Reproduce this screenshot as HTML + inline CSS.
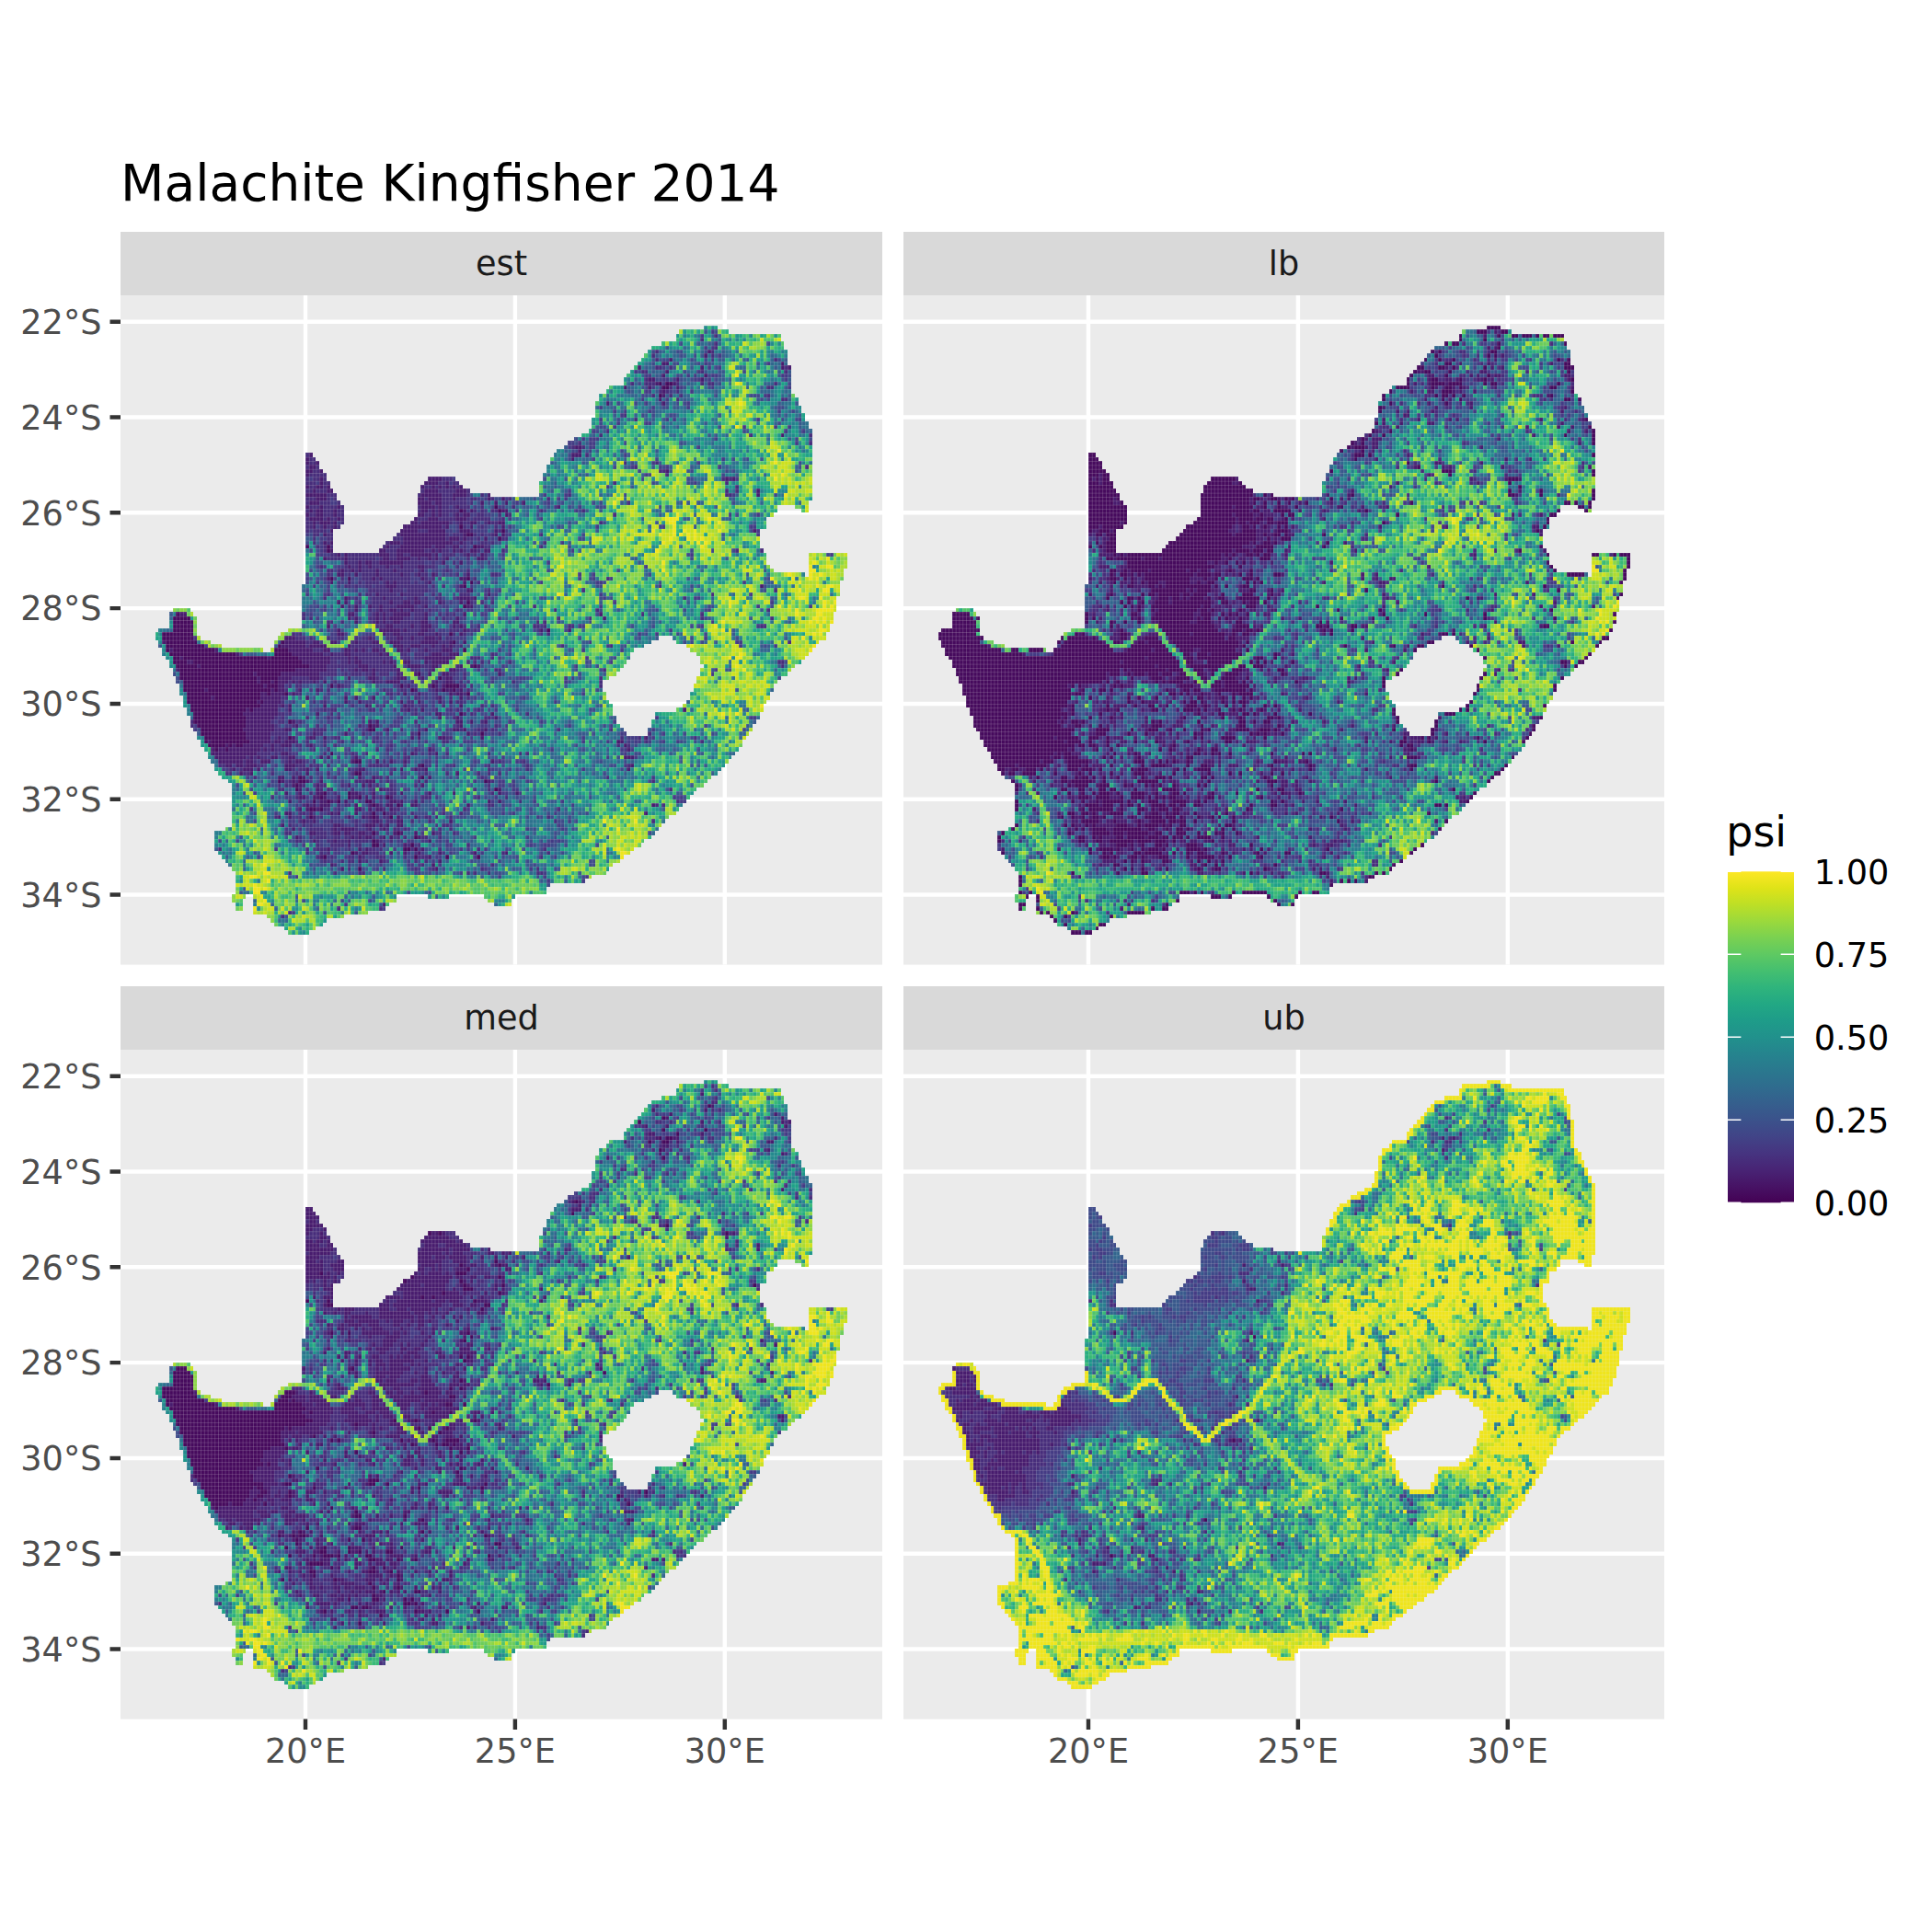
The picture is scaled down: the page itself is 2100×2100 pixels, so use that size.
<!DOCTYPE html><html><head><meta charset="utf-8"><title>Malachite Kingfisher 2014</title><style>html,body{margin:0;padding:0;background:#fff}svg{display:block}</style></head><body><svg width="2100" height="2100" viewBox="0 0 2100 2100" font-family="DejaVu Sans, Liberation Sans, sans-serif"><rect width="2100" height="2100" fill="#fff"/><defs><clipPath id="mk"><path d="M162 7h4v1h-4zM155 8h14v1h-14zM154 9h30v1h-30zM154 10h30v1h-30zM150 11h35v1h-35zM147 12h38v1h-38zM146 13h40v1h-40zM145 14h41v1h-41zM144 15h42v1h-42zM143 16h43v1h-43zM142 17h45v1h-45zM141 18h46v1h-46zM140 19h47v1h-47zM139 20h48v1h-48zM139 21h48v1h-48zM135 22h52v1h-52zM134 23h53v1h-53zM132 24h56v1h-56zM132 25h57v1h-57zM131 26h58v1h-58zM131 27h59v1h-59zM131 28h59v1h-59zM131 29h60v1h-60zM130 30h61v1h-61zM130 31h62v1h-62zM130 32h62v1h-62zM129 33h64v1h-64zM127 34h66v1h-66zM125 35h68v1h-68zM123 36h70v1h-70zM122 37h71v1h-71zM120 38h73v1h-73zM48 39h2v1h-2zM119 39h74v1h-74zM48 40h3v1h-3zM118 40h75v1h-75zM48 41h4v1h-4zM118 41h75v1h-75zM48 42h4v1h-4zM117 42h76v1h-76zM48 43h5v1h-5zM117 43h76v1h-76zM48 44h6v1h-6zM116 44h77v1h-77zM48 45h6v1h-6zM83 45h8v1h-8zM116 45h77v1h-77zM48 46h7v1h-7zM82 46h10v1h-10zM115 46h78v1h-78zM48 47h7v1h-7zM81 47h12v1h-12zM115 47h78v1h-78zM48 48h8v1h-8zM81 48h14v1h-14zM115 48h78v1h-78zM48 49h9v1h-9zM80 49h21v1h-21zM115 49h78v1h-78zM48 50h9v1h-9zM80 50h113v1h-113zM48 51h10v1h-10zM80 51h112v1h-112zM48 52h11v1h-11zM80 52h103v1h-103zM188 52h4v1h-4zM48 53h11v1h-11zM80 53h103v1h-103zM190 53h2v1h-2zM48 54h11v1h-11zM80 54h102v1h-102zM48 55h11v1h-11zM79 55h101v1h-101zM48 56h11v1h-11zM78 56h102v1h-102zM48 57h10v1h-10zM76 57h104v1h-104zM48 58h8v1h-8zM75 58h103v1h-103zM48 59h8v1h-8zM74 59h104v1h-104zM48 60h8v1h-8zM73 60h105v1h-105zM48 61h8v1h-8zM71 61h107v1h-107zM48 62h8v1h-8zM70 62h108v1h-108zM48 63h8v1h-8zM69 63h110v1h-110zM48 64h132v1h-132zM192 64h11v1h-11zM48 65h132v1h-132zM192 65h11v1h-11zM48 66h132v1h-132zM192 66h11v1h-11zM48 67h133v1h-133zM192 67h11v1h-11zM48 68h134v1h-134zM192 68h10v1h-10zM48 69h143v1h-143zM192 69h10v1h-10zM48 70h154v1h-154zM48 71h153v1h-153zM47 72h154v1h-154zM47 73h154v1h-154zM47 74h154v1h-154zM47 75h153v1h-153zM47 76h153v1h-153zM47 77h153v1h-153zM10 78h5v1h-5zM47 78h153v1h-153zM9 79h7v1h-7zM47 79h152v1h-152zM9 80h8v1h-8zM47 80h152v1h-152zM9 81h8v1h-8zM47 81h152v1h-152zM9 82h8v1h-8zM47 82h151v1h-151zM6 83h11v1h-11zM43 83h155v1h-155zM5 84h12v1h-12zM41 84h156v1h-156zM5 85h13v1h-13zM40 85h109v1h-109zM153 85h44v1h-44zM6 86h15v1h-15zM39 86h108v1h-108zM154 86h41v1h-41zM6 87h18v1h-18zM39 87h106v1h-106zM157 87h37v1h-37zM7 88h29v1h-29zM38 88h104v1h-104zM158 88h35v1h-35zM7 89h134v1h-134zM160 89h32v1h-32zM8 90h133v1h-133zM161 90h30v1h-30zM9 91h131v1h-131zM161 91h29v1h-29zM9 92h130v1h-130zM162 92h26v1h-26zM10 93h128v1h-128zM161 93h26v1h-26zM10 94h127v1h-127zM161 94h25v1h-25zM11 95h124v1h-124zM160 95h24v1h-24zM11 96h122v1h-122zM160 96h23v1h-23zM12 97h121v1h-121zM159 97h23v1h-23zM12 98h121v1h-121zM159 98h23v1h-23zM12 99h122v1h-122zM158 99h23v1h-23zM13 100h121v1h-121zM158 100h23v1h-23zM13 101h122v1h-122zM157 101h23v1h-23zM13 102h123v1h-123zM156 102h23v1h-23zM14 103h122v1h-122zM154 103h25v1h-25zM14 104h122v1h-122zM148 104h30v1h-30zM15 105h122v1h-122zM148 105h30v1h-30zM15 106h122v1h-122zM147 106h30v1h-30zM15 107h123v1h-123zM147 107h29v1h-29zM16 108h123v1h-123zM146 108h30v1h-30zM17 109h123v1h-123zM146 109h29v1h-29zM17 110h157v1h-157zM18 111h155v1h-155zM18 112h155v1h-155zM19 113h153v1h-153zM20 114h151v1h-151zM20 115h150v1h-150zM21 116h148v1h-148zM22 117h146v1h-146zM22 118h145v1h-145zM23 119h143v1h-143zM24 120h140v1h-140zM26 121h137v1h-137zM27 122h135v1h-135zM27 123h133v1h-133zM27 124h132v1h-132zM27 125h131v1h-131zM27 126h130v1h-130zM27 127h129v1h-129zM27 128h128v1h-128zM27 129h127v1h-127zM27 130h125v1h-125zM27 131h124v1h-124zM27 132h123v1h-123zM25 133h124v1h-124zM22 134h126v1h-126zM22 135h125v1h-125zM22 136h123v1h-123zM22 137h122v1h-122zM22 138h120v1h-120zM23 139h118v1h-118zM24 140h115v1h-115zM25 141h113v1h-113zM26 142h110v1h-110zM27 143h108v1h-108zM28 144h106v1h-106zM28 145h102v1h-102zM28 146h100v1h-100zM28 147h90v1h-90zM28 148h89v1h-89zM28 149h89v1h-89zM27 150h4v1h-4zM33 150h41v1h-41zM83 150h6v1h-6zM99 150h9v1h-9zM27 151h3v1h-3zM33 151h41v1h-41zM100 151h7v1h-7zM28 152h2v1h-2zM33 152h39v1h-39zM102 152h5v1h-5zM28 153h2v1h-2zM33 153h38v1h-38zM33 154h33v1h-33zM37 155h22v1h-22zM38 156h16v1h-16zM39 157h14v1h-14zM42 158h9v1h-9zM43 159h6v1h-6z"/></clipPath><pattern id="gr" width="1" height="1" patternUnits="userSpaceOnUse"><path d="M0 0H1M0 0V1" stroke="#ebebeb" stroke-width="0.2" stroke-opacity="0.4" fill="none"/></pattern></defs><text x="131" y="218.3" font-size="55" fill="#000">Malachite Kingfisher 2014</text><rect x="131.0" y="252.0" width="828.0" height="69.0" fill="#d9d9d9"/><text x="545.0" y="298.6" font-size="36.67" fill="#1a1a1a" text-anchor="middle">est</text><rect x="131.0" y="321.0" width="828.0" height="727.6" fill="#ebebeb"/><path d="M131.0 349.7h828.0M131.0 453.5h828.0M131.0 557.3h828.0M131.0 661.1h828.0M131.0 764.9h828.0M131.0 868.7h828.0M131.0 972.5h828.0M332.0 321.0v727.6M559.9 321.0v727.6M787.8 321.0v727.6" stroke="#fff" stroke-width="4.45" fill="none"/><g transform="translate(149.68,323.75) scale(3.7983,4.3250)"><g transform="translate(0,0.5)" stroke-width="1" fill="none" shape-rendering="crispEdges"><path stroke="#460a5d" d="M149 21h1m1 0h2m-3 1h2m-3 2h1m-48 28h1m-11 1h1m10 0h1m-12 4h1m11 1h1m-11 1h2m7 1h1m-56 2h1m5 0h1m41 0h1m-43 1h1m0 7h1m4 0h1m33 0h1m0 1h1m-3 1h1m0 4h1m-2 1h1m-83 2h1m-2 1h5m-5 1h6m-6 1h6m-6 1h6m101 0h1m-111 1h9m73 0h1m-83 1h9m-8 1h9m24 0h1m48 0h1m-83 1h11m21 0h1m-33 1h1m1 0h12m17 0h4m50 0h1m-85 1h19m11 0h5m-34 1h2m1 0h24m1 0h8m-36 1h4m2 0h31m-36 1h6m1 0h31m47 0h1m-85 1h33m-33 1h21m1 0h7m39 0h1m-69 1h22m1 0h5m46 0h1m-74 1h21m1 0h3m1 0h1m-27 1h23m1 0h3m15 0h1m19 0h1m8 0h1m3 0h4m-79 1h6m1 0h18m1 0h1m38 0h1m8 0h1m2 0h1m-77 1h21m2 0h1m4 0h1m51 0h1m-81 1h7m1 0h13m-21 1h20m1 0h1m-21 1h20m-20 1h16m1 0h1m-17 1h14m62 0h1m-77 1h15m-15 1h15m12 0h1m-27 1h14m35 0h1m-49 1h12m36 0h2m-50 1h13m49 0h1m17 0h1m-80 1h12m12 0h1m-25 1h1m1 0h11m-12 1h5m1 0h1m1 0h2m-8 1h1m2 0h1m29 1h1m6 2h2m17 1h1m-20 2h2m-18 1h1m34 0h1m-42 1h1m5 0h2m51 0h1m-55 1h1m-1 1h1m56 0h1m-50 1h1m6 0h1m-9 1h1m7 0h1m2 0h1m7 0h1m-22 1h1m3 0h1m2 0h1m7 0h2m0 1h1m6 0h1m-26 1h2m1 0h1m14 1h1m2 0h1m-22 1h1m17 0h1m4 0h1m-6 4h1m6 0h1m4 1h1m-13 1h1m-1 1h2m9 0h1m-3 1h2m1 0h1m-19 1h1m-9 1h1m25 0h1m8 0h1m8 0h1m-35 3h1"/><path stroke="#481c6e" d="M163 13h1m-2 1h1m-11 1h1m-3 1h2m32 0h1m-42 1h1m17 0h1m22 0h1m1 0h1m-36 1h1m-2 1h1m11 0h1m-17 1h2m6 0h1m6 0h1m-14 1h1m4 0h1m-15 1h1m6 0h1m7 0h1m-5 1h1m-1 1h1m-2 1h1m-16 1h1m15 0h1m33 8h1m-60 3h2m-1 1h1m-78 1h1m74 0h3m-79 1h1m75 0h1m-77 1h1m2 0h1m-3 1h2m-3 1h2m2 0h1m98 0h1m-104 1h1m3 1h1m30 0h4m81 0h1m1 0h1m-119 1h1m29 0h4m2 0h1m-41 1h1m2 0h2m1 0h1m26 0h1m2 0h1m1 0h1m1 0h1m1 0h1m1 0h1m-43 1h1m3 0h2m26 0h4m5 0h3m83 0h1m-130 1h6m27 0h6m3 0h4m6 0h1m76 0h1m-127 1h3m26 0h2m1 0h4m3 0h1m9 0h1m3 0h1m-56 1h3m28 0h4m1 0h2m11 0h1m3 0h1m2 0h1m4 0h1m-63 1h1m3 0h1m4 0h1m23 0h4m1 0h1m4 0h1m28 0h1m-72 1h1m1 0h2m3 0h1m24 0h2m1 0h1m1 0h1m6 0h1m1 0h1m8 0h2m-58 1h1m2 0h2m3 0h1m23 0h2m2 0h1m1 0h1m4 0h1m1 0h2m10 0h1m-57 1h4m1 0h1m2 0h1m21 0h1m3 0h3m5 0h3m-44 1h1m1 0h3m1 0h1m21 0h2m1 0h8m3 0h1m2 0h2m3 0h1m2 0h2m-55 1h1m2 0h1m2 0h1m19 0h11m1 0h1m6 0h1m8 0h1m-50 1h1m19 0h5m3 0h5m4 0h3m7 0h1m73 0h1m-124 1h1m21 0h13m5 0h1m8 0h1m1 0h1m-29 1h12m1 0h3m1 0h1m5 0h1m-47 1h1m1 0h1m16 0h3m1 0h14m2 0h1m-22 1h1m3 0h9m1 0h3m2 0h2m5 0h2m-44 1h1m13 0h2m3 0h8m2 0h1m1 0h1m3 0h1m1 0h1m2 0h2m2 0h2m-44 1h1m1 0h1m9 0h3m2 0h2m2 0h6m1 0h1m8 0h1m3 0h1m-46 1h1m5 0h1m10 0h2m2 0h4m2 0h1m2 0h1m1 0h1m2 0h1m8 0h2m-40 1h1m3 0h1m1 0h2m2 0h7m11 0h1m4 0h1m-33 1h1m2 0h1m2 0h1m4 0h1m3 0h1m4 0h2m-24 1h1m2 0h1m1 0h1m4 0h1m4 0h1m7 0h1m-25 1h2m3 0h1m5 0h1m6 0h1m4 0h1m3 0h1m9 0h1m-41 1h1m12 0h1m1 0h1m11 0h1m10 0h2m-39 1h1m4 0h1m10 0h1m1 0h1m9 0h1m9 0h1m-23 1h3m18 0h1m85 0h1m-107 1h1m21 0h2m-28 1h1m6 0h1m24 0h1m-42 1h1m10 0h1m8 0h1m12 0h3m1 0h1m-40 1h1m1 0h1m12 0h1m3 0h2m1 0h2m5 0h1m5 0h1m-35 1h1m3 0h1m3 0h1m2 0h1m4 0h5m3 0h1m11 0h2m-34 1h1m6 0h1m2 0h2m1 0h1m2 0h1m-67 1h2m46 0h2m6 0h1m1 0h1m2 0h5m4 0h1m10 0h1m38 0h1m-73 1h1m1 0h1m5 0h1m1 0h1m1 0h4m6 0h1m8 0h1m41 0h1m-72 1h1m5 0h1m1 0h1m2 0h2m6 0h2m7 0h2m-38 1h1m16 0h2m5 0h1m2 0h3m6 0h1m1 0h1m-36 1h1m11 0h6m1 0h1m4 0h2m10 0h1m21 0h1m7 0h1m-67 1h2m11 0h1m2 0h2m5 0h2m3 0h1m6 0h1m-51 1h3m21 0h1m7 0h2m2 0h1m3 0h3m1 0h1m-80 1h1m34 0h6m2 0h2m3 0h2m5 0h1m4 0h2m3 0h3m6 0h5m3 0h1m3 0h1m-53 1h7m1 0h5m6 0h1m12 0h3m2 0h3m3 0h1m2 0h1m1 0h1m-81 1h1m12 0h1m20 0h7m3 0h2m4 0h2m1 0h1m1 0h1m2 0h2m1 0h1m3 0h2m1 0h1m4 0h1m4 0h3m-62 1h1m15 0h9m2 0h1m3 0h2m8 0h1m1 0h1m12 0h3m2 0h3m-80 1h1m24 0h1m8 0h9m5 0h1m1 0h1m19 0h8m-76 1h2m31 0h8m5 0h1m1 0h2m6 0h1m1 0h1m3 0h2m4 0h1m1 0h5m-72 1h1m31 0h5m9 0h3m7 0h1m3 0h4m3 0h2m6 0h1m2 0h1m1 0h1m-87 1h1m33 0h9m8 0h1m1 0h2m1 0h1m6 0h1m9 0h1m4 0h2m-58 1h1m7 0h11m15 0h1m6 0h1m4 0h1m3 0h1m3 0h2m14 0h1m-70 1h1m5 0h4m5 0h3m8 0h1m5 0h2m6 0h3m4 0h1m6 0h2m-56 1h1m3 0h1m1 0h3m1 0h1m1 0h1m3 0h1m2 0h1m13 0h1m3 0h4m10 0h1m2 0h2m-54 1h1m3 0h2m15 0h1m19 0h1m7 0h1m1 0h1m-69 1h1m18 0h1m1 0h2m4 0h1m4 0h1m27 0h1m5 0h1m2 0h2m2 0h1m-58 1h2m1 0h4m2 0h1m31 0h1m3 0h1m8 0h1m1 0h2m-72 1h1m13 0h6m7 0h1m10 0h1m2 0h1m4 0h1m18 0h1m5 0h1m-59 1h1m1 0h5m18 0h1m3 0h1m11 0h1m4 0h1m5 0h1m2 0h1m-55 1h5m1 0h1m1 0h1m9 0h1m11 0h1m10 0h1m15 0h1m-62 1h1m1 0h7m3 0h1m33 0h1m3 0h1m74 0h1m-127 1h10m11 0h1m33 0h2m14 0h1m-71 1h8m47 0h1m4 0h1m10 0h1m-72 1h7m6 0h1m21 0h1m1 0h1m22 0h2m2 0h1m3 0h1m-69 1h8m6 0h1m21 0h2m23 0h1m-63 1h9m3 0h2m27 0h1m10 0h1m7 0h2m1 0h1m5 0h1m-69 1h7m12 0h1m8 0h1m34 0h1m-64 1h7m2 0h1m3 0h1m4 0h2m2 0h1m24 0h1m1 0h1m5 0h2m10 0h1m46 0h1m-126 1h1m11 0h6m1 0h2m1 0h3m92 0h2m-114 1h1m1 0h1m2 0h6m2 0h1m2 0h3m5 0h1m89 0h1m-119 1h1m1 0h2m1 0h9m1 0h1m1 0h1m44 0h1m56 0h1m-120 1h13m7 0h2m35 0h1m6 0h1m-64 1h9m1 0h1m1 0h1m3 0h2m3 0h2m7 0h1m1 0h1m7 0h1m76 0h3m-119 1h7m1 0h2m2 0h3m5 0h1m1 0h2m14 0h1m6 0h1m3 0h1m3 0h1m24 0h1m-77 1h2m1 0h2m1 0h3m8 0h3m35 0h1m60 0h1m-115 1h1m2 0h3m1 0h1m7 0h2m4 0h1m2 0h1m11 0h2m10 0h1m3 0h1m2 0h1m57 0h1m-112 1h1m2 0h1m15 0h1m42 0h1m-52 1h2m2 0h1m2 0h1m15 0h1m3 0h1m15 0h1m-43 1h1m2 0h1m3 0h1m3 0h1m12 0h3m32 0h1m-57 1h1m1 0h1m4 0h1m8 0h1m3 0h1m1 0h1m14 0h1m-36 1h1m4 0h1m17 0h1m33 0h1m-62 1h1m3 0h1m4 0h2m8 0h2m4 0h1m7 0h1m7 0h1m6 0h1m12 0h1m4 0h1m-63 1h2m2 0h2m1 0h1m3 0h1m3 0h2m2 0h1m1 0h1m4 0h1m-30 1h1m8 0h2m1 0h1m3 0h1m12 0h2m1 0h1m3 0h1m20 0h1m2 0h1m-56 1h1m1 0h1m1 0h3m7 0h1m3 0h1m1 0h1m2 0h2m2 0h1m2 0h2m14 0h1m52 0h1m-102 1h1m1 0h1m2 0h1m10 0h2m2 0h1m1 0h2m2 0h1m-31 1h2m5 0h1m5 0h1m1 0h1m4 0h1m82 0h1m-106 1h1m2 0h1m6 0h1m9 0h1m3 0h1m1 0h1m1 0h1m5 0h1m4 0h1m-33 1h1m2 0h1m16 0h2m5 0h2m13 0h1m-49 1h1m14 0h2m7 0h3m1 0h1m1 0h1m2 0h2m-32 1h1m11 0h1m1 0h4m4 0h1m3 0h1m-22 1h2m5 0h2m1 0h2m2 0h2m8 0h1m1 0h1m3 0h1m4 0h1m-40 1h1m15 0h1m1 0h1m1 0h2m3 0h1m1 0h1m7 0h1m-31 1h1m5 0h1m3 0h1m7 0h1m14 0h1m-24 1h1m9 0h1m5 0h1m-23 1h1m8 0h1m1 0h1m15 0h1m-20 1h1m1 0h2m6 0h1m3 0h1m3 0h1m5 0h1m9 0h1m8 0h1m-54 1h1m10 0h1m19 0h1m-21 1h1m5 0h1m16 0h1m-32 1h1m28 0h1m-27 1h1m26 0h1m-16 9h1"/><path stroke="#472d7b" d="M165 9h1m-5 1h1m3 1h1m-1 1h1m-18 1h1m15 0h1m-18 1h1m16 0h1m-17 1h1m33 0h1m-35 2h2m2 0h1m32 0h1m-42 1h2m15 0h1m23 0h1m-41 2h1m-5 1h1m3 0h3m6 0h1m6 0h1m1 0h2m17 0h1m-31 1h1m27 0h2m-33 1h1m1 0h1m2 0h1m-8 1h1m4 0h1m2 0h1m24 0h1m-27 1h1m29 0h2m-47 4h1m2 1h1m-9 3h1m-3 1h1m42 0h1m16 0h1m-67 2h1m65 0h1m-69 1h1m2 0h1m-80 2h1m79 0h1m-80 1h2m-2 1h2m88 0h1m8 0h1m-101 1h1m2 0h1m90 0h1m48 0h1m-142 1h2m97 0h2m-102 1h5m97 0h1m-104 1h1m1 0h2m1 0h1m33 0h3m77 0h1m1 0h1m-122 1h3m2 0h2m31 0h2m2 0h2m44 0h1m31 0h1m-120 1h2m2 0h1m28 0h2m1 0h1m1 0h1m1 0h1m1 0h1m79 0h1m-124 1h2m1 0h3m27 0h1m4 0h5m3 0h1m73 0h1m2 0h1m-118 1h3m23 0h1m6 0h3m4 0h1m3 0h1m24 0h1m44 0h2m-122 1h3m3 0h1m1 0h1m25 0h1m4 0h3m1 0h3m1 0h2m4 0h1m4 0h1m10 0h1m-70 1h1m3 0h3m2 0h1m26 0h1m2 0h7m1 0h1m44 0h1m-92 1h3m1 0h4m1 0h1m21 0h1m4 0h1m1 0h2m1 0h1m1 0h3m3 0h1m8 0h1m-60 1h1m1 0h1m2 0h3m1 0h2m21 0h1m2 0h1m1 0h1m1 0h5m4 0h1m1 0h1m2 0h2m12 0h1m11 0h1m-79 1h2m2 0h3m1 0h2m23 0h2m1 0h1m1 0h2m1 0h1m1 0h1m4 0h2m4 0h1m2 0h1m29 0h1m-89 1h1m4 0h1m1 0h2m1 0h1m21 0h3m3 0h5m3 0h1m1 0h5m3 0h1m-57 1h2m1 0h1m3 0h1m2 0h1m21 0h1m8 0h1m1 0h1m1 0h2m4 0h1m1 0h2m29 0h1m-85 1h2m2 0h1m1 0h2m1 0h1m29 0h1m5 0h1m4 0h1m3 0h1m-55 1h1m1 0h4m26 0h3m12 0h1m7 0h1m-54 1h2m2 0h2m18 0h1m13 0h1m1 0h3m3 0h1m1 0h1m2 0h1m13 0h1m-66 1h1m3 0h2m17 0h3m12 0h1m3 0h1m1 0h2m1 0h1m6 0h2m-56 1h1m3 0h1m16 0h1m3 0h1m14 0h2m1 0h1m1 0h1m2 0h2m1 0h1m14 0h1m-66 1h1m1 0h1m1 0h1m14 0h1m1 0h3m9 0h1m3 0h2m3 0h1m5 0h2m14 0h1m-63 1h1m17 0h3m8 0h2m1 0h1m1 0h2m2 0h1m1 0h1m3 0h1m6 0h1m66 0h1m6 0h1m-124 1h2m3 0h9m3 0h2m2 0h2m6 0h1m2 0h4m2 0h1m2 0h1m2 0h1m-46 1h5m1 0h8m1 0h1m2 0h2m4 0h2m1 0h2m1 0h1m2 0h1m6 0h1m4 0h1m-40 1h3m1 0h1m2 0h2m7 0h6m2 0h1m5 0h1m-39 1h1m6 0h1m1 0h2m1 0h2m1 0h4m1 0h3m1 0h4m2 0h3m6 0h1m-38 1h2m1 0h1m1 0h2m1 0h1m1 0h4m1 0h4m1 0h5m1 0h1m7 0h1m5 0h1m-41 1h1m5 0h1m3 0h4m1 0h6m1 0h2m1 0h1m1 0h2m2 0h1m5 0h1m9 0h2m-45 1h1m5 0h3m1 0h1m1 0h8m4 0h1m1 0h1m11 0h1m37 0h1m-72 1h1m1 0h4m1 0h1m1 0h1m1 0h4m1 0h1m2 0h1m14 0h1m-39 1h2m1 0h1m2 0h2m1 0h3m3 0h9m1 0h1m2 0h1m61 0h1m-84 1h6m1 0h3m1 0h6m17 0h1m26 0h1m54 0h1m-129 1h1m8 0h1m1 0h2m2 0h5m2 0h6m2 0h1m1 0h1m5 0h3m69 0h1m-112 1h1m6 0h1m1 0h1m4 0h3m1 0h5m1 0h2m1 0h1m1 0h1m2 0h2m4 0h1m3 0h1m3 0h1m56 0h1m-94 1h1m3 0h5m1 0h3m2 0h1m2 0h2m4 0h1m7 0h1m2 0h1m2 0h1m-42 1h1m6 0h2m1 0h4m5 0h1m1 0h1m17 0h1m13 0h1m-48 1h1m1 0h1m1 0h2m2 0h1m1 0h2m1 0h3m1 0h1m7 0h1m27 0h1m11 0h1m48 0h1m-134 1h1m19 0h1m1 0h1m1 0h2m6 0h3m4 0h1m1 0h1m1 0h1m53 0h1m16 0h1m-115 1h1m1 0h1m16 0h2m1 0h1m1 0h1m4 0h2m1 0h3m3 0h1m1 0h1m32 0h1m8 0h1m31 0h1m19 0h1m-128 1h2m2 0h1m8 0h1m1 0h1m1 0h2m2 0h6m33 0h1m1 0h1m-49 1h3m2 0h5m1 0h2m10 0h1m1 0h1m3 0h1m15 0h2m1 0h1m6 0h2m53 0h2m-105 1h1m1 0h4m2 0h2m4 0h3m2 0h1m1 0h1m-53 1h1m1 0h1m24 0h2m2 0h5m2 0h3m1 0h1m3 0h1m2 0h1m23 0h1m-102 1h1m28 0h3m1 0h1m4 0h1m2 0h2m3 0h1m1 0h2m1 0h1m3 0h3m2 0h2m1 0h3m3 0h1m2 0h2m-42 1h2m11 0h1m1 0h4m8 0h6m5 0h3m97 0h1m-139 1h1m12 0h9m6 0h2m3 0h3m1 0h2m1 0h1m1 0h1m1 0h1m28 0h1m13 0h1m-86 1h3m8 0h1m1 0h1m1 0h1m3 0h1m6 0h1m3 0h2m1 0h4m-34 1h2m1 0h3m2 0h8m1 0h1m4 0h2m2 0h3m1 0h1m3 0h2m12 0h1m-47 1h5m1 0h1m1 0h10m3 0h2m1 0h3m8 0h1m4 0h3m3 0h1m-47 1h2m1 0h2m1 0h1m2 0h6m1 0h1m1 0h1m9 0h1m10 0h1m1 0h1m1 0h1m7 0h1m76 0h2m-131 1h9m3 0h7m8 0h3m7 0h1m92 0h1m-131 1h3m1 0h1m1 0h2m1 0h1m2 0h1m1 0h6m4 0h3m2 0h1m7 0h1m10 0h2m29 0h1m-82 1h5m2 0h1m1 0h3m1 0h2m2 0h3m3 0h1m13 0h2m2 0h1m-50 1h5m3 0h1m15 0h1m4 0h1m6 0h1m6 0h1m5 0h1m38 0h1m-90 1h1m1 0h1m1 0h3m1 0h1m4 0h1m11 0h2m8 0h1m5 0h1m2 0h1m2 0h1m1 0h1m14 0h1m24 0h1m-90 1h1m1 0h2m11 0h1m15 0h1m1 0h1m6 0h1m8 0h2m1 0h1m36 0h1m-91 1h1m9 0h1m1 0h1m15 0h1m4 0h2m7 0h1m1 0h1m4 0h1m2 0h1m-50 1h2m24 0h2m1 0h1m10 0h1m4 0h1m2 0h1m-53 1h2m36 0h2m4 0h1m3 0h1m4 0h1m-54 1h1m8 0h1m2 0h1m23 0h2m12 0h2m-53 1h1m20 0h1m4 0h1m3 0h1m6 0h2m2 0h1m5 0h1m10 0h1m2 0h1m-49 1h1m1 0h2m9 0h2m7 0h2m2 0h1m5 0h1m3 0h1m1 0h1m5 0h1m-58 1h2m1 0h1m11 0h1m23 0h1m13 0h1m1 0h1m15 0h1m-73 1h1m1 0h1m6 0h1m5 0h1m2 0h1m17 0h1m14 0h1m8 0h2m-86 1h1m22 0h1m1 0h2m4 0h1m32 0h1m18 0h1m-84 1h1m23 0h1m4 0h1m6 0h1m11 0h1m16 0h1m10 0h1m10 0h1m-64 1h3m8 0h4m6 0h1m4 0h1m9 0h1m4 0h1m11 0h1m4 0h2m2 0h1m18 0h1m14 0h1m-98 1h5m8 0h2m11 0h1m13 0h1m17 0h1m6 0h1m42 0h1m-108 1h1m1 0h2m5 0h1m7 0h2m10 0h1m19 0h2m48 0h1m4 0h1m15 0h1m-122 1h1m2 0h1m3 0h1m2 0h1m4 0h1m4 0h1m2 0h1m5 0h1m8 0h1m10 0h2m56 0h1m15 0h1m-126 1h2m1 0h2m4 0h2m1 0h1m4 0h1m2 0h1m15 0h1m64 0h1m2 0h1m-106 1h1m1 0h1m1 0h3m1 0h1m6 0h1m3 0h1m13 0h1m2 0h1m7 0h1m4 0h1m-51 1h4m1 0h1m3 0h1m9 0h1m7 0h1m3 0h1m10 0h1m2 0h1m3 0h1m4 0h1m11 0h1m8 0h1m1 0h1m-81 1h1m1 0h1m1 0h2m4 0h2m33 0h2m-48 1h1m2 0h1m8 0h1m1 0h1m2 0h1m2 0h1m19 0h1m32 0h1m6 0h1m-88 1h2m5 0h1m3 0h2m9 0h3m1 0h1m1 0h1m2 0h1m8 0h1m2 0h4m1 0h1m4 0h1m13 0h1m9 0h1m10 0h1m28 0h1m-115 1h1m2 0h1m14 0h1m1 0h2m12 0h1m1 0h1m10 0h1m6 0h2m18 0h1m10 0h1m-87 1h2m3 0h2m6 0h1m6 0h1m8 0h1m6 0h1m10 0h1m9 0h1m5 0h1m8 0h1m2 0h1m2 0h1m-71 1h1m15 0h1m2 0h1m3 0h1m11 0h2m1 0h1m8 0h1m17 0h1m35 0h1m-92 1h1m1 0h1m16 0h3m6 0h1m8 0h1m1 0h1m18 0h1m45 0h1m-108 1h1m1 0h1m4 0h1m4 0h2m4 0h1m9 0h1m3 0h1m6 0h1m20 0h1m-61 1h2m6 0h1m3 0h1m1 0h2m5 0h1m5 0h1m2 0h3m23 0h1m3 0h1m51 0h1m-104 1h1m6 0h1m6 0h1m8 0h2m27 0h1m-64 1h1m6 0h1m23 0h1m11 0h3m13 0h1m7 0h1m-60 1h1m9 0h1m10 0h1m6 0h1m6 0h1m27 0h1m44 0h1m-108 1h1m1 0h1m7 0h1m1 0h2m8 0h1m30 0h2m46 0h1m1 0h1m-98 1h2m2 0h1m12 0h1m2 0h2m18 0h1m26 0h1m-75 1h2m6 0h1m1 0h1m9 0h1m4 0h3m4 0h1m8 0h1m4 0h1m-54 1h1m6 0h1m1 0h1m3 0h1m12 0h1m4 0h2m10 0h2m1 0h1m3 0h1m27 0h1m-72 1h1m1 0h2m5 0h1m6 0h1m3 0h1m2 0h1m1 0h2m5 0h1m4 0h1m35 0h1m27 0h1m-105 1h1m3 0h1m1 0h1m8 0h1m3 0h1m1 0h1m22 0h2m-43 1h1m2 0h4m2 0h1m1 0h1m4 0h1m2 0h1m3 0h1m1 0h1m1 0h2m1 0h1m9 0h1m2 0h1m-48 1h2m7 0h3m1 0h1m5 0h2m2 0h2m1 0h1m17 0h1m3 0h1m-45 1h1m2 0h1m1 0h3m2 0h2m1 0h2m1 0h1m1 0h1m2 0h1m1 0h1m4 0h1m1 0h1m4 0h2m3 0h1m-42 1h2m4 0h1m2 0h2m1 0h3m2 0h4m3 0h1m2 0h1m-22 1h1m3 0h4m4 0h1m13 0h1m2 0h1m13 0h1m-72 1h1m24 0h1m2 0h3m2 0h1m3 0h1m5 0h2m1 0h1m8 0h1m7 0h1m10 0h1m18 0h1m-69 1h1m3 0h1m1 0h1m11 0h3m10 0h1m24 0h1m12 0h1m-67 1h1m3 0h1m4 0h2m2 0h1m3 0h3m5 0h1m3 0h3m32 0h1m-63 1h1m4 0h1m1 0h2m3 0h1m4 0h1m8 0h1m2 0h1m-27 1h1m24 0h1m19 0h1m-42 1h1m9 0h1m8 0h1m4 0h1m13 0h1m15 0h1m-72 1h1m12 0h1m6 0h2m29 0h1m1 0h1m3 0h1m13 0h2m-59 9h1m11 0h1m-27 1h1m-3 1h1"/><path stroke="#443b84" d="M164 8h1m-4 1h1m0 3h1m1 0h1m1 2h1m-3 1h1m-3 1h1m17 0h1m-31 1h1m12 0h1m2 0h1m-25 1h1m17 0h1m-16 1h2m10 0h1m1 0h1m4 0h2m18 0h2m-36 1h2m1 0h1m5 0h2m2 0h1m21 0h1m-36 1h1m-4 1h1m7 0h1m8 0h1m21 0h1m-42 1h2m5 0h1m5 0h1m20 1h1m-36 1h1m6 0h1m-7 1h1m11 0h1m-26 1h1m14 0h1m9 0h1m-22 1h1m2 0h1m6 0h1m36 0h1m-46 1h1m-7 1h1m18 0h1m1 0h1m23 0h1m11 0h1m-53 1h1m7 0h2m-11 1h1m36 0h1m8 0h1m3 0h1m-57 1h1m54 0h1m4 0h1m-64 2h1m1 0h3m33 0h1m-43 1h2m4 0h2m57 0h1m-66 1h1m5 0h2m29 0h1m-32 1h1m9 1h1m-10 1h1m36 0h1m-21 1h1m12 0h1m-20 1h1m7 0h1m1 0h1m14 0h1m-22 2h1m-97 1h1m40 0h1m80 0h1m-121 1h1m37 0h1m69 0h1m-26 1h1m-12 1h1m-8 1h1m5 0h1m47 0h1m-116 1h1m38 0h1m2 0h1m1 0h1m5 0h1m14 0h1m1 0h1m-68 1h2m37 0h1m13 0h1m8 0h1m-29 1h1m6 0h1m6 0h2m14 0h1m6 0h1m-33 1h1m4 0h1m8 0h1m16 0h1m-37 1h1m5 0h2m2 0h2m68 0h1m7 0h1m-83 1h1m7 0h1m2 0h1m8 0h1m-59 1h1m32 0h1m6 0h1m-47 1h1m39 0h1m2 0h1m2 0h1m1 0h1m6 0h1m24 0h1m18 0h1m24 0h2m-128 1h1m4 0h1m33 0h2m1 0h1m4 0h4m5 0h1m71 0h1m-130 1h1m40 0h1m7 0h1m1 0h2m4 0h2m70 0h1m-126 1h2m42 0h1m4 0h1m-50 1h1m41 0h1m2 0h1m2 0h1m20 0h1m-70 1h1m39 0h1m1 0h1m10 0h1m-54 1h1m36 0h1m4 0h1m29 0h1m-74 1h4m3 0h1m33 0h1m2 0h1m8 0h1m53 0h1m39 0h1m-131 1h1m17 0h1m4 0h1m-10 1h2m1 0h2m7 0h1m5 0h1m16 0h1m-67 1h1m1 0h1m3 0h2m26 0h1m2 0h1m56 0h1m-67 1h1m2 0h1m1 0h2m1 0h1m1 0h1m-35 1h1m3 0h1m3 0h1m14 0h1m8 0h1m1 0h1m3 0h1m9 0h1m22 0h1m3 0h1m-83 1h1m4 0h1m2 0h1m4 0h1m1 0h1m14 0h3m2 0h1m2 0h1m39 0h1m3 0h1m4 0h1m-85 1h1m2 0h1m2 0h2m2 0h1m2 0h1m4 0h1m8 0h1m1 0h2m33 0h1m15 0h2m40 0h1m-124 1h1m3 0h1m2 0h1m3 0h1m1 0h2m2 0h1m23 0h1m3 0h1m-42 1h1m7 0h1m13 0h1m6 0h2m6 0h3m5 0h1m3 0h1m-56 1h1m4 0h1m13 0h1m6 0h1m24 0h1m2 0h1m29 0h1m42 0h1m-110 1h1m9 0h1m4 0h1m8 0h1m10 0h1m31 0h1m25 0h2m-99 1h1m3 0h1m16 0h1m5 0h1m3 0h1m2 0h1m39 0h1m44 0h1m-131 1h1m1 0h1m9 0h1m16 0h1m3 0h2m1 0h2m43 0h1m44 0h1m14 0h1m-140 1h1m6 0h1m6 0h1m14 0h1m1 0h2m2 0h1m3 0h1m1 0h2m4 0h2m61 0h1m-115 1h1m12 0h1m3 0h1m11 0h1m4 0h1m5 0h1m8 0h2m-49 1h1m9 0h1m16 0h1m9 0h2m2 0h2m9 0h1m4 0h1m-43 1h1m16 0h1m1 0h1m2 0h1m75 0h1m-109 1h1m27 0h2m3 0h1m5 0h1m19 0h1m10 0h2m33 0h1m15 0h1m-124 1h1m1 0h1m29 0h2m4 0h1m2 0h1m1 0h1m16 0h1m37 0h1m-108 1h1m9 0h2m2 0h1m5 0h3m19 0h2m6 0h1m19 0h1m27 0h1m4 0h1m-99 1h1m4 0h2m6 0h1m26 0h4m68 0h1m-111 1h1m4 0h1m33 0h1m37 0h1m41 0h2m-154 1h1m71 0h1m42 0h1m37 0h1m9 0h1m-125 1h1m7 0h1m11 0h2m11 0h1m11 0h1m23 0h1m10 0h1m-110 1h1m47 0h1m4 0h1m19 0h1m3 0h1m-32 1h1m27 0h1m24 0h1m-72 1h1m20 0h3m19 0h1m34 0h1m-60 1h1m9 0h1m17 0h1m20 0h1m-67 1h1m22 0h1m9 0h2m3 0h1m1 0h1m65 0h1m-108 1h1m1 0h1m3 0h1m3 0h1m4 0h1m7 0h1m9 0h1m12 0h1m59 0h1m-112 1h1m1 0h1m9 0h1m3 0h1m1 0h2m17 0h2m9 0h1m7 0h2m11 0h1m1 0h1m-70 1h1m3 0h2m2 0h2m1 0h1m3 0h1m5 0h1m9 0h1m7 0h1m6 0h1m20 0h1m-81 1h1m9 0h1m1 0h1m1 0h1m2 0h2m12 0h1m4 0h2m6 0h1m-42 1h1m3 0h1m21 0h2m1 0h1m8 0h1m-41 1h1m7 0h1m2 0h1m4 0h1m8 0h1m9 0h2m1 0h2m1 0h1m18 0h1m23 0h1m-75 1h1m18 0h1m4 0h1m4 0h1m1 0h1m11 0h1m13 0h1m-67 1h1m7 0h1m7 0h1m3 0h4m3 0h1m9 0h1m2 0h1m2 0h1m5 0h1m25 0h1m-78 1h1m12 0h3m10 0h1m11 0h1m1 0h1m1 0h1m4 0h1m-50 1h1m1 0h1m8 0h2m1 0h1m8 0h1m5 0h1m3 0h1m4 0h1m5 0h1m3 0h1m3 0h1m1 0h1m1 0h1m1 0h1m3 0h1m5 0h1m-67 1h1m14 0h1m20 0h1m4 0h1m4 0h3m5 0h1m-57 1h1m10 0h1m3 0h1m8 0h1m9 0h1m5 0h2m10 0h1m8 0h1m46 0h1m26 0h2m-138 1h1m5 0h1m8 0h2m8 0h1m2 0h1m5 0h2m31 0h1m8 0h1m20 0h1m-121 1h1m23 0h1m1 0h2m9 0h1m1 0h1m8 0h1m7 0h3m8 0h1m6 0h1m7 0h2m3 0h1m1 0h1m17 0h1m11 0h1m-120 1h1m47 0h1m5 0h1m10 0h1m6 0h2m6 0h1m5 0h1m44 0h1m-102 1h1m1 0h2m16 0h1m1 0h2m1 0h1m1 0h1m5 0h1m7 0h2m6 0h1m1 0h1m1 0h1m1 0h1m36 0h2m10 0h1m-113 1h1m16 0h1m5 0h1m5 0h1m5 0h1m21 0h1m31 0h1m12 0h3m4 0h1m-91 1h1m10 0h2m2 0h1m2 0h1m4 0h1m1 0h1m7 0h1m2 0h3m31 0h1m6 0h1m5 0h1m1 0h2m2 0h1m3 0h1m3 0h1m-105 1h1m18 0h1m1 0h1m12 0h1m-43 1h1m3 0h1m2 0h1m10 0h1m11 0h1m3 0h1m3 0h1m13 0h1m23 0h1m19 0h2m1 0h1m-104 1h1m1 0h1m3 0h2m13 0h1m2 0h1m8 0h1m2 0h1m6 0h1m2 0h1m54 0h1m-103 1h1m19 0h1m3 0h1m10 0h1m12 0h1m18 0h1m29 0h1m7 0h1m-109 1h1m6 0h1m6 0h1m6 0h1m10 0h1m6 0h1m3 0h1m4 0h2m1 0h1m10 0h1m5 0h1m1 0h1m3 0h2m-83 1h1m8 0h1m2 0h1m10 0h1m19 0h1m11 0h2m1 0h1m2 0h2m9 0h1m39 0h1m-116 1h2m2 0h1m7 0h1m1 0h1m10 0h1m11 0h1m10 0h1m5 0h1m22 0h1m4 0h1m20 0h1m-84 1h1m1 0h1m4 0h1m5 0h1m7 0h1m9 0h1m4 0h1m-50 1h1m13 0h1m8 0h1m6 0h1m2 0h1m11 0h1m22 0h1m10 0h1m36 0h1m-116 1h1m5 0h1m3 0h1m6 0h1m8 0h1m10 0h1m2 0h1m23 0h1m6 0h2m2 0h1m3 0h1m-75 1h1m5 0h1m6 0h1m8 0h1m7 0h1m5 0h1m29 0h2m2 0h1m-42 1h1m6 0h1m2 0h1m3 0h1m26 0h2m-76 1h1m11 0h1m8 0h1m9 0h1m1 0h1m4 0h1m10 0h1m21 0h2m3 0h1m-68 1h2m4 0h1m5 0h3m11 0h1m4 0h1m2 0h1m2 0h1m5 0h1m10 0h1m5 0h1m50 0h1m1 0h1m-108 1h2m1 0h1m9 0h1m1 0h1m5 0h1m1 0h1m6 0h1m22 0h1m11 0h1m7 0h1m33 0h2m-112 1h1m5 0h1m28 0h1m23 0h1m19 0h1m-93 1h1m12 0h1m10 0h1m7 0h1m2 0h1m19 0h1m6 0h1m5 0h1m-62 1h1m8 0h1m1 0h1m1 0h2m10 0h2m2 0h1m6 0h2m7 0h1m19 0h1m2 0h1m11 0h1m-76 1h2m5 0h1m3 0h3m1 0h1m1 0h1m13 0h1m4 0h1m33 0h1m-72 1h2m6 0h1m1 0h2m1 0h3m2 0h1m1 0h1m1 0h1m7 0h1m49 0h1m-80 1h2m2 0h1m1 0h6m3 0h2m2 0h1m4 0h1m1 0h1m14 0h1m3 0h1m30 0h1m-79 1h1m5 0h1m4 0h2m8 0h2m2 0h1m9 0h1m33 0h1m9 0h1m-68 1h1m3 0h1m12 0h1m9 0h1m3 0h1m5 0h1m-42 1h1m3 0h2m17 0h1m22 0h1m14 0h1m-63 1h1m2 0h1m8 0h1m4 0h1m3 0h1m3 0h2m1 0h2m2 0h2m3 0h1m1 0h1m29 0h1m1 0h1m-74 1h1m4 0h1m6 0h1m2 0h1m6 0h1m9 0h1m8 0h2m22 0h1m3 0h2m-79 1h1m10 0h1m4 0h1m1 0h1m1 0h1m4 0h1m3 0h1m4 0h1m6 0h1m11 0h1m1 0h1m4 0h1m-47 1h1m2 0h2m5 0h1m6 0h1m6 0h1m3 0h1m5 0h1m1 0h1m5 0h1m2 0h1m-45 1h1m1 0h1m2 0h1m6 0h2m17 0h2m9 0h1m22 0h1m-68 1h1m1 0h2m8 0h1m6 0h1m5 0h1m6 0h1m-25 1h1m2 0h1m5 0h1m7 0h2m1 0h1m5 0h1m-19 1h1m9 0h1m1 0h1m2 0h1m15 0h1m12 0h1m-34 1h2m11 0h1m23 0h1m-72 1h1m57 0h1m12 0h1m11 0h1m-12 1h1m9 0h1m-69 6h1m10 1h1m-27 1h1"/><path stroke="#3e4a89" d="M165 8h1m-11 3h1m24 0h1m-34 2h1m6 0h2m6 0h1m-8 1h1m3 0h1m-10 1h2m6 0h1m3 0h1m20 0h1m-37 1h1m5 0h2m5 0h1m2 0h1m-11 1h1m11 0h1m-23 1h1m12 0h1m16 0h1m-20 1h2m7 0h1m2 0h1m19 0h1m-39 1h2m5 0h1m2 0h1m3 0h1m2 0h1m-23 1h1m22 0h1m19 0h1m-42 1h1m3 0h1m6 0h1m6 0h1m-24 1h1m12 0h1m-10 1h2m19 0h1m9 0h3m0 1h1m1 0h1m-44 1h1m4 0h1m8 0h1m2 0h1m1 0h1m-7 1h2m31 0h2m-38 1h1m39 0h1m-44 1h1m2 0h1m4 0h2m-17 1h1m46 0h1m3 0h1m-57 1h1m50 0h1m-52 1h2m16 0h1m15 0h1m-36 1h1m41 0h1m-49 2h1m62 0h1m3 0h1m-68 1h1m13 0h1m15 0h1m-32 2h2m12 0h1m-16 1h1m-1 1h1m24 0h1m21 0h1m3 0h1m-34 1h1m47 0h1m-54 1h1m13 0h1m38 0h1m-47 1h1m14 0h1m9 0h1m1 0h1m-25 1h1m20 0h1m-52 1h1m27 0h1m12 0h2m-12 1h1m9 0h2m-64 3h1m3 0h1m39 0h1m42 0h1m-85 1h1m3 0h2m9 0h1m-17 1h1m2 0h1m3 0h1m2 0h1m8 0h1m4 0h1m8 0h1m1 0h1m37 0h1m-74 1h1m3 0h1m12 0h1m2 0h1m5 0h1m7 0h3m15 0h1m-53 1h1m18 0h1m9 0h1m-26 1h1m12 0h1m56 0h1m-70 1h1m66 0h1m-72 1h1m24 0h1m9 0h1m-45 1h2m9 0h1m2 0h1m16 0h1m28 0h1m-60 1h1m10 0h1m73 0h1m-127 1h1m2 0h1m74 0h1m-30 1h1m1 0h1m1 0h1m23 0h2m-80 1h1m47 0h1m5 0h2m-9 1h1m27 0h1m-75 1h1m1 0h1m46 0h1m6 0h1m52 0h1m5 0h1m5 0h1m-85 1h1m4 0h1m5 0h1m2 0h1m56 0h1m39 0h1m-147 1h1m37 0h1m2 0h2m10 0h1m53 0h1m-108 1h1m6 0h1m32 0h1m3 0h1m1 0h2m-43 1h1m37 0h1m3 0h1m-50 1h1m2 0h1m3 0h1m29 0h1m4 0h3m2 0h2m19 0h1m19 0h1m-90 1h1m3 0h1m8 0h1m21 0h1m4 0h1m1 0h1m55 0h1m-96 1h2m6 0h1m2 0h1m32 0h1m33 0h1m50 0h1m-133 1h1m4 0h1m5 0h1m2 0h1m21 0h1m11 0h1m5 0h1m30 0h1m15 0h1m-67 1h1m47 0h2m25 0h1m20 0h1m-132 1h1m11 0h2m3 0h1m19 0h1m16 0h1m76 0h1m-125 1h1m2 0h1m24 0h1m6 0h1m10 0h1m-41 1h1m1 0h1m19 0h2m2 0h1m27 0h2m15 0h1m2 0h1m-86 1h1m9 0h1m4 0h1m18 0h1m3 0h1m1 0h2m16 0h1m-60 1h2m4 0h1m5 0h1m21 0h1m2 0h1m4 0h1m4 0h1m3 0h1m5 0h1m56 0h2m16 0h1m-133 1h2m1 0h1m4 0h1m3 0h1m1 0h1m22 0h1m3 0h1m8 0h1m32 0h1m15 0h1m7 0h1m5 0h1m-115 1h1m8 0h1m26 0h1m2 0h1m3 0h2m3 0h1m34 0h1m-69 1h1m26 0h1m8 0h1m62 0h1m-113 1h1m12 0h1m20 0h1m2 0h1m4 0h1m2 0h1m3 0h1m6 0h1m13 0h1m8 0h1m-34 1h1m13 0h1m30 0h1m5 0h1m10 0h1m1 0h1m-109 1h1m2 0h1m2 0h1m29 0h1m16 0h1m4 0h1m2 0h1m2 0h1m5 0h1m-59 1h1m29 0h1m12 0h1m37 0h1m8 0h1m7 0h1m-115 1h1m10 0h1m27 0h1m13 0h1m5 0h1m18 0h1m16 0h1m14 0h1m12 0h1m-101 1h1m84 0h1m1 0h1m2 0h1m-58 1h1m1 0h1m32 0h1m39 0h1m-90 1h1m15 0h1m-29 2h1m57 0h1m-9 1h2m55 0h1m-88 1h1m6 0h1m25 0h1m-75 1h1m23 0h1m43 0h1m6 0h1m36 0h1m-160 1h1m46 0h1m14 0h1m9 0h1m3 0h1m5 0h1m6 0h1m26 0h1m-116 1h1m50 0h2m18 0h1m9 0h1m9 0h1m3 0h1m1 0h1m2 0h1m14 0h1m56 0h1m-173 1h1m40 0h1m4 0h1m7 0h1m9 0h1m1 0h1m3 0h1m9 0h1m7 0h1m8 0h2m13 0h1m-77 1h2m2 0h1m16 0h1m39 0h1m-52 1h1m11 0h1m7 0h1m15 0h1m1 0h1m35 0h1m-77 1h1m4 0h1m12 0h1m3 0h1m5 0h1m4 0h1m8 0h1m6 0h1m-55 1h1m3 0h1m11 0h1m3 0h1m4 0h1m5 0h1m1 0h1m3 0h1m5 0h1m1 0h1m2 0h1m10 0h1m-67 1h1m5 0h1m4 0h1m6 0h1m8 0h1m3 0h1m8 0h1m11 0h1m-47 1h1m1 0h1m6 0h1m1 0h1m1 0h1m6 0h1m5 0h1m3 0h1m19 0h1m2 0h1m5 0h1m-68 1h1m7 0h2m13 0h2m16 0h2m6 0h1m9 0h1m28 0h2m-77 1h1m19 0h1m1 0h1m3 0h1m1 0h1m4 0h1m10 0h2m-58 1h1m10 0h1m2 0h1m31 0h1m14 0h1m10 0h1m-73 1h1m4 0h1m4 0h1m17 0h1m4 0h1m18 0h1m7 0h2m3 0h1m-62 1h1m1 0h1m16 0h1m3 0h1m9 0h1m4 0h1m10 0h1m1 0h1m2 0h1m32 0h1m28 0h1m-146 1h1m27 0h1m2 0h2m5 0h1m6 0h1m32 0h1m4 0h1m3 0h2m67 0h1m-131 1h1m1 0h1m12 0h1m1 0h2m3 0h1m23 0h1m10 0h1m1 0h1m27 0h1m25 0h1m7 0h1m-120 1h1m5 0h1m2 0h1m10 0h1m3 0h1m1 0h1m21 0h1m52 0h1m11 0h1m-107 1h1m1 0h1m8 0h2m6 0h1m5 0h1m18 0h1m1 0h1m2 0h1m39 0h1m7 0h1m5 0h1m3 0h1m-116 1h1m7 0h1m4 0h1m7 0h1m7 0h1m3 0h1m2 0h1m11 0h1m5 0h1m26 0h1m16 0h1m-84 1h1m18 0h1m2 0h1m6 0h1m12 0h1m25 0h1m32 0h1m-101 1h1m3 0h1m8 0h1m19 0h1m44 0h1m3 0h2m-104 1h1m4 0h1m17 0h1m7 0h1m2 0h1m8 0h1m3 0h2m11 0h1m36 0h1m-100 1h1m14 0h1m3 0h1m13 0h1m2 0h2m5 0h1m15 0h1m8 0h1m4 0h1m20 0h1m6 0h1m-102 1h1m13 0h1m5 0h2m35 0h2m7 0h1m5 0h1m1 0h1m22 0h2m-104 1h1m11 0h1m11 0h1m7 0h1m21 0h1m5 0h1m1 0h1m6 0h2m4 0h1m3 0h1m25 0h1m-111 1h1m14 0h1m8 0h1m7 0h1m3 0h1m1 0h1m1 0h1m7 0h1m4 0h1m23 0h1m27 0h1m-97 1h1m13 0h1m3 0h1m4 0h1m14 0h1m13 0h1m1 0h1m5 0h1m4 0h2m5 0h1m-71 1h1m11 0h1m4 0h1m16 0h1m5 0h1m32 0h1m33 0h1m-119 1h1m9 0h2m22 0h1m2 0h1m9 0h1m23 0h1m6 0h1m-75 1h1m26 0h1m4 0h1m12 0h1m6 0h1m-55 1h1m8 0h1m15 0h1m1 0h1m21 0h1m14 0h1m5 0h1m6 0h1m-68 1h1m3 0h1m19 0h1m5 0h1m3 0h1m24 0h1m8 0h1m4 0h1m15 0h1m24 0h1m1 0h1m-97 1h1m3 0h1m11 0h1m6 0h1m9 0h1m10 0h1m-59 1h1m11 0h1m6 0h1m7 0h1m10 0h1m1 0h2m18 0h1m7 0h1m-72 1h1m14 0h1m17 0h1m3 0h1m3 0h2m18 0h1m3 0h2m2 0h1m-80 1h1m10 0h1m24 0h1m4 0h1m4 0h4m3 0h1m2 0h1m3 0h2m6 0h1m4 0h1m5 0h1m4 0h1m6 0h1m3 0h1m-60 1h1m7 0h1m3 0h1m6 0h1m2 0h3m1 0h1m15 0h1m3 0h1m2 0h1m4 0h1m-91 1h1m7 0h1m18 0h1m3 0h1m15 0h1m3 0h1m35 0h2m3 0h1m-80 1h1m14 0h1m29 0h1m29 0h1m-79 1h1m31 0h1m6 0h1m1 0h1m28 0h1m8 0h1m1 0h1m-79 1h1m1 0h1m70 0h1m26 0h1m-103 1h1m2 0h1m10 0h1m9 0h1m50 0h1m-97 1h1m4 0h1m14 0h2m2 0h1m5 0h1m17 0h1m13 0h1m4 0h1m21 0h1m2 0h1m1 0h1m1 0h1m1 0h1m-77 1h1m7 0h2m6 0h1m10 0h1m1 0h2m8 0h1m1 0h1m24 0h1m1 0h1m1 0h1m2 0h2m2 0h1m8 0h1m-74 1h1m2 0h1m20 0h1m5 0h3m14 0h1m4 0h1m4 0h1m-66 1h1m7 0h1m10 0h1m4 0h1m9 0h1m5 0h1m24 0h1m5 0h1m-88 1h1m27 0h1m2 0h1m6 0h1m4 0h2m23 0h1m1 0h1m3 0h1m-52 1h1m22 0h1m14 0h1m7 0h1m4 0h1m2 0h1m17 0h2m-82 1h1m1 0h3m12 0h1m1 0h1m29 0h1m14 0h1m15 0h2m-81 1h1m4 0h1m1 0h1m6 0h1m2 0h1m9 0h1m9 0h1m12 0h1m18 0h1m-60 1h1m22 0h1m1 0h1m16 0h2m10 1h1m12 0h1m-11 2h1m-41 2h1m5 0h1m-37 2h1m10 0h1m7 0h1"/><path stroke="#38598c" d="M162 8h1m3 2h1m-7 1h1m2 0h2m-14 1h1m-3 1h1m17 0h1m-20 1h1m7 0h1m4 0h1m3 0h1m1 0h1m-21 1h1m1 0h1m9 0h1m6 0h2m6 0h1m10 0h1m-27 1h1m4 0h1m12 0h1m-33 1h1m1 0h1m3 0h1m6 0h1m23 0h1m-36 1h1m2 0h1m11 0h1m3 0h2m15 0h1m2 0h1m-39 1h2m33 0h1m-42 1h1m9 0h1m3 0h1m9 0h2m1 0h1m14 0h1m1 0h1m-32 1h1m1 0h1m7 0h1m-26 1h1m3 0h1m8 0h1m24 0h1m6 0h1m-45 1h1m6 0h1m6 0h1m9 0h1m-20 1h1m4 0h1m34 0h1m-31 1h1m20 0h1m8 0h1m-52 1h1m13 0h1m33 0h1m4 0h1m-53 1h1m16 0h2m27 0h1m-25 1h1m-23 1h1m8 0h1m20 0h1m16 0h1m1 0h1m3 0h1m-45 1h1m1 0h1m2 0h1m5 0h1m5 1h1m26 0h1m-59 1h1m22 0h1m34 0h1m-57 1h1m40 0h1m-45 1h1m32 0h1m1 0h1m20 1h1m-59 1h1m27 0h1m-35 1h1m-1 1h1m5 0h1m2 0h1m16 0h1m-20 1h1m10 0h1m-2 1h1m33 0h1m4 0h1m-61 1h1m8 0h1m21 0h1m-11 1h2m6 0h1m4 0h1m5 0h1m9 0h1m-17 1h1m4 0h1m30 0h1m-61 1h1m42 0h1m-50 1h1m-4 1h1m28 0h1m11 0h1m-45 1h1m2 0h1m21 0h1m-24 1h1m3 0h1m48 1h1m-65 1h1m7 0h1m54 0h1m-62 1h1m10 0h1m3 0h1m13 0h1m16 0h1m1 0h1m2 0h1m-56 1h1m4 0h2m12 0h1m40 0h1m-52 1h1m13 0h1m3 0h1m19 0h1m-51 1h1m8 0h1m37 0h1m26 0h1m-76 1h1m12 0h1m29 0h1m11 0h2m-33 1h1m22 0h1m27 0h1m-81 1h1m4 0h1m5 0h1m13 0h1m1 0h1m35 0h1m-54 1h1m1 0h1m22 0h1m35 1h1m-120 1h2m1 0h1m-1 1h1m61 0h1m9 0h1m-1 2h1m-23 1h1m1 0h1m-14 1h1m5 0h1m4 0h1m10 0h1m29 0h1m25 0h1m-117 1h1m35 0h1m4 0h1m49 0h1m-58 1h2m4 0h2m6 0h2m1 0h1m-53 1h1m31 0h1m6 0h1m13 0h1m74 0h1m-127 1h1m32 0h1m9 0h1m77 0h1m-126 1h1m52 0h1m54 0h1m1 0h1m19 0h1m-89 1h1m9 0h1m28 0h1m49 0h2m-130 1h1m5 0h1m26 0h1m4 0h1m5 0h1m51 0h1m11 0h1m-108 1h1m3 0h2m5 0h1m93 0h1m19 0h1m-97 1h1m2 0h1m9 0h1m1 0h1m2 1h1m63 0h1m16 0h1m-83 1h1m10 0h1m21 0h1m24 0h1m-69 1h2m6 0h1m49 0h1m-100 1h1m6 0h1m37 0h1m2 0h2m39 0h1m8 0h2m30 0h1m-170 1h1m40 0h2m94 0h1m-99 1h1m34 0h1m2 0h1m18 0h1m7 0h2m13 0h1m18 0h1m15 0h1m11 0h1m-125 1h1m8 0h1m32 0h1m4 0h1m48 0h1m1 0h1m36 0h1m-140 1h1m11 0h2m48 0h1m12 0h1m-38 1h1m59 0h1m24 0h1m-124 1h1m15 0h1m27 0h1m14 0h1m7 0h1m29 0h1m25 0h1m-69 1h2m38 0h1m5 0h1m36 0h1m-146 1h1m51 0h1m16 0h1m17 0h2m36 0h1m-160 1h1m32 0h1m54 0h1m25 0h1m17 0h1m39 0h1m1 0h1m-125 1h2m55 0h1m9 0h2m-94 1h3m44 0h1m26 0h1m-8 1h1m5 0h1m14 0h1m15 0h1m-33 1h1m1 0h1m1 0h1m-7 1h1m5 0h1m20 0h2m53 0h1m-80 1h1m59 0h1m3 0h1m-75 1h1m3 0h1m1 0h1m32 0h1m-80 1h1m1 0h1m2 0h1m1 0h1m2 0h1m5 0h1m32 0h1m3 0h1m4 0h1m-101 1h1m45 0h1m2 0h1m31 0h1m-45 1h1m19 0h3m28 0h1m6 0h1m14 0h1m-15 1h1m18 0h1m43 0h1m-119 1h1m2 0h1m18 0h1m10 0h2m-42 1h1m14 0h1m1 0h1m9 0h1m2 0h1m30 0h1m3 0h1m7 0h1m-78 1h1m8 0h1m3 0h1m6 0h1m5 0h1m7 0h1m8 0h1m13 0h1m5 0h1m2 0h2m10 0h1m-71 1h1m12 0h2m7 0h1m10 0h1m6 0h1m16 0h1m23 0h2m-74 1h2m1 0h1m17 0h1m93 0h1m-131 1h1m2 0h1m1 0h1m2 0h1m9 0h2m5 0h1m11 0h1m27 0h1m19 0h1m-78 1h1m20 0h1m10 0h2m3 0h1m5 0h2m15 0h1m22 0h2m-86 1h1m1 0h1m3 0h1m23 0h1m14 0h1m3 0h1m15 0h1m6 0h1m52 0h1m-136 1h1m10 0h1m3 0h2m13 0h1m16 0h1m7 0h1m18 0h1m6 0h1m51 0h1m-112 1h1m8 0h1m5 0h1m7 0h1m7 0h1m14 0h1m19 0h1m8 0h1m7 0h1m-130 1h1m35 0h1m3 0h1m9 0h1m6 0h3m4 0h2m2 0h1m18 0h1m14 0h1m6 0h2m6 0h1m2 0h1m11 0h1m15 0h1m-114 1h1m17 0h1m1 0h1m6 0h1m21 0h1m37 0h1m20 0h1m1 0h1m-116 1h1m3 0h1m3 0h1m22 0h1m2 0h1m7 0h1m17 0h1m21 0h1m5 0h1m3 0h1m16 0h1m-106 1h1m16 0h1m1 0h1m10 0h1m5 0h1m6 0h2m3 0h1m4 0h1m11 0h1m24 0h1m-98 1h2m6 0h2m19 0h1m1 0h1m1 0h1m7 0h1m9 0h1m30 0h1m3 0h1m3 0h1m14 0h2m2 0h1m-102 1h1m4 0h1m12 0h1m9 0h1m1 0h1m30 0h1m17 0h1m8 0h1m8 0h1m2 0h1m8 0h1m-116 1h2m3 0h1m1 0h1m5 0h1m4 0h1m2 0h1m2 0h1m25 0h1m4 0h2m41 0h1m10 0h1m-107 1h1m15 0h1m3 0h1m9 0h1m10 0h1m4 0h1m9 0h1m8 0h1m16 0h1m9 0h1m13 0h1m-115 1h1m6 0h1m13 0h1m2 0h1m36 0h1m16 0h1m5 0h1m4 0h1m27 0h1m1 0h1m1 0h1m-126 1h1m12 0h1m4 0h1m2 0h1m7 0h1m18 0h1m2 0h2m15 0h1m3 0h1m8 0h1m-82 1h1m1 0h1m1 0h1m13 0h1m11 0h1m9 0h1m5 0h1m12 0h1m1 0h2m17 0h1m12 0h1m8 0h1m24 0h1m-133 1h1m1 0h1m3 0h2m2 0h2m4 0h1m9 0h1m7 0h1m3 0h1m7 0h1m9 0h1m11 0h1m17 0h1m14 0h1m3 0h1m-103 1h1m21 0h1m1 0h2m9 0h1m16 0h1m10 0h1m3 0h1m23 0h1m-94 1h1m23 0h1m3 0h1m7 0h1m4 0h1m1 0h1m3 0h1m10 0h1m3 0h1m12 0h1m49 0h1m-116 1h1m13 0h2m15 0h1m13 0h1m1 0h1m8 0h1m1 0h1m2 0h2m5 0h1m1 0h1m25 0h1m11 0h1m-109 1h1m6 0h1m14 0h1m2 0h1m11 0h1m3 0h1m2 0h1m18 0h1m8 0h1m8 0h1m29 0h2m-107 1h1m16 0h1m8 0h1m4 0h1m5 0h1m13 0h2m7 0h2m26 0h1m-99 1h1m4 0h2m1 0h1m10 0h1m18 0h1m4 0h1m3 0h1m2 0h1m12 0h1m15 0h2m-90 1h1m12 0h2m10 0h1m8 0h1m5 0h1m10 0h3m11 0h1m3 0h1m2 0h1m2 0h1m7 0h1m-43 1h1m3 0h1m5 0h1m1 0h1m17 0h3m12 0h1m2 0h1m2 0h1m1 0h1m25 0h1m-111 1h1m19 0h1m27 0h1m13 0h2m9 0h1m6 0h1m1 0h1m3 0h1m-85 1h1m20 0h1m12 0h1m13 0h1m5 0h2m4 0h1m17 0h1m-76 1h1m6 0h1m17 0h1m16 0h1m2 0h1m6 0h1m2 0h1m-61 1h1m31 0h2m4 0h1m2 0h1m20 0h3m-60 1h1m22 0h1m11 0h2m14 0h1m15 0h1m4 0h1m2 0h1m4 0h1m-38 1h1m24 0h1m6 0h1m1 0h1m-94 1h1m12 0h1m35 0h1m4 0h2m2 0h2m1 0h1m1 0h1m2 0h1m11 0h1m26 0h1m-87 1h1m24 0h1m5 0h1m7 0h1m7 0h1m5 0h1m20 0h1m-59 1h1m1 0h1m-45 1h1m47 0h2m11 0h1m7 0h1m14 0h1m12 0h1m-87 1h1m15 0h1m9 0h1m18 0h1m3 0h1m2 0h1m5 0h1m-67 1h1m48 0h1m9 0h1m21 0h2m10 0h1m-63 1h1m9 0h2m8 0h1m6 0h1m4 0h1m7 0h2m-48 1h1m6 0h1m3 0h2m4 0h1m2 0h1m26 0h1m1 0h1m2 0h1m1 0h1m6 0h2m-51 1h1m2 0h1m16 0h1m13 0h1m4 0h1m5 0h1m1 0h1m6 0h1m3 0h1m-71 1h1m10 0h1m19 0h2m7 0h2m12 0h1m21 0h1m-84 1h1m54 0h1m2 0h1m13 1h1m-86 2h1m-2 1h1m30 0h1m-16 1h1m21 0h1m17 0h1m-26 1h1m8 1h1m-17 2h1m8 0h1m-21 1h1"/><path stroke="#31668e" d="M164 9h1m1 0h1m-6 2h1m4 0h1m-11 1h1m-7 1h1m2 0h1m7 0h1m-13 1h1m3 0h2m8 0h1m4 0h1m12 0h1m-29 1h1m1 0h1m14 0h1m2 0h1m7 0h1m-36 1h1m11 0h1m20 0h1m1 0h1m1 0h1m1 0h1m-40 1h1m25 0h2m-26 1h2m7 0h1m6 0h1m-21 1h1m15 0h1m6 0h1m-11 1h1m-18 1h1m1 0h1m15 0h1m3 0h1m16 0h3m1 0h1m-43 1h1m6 0h1m9 0h1m15 0h1m-36 1h1m3 0h1m34 0h3m4 0h1m-52 1h1m6 0h2m13 0h2m23 0h1m2 0h1m-51 1h1m8 0h1m4 0h1m1 0h1m4 0h1m1 0h2m4 0h1m-18 1h1m1 0h1m4 0h1m23 0h1m6 0h1m-54 1h1m3 0h1m3 0h1m6 0h1m2 0h1m6 0h1m28 0h1m-48 1h1m6 0h1m2 0h2m36 0h1m1 0h1m-47 1h1m8 0h1m2 0h1m-15 1h1m11 1h1m3 0h1m8 0h1m16 0h1m7 0h1m-2 2h1m1 0h2m-40 1h1m14 0h1m-5 1h1m15 0h1m-47 1h1m29 0h1m-37 1h1m5 0h1m8 0h1m25 0h1m-47 1h1m15 0h1m-4 1h1m1 0h1m-17 1h1m2 0h1m1 0h3m7 0h1m-19 1h1m8 0h1m7 0h1m5 0h1m11 0h1m4 1h1m7 0h1m20 0h1m-20 1h1m-53 1h1m8 0h1m17 0h1m34 0h1m-21 1h1m1 0h2m-28 2h1m-21 2h1m16 0h1m1 0h1m-25 1h3m26 0h1m29 0h1m-74 1h1m2 0h1m15 0h1m2 0h1m7 0h1m27 0h1m6 0h1m16 0h1m10 0h1m-95 1h1m4 0h1m5 0h1m1 0h1m3 0h1m3 0h1m34 0h1m-41 1h1m7 0h1m1 0h1m26 0h2m1 0h1m-26 1h2m31 0h1m-52 1h1m58 0h2m-64 2h1m12 0h1m27 0h1m-47 1h1m6 0h1m7 0h1m6 0h2m-21 1h1m7 1h1m5 0h1m49 0h1m-53 1h1m13 0h1m-29 1h1m14 0h1m38 0h1m-30 1h1m-4 1h1m-24 1h1m2 0h1m11 0h1m25 0h1m-92 1h1m4 0h2m32 0h1m9 0h1m2 0h1m-53 1h1m38 0h2m6 0h1m4 0h1m57 0h1m1 0h1m-68 1h1m5 0h1m43 0h1m15 0h1m-112 1h1m44 0h1m1 0h1m31 0h1m15 0h1m34 0h1m-82 1h1m1 0h1m11 0h1m46 0h1m-76 1h1m2 0h1m39 0h2m-77 1h1m69 0h1m56 0h1m1 0h1m-136 1h1m11 0h1m3 0h1m32 0h1m1 0h1m2 0h1m-38 1h1m42 0h1m14 0h1m10 0h1m36 0h1m14 0h1m-137 1h1m2 0h1m3 0h1m1 0h1m29 0h1m13 0h1m2 0h1m12 0h1m15 0h1m47 0h1m-132 1h1m107 0h1m-112 1h1m3 0h1m6 0h1m4 0h1m36 0h1m25 0h1m27 0h1m-105 1h1m2 0h1m4 0h1m27 0h1m20 0h1m-57 1h1m6 0h1m45 0h1m3 0h1m1 0h1m68 0h1m-172 1h1m94 0h1m2 0h1m4 0h1m3 0h1m-65 1h1m33 0h1m2 0h1m7 0h1m23 0h1m24 0h1m-96 1h1m5 0h1m4 0h1m25 0h1m57 0h1m-139 1h2m97 0h1m19 0h1m-74 1h1m100 0h1m-88 1h1m1 0h1m23 0h2m15 0h1m34 0h1m9 0h1m-53 1h1m1 0h1m33 0h1m21 0h1m18 0h1m-75 1h1m14 0h1m4 0h1m-73 1h1m48 0h1m73 0h3m-145 1h1m76 0h1m8 0h1m-10 1h1m-33 1h1m17 0h1m69 0h1m-71 1h2m68 0h1m15 0h1m-90 1h1m3 0h1m9 0h1m2 0h2m9 0h1m57 0h1m-82 1h2m4 0h1m-8 1h1m3 0h2m-52 1h1m45 0h1m1 0h1m2 0h1m4 0h1m13 0h1m-81 1h1m27 0h1m24 0h1m5 0h1m2 0h1m4 0h1m-59 1h1m1 0h1m2 0h1m1 0h1m2 0h1m16 0h1m15 0h1m7 0h1m2 0h1m24 0h1m48 0h1m-134 1h2m15 0h1m32 0h1m12 0h1m12 0h1m-81 1h1m4 0h1m7 0h2m12 0h1m19 0h1m5 0h1m7 0h2m1 0h1m-52 1h2m23 0h1m5 0h1m1 0h1m66 0h1m-113 1h1m6 0h1m56 0h2m3 0h1m11 0h1m-69 1h1m13 0h1m28 0h1m7 0h1m1 0h2m45 0h1m14 0h1m-129 1h1m2 0h1m1 0h1m8 0h2m3 0h5m1 0h1m2 0h1m3 0h1m6 0h1m9 0h1m7 0h1m2 0h1m8 0h1m-100 1h1m28 0h2m16 0h2m2 0h1m3 0h1m1 0h1m3 0h2m16 0h1m10 0h2m8 0h1m61 0h1m-122 1h1m2 0h1m1 0h1m1 0h1m5 0h1m2 0h1m3 0h1m5 0h1m6 0h1m28 0h1m-72 1h1m10 0h1m3 0h1m14 0h2m40 0h1m4 0h1m-68 1h1m18 0h1m2 0h1m23 0h1m3 0h2m1 0h1m8 0h1m12 0h1m15 0h2m9 0h1m14 0h1m-128 1h1m7 0h1m7 0h1m26 0h1m1 0h2m34 0h1m18 0h1m5 0h1m7 0h1m10 0h2m-100 1h1m2 0h1m3 0h2m2 0h1m29 0h1m10 0h1m9 0h1m12 0h1m4 0h1m1 0h1m15 0h1m-124 1h1m9 0h1m2 0h1m7 0h1m8 0h1m5 0h1m11 0h1m4 0h1m2 0h2m5 0h1m6 0h1m12 0h1m11 0h1m3 0h1m14 0h1m-117 1h1m10 0h1m2 0h1m2 0h1m10 0h1m7 0h1m1 0h1m29 0h1m22 0h1m7 0h1m2 0h1m-103 1h2m21 0h1m11 0h1m30 0h1m3 0h1m30 0h1m5 0h1m10 0h1m-112 1h1m1 0h1m12 0h1m7 0h1m9 0h1m4 0h1m1 0h1m6 0h1m1 0h1m14 0h1m3 0h1m11 0h1m25 0h1m8 0h2m-122 1h1m5 0h1m13 0h1m3 0h1m5 0h4m3 0h1m2 0h1m16 0h1m2 0h1m8 0h3m8 0h1m1 0h1m11 0h1m20 0h1m-143 1h1m16 0h1m16 0h1m1 0h1m1 0h1m6 0h1m12 0h1m3 0h1m6 0h1m21 0h1m5 0h1m10 0h1m2 0h1m3 0h1m22 0h1m-106 1h2m15 0h1m6 0h1m11 0h1m6 0h1m23 0h1m10 0h1m-95 1h1m14 0h1m12 0h5m32 0h1m5 0h1m8 0h1m10 0h1m3 0h1m9 0h1m-118 1h1m6 0h1m5 0h1m1 0h1m4 0h1m2 0h1m5 0h1m1 0h1m11 0h1m8 0h1m5 0h1m3 0h1m4 0h1m6 0h1m6 0h1m3 0h1m5 0h1m7 0h1m-91 1h1m13 0h1m6 0h1m7 0h1m7 0h2m7 0h1m1 0h1m20 0h1m2 0h1m14 0h1m2 0h1m11 0h2m1 0h1m18 0h1m-130 1h1m2 0h1m20 0h1m28 0h2m4 0h1m1 0h1m1 0h1m2 0h1m10 0h2m3 0h1m21 0h1m2 0h1m-98 1h1m28 0h1m11 0h1m1 0h1m17 0h1m10 0h1m6 0h1m-93 1h1m7 0h1m2 0h1m2 0h1m4 0h1m1 0h1m10 0h1m1 0h2m1 0h1m13 0h1m18 0h1m-25 1h1m1 0h2m7 0h1m13 0h1m13 0h1m15 0h1m5 0h1m-95 1h1m35 0h2m14 0h1m9 0h2m2 0h1m3 0h1m8 0h1m1 0h2m-84 1h1m27 0h1m1 0h1m9 0h1m6 0h1m17 0h2m5 0h1m4 0h1m17 0h1m6 0h2m-83 1h1m49 0h1m9 0h1m7 0h1m24 0h1m-117 1h1m43 0h1m3 0h1m4 0h1m14 0h1m4 0h1m5 0h1m-86 1h1m5 0h1m6 0h1m13 0h1m3 0h1m57 0h1m5 0h1m-97 1h1m5 0h2m8 0h1m10 0h1m35 0h1m14 0h1m14 0h1m-94 1h1m27 0h1m21 0h2m15 0h1m10 0h1m1 0h1m-36 1h1m13 0h1m1 0h1m18 0h1m5 0h1m-83 1h1m3 0h1m7 0h1m39 0h1m2 0h1m15 0h1m11 0h1m-80 1h1m4 0h1m27 0h1m4 0h1m16 0h1m10 0h2m11 0h1m28 0h1m-100 1h1m36 0h1m5 0h1m14 0h1m5 0h1m3 0h1m1 0h1m-94 1h1m54 0h1m12 0h1m17 0h1m-68 1h1m4 0h1m15 0h1m5 0h1m1 0h1m11 0h1m9 0h2m17 0h1m5 0h1m-59 1h1m32 0h1m4 0h1m13 0h1m3 0h1m-59 1h1m36 0h1m4 0h1m4 0h1m8 0h1m2 0h1m14 0h1m-104 1h1m25 0h1m13 0h1m15 0h1m17 0h1m8 0h1m-85 1h1m19 0h2m7 0h1m2 0h1m5 0h1m16 0h1m18 0h1m1 0h1m5 0h1m-42 1h2m9 0h1m31 0h1m1 0h1m1 0h1m-89 1h1m55 0h1m2 0h1m4 0h1m7 0h1m5 0h1m-61 1h1m6 0h1m1 0h1m1 0h1m2 0h1m3 0h1m19 0h1m8 0h1m1 0h3m1 0h1m7 0h1m2 0h1m-69 1h1m77 1h1m-92 3h1m33 0h1m5 0h1m10 0h1m-24 1h1m-27 1h1m11 0h1m10 0h1m10 0h1m-30 1h1m63 0h1m-64 1h1m11 0h1m-12 3h1m1 0h1"/><path stroke="#2c728e" d="M160 9h1m1 2h1m0 1h1m3 0h1m-16 1h1m6 0h1m5 0h1m2 0h2m1 0h1m-21 1h1m17 0h1m2 0h1m9 0h1m-26 1h1m26 0h1m-40 1h1m15 0h1m4 0h1m15 0h1m-6 1h1m5 0h1m-38 1h1m11 0h1m4 0h1m12 0h1m3 0h1m-34 1h1m3 0h1m9 0h1m-22 1h1m2 0h1m20 0h1m16 0h1m-26 1h1m2 0h1m9 0h1m-28 1h1m17 0h1m1 0h1m2 0h3m-33 1h1m20 0h1m3 0h1m3 0h1m1 0h1m14 0h1m4 0h1m-50 1h2m1 0h1m7 0h1m4 0h2m-13 1h1m36 0h1m-42 1h1m4 0h1m14 0h1m5 0h1m20 0h2m-54 1h2m3 0h1m3 0h1m1 0h1m3 0h1m6 0h1m25 0h1m-38 1h1m5 0h1m5 0h1m12 0h1m12 0h1m-35 1h2m32 0h1m5 0h1m-53 1h1m1 0h1m2 0h1m4 0h1m8 0h1m8 0h2m10 0h1m5 0h1m2 0h1m-51 1h1m3 0h1m7 0h1m2 0h1m26 0h1m13 0h1m-41 1h1m1 0h1m36 0h2m-60 1h1m18 0h1m10 0h1m-34 1h1m4 0h1m17 0h1m2 0h1m33 0h2m-63 1h1m3 0h2m25 0h2m-34 1h1m3 0h1m1 1h1m21 0h1m9 0h3m21 0h1m-63 1h1m6 0h1m8 0h1m22 0h1m7 0h1m15 0h1m-72 1h1m1 0h1m26 0h1m-29 1h1m5 0h1m32 0h1m3 0h1m3 1h1m2 0h2m1 0h2m17 0h1m-74 1h2m4 0h1m34 0h1m8 0h2m3 0h1m-50 1h1m41 0h1m3 0h1m17 0h1m-70 1h1m6 0h1m-10 1h2m5 0h1m34 0h1m16 0h1m-60 1h1m22 0h1m-25 1h2m1 0h2m-5 1h1m3 0h1m48 0h1m5 0h1m-57 1h1m3 0h1m10 0h1m48 0h1m-76 1h1m4 0h1m8 0h1m1 0h1m-25 1h1m1 0h1m2 0h1m16 0h1m15 0h1m31 0h1m-73 1h1m18 0h1m33 0h1m6 0h1m-54 1h1m3 0h1m6 0h2m4 0h1m-14 1h1m4 0h1m48 0h1m10 0h1m2 0h1m-72 1h1m16 0h1m35 0h1m-37 1h1m35 0h1m14 0h1m-30 2h1m23 1h1m-55 1h1m12 0h1m-25 1h1m-56 1h1m76 0h1m-80 1h1m128 0h1m-54 1h1m46 0h1m5 0h1m-83 1h1m17 0h2m-14 1h1m42 0h1m-96 1h1m45 0h1m83 0h1m-78 1h1m15 0h1m-63 1h1m35 0h1m-36 1h1m32 0h2m5 0h1m9 0h2m22 0h1m13 0h1m18 0h1m9 0h1m13 0h1m-137 1h1m34 0h1m2 0h1m1 0h1m6 0h1m14 0h1m7 0h1m56 0h1m-133 1h1m8 0h1m32 0h1m7 0h2m23 0h1m58 0h1m1 0h1m3 0h1m-137 1h2m36 0h1m42 0h1m24 0h1m3 0h1m1 0h1m-104 1h1m1 0h1m25 0h1m14 0h1m31 0h1m24 0h1m37 0h1m-152 1h1m7 0h1m101 0h1m3 0h1m12 0h2m17 0h1m-49 1h2m17 0h1m28 0h1m-147 1h1m98 0h1m15 0h1m-59 1h2m20 0h1m18 0h1m12 0h1m2 0h1m-108 1h2m29 0h1m24 0h1m45 0h1m-105 1h1m3 0h1m27 0h1m13 0h1m10 0h2m46 0h1m6 0h1m21 0h1m-130 1h1m1 0h1m5 0h1m30 0h1m30 0h2m4 0h1m20 0h1m26 0h1m3 0h1m-138 1h1m37 0h1m14 0h1m30 0h1m7 0h1m-134 1h1m58 0h1m79 0h1m14 0h1m-102 1h1m35 0h1m5 0h1m1 0h1m4 0h1m31 0h1m10 0h1m32 0h1m-88 1h2m6 0h1m3 0h1m23 0h1m18 0h1m16 0h1m-154 1h1m125 0h1m2 0h1m31 0h1m-86 1h1m3 0h1m44 0h1m-51 1h1m4 0h1m-64 1h2m61 0h1m1 0h2m2 0h1m72 0h1m-71 1h1m3 0h1m21 0h1m7 0h1m-46 1h1m1 0h1m16 0h1m2 0h1m16 0h1m47 0h1m-80 1h1m2 0h1m17 0h1m-115 1h1m87 0h1m7 0h2m3 0h1m-101 1h1m93 0h2m2 0h1m22 0h1m-56 1h1m47 0h1m1 0h1m38 0h1m3 0h1m-68 1h1m21 0h1m-114 1h1m37 0h1m2 0h1m7 0h1m3 0h2m38 0h1m9 0h1m-72 1h1m11 0h1m11 0h1m4 0h1m8 0h1m20 0h1m5 0h2m1 0h1m-100 1h1m43 0h1m9 0h1m38 0h2m17 0h2m-58 1h1m18 0h1m43 0h1m-88 1h1m1 0h1m46 0h1m1 0h1m4 0h1m8 0h1m19 0h1m-85 1h1m27 0h1m10 0h1m5 0h1m1 0h1m9 0h1m7 0h1m13 0h1m46 0h2m-127 1h1m20 0h1m24 0h1m16 0h1m-65 1h1m6 0h1m2 0h1m15 0h1m18 0h1m8 0h1m11 0h1m49 0h1m-120 1h1m5 0h1m8 0h1m12 0h1m10 0h1m14 0h2m11 0h2m56 0h1m-121 1h1m1 0h1m11 0h1m8 0h1m11 0h1m6 0h1m6 0h1m3 0h1m20 0h1m1 0h1m26 0h1m23 0h1m-126 1h1m3 0h1m6 0h1m8 0h1m4 0h1m25 0h1m2 0h1m27 0h1m16 0h1m2 0h1m10 0h1m11 0h1m-132 1h1m9 0h1m1 0h1m1 0h1m10 0h1m54 0h1m29 0h1m6 0h1m-108 1h1m17 0h1m32 0h1m19 0h1m9 0h2m17 0h1m-93 1h1m1 0h1m1 0h1m23 0h1m3 0h1m2 0h1m4 0h4m1 0h2m7 0h2m2 0h1m2 0h2m5 0h1m4 0h1m1 0h1m6 0h1m10 0h1m-82 1h1m8 0h1m2 0h1m4 0h1m68 0h1m-107 1h1m4 0h2m15 0h1m1 0h1m18 0h1m7 0h1m12 0h1m5 0h1m6 0h1m1 0h1m2 0h1m6 0h1m6 0h1m1 0h2m11 0h1m-92 1h1m11 0h1m27 0h1m1 0h1m3 0h1m7 0h1m22 0h1m-80 1h1m2 0h1m15 0h1m3 0h1m9 0h1m8 0h1m4 0h1m6 0h1m5 0h1m3 0h1m16 0h1m-94 1h1m14 0h1m2 0h1m5 0h1m6 0h1m2 0h1m15 0h2m9 0h1m4 0h1m5 0h1m-112 1h1m18 0h1m13 0h1m37 0h1m27 0h1m5 0h2m6 0h2m4 0h1m-119 1h1m17 0h1m20 0h1m13 0h1m1 0h1m9 0h1m9 0h1m3 0h1m4 0h1m1 0h1m4 0h1m2 0h2m16 0h1m-94 1h1m54 0h1m1 0h1m21 0h1m5 0h1m1 0h2m7 0h1m1 0h1m19 0h1m-125 1h1m13 0h1m3 0h1m30 0h1m25 0h1m17 0h1m2 0h1m2 0h1m2 0h1m3 0h1m9 0h1m2 0h1m-120 1h1m17 0h1m5 0h1m12 0h1m12 0h1m1 0h1m2 0h1m13 0h1m6 0h1m19 0h2m9 0h1m1 0h1m-95 1h1m30 0h1m1 0h1m4 0h1m28 0h1m1 0h1m16 0h2m-82 1h1m31 0h1m5 0h1m10 0h1m3 0h1m19 0h1m5 0h1m2 0h1m-95 1h1m8 0h1m27 0h2m23 0h1m2 0h1m38 0h1m6 0h1m-109 1h2m20 0h1m23 0h1m29 0h1m10 0h1m1 0h1m-98 1h1m18 0h1m31 0h1m7 0h1m7 0h1m5 0h1m13 0h1m-86 1h1m43 0h1m9 0h1m12 0h1m14 0h1m-68 1h1m35 0h1m4 0h2m4 0h1m5 0h1m2 0h1m5 0h1m-92 1h1m8 0h2m4 0h1m12 0h1m3 0h1m5 0h1m11 0h1m1 0h1m33 0h1m4 0h1m6 0h3m1 0h1m6 0h1m-86 1h1m44 0h1m3 0h1m4 0h1m2 0h1m2 0h1m4 0h1m1 0h1m4 0h1m-92 1h1m20 0h2m18 0h1m4 0h1m5 0h1m27 0h1m9 0h1m-91 1h1m9 0h1m33 0h2m1 0h1m6 0h1m1 0h1m23 0h2m1 0h1m1 0h1m6 0h1m25 0h1m-72 1h1m20 0h1m7 0h1m3 0h1m5 0h1m3 0h1m1 0h1m-47 1h1m24 0h1m12 0h1m31 0h1m-108 1h1m3 0h1m23 0h1m6 0h1m1 0h1m13 0h1m17 0h1m1 0h1m-42 1h1m5 0h1m11 0h1m4 0h1m18 0h3m5 0h1m2 0h1m-49 1h1m17 0h1m1 0h1m-67 1h1m8 0h2m5 0h1m36 0h1m3 0h1m9 0h1m2 0h1m3 0h1m2 0h1m-82 1h1m19 0h1m28 0h1m17 0h1m26 0h1m13 0h1m-111 1h1m1 0h1m7 0h1m6 0h1m46 0h1m5 0h1m6 0h1m9 0h2m7 0h1m1 0h1m12 0h1m-87 1h1m41 0h3m4 0h2m23 0h1m-76 1h1m38 0h1m6 0h1m3 0h1m1 0h1m33 0h1m-109 1h1m3 0h1m28 0h1m16 0h1m2 0h1m3 0h1m31 0h1m-67 1h1m2 0h1m1 0h1m1 0h1m4 0h1m9 0h1m25 0h1m13 0h1m1 0h1m-62 1h2m4 0h1m18 0h1m6 0h1m2 0h1m17 0h1m7 0h1m-19 1h1m6 0h1m23 0h1m-11 1h1m1 0h1m-89 3h1m41 0h1m-12 1h1m-12 2h1m4 0h1m-15 4h1"/><path stroke="#277e8e" d="M156 9h1m2 0h1m4 1h2m3 0h1m-13 2h1m3 0h1m-6 1h1m9 0h1m14 0h1m2 0h1m-15 1h1m14 0h1m-32 1h1m8 0h1m3 1h1m-24 1h1m10 0h1m6 0h1m8 0h1m9 0h1m-30 1h1m6 0h1m5 0h1m15 0h1m-29 1h1m2 0h1m1 0h1m9 1h1m3 0h1m9 0h1m-39 1h1m29 0h1m4 1h1m2 0h1m-41 1h1m4 0h1m11 0h1m1 0h3m20 0h1m-46 1h1m3 0h1m26 0h1m3 0h1m7 0h1m2 0h1m-51 1h2m8 0h1m6 0h1m11 0h3m-34 1h1m10 0h1m7 0h1m6 0h1m16 0h1m-32 1h1m22 0h1m-36 1h3m1 0h1m5 0h1m9 0h3m29 0h1m-54 1h1m48 0h1m4 0h1m-53 1h1m3 1h1m12 0h1m2 0h2m5 0h1m22 0h1m2 0h1m-54 1h1m2 1h1m1 0h1m6 0h1m3 0h1m10 0h1m7 0h1m16 0h1m-39 1h1m18 0h1m12 0h1m4 0h1m-60 1h1m7 0h2m2 0h1m3 0h1m12 0h1m1 1h2m1 0h1m1 0h2m5 0h1m-23 1h1m1 0h1m14 0h1m9 0h1m-55 1h1m40 0h1m5 0h1m4 0h1m-51 1h1m8 0h1m33 0h2m-2 1h1m2 0h1m15 0h1m-45 1h1m18 0h1m3 0h1m11 0h1m14 0h1m-74 1h1m6 0h1m7 0h1m40 0h1m-54 1h2m5 0h1m-12 1h1m45 0h1m5 0h1m1 0h1m-30 1h1m23 0h2m-43 1h1m36 0h1m8 0h1m-45 1h1m33 0h1m-27 1h1m24 0h1m18 0h1m-83 1h2m23 0h1m3 0h1m57 0h1m-66 1h1m12 1h1m40 0h1m-64 1h1m3 0h1m11 0h1m1 0h1m26 0h1m-55 1h1m6 0h1m39 0h1m31 0h1m-76 1h1m45 0h1m14 0h1m-57 1h1m12 0h2m52 0h1m2 0h1m-64 1h1m2 0h1m2 0h1m49 0h1m-65 1h2m19 0h1m-3 1h1m41 1h1m-64 1h1m-4 2h1m21 0h1m3 0h2m42 0h1m-43 1h2m14 0h1m-9 1h2m3 0h1m31 1h1m-124 1h2m2 0h1m38 0h1m56 0h1m-58 1h1m2 0h1m13 0h1m3 0h1m43 0h1m3 0h1m27 0h1m-144 1h1m2 0h1m44 0h1m1 0h1m2 0h1m42 0h1m-47 1h1m3 0h1m7 0h1m77 0h1m-103 1h1m14 0h2m42 0h1m15 0h1m-115 1h1m6 0h1m37 0h1m69 0h1m10 0h1m20 0h1m-149 1h1m50 0h2m1 0h1m27 0h1m25 0h1m-102 1h1m32 0h1m8 0h1m8 0h1m15 0h1m33 0h1m-108 1h1m2 0h1m3 0h2m3 0h1m34 0h1m72 0h1m-122 1h1m2 0h1m68 0h1m64 0h1m-139 1h3m3 0h3m2 0h1m95 0h1m27 0h1m-129 1h1m10 0h1m36 0h1m6 0h1m5 0h1m41 0h1m1 0h1m-113 1h1m17 0h1m23 0h1m19 0h1m1 0h2m2 0h1m20 0h1m1 0h1m-129 1h1m45 0h1m6 0h1m1 0h1m34 0h1m13 0h1m32 0h1m10 0h1m-101 1h1m37 0h1m3 0h1m10 0h1m31 0h1m4 0h1m10 0h1m18 0h1m-131 1h1m12 0h1m32 0h1m10 0h1m1 0h1m2 0h1m1 0h2m4 0h1m29 0h1m27 0h1m-127 1h1m4 0h1m2 0h1m2 0h1m49 0h1m13 0h1m5 0h1m10 0h1m-137 1h1m44 0h1m1 0h1m5 0h1m5 0h1m38 0h1m37 0h1m8 0h1m19 0h1m-71 1h1m6 0h1m7 0h1m25 0h1m3 0h1m-47 1h1m44 0h1m1 0h1m7 0h1m16 0h1m-79 1h1m6 0h1m3 0h1m38 0h1m12 0h1m-30 1h1m15 0h1m28 0h1m-151 1h1m49 0h1m26 0h1m4 0h1m16 0h1m16 0h1m-133 1h1m22 0h1m61 0h1m3 0h1m26 0h1m13 0h1m39 0h1m4 0h1m-83 1h1m19 0h1m60 1h1m-80 1h1m5 0h1m9 1h1m63 1h1m-98 1h1m8 0h1m4 0h1m4 1h1m6 0h1m17 0h1m35 0h1m-70 1h1m17 0h1m-68 1h1m2 0h1m30 0h1m23 0h1m-56 1h1m1 0h1m13 0h1m2 0h1m26 0h1m12 0h2m-55 1h1m3 0h1m3 0h1m13 0h1m11 0h1m21 0h1m5 0h1m8 0h1m-82 1h1m9 0h1m16 0h1m5 0h1m38 0h1m12 0h1m32 0h1m7 0h2m-160 1h1m29 0h1m9 0h1m4 0h1m26 0h1m19 0h1m5 0h1m10 0h1m-110 1h1m29 0h3m10 0h1m3 0h1m8 0h2m2 0h1m11 0h1m20 0h1m5 0h1m5 0h2m4 0h1m5 0h1m-118 1h2m45 0h1m9 0h1m3 0h1m21 0h1m5 0h1m6 0h1m2 0h1m59 0h1m-128 1h1m12 0h2m6 0h1m15 0h1m9 0h1m10 0h1m8 0h1m5 0h1m3 0h1m2 0h1m47 0h1m-115 1h1m19 0h1m5 0h1m1 0h1m4 0h1m10 0h2m15 0h1m8 0h1m4 0h1m12 0h1m19 0h1m-83 1h1m6 0h1m13 0h1m12 0h1m13 0h1m20 0h1m-73 1h3m26 0h1m8 0h1m4 0h1m3 0h1m6 0h1m28 0h1m-105 1h1m7 0h1m12 0h1m24 0h2m13 0h1m9 0h1m-116 1h1m56 0h2m19 0h1m16 0h1m5 0h1m8 0h1m2 0h1m1 0h1m16 0h1m2 0h1m3 0h1m6 0h1m-109 1h1m3 0h1m23 0h1m14 0h2m7 0h1m7 0h1m1 0h1m7 0h1m20 0h1m5 0h1m15 0h1m-108 1h1m11 0h1m14 0h2m2 0h1m8 0h1m4 0h1m4 0h1m9 0h1m4 0h1m1 0h1m15 0h1m5 0h1m11 0h1m-109 1h2m12 0h1m23 0h1m6 0h1m1 0h1m16 0h1m3 0h2m7 0h1m4 0h1m14 0h1m2 0h1m7 0h1m-118 1h1m11 0h1m27 0h1m12 0h1m7 0h1m8 0h1m10 0h1m1 0h1m11 0h1m26 0h1m-148 1h1m73 0h1m9 0h1m1 0h1m8 0h1m13 0h1m4 0h1m22 0h1m4 0h1m-105 1h1m18 0h1m7 0h2m12 0h1m11 0h1m4 0h1m20 0h1m3 0h1m15 0h1m-122 1h1m26 0h1m8 0h2m34 0h1m-75 1h1m16 0h1m21 0h1m1 0h1m13 0h2m15 0h1m5 0h1m27 0h1m24 0h1m-108 1h1m13 0h2m27 0h1m3 0h1m4 0h1m24 0h1m3 0h1m16 0h1m3 0h1m-100 1h1m23 0h1m6 0h1m12 0h1m10 0h1m4 0h1m1 0h2m1 0h1m12 0h1m-104 1h1m15 0h1m60 0h1m7 0h1m18 0h1m6 0h1m-114 1h2m11 0h1m14 0h1m13 0h2m10 0h1m7 0h2m2 0h1m15 0h1m8 0h1m23 0h1m-124 1h1m22 0h1m46 0h1m17 0h1m2 0h1m4 0h1m5 0h1m2 0h1m1 0h3m-110 1h1m12 0h1m3 0h1m14 0h1m18 0h1m18 0h1m4 0h1m9 0h1m1 0h1m6 0h1m11 0h1m14 0h1m3 0h1m-123 1h1m4 0h1m23 0h1m64 0h2m1 0h1m2 0h1m-96 1h1m1 0h2m3 0h1m54 0h1m12 0h2m21 0h1m4 0h1m-111 1h1m47 0h1m16 0h1m13 0h1m2 0h1m6 0h1m1 0h1m3 0h1m1 0h1m2 0h1m12 0h1m13 0h1m-123 1h1m5 0h1m7 0h1m48 0h1m2 0h1m7 0h1m7 0h1m5 0h1m23 0h1m3 0h1m-113 1h1m20 0h1m18 0h1m19 0h1m16 0h2m-54 1h1m38 0h1m1 0h3m10 0h1m4 0h1m3 0h1m-98 1h1m9 0h1m53 0h1m1 0h3m7 0h1m9 0h1m7 0h1m-81 1h1m41 0h1m10 0h1m1 0h1m1 0h1m9 0h1m3 0h2m1 0h1m2 0h1m3 0h1m23 0h1m-122 1h1m11 0h1m33 0h1m15 0h1m4 0h1m5 0h2m13 0h1m4 0h1m-98 1h2m11 0h1m11 0h1m32 0h1m6 0h1m1 0h1m3 0h1m5 0h1m4 0h1m3 0h1m-87 1h1m15 0h1m36 0h1m17 0h1m23 0h1m-88 1h1m53 0h1m7 0h1m21 0h1m1 0h1m9 0h1m5 0h1m-111 1h1m1 0h1m65 0h2m9 0h1m3 0h1m-75 1h1m15 0h1m26 0h1m12 0h1m25 0h1m3 0h1m-67 1h1m3 0h1m43 0h1m-68 1h1m15 0h1m1 0h1m7 0h1m14 0h1m1 0h1m13 0h1m10 0h1m19 0h1m13 0h1m1 0h1m-112 1h1m23 0h1m24 0h1m3 0h1m20 0h1m5 0h1m12 0h1m-65 1h1m3 0h1m33 0h1m7 0h1m5 0h1m-48 1h1m9 0h1m25 0h1m8 0h1m1 0h1m8 0h1m-51 1h1m12 0h1m38 0h1m-67 1h1m44 0h1m25 0h1m-89 1h1m1 3h1m25 0h1m5 0h1m43 0h1m-61 1h1m10 0h1m-14 1h2m51 0h2m-72 1h1m28 1h1m-5 1h1m-18 3h1"/><path stroke="#238a8d" d="M162 7h1m1 0h1m-2 1h1m11 1h1m-16 1h1m10 0h1m1 0h1m7 1h1m1 0h1m-32 1h1m15 0h1m11 1h1m4 0h1m-34 1h1m4 0h2m21 0h1m2 0h1m-19 1h1m-18 1h1m3 0h1m4 0h1m7 0h1m-9 1h1m6 0h1m-12 1h1m25 0h1m-38 1h1m38 0h1m-3 1h1m-42 2h1m4 0h1m13 0h1m13 1h1m10 0h1m-19 1h1m1 0h1m4 0h1m-39 1h1m5 0h1m20 0h1m20 0h2m-36 1h1m33 0h2m3 1h1m1 0h2m-58 1h1m18 0h2m4 0h1m7 0h1m15 0h1m2 0h1m4 0h1m-56 1h1m21 0h1m8 0h1m18 0h1m-33 1h1m1 0h1m6 0h1m25 0h1m-58 1h1m5 0h1m16 0h1m10 0h1m1 0h1m18 0h2m1 0h1m-52 1h2m2 0h1m3 0h2m5 0h1m7 0h1m1 0h1m1 0h1m5 0h1m16 0h2m-37 1h1m3 0h1m-26 1h1m11 0h1m20 0h1m21 0h2m-42 1h1m4 0h1m1 0h1m7 0h3m2 0h1m5 0h1m14 0h1m-45 1h1m15 0h1m6 0h2m12 0h1m8 0h1m1 0h1m-61 1h1m27 0h1m2 0h1m23 0h1m3 0h1m-70 1h1m8 0h1m39 0h1m6 0h1m10 0h1m2 0h1m-72 1h1m6 0h1m36 0h1m2 0h2m1 0h1m-52 1h1m12 0h1m5 0h1m-19 1h1m2 0h1m1 0h1m27 0h1m4 0h1m6 0h1m10 0h1m-54 1h1m4 0h1m5 0h1m36 0h1m-55 1h1m12 0h1m41 0h1m3 0h1m-56 1h2m35 0h1m1 0h1m8 0h1m-23 1h1m-32 1h2m3 0h1m3 0h1m9 0h1m-13 1h1m18 0h1m25 0h1m20 0h1m-66 1h1m7 0h1m36 0h1m13 0h3m-68 1h1m14 0h1m-13 1h1m2 0h1m53 0h1m-68 1h2m6 0h1m2 0h1m2 0h1m2 0h1m4 0h1m39 0h1m8 0h1m-68 1h1m39 0h1m-32 1h1m46 0h1m-63 1h1m3 0h1m16 0h1m17 0h1m-44 1h1m5 0h1m5 0h1m2 0h1m5 0h2m-23 1h1m3 0h1m1 0h1m8 0h2m6 0h1m5 0h1m20 0h1m-40 1h1m2 0h1m8 0h1m-18 1h1m59 0h1m-62 1h1m11 0h1m-16 1h1m7 0h1m27 0h1m12 0h1m-35 1h1m26 0h1m23 0h1m-72 1h1m8 0h1m35 0h1m26 0h1m-74 1h1m41 1h1m34 0h1m-129 1h1m1 0h1m49 0h1m5 0h1m58 0h1m6 0h1m-72 1h2m1 0h1m28 0h1m6 0h1m-2 1h1m15 0h1m36 0h1m-65 1h1m1 0h1m32 0h1m-115 1h1m47 0h1m-50 1h1m38 0h1m32 0h1m43 0h1m1 0h1m-119 1h1m35 0h1m2 0h1m13 0h1m3 0h1m4 0h1m35 0h1m9 0h1m4 0h1m-115 1h1m1 0h1m42 0h1m8 0h2m37 0h1m14 0h1m1 0h1m-104 1h1m29 0h2m55 0h1m8 0h1m-102 1h1m35 0h1m3 0h1m13 0h2m52 0h1m26 0h1m-133 1h1m34 0h1m7 0h2m14 0h1m26 0h1m53 0h1m-143 1h1m3 0h1m28 0h1m16 0h1m11 0h1m40 0h1m-99 1h1m40 0h1m66 0h1m-110 1h1m41 0h1m7 0h1m3 0h1m-7 1h1m43 0h1m8 0h1m-108 1h1m3 0h2m8 0h1m29 0h1m11 0h1m39 0h1m5 0h2m6 0h1m26 0h1m2 0h1m-182 1h1m46 0h1m7 0h1m44 0h1m15 0h2m7 0h1m7 0h1m1 0h1m7 0h2m-105 1h1m2 0h1m52 0h1m11 0h1m12 0h1m20 0h1m-92 1h1m51 0h1m30 0h1m24 0h1m-163 1h1m46 0h1m46 0h1m4 0h1m17 0h1m26 0h1m35 0h1m-70 1h1m68 0h1m5 0h1m-187 1h1m95 0h1m8 0h1m30 0h1m2 0h1m9 0h1m24 0h1m3 0h1m-113 1h1m26 0h1m1 0h1m1 0h1m1 0h1m7 0h1m27 0h1m39 0h1m-175 1h1m88 0h1m4 0h1m33 0h1m46 0h2m-147 1h1m66 0h1m2 0h1m4 0h1m-105 1h1m64 0h1m31 0h1m6 0h1m57 0h1m-67 1h1m-96 1h1m99 0h1m-1 1h1m74 0h1m-75 1h1m1 0h2m3 0h1m9 0h1m55 0h1m-127 1h1m65 0h1m-28 1h1m9 0h1m7 0h1m-21 1h1m7 0h1m6 0h1m2 0h1m7 0h1m-109 1h1m46 0h1m6 0h1m30 0h1m8 0h1m9 0h1m8 0h2m2 0h1m-118 1h1m34 0h1m10 0h1m60 0h1m-107 1h1m38 0h1m21 0h1m25 0h1m19 0h1m-52 1h1m36 0h1m58 0h1m-78 1h1m7 0h2m15 0h1m3 0h1m6 0h1m40 0h1m1 0h2m-74 1h1m3 0h1m3 0h1m11 0h1m16 0h1m-18 1h1m9 0h1m2 0h1m-8 1h1m5 0h1m-79 1h1m27 0h1m35 0h1m14 0h1m-70 1h1m21 0h2m4 0h1m1 0h1m18 0h1m12 0h1m3 0h1m10 0h1m10 0h1m2 0h1m3 0h1m-94 1h1m6 0h1m5 0h1m2 0h1m45 0h1m4 0h1m21 0h1m9 0h1m-105 1h1m29 0h1m4 0h1m19 0h1m3 0h2m3 0h2m2 0h1m7 0h1m15 0h1m19 0h1m-152 1h1m40 0h1m33 0h1m6 0h1m25 0h1m8 0h1m16 0h2m-107 1h1m3 0h1m22 0h1m29 0h1m27 0h1m1 0h1m17 0h1m5 0h1m4 0h1m1 0h1m-110 1h1m23 0h1m8 0h1m12 0h1m11 0h1m5 0h1m6 0h1m5 0h1m2 0h1m8 0h1m3 0h1m5 0h1m2 0h1m3 0h1m6 0h1m-108 1h1m3 0h1m1 0h1m35 0h1m2 0h1m15 0h1m8 0h1m4 0h1m10 0h1m16 0h1m-115 1h2m37 0h1m6 0h1m9 0h1m1 0h1m1 0h1m9 0h1m12 0h1m11 0h1m18 0h2m-146 1h1m44 0h1m24 0h1m74 0h1m3 0h1m-119 1h1m12 0h1m50 0h1m5 0h1m3 0h1m10 0h1m6 0h2m-67 1h1m7 0h1m5 0h1m1 0h1m12 0h1m20 0h2m1 0h2m5 0h1m4 0h1m-104 1h1m12 0h1m45 0h1m16 0h2m14 0h1m3 0h1m-66 1h1m15 0h1m7 0h1m8 0h1m4 0h1m9 0h1m9 0h1m8 0h1m6 0h1m1 0h1m17 0h1m-71 1h1m11 0h1m5 0h1m6 0h1m8 0h2m-98 1h1m34 0h1m6 0h1m10 0h1m18 0h1m4 0h1m7 0h1m1 0h1m8 0h1m4 0h1m16 0h1m8 0h1m-134 1h1m21 0h1m37 0h1m2 0h1m1 0h1m17 0h2m18 0h1m-44 1h1m1 0h1m20 0h1m10 0h1m2 0h1m22 0h1m-90 1h1m11 0h1m10 0h1m29 0h1m8 0h1m5 0h1m22 0h1m-122 1h2m54 0h1m2 0h1m7 0h1m19 0h1m15 0h1m4 0h1m-39 1h1m17 0h1m11 0h1m8 0h1m-100 1h1m1 0h1m47 0h1m7 0h1m25 0h1m4 0h1m-84 1h1m33 0h1m11 0h1m44 0h1m-45 1h1m7 0h1m9 0h1m15 0h1m3 0h1m17 0h1m-115 1h1m7 0h1m58 0h1m5 0h1m3 0h1m2 0h1m5 0h1m10 0h1m19 0h1m-114 1h1m61 0h1m3 0h1m1 0h1m12 0h1m-81 1h2m40 0h1m2 0h1m10 0h1m20 0h1m17 0h1m-93 1h1m43 0h1m5 0h1m3 0h1m27 0h1m-54 1h1m12 0h1m13 0h2m10 0h1m1 0h1m5 0h1m3 0h1m1 0h1m-96 1h1m70 0h1m1 0h1m18 0h1m-92 1h1m59 0h1m14 0h1m8 0h1m9 0h1m1 0h1m-94 1h1m8 0h1m56 0h1m10 0h1m11 0h1m2 0h1m-100 1h1m17 0h1m40 0h1m13 0h1m5 0h1m7 0h1m-88 1h1m5 0h1m41 0h1m9 0h1m9 0h1m6 0h1m13 0h1m3 0h1m-93 1h1m8 0h1m58 0h1m6 0h1m11 0h1m2 0h1m13 0h1m6 0h1m-91 1h1m27 0h1m38 0h1m-50 1h1m21 0h1m2 0h2m1 0h1m1 0h1m7 0h1m3 0h1m9 0h1m-67 1h1m14 0h1m5 0h1m3 0h1m15 0h1m-51 1h1m4 0h1m1 0h1m1 0h1m17 0h1m-22 1h1m1 0h1m41 0h1m1 0h1m9 0h1m10 0h1m1 0h1m-89 1h1m5 3h1m25 0h1m4 0h1m-12 1h1m12 0h1m4 0h1m13 0h1m-50 1h1m9 0h1m53 0h1m-69 2h1m10 0h1m4 0h1m-5 5h1m0 1h1"/><path stroke="#1f968b" d="M156 8h1m-3 1h1m2 0h1m5 0h1m7 0h1m10 0h1m-28 1h1m12 0h1m-12 1h1m1 0h1m-10 1h1m2 0h2m-9 1h1m10 0h1m2 0h1m-15 1h1m3 0h1m25 0h1m-32 1h2m9 0h1m12 0h1m8 0h1m-35 1h1m4 0h1m5 0h2m2 1h2m6 0h1m11 0h1m-39 1h1m12 0h1m-14 1h1m27 0h1m3 0h1m-35 1h1m4 0h1m28 0h1m6 0h1m2 0h1m-24 1h1m6 0h1m17 0h1m-50 1h2m31 0h1m7 0h1m5 0h1m-46 1h1m38 0h1m5 0h1m-52 1h1m45 0h1m-42 1h1m2 0h1m6 0h1m35 0h1m4 0h1m-57 1h1m27 0h1m4 0h1m13 0h2m-38 1h1m8 0h1m5 0h1m6 0h1m12 0h1m-19 1h1m-28 1h1m3 0h1m8 0h1m8 0h1m31 0h1m-58 1h1m17 0h1m41 0h1m-58 1h1m29 0h1m16 0h1m-26 1h2m-22 1h1m17 0h2m9 0h1m1 0h1m21 0h1m-56 1h1m2 0h1m9 0h1m19 0h1m9 0h1m1 0h1m4 0h1m7 0h1m-24 1h1m22 0h1m-59 1h1m31 0h1m21 0h1m-56 1h1m17 0h1m6 0h1m3 0h1m6 0h1m3 0h1m-36 1h1m9 0h1m1 0h1m15 0h1m3 0h1m1 0h1m-38 1h1m14 0h1m11 0h1m9 0h1m1 0h1m4 0h1m4 0h2m-64 1h1m44 0h1m5 0h1m-49 1h1m6 0h1m2 0h1m11 0h1m14 0h1m-44 3h1m10 0h1m31 0h1m-42 1h1m6 0h1m10 0h1m36 0h1m-56 1h1m50 0h1m-50 1h1m27 0h1m18 0h2m1 0h1m4 0h1m-62 1h1m18 0h2m35 0h1m6 0h1m-63 1h1m-2 1h1m16 0h1m37 0h1m12 0h1m7 0h1m-80 1h1m27 0h1m46 0h1m-68 1h2m7 0h1m59 0h1m-78 1h1m15 0h1m5 0h1m23 0h1m3 0h1m-47 1h1m11 0h1m50 0h1m-71 1h1m2 0h1m15 0h1m2 0h2m2 0h1m40 0h2m-66 1h1m30 0h1m5 0h1m10 0h1m8 0h1m6 0h2m-62 1h1m12 0h1m1 0h1m4 0h1m33 0h1m6 0h1m-63 1h1m26 0h1m25 0h1m2 0h1m-64 1h1m3 0h1m4 0h1m7 0h1m44 0h1m-123 2h1m54 0h1m3 0h1m1 0h1m31 0h1m31 0h1m-126 1h1m74 0h1m3 0h1m6 0h1m12 0h1m-46 1h1m-56 1h1m58 0h1m62 0h1m-122 1h1m57 0h1m64 0h1m-124 1h1m58 0h1m7 0h1m14 0h1m22 0h1m3 0h1m13 0h1m5 0h1m-125 1h1m59 0h1m16 0h1m23 0h1m-44 1h1m28 0h1m17 0h1m20 0h1m-83 1h1m8 0h1m52 0h1m-76 1h1m12 0h1m1 0h1m10 0h1m27 0h1m35 0h1m-72 1h1m49 0h2m1 0h1m1 0h1m6 0h2m-113 1h1m32 0h1m72 0h1m-113 1h1m40 0h1m16 0h1m1 0h1m21 0h1m-43 1h1m53 0h1m40 0h1m-135 1h1m60 0h1m5 0h1m36 0h2m-56 1h1m14 0h1m26 0h1m49 0h1m-137 1h1m35 0h1m15 0h1m27 0h1m4 0h1m3 0h1m15 0h1m32 0h1m-77 1h1m30 0h1m7 0h1m-61 1h1m5 0h1m4 0h1m7 0h1m3 0h1m1 0h1m19 0h1m7 0h1m28 0h1m-165 1h1m37 0h1m11 0h1m60 0h1m17 0h1m9 0h1m-106 1h1m53 0h1m20 0h1m15 0h1m4 0h1m4 0h1m27 0h1m8 0h1m-179 1h1m77 0h1m18 0h1m37 0h2m2 0h1m4 0h1m-93 1h1m44 0h1m1 0h1m9 0h1m5 0h1m19 0h1m2 0h1m6 0h1m-107 1h1m50 0h1m10 0h2m6 0h1m52 0h1m10 0h1m-132 1h1m57 0h1m8 0h1m1 0h1m1 0h1m16 0h2m3 0h1m18 0h1m-69 1h1m11 0h1m9 0h1m6 0h1m8 0h2m6 0h1m-135 1h1m100 0h1m28 0h1m-36 1h1m33 0h2m2 0h1m-103 1h1m85 0h1m14 0h1m38 0h1m2 0h1m-173 1h1m121 0h1m52 0h1m-176 1h1m82 0h1m17 0h1m4 0h1m56 0h1m2 0h1m4 0h1m-171 1h1m103 0h1m1 0h1m1 0h1m8 0h1m2 0h1m5 0h2m30 0h1m-92 1h1m23 0h1m9 1h1m12 0h1m-9 1h1m-55 1h1m63 0h1m-14 1h1m9 0h1m5 0h1m-82 1h1m62 0h1m1 0h1m5 0h1m-56 1h1m34 0h1m2 0h1m17 0h2m36 0h1m21 0h1m-126 1h1m12 0h1m30 0h1m2 0h1m-90 1h1m93 0h1m3 0h2m4 0h1m9 0h1m5 0h1m-121 1h1m57 0h1m22 0h1m5 0h1m17 0h1m15 0h1m-87 1h1m55 0h1m13 0h1m9 0h1m-71 1h1m45 0h1m3 0h1m7 0h1m31 0h1m-99 1h1m10 0h1m7 0h1m8 0h1m37 0h1m1 0h1m3 0h1m26 0h2m-93 1h1m25 0h2m25 0h1m2 0h1m5 0h1m4 0h1m3 0h1m19 0h1m-56 1h1m21 0h1m12 0h1m21 0h1m-93 1h1m57 0h2m6 0h1m7 0h2m20 0h1m8 0h1m-55 1h1m11 0h1m28 0h1m15 0h1m-122 1h2m35 0h2m44 0h1m18 0h1m12 0h1m3 0h1m-148 1h1m46 0h1m26 0h1m11 0h1m65 0h1m-153 1h1m72 0h1m4 0h1m3 0h1m2 0h1m7 0h1m8 0h2m12 0h1m12 0h1m8 0h1m-94 1h1m2 0h1m22 0h1m14 0h1m6 0h2m2 0h1m9 0h1m3 0h1m3 0h1m8 0h2m13 0h1m4 0h1m-100 1h1m4 0h1m29 0h1m18 0h1m-68 1h1m7 0h1m34 0h1m4 0h1m4 0h1m42 0h2m-60 1h2m3 0h2m4 0h1m29 0h1m16 0h1m20 0h1m-84 1h1m20 0h1m8 0h2m2 0h1m7 0h2m9 0h1m4 0h1m8 0h1m15 0h1m-146 1h1m60 0h2m1 0h1m37 0h1m40 0h1m-130 1h1m41 0h1m13 0h2m13 0h1m5 0h2m6 0h1m5 0h1m4 0h1m-103 1h1m46 0h1m1 0h1m32 0h1m2 0h1m19 0h1m10 0h1m1 0h1m-123 1h1m27 0h1m19 0h1m2 0h1m11 0h1m1 0h1m1 0h1m27 0h1m3 0h1m4 0h1m9 0h1m3 0h2m7 0h1m-120 1h1m50 0h1m10 0h1m18 0h1m8 0h2m1 0h2m4 0h1m2 0h1m3 0h2m7 0h1m1 0h2m2 0h1m-127 1h1m4 0h2m1 0h2m17 0h1m21 0h1m6 0h1m28 0h1m1 0h1m3 0h1m16 0h1m-104 1h1m1 0h1m49 0h1m8 0h1m22 0h1m13 0h1m4 0h1m13 0h1m6 0h1m-132 1h1m3 0h1m84 0h1m16 0h2m-108 1h1m8 0h1m25 0h1m21 0h1m3 0h1m5 0h1m4 0h1m7 0h1m12 0h1m1 0h1m1 0h1m2 0h1m21 0h1m-119 1h1m5 0h1m88 0h1m-86 1h1m50 0h1m5 0h1m6 0h1m35 0h1m1 0h1m4 0h1m4 0h1m-126 1h1m54 0h1m14 0h1m31 0h1m-33 1h1m29 0h2m5 0h1m13 0h1m-110 1h1m75 0h1m10 0h1m-51 1h1m8 0h1m9 0h1m1 0h1m11 0h1m35 0h1m-68 1h1m21 1h1m13 0h1m-76 1h1m69 0h1m11 0h1m2 0h1m-84 1h1m48 0h1m7 0h1m5 0h1m1 0h1m23 0h1m-109 1h1m1 0h1m16 0h2m6 0h1m30 0h1m24 0h1m18 0h1m-77 1h1m52 0h1m-80 1h1m3 0h1m15 0h1m2 0h1m76 0h1m12 0h1m-107 1h1m12 0h1m59 0h1m13 0h1m3 0h1m-79 1h1m28 0h1m8 0h1m10 0h2m7 0h1m5 0h1m2 0h1m6 0h1m-74 1h1m19 0h1m8 0h1m1 0h1m12 0h2m15 0h1m3 0h1m9 0h2m-90 1h1m5 0h1m10 0h1m4 0h1m20 0h1m6 0h1m6 0h1m2 0h1m1 0h1m40 0h1m-88 2h1m1 0h1m6 0h2m42 0h1m5 0h1m6 0h1m11 1h1m-11 1h1m0 1h1m-41 1h1m2 0h1m1 0h1m-32 1h2m2 0h1m7 0h1m3 0h1m2 0h1m13 0h1m23 0h1m-49 1h1m-32 1h1m16 0h1m57 0h1m-60 1h1m18 0h1m-17 1h1m-8 1h1m12 1h1m-10 3h1m1 0h1"/><path stroke="#1fa287" d="M165 7h1m-6 1h1m1 1h1m9 0h1m5 0h1m-27 2h1m1 0h1m1 0h1m10 0h1m-19 1h1m9 0h1m9 0h1m1 0h1m8 0h1m-30 1h1m18 0h1m7 0h1m4 0h1m-9 1h1m2 0h1m-19 1h2m9 0h1m5 0h1m-35 1h1m29 0h1m4 0h1m-4 2h1m8 0h1m-42 1h1m8 0h1m19 0h1m2 0h1m4 0h1m-10 1h1m4 1h1m7 0h1m-26 1h1m24 0h1m-48 1h1m19 0h1m12 0h1m-36 1h1m24 0h1m1 0h1m5 0h1m14 0h1m-25 1h1m-21 1h1m38 0h1m8 0h1m-48 2h1m23 0h1m15 0h1m-23 1h1m3 0h1m6 0h1m9 0h1m10 0h1m-60 1h1m7 0h1m9 0h1m7 0h2m3 0h1m23 0h1m-39 1h1m32 0h1m-35 1h1m17 0h1m10 0h1m6 0h1m-46 1h1m6 0h1m17 0h1m23 0h1m-41 1h1m6 0h1m2 0h1m4 0h1m8 0h2m15 0h1m-52 1h1m18 0h2m25 0h1m1 0h1m-54 1h1m2 0h1m2 0h1m6 0h1m1 0h1m13 0h1m6 0h1m2 0h3m-39 1h1m35 0h1m1 0h1m18 0h1m-42 1h1m5 0h1m2 0h1m2 0h1m4 0h1m7 0h1m2 0h1m9 0h1m-53 1h1m8 0h1m3 0h1m26 0h1m2 0h1m10 0h2m-43 1h1m4 0h1m31 0h2m-68 1h2m3 0h1m5 0h1m31 0h1m-47 1h1m14 0h1m-11 1h1m35 0h1m6 0h1m6 0h2m-56 1h1m10 0h1m43 0h1m5 0h1m9 0h1m-70 1h1m17 0h1m36 0h1m2 0h1m-58 1h1m3 0h1m10 0h1m-14 1h1m6 0h1m44 0h1m1 0h1m5 0h2m-6 1h2m-9 1h1m4 0h1m-53 1h2m26 0h1m19 0h1m2 0h1m5 0h1m-35 1h1m-22 1h2m7 0h1m24 0h3m5 0h1m5 0h1m4 0h1m-70 1h1m7 0h1m1 0h1m7 0h1m-15 1h1m3 0h3m15 0h1m-20 1h1m1 0h1m9 0h1m40 0h1m-67 1h1m1 0h1m27 0h1m34 0h1m1 0h2m-65 1h1m15 0h1m47 0h1m2 0h1m-59 1h1m6 0h1m10 0h1m17 0h1m18 0h1m-68 1h2m5 0h1m1 0h1m45 0h1m-55 1h1m1 0h1m1 0h1m42 0h1m14 0h1m-57 2h1m61 0h1m-127 1h1m51 0h1m10 0h1m31 0h2m-45 1h1m57 0h1m-51 1h1m6 0h1m25 0h1m-96 1h1m61 0h1m41 0h1m7 0h1m10 0h1m-68 1h1m47 0h1m18 0h1m6 0h1m-80 1h1m11 0h1m2 0h1m13 0h1m9 0h1m25 0h1m5 0h1m23 0h1m-48 1h1m11 0h1m12 0h1m-64 1h1m34 0h1m13 0h1m27 0h1m10 0h1m-93 1h1m3 0h3m48 0h1m1 0h1m11 0h1m-89 1h1m20 0h1m77 0h1m-78 1h1m14 0h1m27 0h1m22 0h1m19 0h1m3 0h1m-149 1h1m8 0h1m56 0h1m14 0h1m12 0h1m9 0h1m6 0h2m17 0h1m1 0h1m-126 1h1m7 0h1m44 0h1m15 0h1m18 0h1m16 0h1m7 0h1m13 0h1m7 0h1m-129 1h1m44 0h1m1 0h1m46 0h1m14 0h1m11 0h1m-60 1h1m3 0h2m11 0h1m4 0h2m6 0h1m1 0h1m21 0h1m-117 1h1m55 0h1m1 0h1m2 0h1m17 0h1m10 0h1m4 0h1m4 0h1m7 0h1m-79 1h1m17 0h1m8 0h1m2 0h1m9 0h1m24 0h1m11 0h1m-115 1h1m1 0h1m35 0h1m1 0h1m17 0h1m2 0h1m15 0h1m2 0h1m17 1h1m4 0h2m15 0h1m-80 1h1m35 0h1m8 0h1m8 0h1m30 0h1m-84 1h3m8 0h1m7 0h1m29 0h1m26 0h2m5 0h1m-65 1h2m19 0h1m6 0h1m39 0h1m2 0h1m-186 1h2m122 0h1m2 0h1m41 0h1m1 0h1m-64 1h1m8 0h1m15 0h1m21 0h1m18 0h1m13 0h1m-96 1h1m10 0h1m4 0h1m1 0h1m19 0h1m6 0h1m21 0h2m8 0h1m-68 1h1m25 0h1m42 0h1m-170 1h1m170 0h1m-86 1h1m4 0h1m7 0h1m6 0h1m1 0h1m61 0h1m2 0h2m-75 1h1m14 0h1m55 0h1m9 0h1m-77 1h1m5 0h1m13 0h1m48 0h1m-89 1h1m21 0h1m2 0h1m59 0h1m1 0h1m1 0h1m1 0h1m-90 1h2m10 0h1m5 0h2m12 0h1m48 0h1m-83 1h2m1 0h1m14 0h1m3 0h1m9 1h1m2 0h2m49 0h1m-84 1h1m25 0h1m1 0h1m1 0h1m-86 1h1m17 0h1m5 0h1m33 0h2m12 0h1m2 0h1m2 0h1m-61 1h1m8 0h1m30 0h1m3 0h1m6 0h2m15 0h1m29 0h1m-115 1h1m5 0h1m73 0h1m2 0h1m1 0h2m28 0h1m-48 1h1m11 0h1m45 0h1m-124 1h1m24 0h1m21 0h1m23 0h1m2 0h1m5 0h1m1 0h1m-44 1h1m26 0h1m2 1h1m6 0h1m1 0h2m2 0h1m3 0h1m14 0h1m7 0h1m-111 1h1m20 0h1m10 0h1m48 0h1m3 0h1m1 0h1m16 0h1m-87 1h1m12 0h1m47 0h1m5 0h1m19 0h1m-104 1h1m26 0h1m37 0h1m3 0h1m12 0h1m16 0h1m-76 1h1m13 0h1m34 0h1m4 0h1m23 0h2m-109 1h1m32 0h1m53 0h1m23 0h1m3 0h1m-101 1h1m46 0h1m5 0h1m53 0h2m-54 1h1m2 0h1m2 0h2m3 0h1m4 0h1m5 0h1m15 0h1m-134 1h1m43 0h1m2 0h2m18 0h1m27 0h1m2 0h1m-99 1h1m31 0h1m10 0h1m45 0h1m1 0h1m10 0h1m13 0h1m23 0h1m1 0h1m7 0h1m1 0h1m-152 1h1m27 0h2m40 0h1m11 0h1m32 0h1m1 0h1m8 0h1m4 0h1m15 0h1m-71 1h1m17 0h1m8 0h1m3 0h1m16 0h1m5 0h1m7 0h1m-44 1h1m35 0h1m8 0h2m1 0h1m1 0h1m-114 1h1m49 0h1m16 0h1m-98 1h1m73 0h1m17 0h1m5 0h1m1 0h1m9 0h1m1 0h1m10 0h2m3 0h1m3 0h1m4 0h1m2 0h1m-131 1h1m35 0h1m16 0h1m3 0h1m25 0h1m7 0h1m10 0h1m7 0h1m14 0h2m-136 1h3m92 0h1m8 0h1m14 0h1m1 0h1m3 0h2m1 0h1m-126 1h1m48 0h1m1 0h1m73 0h1m-124 1h1m2 0h1m22 0h1m30 0h1m66 0h1m3 0h1m-125 1h1m49 0h1m2 0h1m5 0h2m18 0h1m9 0h1m3 0h1m1 0h1m9 0h1m11 0h1m-123 1h2m5 0h1m1 0h1m50 0h1m27 0h2m4 0h1m4 0h1m2 0h1m26 0h1m-122 1h2m50 0h1m25 0h1m31 0h1m-18 1h1m4 0h1m-108 1h1m5 0h1m2 0h1m2 0h1m2 0h1m42 0h1m22 0h1m11 0h1m13 0h1m1 0h1m3 0h1m-112 1h1m30 0h2m33 0h1m14 0h1m36 0h1m-87 1h1m48 0h1m29 0h1m5 0h1m2 0h1m-63 1h1m20 0h1m17 0h1m5 0h1m-94 1h1m51 0h1m1 0h1m32 0h1m1 0h1m-101 1h1m100 0h2m-34 1h1m6 0h1m2 0h2m-69 1h1m54 0h1m4 0h1m6 0h1m8 0h1m7 0h2m4 0h1m-107 1h1m16 0h1m60 0h2m4 0h2m16 0h1m-105 1h1m18 0h1m60 0h1m21 0h1m8 0h1m-52 1h1m9 0h1m9 0h1m20 0h1m-100 1h1m2 0h1m13 0h1m2 0h2m39 0h1m15 0h1m1 0h1m3 0h1m3 0h1m9 0h1m1 0h3m2 0h1m6 0h1m-104 1h1m11 0h1m30 0h1m16 0h1m10 0h1m2 0h1m1 0h1m4 0h1m-90 1h1m85 0h3m14 0h1m-39 1h1m29 0h1m-73 1h1m37 0h1m22 0h1m13 0h1m-50 1h1m29 0h1m14 0h1m-48 1h1m1 0h1m2 0h1m11 0h1m21 0h1m7 0h1m-90 1h1m24 0h1m36 0h1m13 0h1m12 0h1m1 0h1m-5 2h1m-88 1h1m41 0h1m43 0h1m-53 1h2m4 0h1m8 0h1m1 0h1m11 0h1m-57 1h2m15 0h1m2 0h1m15 0h1m31 0h1m-68 1h1m16 0h1m50 0h1m-40 1h1m-12 1h1m5 0h1m-17 1h1m5 0h1m4 1h1m-14 2h1m4 0h1m3 0h1m-11 1h1"/><path stroke="#28ae80" d="M158 8h1m9 0h1m-11 1h1m20 0h1m-24 1h1m2 0h1m2 0h1m4 0h1m4 0h1m3 0h1m-8 1h2m1 0h1m-26 1h2m6 0h1m27 0h1m-2 1h1m-23 1h1m23 0h1m-41 1h1m23 0h1m6 0h1m4 0h1m-3 2h1m-24 1h1m12 0h1m9 0h1m-38 2h1m34 0h1m1 0h1m-4 1h1m-42 2h1m1 0h1m31 0h1m-33 1h1m22 0h1m3 0h1m-32 1h1m5 0h1m2 0h1m4 0h1m20 0h1m-32 1h1m24 0h1m1 0h1m-5 1h1m15 0h1m1 0h1m9 0h1m-26 1h1m14 0h2m-44 1h1m4 0h1m2 0h1m13 0h1m1 0h1m1 0h1m1 0h1m-1 1h1m17 0h1m1 0h1m-53 1h1m25 0h1m1 0h2m10 0h1m-9 1h1m-35 1h1m11 0h2m4 0h2m23 0h1m2 0h1m-49 1h2m8 0h1m1 0h1m1 0h1m8 0h1m7 0h1m1 0h1m9 0h1m-23 1h1m1 0h1m1 0h1m1 0h1m3 0h1m12 0h1m18 0h1m-49 1h1m-2 1h1m2 0h1m11 0h1m6 0h1m11 0h1m12 0h1m-54 1h1m14 0h1m24 0h1m-46 1h1m2 0h1m1 0h1m6 0h1m4 0h1m15 0h1m8 0h1m2 0h1m14 0h1m-56 1h1m20 0h1m7 0h1m4 0h1m5 0h1m14 0h1m-41 1h1m18 0h1m2 0h1m-52 1h1m5 0h1m7 0h1m36 0h1m2 0h1m-50 1h1m7 0h1m40 0h1m2 0h1m-56 1h1m11 0h1m23 0h1m16 0h1m-53 1h1m26 0h1m-37 1h1m16 0h2m15 0h1m2 0h1m24 0h4m-56 1h1m2 0h1m9 0h1m19 0h1m20 0h2m-52 1h1m-11 1h1m59 0h1m-39 1h1m14 0h1m25 0h1m5 0h1m-62 1h1m20 0h1m28 0h1m2 0h1m-46 1h1m22 0h1m19 0h2m-47 1h1m2 0h1m6 0h2m22 0h1m5 0h1m7 0h2m-76 1h1m4 0h1m10 0h2m3 0h1m18 0h1m4 0h1m17 0h1m-55 1h1m8 0h1m29 0h1m14 0h1m2 0h1m1 0h1m-64 1h1m4 0h2m35 0h1m9 0h1m-54 1h1m12 0h1m2 0h1m5 0h1m45 0h1m-63 1h1m2 0h1m49 0h1m-60 1h2m20 0h2m19 0h1m-27 1h1m-22 1h1m1 0h1m1 0h1m35 0h2m-45 1h1m3 0h2m16 0h1m6 0h1m41 0h1m-65 1h2m1 0h1m-10 1h1m2 0h1m4 0h1m38 0h1m19 0h1m3 0h1m-129 1h1m78 0h1m7 0h1m24 0h1m16 0h1m-67 1h2m20 0h1m25 0h1m7 0h2m6 0h1m-121 1h1m55 0h1m17 0h1m24 0h1m13 0h1m5 0h1m-69 1h2m28 0h1m19 0h1m3 0h1m2 0h1m-115 1h1m59 0h1m1 0h1m10 0h1m41 0h1m14 0h1m-75 1h1m48 0h1m10 0h1m1 0h1m10 0h1m-79 1h1m44 0h2m9 0h1m15 0h1m10 0h1m-83 1h1m9 0h1m31 0h1m2 0h1m6 0h1m-104 1h1m60 0h1m14 0h1m17 0h1m3 0h1m6 0h1m29 0h1m-139 1h1m65 0h1m22 0h1m3 0h1m16 0h2m14 0h1m20 0h1m4 0h1m-97 1h1m35 0h1m3 0h1m14 0h1m-98 1h1m45 0h1m8 0h1m8 0h1m15 0h1m1 0h1m4 0h1m11 0h1m-56 1h1m5 0h1m8 0h1m12 0h1m5 0h1m-82 1h1m54 0h1m16 0h1m8 0h1m1 0h1m11 0h1m6 0h1m-55 1h1m6 0h1m1 0h1m21 0h1m2 0h1m2 0h1m1 0h1m3 0h1m4 0h1m5 0h1m1 0h1m4 0h1m-51 1h1m4 0h1m8 0h2m2 0h1m4 0h3m8 0h1m6 0h1m20 0h2m-134 1h1m74 0h1m9 0h1m2 0h1m29 0h1m18 0h1m-132 1h1m40 0h1m17 0h1m22 0h1m13 0h1m-82 1h1m51 0h1m14 0h1m3 0h1m8 0h1m4 0h1m1 0h1m6 0h1m15 0h1m1 0h1m-176 1h1m106 0h1m8 0h1m5 0h1m4 0h1m4 0h1m1 0h1m11 0h1m26 0h1m9 0h1m-93 1h1m7 0h2m2 0h1m3 0h1m1 0h3m10 0h1m-70 1h1m39 0h2m15 0h1m7 0h1m2 0h1m5 0h1m6 0h1m28 0h1m6 0h2m15 0h1m-134 1h1m40 0h1m1 0h1m14 0h1m5 0h2m4 0h2m2 0h1m-40 1h1m12 0h1m4 0h1m2 0h1m12 0h1m47 0h1m7 0h1m-87 1h1m10 0h1m1 0h1m2 0h1m2 0h1m18 0h1m46 0h1m-82 1h1m6 0h1m1 0h1m3 0h1m1 0h1m61 0h1m3 0h1m-110 1h1m26 0h2m13 0h1m7 0h1m7 0h1m-10 1h1m38 0h1m18 0h1m-94 1h1m19 0h1m69 1h1m-121 1h1m38 0h1m16 0h1m4 0h1m9 0h1m1 0h1m1 0h1m48 0h1m-88 1h1m1 0h1m15 0h1m5 0h1m-10 1h1m5 0h1m8 0h1m5 0h1m-67 1h1m32 0h1m-4 1h1m12 0h1m9 0h1m12 0h1m-89 1h1m3 0h1m53 0h1m2 0h1m9 0h1m2 0h1m3 0h1m4 0h1m-55 1h1m24 0h2m3 0h1m23 0h1m-60 1h1m53 0h1m13 0h1m24 0h1m9 0h1m-55 1h2m6 0h1m30 0h1m10 0h1m4 0h1m-66 1h1m12 0h1m1 0h1m28 0h3m-88 1h1m43 0h1m7 0h1m11 0h1m32 0h1m2 0h1m5 0h1m-63 1h1m7 0h1m15 0h2m12 0h1m6 0h1m1 0h1m15 0h1m-113 1h1m51 0h2m12 0h1m10 0h1m15 0h1m-108 1h2m63 0h1m1 0h1m2 0h1m39 0h1m-73 1h1m21 0h1m10 0h2m33 0h1m5 0h1m1 0h1m1 0h1m3 0h1m-107 1h1m48 0h1m8 0h1m-53 1h1m15 1h1m26 0h1m18 0h1m26 0h1m3 0h2m3 0h1m-75 1h1m14 0h1m3 0h1m34 0h2m-99 1h1m19 0h1m44 0h1m12 0h1m18 0h1m3 0h1m1 0h1m7 0h1m-111 1h1m7 0h1m9 0h1m45 0h1m12 0h1m7 0h1m14 0h1m3 0h1m14 0h1m-116 1h1m45 0h1m8 0h1m16 0h1m20 0h1m5 0h1m1 0h2m-98 1h1m2 0h1m32 0h1m29 0h1m39 0h1m1 0h1m-89 1h1m14 0h1m32 0h1m31 0h2m3 0h1m1 0h1m-142 1h2m97 0h1m23 0h1m2 0h1m2 0h1m-61 1h1m3 0h1m19 0h1m4 0h1m14 0h1m25 0h1m-127 1h1m24 0h1m54 0h1m15 0h1m17 0h1m6 0h1m-75 1h1m9 0h1m28 0h1m8 0h1m5 0h1m9 0h1m6 0h1m-64 1h1m25 0h1m7 0h1m7 0h1m6 0h1m8 0h1m4 0h1m-114 1h1m47 0h1m1 0h1m46 0h1m7 0h1m-113 1h1m54 0h1m2 0h1m28 0h1m6 0h1m3 0h1m5 0h1m2 0h1m1 0h1m1 0h1m4 0h1m-119 1h1m59 0h1m21 0h1m10 0h1m4 0h1m10 0h1m2 0h1m-68 1h1m12 0h1m24 0h1m14 0h1m4 0h1m6 0h2m5 0h1m-53 1h1m16 0h1m8 0h1m10 0h1m2 0h1m-109 1h1m11 0h1m89 0h1m1 0h1m1 0h1m2 0h1m9 0h1m1 0h1m-65 1h1m20 0h1m19 0h1m-43 1h1m15 0h1m8 0h1m37 0h1m-56 1h1m12 0h1m32 0h1m-48 1h1m8 0h1m7 0h1m18 0h1m2 0h1m3 0h1m-98 1h1m57 0h1m5 0h1m11 0h1m12 0h1m-97 1h1m66 0h1m1 0h1m22 0h1m22 0h1m-123 1h1m2 0h1m72 0h1m2 0h1m6 0h1m-18 1h1m9 0h1m6 0h1m16 0h1m-100 1h1m67 0h1m25 0h1m-78 1h1m81 0h1m4 0h1m-100 1h1m7 0h1m5 0h1m80 0h1m2 0h1m3 0h1m-109 1h1m62 0h1m34 0h1m-78 1h1m25 0h1m19 0h1m15 0h1m21 0h1m-23 1h1m6 0h1m10 0h1m-75 1h1m17 0h1m35 0h1m15 0h1m-55 1h1m14 0h1m4 0h1m8 0h1m7 0h2m14 0h1m-96 1h1m4 0h1m4 0h1m72 0h1m11 0h1m2 0h1m-49 1h1m-34 1h1m23 0h1m4 0h1m8 0h1m2 0h1m-49 1h1m45 0h1m4 0h1m3 0h1m-34 1h1m4 0h1m4 0h1m15 0h1m1 0h1m14 0h1m-34 1h1m-18 1h1m4 0h1m8 0h2m35 0h1m-46 1h1m-21 1h1m21 0h1m-9 1h1m-14 2h1m4 1h1m2 0h1m-1 1h1"/><path stroke="#38b977" d="M163 7h1m-7 1h1m9 0h1m1 1h1m3 0h1m-20 1h1m3 0h1m11 0h1m4 0h1m-26 1h1m2 0h1m17 0h1m10 0h1m-25 1h1m7 0h1m7 0h1m7 0h1m1 0h1m-14 2h1m1 0h1m-6 2h1m3 0h1m2 0h1m-34 1h1m32 0h1m-36 2h1m27 0h1m13 0h1m-9 1h2m-37 1h1m33 0h1m4 0h1m-11 1h1m-11 2h1m15 1h1m12 0h1m-48 1h1m14 0h1m-19 1h1m31 0h1m6 0h1m2 0h2m-50 1h1m9 0h1m-1 1h1m8 0h1m13 0h1m2 0h1m-33 1h1m7 0h1m23 0h1m7 0h1m2 0h1m-45 1h1m5 0h1m1 0h1m24 0h1m-38 1h1m9 0h1m2 0h2m33 0h1m6 0h1m-50 1h1m18 0h1m1 0h1m2 0h1m7 0h1m2 0h1m5 0h1m6 0h1m-50 1h1m6 0h1m2 0h1m13 0h1m13 0h1m5 0h1m2 0h1m-16 1h1m1 0h1m12 0h1m1 0h1m-49 1h1m4 0h1m7 0h1m4 0h1m31 0h1m3 0h1m-54 1h1m13 0h1m32 0h1m-53 1h1m29 0h1m10 0h1m13 0h1m4 0h1m-31 1h1m6 0h1m4 0h1m14 0h1m-59 1h1m17 0h1m26 0h1m2 0h1m9 0h1m-60 1h1m2 0h1m28 0h1m5 0h1m10 0h1m11 0h1m-63 1h1m8 0h1m7 0h1m1 0h1m15 0h2m-48 1h2m15 0h1m55 0h1m-67 1h1m16 0h1m9 0h1m3 0h1m9 0h1m10 0h1m-43 1h1m7 0h1m9 0h1m20 0h1m3 0h1m9 0h1m-62 1h2m2 0h1m32 0h1m4 0h1m3 0h2m-39 1h1m3 0h1m10 0h1m9 0h1m-43 1h2m4 0h1m4 0h1m42 0h2m-49 1h1m1 0h1m1 0h1m11 0h1m1 0h1m3 0h1m1 0h1m25 0h1m-58 1h1m14 0h1m12 0h1m14 0h1m9 0h1m18 0h1m-78 1h1m14 0h1m21 0h1m17 0h1m5 0h1m3 0h1m3 0h1m-41 1h1m24 0h1m8 0h1m-69 1h1m54 0h2m3 0h1m2 0h1m5 0h1m-60 1h1m5 0h1m46 0h1m-61 1h1m30 0h1m-37 1h1m2 0h1m16 0h1m1 0h1m5 0h1m1 0h1m1 0h1m16 0h1m12 0h1m-48 1h1m2 0h1m8 0h1m19 0h1m18 0h1m-62 1h1m15 0h1m1 0h1m1 0h1m21 0h1m18 0h1m-49 1h1m42 0h1m-55 1h1m8 0h1m1 0h1m16 0h1m5 0h1m22 0h1m-66 1h1m5 0h1m4 0h1m2 0h1m16 0h1m3 0h1m22 0h1m3 0h1m1 0h1m4 0h1m1 0h1m-68 1h1m6 0h1m1 0h1m12 0h1m4 0h1m21 0h1m11 0h1m5 0h1m-53 1h1m-10 1h1m19 0h1m36 0h1m5 0h1m-46 1h1m22 0h1m5 0h1m9 0h1m24 0h1m-30 1h1m7 0h1m-130 1h1m57 0h1m5 0h1m3 0h1m13 0h1m8 0h1m18 0h1m5 0h1m2 0h1m1 0h1m-122 1h1m56 0h1m4 0h1m18 0h1m1 0h1m1 0h1m15 0h1m16 0h1m-61 1h1m8 0h1m16 0h1m1 0h1m17 0h1m2 0h1m2 0h1m6 0h2m4 0h1m-85 1h1m37 0h1m20 0h1m8 0h2m15 0h1m-26 1h1m22 0h1m14 0h1m-81 1h2m1 0h1m8 0h1m20 0h1m6 0h1m4 0h1m12 0h2m-55 1h1m27 0h1m6 0h2m13 0h1m5 0h1m-69 1h1m5 0h1m5 0h3m1 0h1m3 0h1m4 0h1m3 0h1m11 0h1m5 0h1m35 0h1m10 0h2m-130 1h1m39 0h1m1 0h1m7 0h1m21 0h1m4 0h1m2 0h1m5 0h1m1 0h1m10 0h1m1 0h1m-62 1h1m8 0h1m12 0h1m3 0h1m16 0h1m5 0h1m2 0h1m4 0h1m-52 1h1m3 0h1m1 0h1m1 0h1m3 0h4m28 0h1m21 0h1m8 0h1m5 0h1m-90 1h1m41 0h1m34 0h1m-122 1h1m5 0h1m42 0h1m20 0h3m2 0h1m2 0h1m1 0h1m36 0h2m-76 1h1m25 0h1m10 0h1m10 0h2m4 0h1m9 0h1m16 0h1m-79 1h1m3 0h1m6 0h1m21 0h1m3 0h1m9 0h1m5 0h1m30 0h1m-86 1h2m2 0h2m24 0h1m3 0h1m1 0h1m16 0h1m9 0h1m1 0h1m7 0h1m-74 1h1m5 0h1m20 0h1m10 0h1m8 0h1m-101 1h1m1 0h1m50 0h1m9 0h1m10 0h1m1 0h1m1 0h2m4 0h1m14 0h1m11 0h1m17 0h1m1 0h1m7 0h1m-71 1h1m17 0h1m3 0h1m12 0h1m4 0h1m15 0h1m2 0h1m1 0h2m1 0h2m-88 1h1m2 0h1m7 0h1m9 0h1m35 0h1m22 0h1m-66 1h1m2 0h1m9 0h1m51 0h1m-64 1h1m2 0h1m23 0h1m39 0h1m-110 1h1m22 0h1m20 0h1m12 0h1m2 0h1m7 0h1m-2 1h1m36 0h1m-88 1h1m19 0h1m1 0h3m8 0h1m2 0h1m5 0h1m5 0h2m38 0h1m-63 1h1m1 0h1m8 0h1m50 0h1m1 0h1m-85 1h1m19 0h1m1 0h1m3 0h1m4 0h1m50 0h1m-62 1h1m1 0h1m42 0h1m22 0h2m-71 1h1m2 0h1m9 0h1m1 0h1m50 0h1m-84 1h1m17 0h2m2 0h1m42 0h1m16 0h1m-118 1h2m2 0h1m31 0h1m17 0h3m7 0h1m-66 1h1m36 0h2m23 0h1m34 0h2m19 0h1m-81 1h1m16 0h1m5 0h1m8 0h1m-68 1h1m37 0h1m9 0h1m1 0h1m-68 1h1m54 0h1m10 0h2m5 0h2m5 0h1m5 0h1m27 0h1m3 0h1m-52 1h1m11 0h1m1 0h1m27 0h3m9 0h1m-64 1h1m19 0h2m31 0h1m10 0h1m-64 1h1m10 0h1m1 0h1m1 0h1m9 0h1m20 0h1m4 0h1m-72 1h1m32 0h1m32 0h2m1 0h1m2 0h1m-73 1h1m20 0h1m1 0h1m1 0h1m6 0h1m11 0h1m18 0h1m2 0h1m1 0h1m4 0h2m4 0h1m-58 1h3m5 0h1m10 0h1m1 0h1m29 0h1m3 0h1m4 0h1m1 0h1m-57 1h1m15 0h1m25 0h1m7 0h1m1 0h1m-61 1h1m49 0h1m-95 1h1m36 0h1m9 0h1m10 0h1m10 0h1m-24 1h1m5 0h1m6 0h1m1 0h1m3 0h1m29 0h1m6 0h2m-57 1h1m12 0h1m6 0h1m31 0h1m-143 1h1m36 0h1m6 0h1m22 0h1m3 0h2m3 0h1m1 0h1m-33 1h1m56 0h1m4 0h1m1 0h1m24 0h1m7 0h1m-96 1h1m48 0h1m9 0h1m21 0h1m3 0h1m6 0h1m7 0h1m-51 1h1m9 0h1m19 0h2m9 0h1m-39 1h1m2 0h1m23 0h1m4 0h1m1 0h1m5 0h1m4 0h1m-111 1h1m2 0h1m54 0h1m7 0h1m8 0h1m11 0h1m1 0h1m2 0h1m-34 1h1m4 0h1m2 0h1m1 0h1m16 0h1m5 0h1m4 0h1m-125 1h1m84 0h1m39 0h1m-60 1h1m27 0h1m3 0h1m3 0h1m1 0h1m5 0h1m2 0h2m17 0h1m-91 1h1m42 0h1m1 0h1m6 0h1m10 0h1m4 0h1m-65 1h1m19 0h1m23 0h1m10 0h2m24 0h1m1 0h2m-68 1h1m5 0h1m11 0h1m8 0h1m5 0h1m2 0h1m11 0h1m9 0h1m2 0h1m-60 1h1m22 0h2m16 0h1m6 0h1m1 0h1m4 0h1m2 0h1m4 0h1m-130 1h2m85 0h1m15 0h2m3 0h1m9 0h1m6 0h1m-125 1h1m33 0h1m74 0h1m-109 1h1m58 0h1m54 0h1m1 0h1m7 0h1m-128 1h1m3 0h1m102 0h1m-105 1h1m113 0h1m-118 1h1m74 0h1m3 0h1m22 0h1m1 0h1m6 0h1m-102 1h1m87 0h1m5 0h1m-104 1h1m11 0h1m53 0h1m3 0h1m6 0h1m4 0h1m18 0h1m11 0h1m5 0h1m-123 1h1m1 0h1m98 0h1m1 0h1m-86 1h1m53 0h1m30 0h1m-97 1h1m64 0h1m8 0h1m1 0h1m-83 1h1m4 0h1m67 0h1m29 0h2m-101 1h1m41 0h1m35 0h1m18 0h1m1 0h1m-94 1h1m3 0h1m30 0h1m52 0h1m3 0h1m1 0h1m-104 1h1m14 0h1m2 0h1m49 0h1m26 0h1m9 0h1m-107 1h1m2 0h1m14 0h2m27 0h1m17 0h1m17 0h1m3 0h1m6 0h1m12 0h1m-11 1h1m4 0h1m4 0h1m-102 1h1m57 0h1m-17 1h2m13 0h1m17 0h1m3 0h1m-84 1h1m23 0h2m1 0h1m3 0h1m12 0h2m5 0h1m2 0h1m26 0h1m2 0h1m8 0h1m-78 1h1m1 0h1m14 0h1m1 0h1m2 0h1m2 0h1m1 0h1m15 0h1m7 0h2m3 0h1m2 0h1m4 0h1m-71 1h1m12 0h1m2 0h1m18 0h1m6 0h2m19 0h1m2 0h2m-34 1h2m5 0h1m24 0h1m3 0h1m-77 1h1m10 0h1m9 0h1m1 0h1m1 0h2m15 0h2m14 0h1m25 0h1m-79 1h1m2 0h2m21 0h1m35 0h1m-48 1h1m1 0h1m-27 1h1m21 0h1m19 0h1m-26 1h1m9 0h1m10 0h2m-13 1h2m-14 1h1m7 0h1m-14 1h1m3 0h1m7 0h2m-11 1h1m1 0h1m2 0h1"/><path stroke="#50c46a" d="M161 8h1m-7 1h1m18 0h1m8 0h1m-27 1h1m16 0h1m2 0h1m1 0h3m-7 1h1m8 0h1m-25 1h1m12 0h1m-16 1h1m15 0h2m1 0h1m-33 1h1m28 0h1m4 1h1m-12 2h1m7 0h1m3 0h1m-12 1h2m6 1h2m-2 1h1m-10 1h1m8 0h1m-43 1h1m40 0h1m-33 1h1m27 0h1m3 0h1m-16 1h1m5 0h1m-15 1h1m7 0h2m13 0h1m-46 1h1m30 0h1m3 0h2m6 0h2m-35 1h1m18 0h1m1 0h2m-1 1h1m9 0h1m1 0h1m-45 1h1m28 0h1m15 0h1m-44 1h1m10 0h1m-4 1h1m2 0h1m23 0h1m4 0h2m-36 1h1m8 0h2m9 0h1m1 0h1m12 0h1m2 0h1m2 0h1m-38 1h1m32 0h1m1 0h1m3 0h2m-44 1h1m3 0h1m11 0h1m-16 1h1m2 0h2m1 0h1m22 0h1m2 0h1m-24 1h1m2 0h1m16 0h1m3 0h1m3 0h1m-43 1h1m2 0h1m30 0h1m14 0h1m-53 1h1m2 0h1m5 0h1m15 0h1m26 0h1m-54 1h1m18 0h1m3 0h1m20 0h1m2 0h1m-62 1h1m14 0h1m6 0h1m2 0h1m18 0h1m8 0h1m-20 1h1m13 0h1m10 0h2m9 0h1m-67 1h1m54 0h1m-54 1h1m4 0h1m2 0h2m6 0h2m3 0h1m18 0h2m-1 1h1m6 0h1m-56 1h1m32 0h1m38 0h1m-67 1h1m5 0h1m20 0h1m5 0h1m-18 1h1m7 0h1m16 0h1m8 0h1m-32 1h1m17 0h1m5 0h2m-31 1h1m23 0h1m10 0h1m16 0h1m-62 1h1m1 0h1m11 0h2m17 0h1m3 0h1m7 0h1m-27 1h1m19 0h2m-25 1h1m2 0h1m19 0h1m-34 1h1m25 0h1m9 0h1m5 0h1m3 0h1m9 0h1m-58 1h1m3 0h1m18 0h1m22 0h1m-62 1h1m9 0h1m8 0h2m32 0h1m2 0h1m-60 1h1m22 0h1m40 0h1m-68 1h1m22 0h2m27 0h1m7 0h1m-64 1h1m4 0h1m14 0h1m3 0h2m14 0h1m-26 1h1m4 0h1m1 0h1m8 0h1m32 0h1m1 0h2m-59 1h1m1 0h2m11 0h1m3 0h1m6 0h1m27 0h1m-55 1h1m6 0h1m8 0h1m22 0h1m1 0h1m9 0h1m1 0h2m-67 1h2m4 0h1m18 0h1m20 0h1m11 0h1m4 0h1m-64 1h2m9 0h1m23 0h1m10 0h1m4 0h1m17 0h2m-128 1h2m60 0h1m2 0h1m2 0h1m12 0h1m4 0h1m23 0h1m-51 1h1m1 0h1m4 0h1m1 0h1m13 0h1m21 0h1m15 0h1m23 0h1m5 0h1m-87 1h1m14 0h1m4 0h1m-30 1h1m1 0h1m2 0h1m8 0h1m14 0h1m1 0h2m18 0h1m6 0h1m2 0h1m32 0h1m-87 1h1m1 0h1m26 0h1m9 0h1m9 0h1m6 0h1m1 0h2m3 0h2m-70 1h1m1 0h1m5 0h2m10 0h1m2 0h1m6 0h2m14 0h1m6 0h1m1 0h1m4 0h1m12 0h1m1 0h1m-70 1h1m4 0h1m8 0h1m3 0h1m20 0h1m15 0h1m1 0h1m12 0h2m-88 1h1m14 0h1m2 0h2m9 0h1m7 0h2m3 0h1m2 0h1m6 0h1m1 0h1m15 0h1m28 0h1m-85 1h1m10 0h1m4 0h1m4 0h1m5 0h2m9 0h1m2 0h2m9 0h1m7 0h1m3 0h1m6 0h1m-81 1h2m10 0h1m11 0h1m5 0h1m5 0h1m1 0h1m11 0h1m7 0h1m14 0h1m2 0h2m-67 1h1m3 0h1m9 0h1m7 0h1m3 0h1m4 0h1m1 0h1m2 0h1m1 0h1m2 0h1m6 0h1m-52 1h1m12 0h1m1 0h1m2 0h1m-28 1h1m2 0h1m11 0h1m1 0h2m1 0h2m3 0h2m19 0h1m2 0h1m13 0h1m5 0h1m2 0h1m2 0h1m9 0h1m-86 1h1m3 0h1m11 0h1m8 0h1m11 0h1m1 0h1m8 0h3m18 0h1m15 0h1m-175 1h1m88 0h1m10 0h1m12 0h1m5 0h1m6 0h1m11 0h1m2 0h1m11 0h1m8 0h2m-83 1h1m5 0h1m24 0h1m24 0h1m26 0h1m-77 1h1m20 0h2m5 0h1m14 0h1m-93 1h1m48 0h1m14 0h1m1 0h1m11 0h1m4 0h1m6 0h1m14 0h1m3 0h1m-63 1h1m1 0h1m47 0h1m3 0h2m3 0h1m12 0h1m2 0h1m4 0h1m1 0h1m1 0h1m-138 1h1m51 0h1m21 0h1m7 0h1m1 0h1m4 0h1m1 0h1m18 0h2m15 0h2m3 0h1m1 0h2m-86 1h1m32 0h1m2 0h1m1 0h1m17 0h1m4 0h1m4 0h1m11 0h1m1 0h1m-55 1h3m53 0h1m-84 1h1m19 0h1m2 0h2m4 0h1m4 0h1m35 0h1m6 0h2m-104 1h1m24 0h1m13 0h1m29 0h1m35 0h1m-78 1h1m9 0h3m14 0h1m34 0h1m12 0h1m-101 1h1m35 0h1m7 0h1m7 0h1m1 0h1m36 0h1m14 0h1m3 0h1m1 0h1m-79 1h1m24 0h2m2 0h1m42 0h1m5 0h1m-94 1h1m45 0h1m34 0h1m1 0h1m1 0h1m8 0h2m-115 1h1m36 0h1m23 0h1m2 0h1m41 0h1m5 0h1m-102 1h1m26 0h1m7 0h1m1 0h2m3 0h5m3 0h1m1 0h1m38 0h1m1 0h1m1 0h1m-97 1h1m10 0h1m33 0h2m31 0h1m9 0h1m-53 1h1m55 0h1m-65 1h1m15 0h1m-28 1h1m19 0h1m8 0h1m-16 2h1m12 0h1m29 1h1m3 0h1m13 0h1m1 0h1m-79 1h1m3 0h1m11 0h1m7 0h1m34 0h1m9 0h1m-66 1h2m15 1h2m11 0h2m32 0h1m-46 1h1m11 0h1m18 0h1m1 0h1m2 0h2m14 0h1m1 0h1m-71 1h2m22 0h1m1 0h1m21 0h1m3 1h1m4 0h1m2 0h1m-62 1h1m49 0h1m-51 1h1m29 0h1m16 0h1m9 0h1m7 0h1m-58 1h1m14 0h1m41 0h1m-81 1h1m22 0h1m48 0h1m6 0h1m-61 1h1m2 0h1m9 0h1m43 1h1m-110 1h1m87 0h1m9 0h1m1 0h1m7 0h1m3 0h1m-50 1h1m2 0h1m22 0h1m8 0h1m5 0h1m-71 1h1m6 0h1m14 0h1m7 0h2m12 0h1m17 0h1m2 0h1m3 0h2m-13 1h1m6 0h1m7 0h1m-17 1h1m6 0h1m7 0h1m-13 1h2m7 0h1m-18 1h1m5 0h1m11 0h1m-69 1h1m63 0h2m-54 1h1m8 0h1m43 0h1m2 0h1m-109 1h1m57 0h1m6 0h1m1 0h1m10 0h1m27 0h1m-93 1h1m58 0h1m18 0h1m6 0h1m-116 1h1m92 0h1m12 0h1m2 0h1m3 1h1m-56 1h1m42 0h2m6 0h2m2 0h1m-120 1h1m2 0h1m53 0h1m26 0h1m14 0h1m13 0h2m4 0h1m-112 1h1m87 0h1m1 0h3m6 0h1m-55 1h1m4 0h1m4 0h1m40 0h2m-111 1h2m70 0h1m45 0h1m2 0h1m-115 1h1m73 0h1m31 0h1m3 0h1m1 0h1m-113 1h1m47 0h1m-50 1h1m3 0h1m89 0h1m-104 1h1m1 0h1m1 0h1m74 0h1m28 0h1m-110 1h1m1 0h1m4 0h1m4 0h1m68 0h2m21 0h1m3 0h1m-106 1h1m13 0h1m57 0h1m10 0h1m34 0h1m-117 1h1m9 0h1m9 0h1m59 0h1m19 0h1m-89 1h1m1 0h1m83 0h1m-85 1h1m4 0h1m61 0h1m16 0h1m2 0h1m-40 1h1m18 0h1m19 0h1m-102 1h1m13 0h1m59 0h1m12 0h2m6 0h1m8 0h1m-105 1h1m2 0h1m11 0h1m1 0h2m49 0h1m37 0h1m-107 1h1m46 0h1m-9 1h2m24 0h1m25 0h1m5 0h1m3 0h2m-73 1h1m1 0h1m4 0h1m11 0h1m8 0h1m6 0h1m16 0h1m8 0h1m5 0h1m-85 1h1m8 0h1m3 0h1m5 0h1m1 0h1m1 0h1m5 0h1m8 0h1m2 0h1m5 0h1m5 0h1m4 0h1m1 0h2m1 0h1m2 0h1m6 0h1m4 0h2m-81 1h1m12 0h1m7 0h2m3 0h5m6 0h1m7 0h1m1 0h1m1 0h1m5 0h1m1 0h1m2 0h1m1 0h2m2 0h1m6 0h1m-75 1h1m6 0h1m3 0h2m4 0h3m1 0h1m3 0h2m2 0h1m8 0h1m7 0h1m3 0h1m6 0h2m1 0h1m-63 1h1m7 0h1m6 0h1m14 0h1m23 0h1m2 0h1m1 0h2m1 0h2m2 0h2m1 0h1m2 0h1m1 0h1m1 0h3m-73 1h1m55 0h1m2 0h1m-74 1h1m11 0h1m10 0h1m8 0h1m1 0h1m1 0h1m2 0h1m37 0h1m-66 1h1m6 0h1m11 0h1m4 0h1m-24 1h1m6 0h1m3 0h1m11 0h2m-15 1h1m1 0h2m-17 1h1m11 0h1m5 0h1m-10 1h1m-3 1h1m2 0h1m1 0h1m-5 1h1m1 0h1m-7 1h1"/><path stroke="#6ccd5a" d="M159 8h1m7 1h1m2 0h1m5 0h1m4 0h1m-19 1h1m4 1h1m10 1h1m1 0h1m-9 1h1m2 0h1m2 0h1m-1 1h1m-8 1h1m-4 1h1m4 0h1m1 0h1m-23 1h1m19 0h1m7 1h1m-7 1h1m-7 1h1m-10 2h1m8 0h3m-4 1h1m5 0h1m-43 1h1m53 0h1m-18 1h1m2 0h1m-34 2h1m23 0h1m9 0h1m-33 1h1m16 0h1m6 0h1m7 0h1m4 0h1m-7 1h1m-15 1h1m6 0h1m1 0h1m5 0h1m1 1h1m2 0h1m-23 1h1m10 0h2m14 0h1m-36 1h1m8 0h1m6 0h1m1 0h1m2 0h1m10 0h1m-44 1h1m10 0h1m1 0h1m9 0h1m15 0h1m3 0h1m-46 1h1m2 0h2m2 0h1m5 0h1m25 0h5m9 0h1m-53 1h1m2 0h1m5 0h1m1 0h1m2 0h2m22 0h1m1 0h1m1 0h1m3 0h1m1 0h1m-48 1h1m7 0h1m1 0h1m5 0h1m3 0h1m17 0h3m8 0h1m3 0h1m-52 1h1m3 0h1m1 0h1m9 0h1m2 0h1m4 0h1m19 0h1m-31 1h1m1 0h1m1 0h2m26 0h2m-52 1h1m8 0h1m1 0h1m3 0h1m8 0h2m15 0h1m3 0h1m1 0h1m7 0h2m-64 1h1m15 0h1m9 0h1m1 0h1m-27 1h1m11 0h1m9 0h1m2 0h2m18 0h1m5 0h1m4 0h1m2 0h1m-69 1h1m5 0h1m8 0h1m1 0h1m2 0h1m1 0h1m15 0h1m18 0h1m10 0h1m1 0h1m-69 1h1m8 0h1m9 0h1m6 0h1m3 0h1m9 0h1m10 0h1m11 0h1m-58 1h1m9 0h1m4 0h1m3 0h1m2 0h1m19 0h1m-35 1h1m5 0h1m22 0h1m4 0h1m3 0h1m-62 1h1m11 0h1m1 0h1m15 0h1m8 0h1m1 0h1m-42 1h1m11 0h2m4 0h1m4 0h1m2 0h1m2 0h1m9 0h1m1 0h1m1 0h1m-19 1h2m1 0h1m2 0h1m7 0h1m1 0h1m7 0h1m1 0h1m13 0h2m10 0h1m-62 1h1m12 0h3m1 0h2m5 0h1m20 0h1m-34 1h1m6 0h1m23 0h1m1 0h1m-43 1h1m10 0h2m3 0h1m18 0h1m10 0h1m7 0h2m-59 1h1m18 0h1m15 0h1m-59 1h1m9 0h1m20 0h1m4 0h1m1 0h1m6 0h1m13 0h1m6 0h1m-45 1h1m8 0h1m1 0h1m16 0h1m-45 1h1m11 0h1m4 0h1m10 0h2m14 0h1m3 0h1m-49 1h2m22 0h1m5 0h2m9 0h1m4 0h1m8 0h2m-58 1h1m10 0h1m11 0h1m7 0h1m-26 1h1m1 0h1m10 0h1m2 0h2m35 0h1m1 0h1m-66 1h1m3 0h1m5 0h1m4 0h1m10 0h1m32 0h1m7 0h1m-58 1h1m12 0h2m1 0h1m17 0h1m7 0h1m-44 1h1m17 0h1m21 0h1m4 0h1m3 0h2m-61 1h2m5 0h2m3 0h1m1 0h1m5 0h1m6 0h3m1 0h1m11 0h1m3 0h2m2 0h2m-55 1h1m2 0h2m1 0h1m2 0h1m2 0h1m2 0h1m3 0h1m3 0h1m1 0h1m1 0h2m2 0h1m12 0h1m3 0h1m13 0h1m5 0h1m21 0h1m2 0h1m-78 1h1m1 0h2m4 0h2m1 0h1m2 0h1m7 0h1m11 0h1m12 0h1m5 0h1m3 0h1m-75 1h1m1 0h1m1 0h1m5 0h1m2 0h1m1 0h1m7 0h1m1 0h1m24 0h1m5 0h1m11 0h1m2 0h1m18 0h1m4 0h1m-93 1h2m5 0h1m6 0h1m1 0h2m6 0h1m9 0h1m5 0h1m2 0h1m1 0h1m5 0h1m40 0h1m-93 1h2m6 0h1m4 0h1m2 0h1m1 0h2m6 0h1m9 0h1m9 0h2m1 0h2m-54 1h1m7 0h1m19 0h1m3 0h1m2 0h1m9 0h1m5 0h2m24 0h1m-77 1h1m3 0h1m4 0h1m2 0h1m5 0h1m2 0h1m5 0h1m2 0h3m3 0h1m6 0h1m12 0h1m20 0h1m6 0h1m10 0h1m-94 1h1m9 0h1m34 0h1m22 0h2m-69 1h2m5 0h1m3 0h1m18 0h1m4 0h1m17 0h1m4 0h1m1 0h1m1 0h1m14 0h1m2 0h1m-78 1h2m4 0h1m1 0h1m8 0h1m3 0h1m13 0h1m2 0h1m8 0h1m4 0h2m1 0h2m-60 1h1m7 0h1m10 0h1m5 0h1m7 0h1m6 0h2m4 0h1m9 0h1m8 0h1m4 0h1m7 0h1m-81 1h1m13 0h1m6 0h2m7 0h1m8 0h1m1 0h1m4 0h1m33 0h1m-91 1h1m14 0h1m6 0h1m7 0h1m5 0h1m3 0h1m1 0h1m4 0h1m5 0h2m13 0h1m10 0h2m5 0h1m2 0h1m3 0h1m-87 1h1m7 0h1m4 0h1m16 0h1m9 0h1m5 0h1m9 0h1m6 0h2m2 0h1m6 0h2m10 0h1m-180 1h1m95 0h1m13 0h1m1 0h2m3 0h1m6 0h1m6 0h1m7 0h1m15 0h1m23 0h1m-177 1h1m38 0h1m64 0h2m15 0h1m3 0h1m1 0h1m11 0h1m1 0h1m10 0h1m2 0h1m7 0h1m-162 1h1m102 0h1m5 0h1m10 0h1m19 0h1m9 0h1m6 0h1m9 0h1m7 0h1m-92 1h1m10 0h1m11 0h1m14 0h2m16 0h1m2 0h1m3 0h1m11 0h1m3 0h2m-165 1h1m46 0h1m35 0h1m18 0h2m16 0h1m1 0h1m18 0h1m4 0h1m6 0h1m16 0h1m-139 1h1m76 0h2m1 0h1m3 0h2m3 0h1m21 0h1m13 0h1m10 0h1m-169 1h1m25 0h2m17 0h1m36 0h1m23 0h1m13 0h1m20 0h1m8 0h1m6 0h2m1 0h1m-64 1h1m7 0h1m9 0h1m4 0h1m1 0h1m34 0h1m3 0h1m4 0h1m6 0h1m-172 1h1m34 0h2m4 0h1m43 0h1m6 0h1m3 0h1m6 0h1m9 0h1m27 0h1m-139 1h1m48 0h1m55 0h1m40 0h1m1 0h1m4 0h1m9 0h2m-158 1h1m4 0h2m36 0h1m23 0h1m2 0h1m17 0h1m1 0h1m2 0h1m3 0h1m3 0h1m3 0h1m52 0h1m-114 1h1m20 0h1m13 0h1m10 0h1m10 0h2m1 0h3m24 0h1m1 0h1m4 0h1m6 0h2m9 0h1m-112 1h1m18 0h1m29 0h1m2 0h1m2 0h2m34 0h2m10 0h1m9 0h1m-70 1h3m12 0h1m2 0h1m-62 1h1m13 0h1m3 0h2m15 0h1m1 0h1m7 0h1m11 0h1m1 0h1m-30 1h1m28 0h1m27 0h1m11 0h1m-90 1h1m34 0h1m1 0h1m8 0h1m33 0h2m9 0h1m-98 1h1m3 0h1m37 0h1m12 0h1m30 0h1m2 0h1m3 0h1m5 0h1m-96 1h1m37 0h1m42 0h1m4 0h1m12 0h1m-121 1h1m18 0h1m22 0h1m59 0h2m15 0h1m-62 1h1m1 0h2m4 0h1m1 0h1m30 0h3m2 0h1m-104 1h1m52 0h1m13 0h1m2 0h1m26 0h2m9 0h1m3 0h1m-60 1h1m6 0h1m5 0h1m29 0h1m1 0h1m-39 1h1m8 0h1m27 0h1m2 0h1m14 0h1m-63 1h1m46 0h1m2 0h1m-62 1h1m17 0h1m9 0h1m20 0h1m20 0h1m-21 1h1m20 0h1m-53 1h2m4 0h1m21 0h1m7 0h2m-35 1h1m29 0h1m5 0h1m-79 1h1m41 0h1m29 0h2m2 0h1m-48 1h1m43 0h1m-47 1h1m56 0h2m-3 1h1m-58 1h1m55 0h1m-62 1h1m1 0h1m49 0h1m13 0h1m-74 1h1m7 0h1m59 0h1m-64 1h1m10 0h1m38 0h1m2 0h1m8 0h1m-54 1h1m36 0h1m5 0h1m-10 1h1m15 0h1m-20 1h1m2 0h1m4 0h1m6 0h1m-18 1h1m7 0h1m5 0h1m-2 1h2m3 0h1m2 0h1m-8 1h1m6 0h1m-136 1h1m95 0h1m3 0h1m20 0h1m6 0h1m-9 1h1m7 0h1m2 0h1m1 0h1m-131 1h1m109 0h1m15 0h1m-62 1h1m42 0h1m2 0h1m13 0h1m-66 1h1m27 0h1m19 0h1m-110 1h2m58 0h2m34 0h1m25 0h1m-21 1h1m11 0h1m8 0h1m-126 1h1m2 0h1m101 0h1m6 0h1m-111 1h1m101 0h1m-104 1h1m4 0h1m96 0h1m5 0h1m8 0h1m4 0h1m-22 1h1m1 0h1m3 0h1m6 0h1m5 0h1m-120 1h1m4 0h1m65 0h1m5 0h1m18 0h1m11 0h1m9 0h1m-124 1h1m4 0h1m1 0h1m50 0h1m18 0h1m12 0h1m10 0h1m3 0h1m1 0h1m3 0h1m1 0h1m6 0h1m-112 1h1m-9 1h1m6 0h2m2 0h1m95 0h1m-103 1h1m7 0h1m94 0h1m4 0h1m1 0h1m-113 1h1m3 0h1m1 0h1m90 0h1m5 0h1m1 0h1m8 0h1m-106 1h1m70 0h1m-71 1h1m85 0h1m-98 1h1m10 0h2m3 0h1m79 0h3m-92 1h1m85 0h2m3 0h2m-101 1h1m1 0h1m2 0h1m7 0h1m80 0h1m2 0h3m-100 1h1m16 0h1m1 0h1m85 0h1m-89 1h1m61 0h1m20 0h1m5 0h1m-72 1h2m2 0h3m5 0h3m6 0h2m3 0h2m7 0h1m13 0h1m-80 1h1m6 0h1m3 0h1m1 0h1m2 0h1m4 0h1m1 0h3m7 0h1m1 0h2m4 0h2m2 0h2m1 0h1m2 0h3m3 0h2m1 0h2m11 0h2m2 0h1m3 0h1m7 0h1m2 0h1m-86 1h1m1 0h1m1 0h2m10 0h1m7 0h1m1 0h1m6 0h1m1 0h1m7 0h1m3 0h1m1 0h1m3 0h2m2 0h1m1 0h1m9 0h5m1 0h1m-87 1h1m13 0h1m1 0h1m3 0h2m2 0h3m4 0h1m1 0h2m3 0h1m3 0h1m5 0h1m1 0h1m1 0h2m9 0h1m3 0h1m2 0h1m7 0h2m1 0h1m1 0h1m-72 1h1m5 0h2m2 0h2m2 0h1m1 0h1m2 0h1m26 0h2m10 0h1m2 0h2m4 0h2m-69 1h1m3 0h1m12 0h2m12 0h1m12 0h1m16 0h1m3 0h1m-78 1h1m10 0h1m3 0h2m4 0h1m7 0h1m4 0h1m-24 1h2m5 0h1m9 0h2m3 0h1m-34 1h1m6 0h1m4 0h1m13 0h1m-14 1h1m6 0h1m1 0h1m12 0h1m-25 3h1m5 2h1"/><path stroke="#8bd646" d="M166 8h1m1 1h1m8 0h1m-20 2h1m17 0h2m1 0h1m-10 1h1m6 0h2m-7 1h1m3 2h1m-21 2h1m15 1h1m1 0h1m2 0h1m-4 1h1m4 0h1m-10 2h1m4 1h1m-9 1h1m4 1h1m2 1h1m-35 1h1m24 1h1m-6 1h1m5 0h2m7 0h1m-7 1h1m1 0h1m4 0h2m-19 1h1m8 0h1m1 0h1m7 0h1m-37 1h1m5 0h1m8 0h1m13 0h1m2 0h1m2 0h1m-44 1h1m22 0h1m-19 1h1m18 0h1m20 0h1m-12 1h1m4 1h1m6 0h1m-38 1h1m39 0h1m-45 1h1m1 0h1m2 0h1m6 0h1m26 0h2m-40 1h1m3 0h1m8 0h2m22 0h1m2 0h1m4 0h1m-46 1h1m1 0h2m7 0h1m4 0h1m2 0h1m27 0h1m-55 1h1m17 0h1m1 0h1m3 0h1m26 0h1m-49 1h1m5 0h2m6 0h1m28 0h1m-55 1h1m10 0h1m7 0h1m17 0h1m28 0h1m-62 1h1m4 0h1m9 0h1m14 0h1m15 0h1m2 0h1m3 0h1m-51 1h1m2 0h1m1 0h1m9 0h1m3 0h1m1 0h1m1 0h1m15 0h1m4 0h1m7 0h1m1 0h1m2 0h2m-70 1h1m2 0h1m10 0h1m4 0h1m3 0h1m8 0h2m16 0h1m7 0h1m5 0h1m2 0h1m-61 1h1m8 0h1m3 0h1m2 0h1m4 0h1m-22 1h1m12 0h1m8 0h1m6 0h1m7 0h1m6 0h2m5 0h1m5 0h1m4 0h1m-67 1h1m12 0h1m6 0h1m1 0h1m2 0h2m2 0h1m1 0h1m3 0h1m2 0h1m-38 1h1m24 0h1m2 0h1m2 0h2m30 0h1m-62 1h1m5 0h2m14 0h1m1 0h1m5 0h1m6 0h1m1 0h1m6 0h1m4 0h1m5 0h1m-52 1h1m1 0h1m6 0h2m6 0h1m9 0h1m1 0h1m1 0h1m14 0h1m-44 1h2m21 0h1m9 0h4m7 0h1m-25 1h1m16 0h1m1 0h1m-46 1h1m1 0h2m4 0h1m4 0h1m11 0h1m10 0h1m-27 1h1m3 0h1m1 0h2m11 0h1m-22 1h1m4 0h1m11 0h1m10 0h1m-56 1h1m26 0h2m9 0h1m11 0h1m4 0h1m-59 1h1m7 0h1m2 0h1m3 0h1m22 0h1m11 0h1m-44 1h1m2 0h1m2 0h1m4 0h1m8 0h1m10 0h1m17 0h1m-33 1h1m4 0h1m5 0h1m3 0h1m16 0h1m7 0h2m-62 1h1m9 0h1m1 0h2m8 0h1m2 0h2m14 0h1m-43 1h1m6 0h1m13 0h1m3 0h4m3 0h1m10 0h1m3 0h1m9 0h1m1 0h1m-63 1h1m8 0h1m14 0h1m3 0h1m5 0h1m5 0h1m16 0h1m5 0h1m-52 1h1m4 0h1m4 0h1m5 0h1m2 0h1m7 0h1m1 0h1m4 0h1m4 0h1m2 0h2m28 0h1m-90 1h2m16 0h1m2 0h1m1 0h2m17 0h1m5 0h1m5 0h1m5 0h1m5 0h1m6 0h1m22 0h2m-90 1h1m5 0h1m2 0h1m1 0h1m1 0h2m4 0h1m3 0h1m3 0h1m8 0h1m1 0h1m4 0h2m5 0h1m1 0h2m29 0h1m2 0h1m1 0h1m-79 1h1m2 0h2m5 0h1m1 0h1m8 0h1m25 0h1m1 0h1m3 0h1m3 0h1m-59 1h1m12 0h1m4 0h1m2 0h1m3 0h1m3 0h1m15 0h2m9 0h1m2 0h1m13 0h2m-83 1h1m5 0h1m2 0h1m3 0h1m7 0h2m4 0h4m8 0h1m8 0h1m6 0h2m2 0h1m1 0h2m7 0h1m4 0h1m-78 1h1m3 0h1m6 0h1m16 0h2m1 0h1m4 0h1m2 0h2m8 0h1m11 0h1m8 0h1m12 0h1m-90 1h1m12 0h2m4 0h2m7 0h1m2 0h2m2 0h1m2 0h1m6 0h1m9 0h1m3 0h1m3 0h1m1 0h1m6 0h1m5 0h1m5 0h1m4 0h1m2 0h3m-89 1h1m1 0h2m2 0h2m5 0h1m1 0h2m6 0h2m33 0h1m1 0h1m3 0h1m-63 1h2m3 0h1m1 0h1m2 0h1m10 0h3m3 0h1m48 0h1m-83 1h1m21 0h1m16 0h1m18 0h2m8 0h1m1 0h1m21 0h1m-93 1h2m14 0h1m6 0h1m19 0h1m27 0h2m15 0h2m-93 1h1m16 0h1m12 0h1m4 0h1m21 0h2m4 0h1m25 0h1m-74 1h1m7 0h1m8 0h1m31 0h1m4 0h1m6 0h1m1 0h1m2 0h1m7 0h1m-186 1h1m1 0h2m102 0h1m12 0h1m4 0h1m16 0h1m13 0h1m2 0h1m1 0h1m3 0h2m5 0h2m4 0h1m-65 1h1m1 0h1m1 0h1m24 0h1m10 0h3m8 0h1m6 0h3m1 0h1m-65 1h1m17 0h1m31 0h2m3 0h2m-162 1h1m84 0h1m28 0h1m42 0h2m8 0h1m-120 1h1m1 0h1m53 0h2m7 0h1m41 0h1m1 0h2m6 0h1m6 0h1m1 0h1m3 0h1m1 0h1m-181 1h1m27 0h1m1 0h1m2 0h1m13 0h2m69 0h1m5 0h1m31 0h1m-124 1h1m19 0h1m61 0h1m6 0h1m21 0h1m11 0h1m10 0h2m11 0h1m-157 1h2m11 0h1m7 0h1m7 0h1m27 0h1m30 0h1m1 0h1m2 0h1m1 0h1m24 0h2m2 0h1m3 0h1m22 0h1m-172 1h1m18 0h1m20 0h1m8 0h2m64 0h2m27 0h1m17 0h1m7 0h1m-169 1h1m31 0h4m37 0h1m22 0h2m11 0h1m31 0h1m19 0h1m5 0h1m-166 1h4m1 0h4m87 0h1m9 0h2m26 0h1m1 0h1m5 0h1m1 0h2m3 0h1m1 0h1m-83 1h1m21 0h1m4 0h2m5 0h1m10 0h1m22 0h1m1 0h2m3 0h1m-78 1h2m25 0h1m19 0h1m34 0h1m-47 1h1m2 0h1m30 0h1m2 0h1m1 0h1m-80 1h2m1 0h1m30 0h1m43 0h2m6 0h1m1 0h1m11 0h1m-113 1h2m9 0h1m83 0h1m4 0h1m-100 1h2m43 0h1m3 0h1m8 0h1m1 0h1m31 0h1m4 0h1m7 0h1m-104 1h1m5 0h1m78 0h1m3 0h1m1 0h1m3 0h1m3 0h1m2 0h1m-101 1h1m37 0h1m41 0h1m5 0h1m-87 1h1m1 0h1m79 0h2m7 0h1m1 0h1m-110 1h1m49 0h1m2 0h1m46 0h2m2 0h1m3 0h1m2 0h2m-115 1h1m51 0h1m57 0h2m-52 1h1m40 0h1m4 0h2m2 0h1m-12 1h1m14 0h1m-57 1h1m40 0h1m9 0h1m4 0h1m-20 1h1m4 0h3m2 0h1m-37 1h1m1 0h1m27 0h1m6 0h1m1 0h1m-14 1h1m6 0h1m5 0h1m1 0h2m-12 1h1m2 0h1m4 0h2m1 0h2m-10 1h2m3 0h1m1 0h1m-11 1h1m6 0h1m-57 1h1m49 0h1m-53 1h1m10 0h1m48 0h1m-4 1h1m0 1h2m-74 1h1m70 0h1m-72 1h1m10 1h1m29 0h1m27 0h1m-44 1h1m32 0h1m11 0h1m-24 1h1m4 0h1m3 0h1m2 0h1m-9 1h1m-123 2h1m73 0h1m49 0h1m9 0h1m-132 1h1m124 0h1m-38 1h1m25 0h1m1 0h1m-117 1h1m113 0h1m0 1h1m-6 1h1m6 0h2m-116 1h1m111 0h1m4 0h1m-110 1h1m91 0h1m3 0h1m-104 1h2m-2 1h1m104 0h1m3 0h2m6 0h1m-117 1h1m97 0h1m13 0h1m-118 1h1m103 0h1m4 0h1m-113 1h1m3 0h1m73 0h1m22 0h1m3 0h1m-104 1h1m1 0h1m101 0h1m5 0h2m3 0h1m-113 1h1m4 0h1m44 0h1m48 0h1m2 0h1m1 0h1m1 0h2m2 0h1m1 0h1m-118 1h1m8 0h1m2 0h1m96 0h2m-104 1h2m2 0h1m91 0h1m5 0h1m3 0h1m-114 1h1m107 0h2m1 0h1m-110 1h1m2 0h1m1 0h2m96 0h1m7 0h1m-106 1h1m1 0h2m71 0h1m-82 1h1m16 0h1m-13 1h1m6 0h1m4 0h1m81 0h1m2 0h1m3 0h2m-98 1h1m2 0h1m84 0h1m3 0h1m-103 1h1m9 0h2m2 0h1m3 0h1m57 0h1m17 0h1m2 0h1m2 0h3m-104 1h1m1 0h1m1 0h2m11 0h2m23 0h1m49 0h1m2 0h1m4 0h1m2 0h2m-98 1h1m10 0h1m24 0h1m6 0h1m1 0h1m6 0h1m-41 1h1m1 0h1m1 0h1m6 0h2m12 0h1m2 0h2m9 0h1m4 0h1m5 0h1m12 0h1m1 0h1m-76 1h1m4 0h1m3 0h1m2 0h2m1 0h1m3 0h5m3 0h1m10 0h2m6 0h2m6 0h1m15 0h1m-76 1h1m5 0h1m2 0h1m1 0h1m3 0h1m7 0h1m11 0h1m7 0h1m6 0h1m1 0h1m2 0h2m1 0h1m1 0h1m1 0h1m5 0h2m1 0h1m8 0h3m-87 1h1m12 0h2m1 0h1m3 0h2m20 0h1m2 0h1m11 0h1m2 0h1m6 0h1m9 0h1m4 0h1m-84 1h1m2 0h1m16 0h2m-22 1h1m12 0h1m5 0h1m17 0h1m4 0h1m3 0h1m26 0h1m-58 1h2m2 0h1m1 0h1m2 0h1m1 0h1m8 0h2m-36 1h1m22 0h1m5 0h1m-13 1h1m2 0h1m9 0h1m4 0h2m-29 1h2m4 0h1m2 0h1m3 0h1m7 0h1m-21 1h1m6 1h1"/><path stroke="#addc30" d="M155 8h1m24 1h1m1 1h1m-32 1h1m22 0h1m3 0h1m-7 1h1m2 0h2m0 2h1m-8 2h2m-2 3h1m2 3h1m0 1h1m-6 1h1m3 0h1m-6 1h2m1 0h1m-2 1h1m-10 1h1m5 0h1m3 0h1m1 0h1m-6 2h1m11 0h1m-11 1h1m1 0h1m7 0h1m-12 1h2m-4 1h1m4 0h1m2 0h1m5 0h1m-3 1h1m-6 1h1m1 2h1m5 0h1m-30 1h1m29 0h1m-32 1h1m29 0h1m-30 1h1m27 0h1m-40 1h1m3 0h1m6 0h1m3 0h1m22 0h1m-46 1h1m20 0h1m26 0h1m3 0h1m-58 1h1m13 0h1m10 0h1m5 0h2m15 0h1m1 0h2m4 0h1m-49 1h1m8 0h2m4 0h1m1 0h1m25 0h2m4 0h1m-52 1h1m1 0h1m1 0h1m7 0h1m14 0h1m19 0h1m5 0h1m-62 1h2m3 0h2m1 0h1m11 0h1m14 0h2m15 0h1m2 0h1m1 0h1m5 0h1m-58 1h1m5 0h1m1 0h1m10 0h1m1 0h1m6 0h2m2 0h1m8 0h1m5 0h3m1 0h1m1 0h1m1 0h1m1 0h1m-60 1h2m3 0h1m6 0h1m3 0h1m6 0h1m1 0h1m5 0h1m2 0h1m16 0h1m2 0h1m3 0h2m-61 1h1m5 0h1m2 0h1m2 0h1m1 0h1m1 0h1m1 0h1m3 0h1m9 0h1m11 0h1m12 0h3m-62 1h1m1 0h1m6 0h1m6 0h1m1 0h1m1 0h1m3 0h1m3 0h1m2 0h1m2 0h1m1 0h1m1 0h1m6 0h2m10 0h3m2 0h1m-84 1h1m23 0h1m7 0h1m9 0h1m1 0h1m4 0h1m2 0h1m2 0h2m2 0h1m13 0h1m7 0h2m-57 1h1m7 0h1m10 0h1m4 0h1m6 0h1m18 0h1m1 0h2m2 0h2m-56 1h1m3 0h2m6 0h1m4 0h1m2 0h2m17 0h1m-39 1h4m1 0h1m2 0h1m8 0h2m1 0h1m4 0h1m5 0h1m5 0h1m-44 1h1m10 0h2m11 0h1m5 0h1m11 0h1m7 0h1m-47 1h1m4 0h1m4 0h1m1 0h1m18 0h1m-37 1h1m10 0h1m5 0h1m1 0h1m9 0h1m5 0h1m1 0h1m-26 1h2m8 0h1m13 0h1m-32 1h1m2 0h1m1 0h1m1 0h1m8 0h1m11 0h3m1 0h2m-39 1h1m8 0h1m1 0h1m14 0h1m8 0h1m-44 1h1m23 0h2m6 0h1m9 0h1m4 0h1m3 0h1m-46 1h1m2 0h1m6 0h1m4 0h1m2 0h1m9 0h1m8 0h2m9 0h1m-56 1h2m19 0h3m5 0h1m2 0h1m3 0h1m7 0h2m-49 1h1m8 0h1m1 0h2m2 0h1m6 0h1m1 0h2m9 0h2m10 0h2m1 0h2m2 0h1m1 0h1m-56 1h2m7 0h1m13 0h1m3 0h1m6 0h1m1 0h1m6 0h1m3 0h1m8 0h1m16 0h1m2 0h1m5 0h1m-82 1h1m16 0h4m5 0h1m2 0h4m2 0h1m6 0h1m1 0h1m1 0h1m26 0h1m2 0h1m2 0h1m-75 1h1m11 0h3m1 0h1m3 0h4m13 0h1m7 0h1m3 0h1m4 0h1m18 0h1m3 0h1m-85 1h1m9 0h1m9 0h1m1 0h1m2 0h1m2 0h2m1 0h1m23 0h1m1 0h1m25 0h2m-84 1h2m2 0h1m1 0h1m13 0h1m8 0h1m4 0h1m43 0h1m1 0h1m1 0h1m-81 1h1m2 0h2m22 0h2m17 0h1m10 0h1m9 0h1m8 0h1m2 0h2m-85 1h1m2 0h1m29 0h1m19 0h1m5 0h2m11 0h1m6 0h1m3 0h1m-80 1h1m1 0h1m15 0h1m2 0h1m45 0h1m2 0h3m-73 1h1m11 0h1m13 0h1m4 0h1m13 0h1m1 0h1m21 0h1m2 0h1m2 0h1m-80 1h1m12 0h1m8 0h1m13 0h1m15 0h1m2 0h2m2 0h1m6 0h2m1 0h1m5 0h2m1 0h1m3 0h1m-75 1h2m11 0h1m13 0h1m15 0h1m2 0h2m4 0h1m5 0h1m-65 1h1m18 0h1m8 0h1m1 0h1m17 0h1m4 0h1m3 0h1m6 0h1m-53 1h1m2 0h1m3 0h1m48 0h1m1 0h1m5 0h1m2 0h1m-64 1h1m1 0h1m28 0h1m7 0h1m14 0h1m3 0h1m3 0h1m-81 1h1m51 0h1m1 0h1m1 0h1m9 0h3m3 0h1m1 0h2m-178 1h1m86 0h1m14 0h1m50 0h1m1 0h1m13 0h1m1 0h2m3 0h3m-27 1h1m1 0h2m3 0h1m10 0h1m2 0h1m3 0h1m-27 1h1m1 0h1m2 0h1m10 0h1m14 0h1m-70 1h1m34 0h1m3 0h1m2 0h1m14 0h1m3 0h1m-147 1h1m1 0h1m4 0h1m16 0h1m30 0h1m57 0h1m3 0h1m5 0h1m18 0h1m1 0h1m4 0h2m-153 1h1m9 0h1m10 0h1m5 0h1m56 0h1m41 0h2m11 0h1m-164 1h1m34 0h1m7 0h1m96 0h1m7 0h1m3 0h1m24 0h1m-176 1h1m92 0h1m50 0h1m3 0h1m1 0h2m12 0h1m1 0h1m2 0h2m-170 1h1m2 0h1m34 0h1m73 0h1m26 0h3m2 0h1m21 0h3m1 0h1m1 0h1m-158 1h1m2 0h1m33 0h1m46 0h1m12 0h1m26 0h1m2 0h4m1 0h1m17 0h1m1 0h1m3 0h1m-67 1h1m40 0h1m2 0h1m1 0h1m15 0h2m-68 1h1m2 0h1m2 0h1m33 0h2m1 0h1m9 0h2m9 0h1m2 0h1m-99 1h2m75 0h2m-47 1h1m40 0h2m2 0h1m6 0h1m1 0h1m1 0h1m-92 1h1m48 0h1m24 0h1m1 0h1m2 0h2m4 0h1m13 0h1m-109 1h1m40 0h1m3 0h1m11 0h1m31 0h1m1 0h1m9 0h2m-17 1h1m10 0h1m-97 1h1m2 0h1m32 0h1m45 0h1m6 0h1m1 0h2m2 0h2m1 0h1m-17 1h1m4 0h1m5 0h1m3 0h1m1 0h1m-5 1h1m2 0h1m1 0h1m-58 1h1m39 0h1m1 0h3m7 0h1m1 0h1m2 0h1m-47 1h1m32 0h1m3 0h1m2 0h1m3 0h1m-49 1h1m28 0h1m9 0h1m5 0h1m2 0h1m1 0h1m-133 1h1m85 0h1m22 0h1m5 0h1m1 0h1m9 0h1m2 0h1m-18 1h2m15 0h1m-14 1h2m6 0h1m1 0h1m-12 1h1m2 0h1m-9 1h1m0 1h1m7 0h1m5 0h1m-6 1h1m3 0h1m2 0h1m-2 1h1m-6 1h1m1 1h2m-7 1h1m4 0h1m-13 2h1m-38 2h1m23 1h1m-53 1h1m59 0h1m-127 2h1m124 0h1m1 0h1m1 0h1m-129 1h1m124 0h1m3 0h1m-129 1h1m111 0h1m2 0h1m-52 1h1m47 0h1m2 0h1m-115 1h2m108 0h1m1 0h1m-110 2h1m56 1h1m60 0h1m-65 1h1m62 0h2m-118 1h1m105 0h2m9 0h2m-118 1h1m97 0h1m3 0h2m3 0h1m-115 1h1m6 0h1m70 0h1m27 0h1m1 0h1m3 0h1m3 0h1m-117 1h1m3 0h1m93 0h1m6 0h1m1 0h2m3 0h1m1 0h1m1 0h1m3 0h1m-123 1h1m6 0h1m1 0h1m105 0h2m2 0h1m-118 1h2m2 0h1m2 0h1m92 0h1m3 0h1m1 0h1m4 0h1m4 0h1m-114 1h1m96 0h2m1 0h1m2 0h1m4 0h1m1 0h1m1 0h2m-110 1h2m89 0h3m5 0h1m-102 1h1m1 0h2m102 0h2m-109 1h1m3 0h1m92 0h2m7 0h1m-112 1h1m1 0h1m100 0h1m5 0h1m-101 1h2m94 0h1m-103 1h3m5 0h1m97 0h1m-104 1h1m2 0h2m2 0h1m93 0h1m-103 1h2m3 0h1m2 0h2m2 0h1m75 0h2m4 0h1m5 0h1m-103 1h1m3 0h1m2 0h4m79 0h2m-86 1h1m2 0h1m20 0h1m2 0h1m4 0h1m54 0h1m4 0h1m-100 1h1m4 0h1m4 0h1m1 0h1m9 0h1m28 0h1m16 0h1m-70 1h1m6 0h1m8 0h1m1 0h2m22 0h1m7 0h1m10 0h1m3 0h1m4 0h1m-60 1h1m22 0h1m29 0h1m8 0h1m2 0h1m4 0h1m-72 1h1m-7 1h1m5 0h1m9 0h1m56 0h1m-65 1h1m28 0h2m28 0h1m-60 1h1m19 0h1m42 0h1m-70 1h1m6 0h1m4 0h1m11 0h1m-27 1h2m1 0h2m1 0h1m4 1h1m2 0h2m4 0h2m-11 1h3m1 0h2m-1 1h1m-8 1h2m5 0h1"/><path stroke="#cde11d" d="M178 10h1m4 0h1m-11 1h1m-5 6h2m0 1h1m0 3h1m0 2h1m-2 2h1m-5 1h2m1 0h1m1 0h1m-4 1h1m1 0h1m-3 1h3m-2 1h1m2 0h2m-3 1h1m-32 2h1m36 0h1m-36 1h1m36 3h1m-1 1h2m-30 1h1m26 0h1m-36 1h1m36 0h1m2 0h1m-45 1h1m2 0h1m37 0h1m3 0h1m-49 1h1m42 0h1m2 0h3m-8 1h1m3 0h3m-32 1h1m1 0h1m5 0h2m19 0h1m1 0h2m-56 1h2m8 0h1m5 0h1m33 0h2m2 0h1m-55 1h2m21 0h1m29 0h1m1 0h1m5 0h1m-48 1h1m8 0h1m10 0h1m18 0h1m1 0h1m1 0h1m1 0h1m1 0h1m-47 1h1m2 0h1m3 0h1m11 0h1m16 0h1m5 0h1m-39 1h1m11 0h1m2 0h1m16 0h1m3 0h2m3 0h2m-57 1h1m14 0h1m10 0h1m-26 1h2m19 0h1m20 0h1m5 0h1m1 0h1m-42 1h1m9 0h1m2 0h1m3 0h1m21 0h1m-44 1h1m17 0h1m5 0h1m24 0h1m-51 1h1m4 0h1m6 0h1m2 0h1m4 0h1m29 0h1m-51 1h1m9 0h1m6 0h1m1 0h1m1 0h2m2 0h1m-33 1h1m15 0h1m8 0h1m2 0h1m1 0h2m-20 1h1m4 0h1m11 0h1m-25 1h1m7 0h2m7 0h3m2 0h2m2 0h1m1 0h1m-29 1h1m1 0h1m3 0h1m4 0h1m1 0h1m4 0h2m2 0h2m-25 1h1m3 0h6m2 0h3m5 0h1m1 0h2m1 0h2m-35 1h3m3 0h1m1 0h1m1 0h2m8 0h2m1 0h1m4 0h1m1 0h1m1 0h2m1 0h1m11 0h1m-48 1h1m13 0h2m5 0h2m1 0h1m3 0h1m4 0h1m3 0h1m-22 1h1m2 0h1m1 0h1m2 0h1m7 0h1m-42 1h1m27 0h1m11 0h3m-38 1h1m18 0h1m1 0h2m14 0h1m3 0h1m1 0h1m23 0h1m6 0h1m1 0h1m-84 1h1m1 0h1m23 0h1m2 0h1m12 0h1m30 0h1m2 0h1m-75 1h1m1 0h1m40 0h1m27 0h1m1 0h1m2 0h1m-78 1h1m29 0h1m26 0h1m17 0h2m-24 1h3m22 0h1m1 0h1m-83 1h2m31 0h1m25 0h1m7 0h1m1 0h1m5 0h2m1 0h1m1 0h2m-79 1h1m69 0h1m1 0h1m4 0h2m-76 1h1m57 0h1m3 0h2m6 0h1m-69 1h1m10 0h1m36 0h2m12 0h1m2 0h2m2 0h1m3 0h2m-76 1h1m23 0h1m20 0h2m3 0h1m11 0h2m2 0h1m8 0h1m-80 1h1m2 0h1m63 0h4m3 0h3m-76 1h2m18 0h1m23 0h1m1 0h2m1 0h1m1 0h1m3 0h2m7 0h1m1 0h1m2 0h1m6 0h2m-83 1h1m49 0h1m2 0h2m2 0h1m4 0h2m3 0h1m6 0h1m5 0h1m-25 1h1m12 0h1m12 0h1m-14 1h1m6 0h1m5 0h1m-28 1h2m15 0h2m5 0h3m-31 1h1m15 0h1m4 0h1m5 0h1m1 0h2m-30 1h2m1 0h1m16 0h3m1 0h1m1 0h1m-131 1h1m1 0h1m96 0h1m22 0h1m3 0h3m3 0h1m-136 1h1m100 0h3m3 0h1m16 0h1m1 0h4m2 0h1m2 0h1m-42 1h1m2 0h1m4 0h2m3 0h1m21 0h2m1 0h1m-29 1h2m19 0h2m4 0h1m1 0h2m-60 1h1m49 0h1m3 0h1m2 0h1m-84 1h1m45 0h1m4 0h1m5 0h1m1 0h2m19 0h1m-22 1h3m15 0h3m-21 1h1m2 0h1m15 0h3m-70 1h1m2 0h1m37 0h1m3 0h2m20 0h2m-116 1h1m45 0h1m4 0h1m35 0h2m1 0h1m4 0h2m1 0h1m12 0h1m-17 1h1m1 0h1m-2 1h1m-9 1h1m6 0h2m2 0h2m-16 1h3m8 0h1m2 0h1m4 0h1m-18 1h1m4 0h1m4 0h2m2 0h1m1 0h2m-21 1h2m6 0h4m3 0h2m1 0h1m1 0h2m-14 1h1m1 0h2m2 0h1m4 0h1m-16 1h1m3 0h4m6 0h2m-55 1h1m39 0h2m1 0h1m3 0h1m2 0h2m3 0h2m-14 1h1m2 0h1m4 0h1m-1 1h1m-11 1h1m3 0h1m2 0h1m3 0h1m1 0h1m-16 1h1m2 0h1m2 0h1m-12 1h1m8 0h1m1 0h1m-1 1h1m-2 1h1m1 1h1m2 2h1m-143 12h1m111 0h1m-1 1h1m-112 2h2m0 2h1m104 0h1m-2 1h1m3 0h1m-107 1h1m99 1h1m3 0h3m-108 1h1m-4 1h1m3 0h1m98 0h1m4 0h1m1 0h1m1 0h1m-11 1h1m-104 1h1m105 0h1m3 0h1m1 0h1m-6 1h2m1 0h1m1 0h1m-111 1h1m103 0h2m3 0h2m-11 1h1m3 0h1m1 0h1m2 0h1m-107 1h1m96 0h1m2 0h1m1 0h1m2 0h1m-113 1h1m103 0h1m6 0h1m-105 1h1m-1 1h3m1 0h1m83 0h1m-92 1h1m1 0h1m-1 1h2m87 0h2m-97 1h1m4 0h1m-5 1h2m2 0h1m1 0h1m1 0h2m1 0h2m38 0h1m-51 1h1m4 0h1m-9 1h1m1 0h3m1 0h2m-5 1h1m3 0h1m1 0h1m-10 2h2m4 0h1m11 0h1m-13 1h2m0 1h2m68 0h1m-70 1h2m2 0h1m5 0h1m16 0h1m-32 1h1m2 0h1m5 0h1m17 0h1m-14 1h1m-4 1h1"/><path stroke="#efe51c" d="M171 19h1m-1 2h1m0 5h1m-2 6h1m11 6h1m-2 3h1m-29 1h1m29 2h1m-3 1h1m-21 2h1m22 2h1m-50 2h1m17 3h1m-4 1h4m8 0h1m-12 1h2m12 0h1m-14 1h1m-7 1h1m5 0h1m2 0h1m2 0h1m6 0h1m-18 1h1m3 0h1m1 0h1m1 0h1m1 0h1m-8 1h1m4 0h1m1 0h1m1 0h1m-12 1h1m9 0h1m1 0h1m-2 1h1m-14 1h1m48 2h1m-48 1h1m42 0h1m-73 1h1m70 0h1m4 0h2m-49 1h1m41 0h2m-8 1h1m5 0h1m2 0h1m-15 1h1m5 0h1m4 0h1m1 0h1m-6 1h1m4 1h1m2 0h2m-10 1h1m6 0h2m-78 1h1m68 1h2m4 0h1m-27 1h1m26 0h1m2 0h1m-31 1h1m13 0h1m12 0h1m1 0h1m-11 1h1m5 0h5m-11 1h1m5 0h2m-3 1h2m1 0h1m-30 1h1m24 0h1m1 0h1m1 0h1m1 0h1m-34 1h1m29 0h1m-29 1h1m27 0h2m-4 1h1m1 0h1m-6 1h1m-33 2h1m34 0h1m-2 1h1m-21 1h1m-4 1h1m1 0h2m-2 2h1m1 1h1m4 9h1m-12 2h1m3 0h1m-39 27h1m8 0h1m-6 2h1m-1 5h1m0 1h2m-2 1h1m-103 2h1m-1 2h2m-6 1h2m3 1h1m-5 1h1m-1 1h2m1 0h1m-4 1h2m0 1h1m0 1h1m-3 1h2m-3 1h1"/></g><rect x="0" y="0" width="206" height="162" fill="url(#gr)" clip-path="url(#mk)"/></g><text x="110.5" y="363.0" font-size="36.67" fill="#4d4d4d" text-anchor="end">22°S</text><text x="110.5" y="466.8" font-size="36.67" fill="#4d4d4d" text-anchor="end">24°S</text><text x="110.5" y="570.6" font-size="36.67" fill="#4d4d4d" text-anchor="end">26°S</text><text x="110.5" y="674.4" font-size="36.67" fill="#4d4d4d" text-anchor="end">28°S</text><text x="110.5" y="778.2" font-size="36.67" fill="#4d4d4d" text-anchor="end">30°S</text><text x="110.5" y="882.0" font-size="36.67" fill="#4d4d4d" text-anchor="end">32°S</text><text x="110.5" y="985.8" font-size="36.67" fill="#4d4d4d" text-anchor="end">34°S</text><path d="M131.0 349.7h-11.5M131.0 453.5h-11.5M131.0 557.3h-11.5M131.0 661.1h-11.5M131.0 764.9h-11.5M131.0 868.7h-11.5M131.0 972.5h-11.5" stroke="#333" stroke-width="4.45" fill="none"/><rect x="982.0" y="252.0" width="827.0" height="69.0" fill="#d9d9d9"/><text x="1395.5" y="298.6" font-size="36.67" fill="#1a1a1a" text-anchor="middle">lb</text><rect x="982.0" y="321.0" width="827.0" height="727.6" fill="#ebebeb"/><path d="M982.0 349.7h827.0M982.0 453.5h827.0M982.0 557.3h827.0M982.0 661.1h827.0M982.0 764.9h827.0M982.0 868.7h827.0M982.0 972.5h827.0M1183.0 321.0v727.6M1410.9 321.0v727.6M1638.8 321.0v727.6" stroke="#fff" stroke-width="4.45" fill="none"/><g transform="translate(1000.68,323.75) scale(3.7983,4.3250)"><g transform="translate(0,0.5)" stroke-width="1" fill="none" shape-rendering="crispEdges"><path stroke="#460a5d" d="M162 7h4m-7 1h3m4 0h2m-14 1h1m10 0h1m3 0h2m1 0h3m1 0h1m1 0h2m1 0h3m-30 1h1m6 0h1m-12 1h1m1 0h2m11 0h1m18 0h1m-20 1h1m-20 1h1m1 0h1m14 0h2m-18 1h1m14 0h1m1 0h1m-21 1h1m3 0h1m3 0h1m29 0h1m2 0h1m-36 1h2m32 0h2m-44 1h2m4 0h2m2 0h1m8 0h1m22 0h3m-46 1h1m2 0h2m5 0h1m33 0h1m-46 1h1m9 0h1m11 0h1m-24 1h1m6 0h2m6 0h1m6 0h1m24 0h1m-48 1h1m6 0h4m1 0h4m6 0h1m1 0h2m17 0h1m-47 1h4m6 0h1m3 0h2m2 0h1m25 0h2m-48 1h1m14 0h3m34 0h1m-55 1h1m14 0h1m1 0h2m1 0h1m2 0h1m24 0h1m-49 1h1m16 0h1m4 0h1m29 0h2m2 0h1m-55 1h1m15 0h1m-20 1h1m-1 1h1m58 2h1m-61 1h1m60 1h1m-63 1h1m4 0h1m57 0h1m-65 1h1m3 0h1m51 0h1m7 0h1m-67 1h1m65 0h1m-70 1h1m2 0h1m65 0h1m-71 1h1m1 0h3m-7 1h1m5 0h1m-79 1h2m74 0h3m1 0h1m63 0h1m-145 1h3m73 0h1m-77 1h4m87 0h1m-92 1h4m90 0h1m-95 1h5m64 0h1m31 0h3m40 0h1m-145 1h3m1 0h2m97 0h1m40 0h1m-145 1h1m1 0h1m1 0h2m29 0h7m78 0h3m-123 1h3m1 0h3m27 0h7m2 0h1m76 0h1m-121 1h7m26 0h12m78 0h1m-124 1h8m25 0h14m73 0h1m8 0h1m14 0h1m-145 1h9m23 0h15m3 0h1m1 0h1m22 0h1m44 0h2m7 0h1m14 0h1m-145 1h7m1 0h1m23 0h14m1 0h2m3 0h2m2 0h1m1 0h1m10 0h1m74 0h1m-145 1h7m2 0h1m22 0h14m1 0h1m2 0h1m3 0h1m2 0h1m4 0h1m29 0h1m43 0h2m1 0h1m3 0h1m-144 1h11m21 0h9m1 0h5m3 0h1m3 0h1m4 0h1m12 0h1m67 0h2m1 0h1m-144 1h11m21 0h14m1 0h2m4 0h5m21 0h1m54 0h1m7 0h1m-143 1h11m21 0h9m1 0h5m2 0h1m5 0h1m1 0h2m29 0h1m43 0h2m-134 1h11m20 0h11m1 0h4m1 0h2m1 0h2m3 0h1m74 0h1m-132 1h9m1 0h1m19 0h12m1 0h2m1 0h3m2 0h2m1 0h3m27 0h1m46 0h1m-132 1h3m1 0h6m18 0h13m3 0h2m1 0h1m2 0h1m3 0h1m1 0h1m73 0h1m-131 1h1m2 0h3m1 0h1m19 0h13m4 0h4m6 0h3m71 0h1m-127 1h2m1 0h3m18 0h15m1 0h6m2 0h1m2 0h2m1 0h1m10 0h1m-62 1h2m17 0h23m3 0h1m3 0h3m-56 1h1m2 0h3m15 0h23m1 0h1m2 0h2m1 0h1m14 0h1m-69 1h1m2 0h1m1 0h3m14 0h22m4 0h5m14 0h1m61 0h1m-125 1h3m13 0h20m1 0h4m1 0h3m1 0h2m70 0h1m-117 1h1m1 0h1m1 0h27m1 0h1m1 0h1m3 0h2m1 0h1m1 0h2m79 0h1m12 0h2m4 0h1m1 0h3m-150 1h2m1 0h7m1 0h4m1 0h17m2 0h1m8 0h3m102 0h1m-144 1h23m2 0h1m2 0h1m2 0h1m1 0h1m86 0h1m22 0h1m-144 1h25m7 0h1m88 0h1m21 0h1m-149 1h2m2 0h1m1 0h5m1 0h10m1 0h2m1 0h2m6 0h1m5 0h1m86 0h1m19 0h1m-148 1h1m2 0h2m1 0h1m1 0h1m1 0h14m1 0h4m1 0h2m5 0h1m2 0h1m6 0h2m82 0h5m11 0h1m-148 1h2m2 0h1m1 0h1m3 0h13m4 0h1m2 0h1m7 0h3m1 0h1m104 0h1m-147 1h1m4 0h1m2 0h1m1 0h3m2 0h7m2 0h1m2 0h2m9 0h1m1 0h1m1 0h1m102 0h1m-142 1h2m4 0h2m1 0h1m1 0h13m1 0h1m2 0h1m4 0h2m55 0h1m28 0h1m-113 1h10m1 0h1m1 0h4m11 0h2m4 0h1m26 0h1m54 0h1m-129 1h1m8 0h1m1 0h2m1 0h6m1 0h2m1 0h4m4 0h1m5 0h3m5 0h1m99 0h1m-148 1h1m5 0h2m1 0h1m5 0h3m1 0h2m1 0h1m1 0h4m1 0h1m2 0h2m4 0h6m2 0h1m56 0h1m42 0h1m-143 1h1m1 0h1m3 0h1m3 0h4m1 0h11m3 0h2m4 0h1m1 0h2m2 0h1m-41 1h1m1 0h1m1 0h1m3 0h14m1 0h2m10 0h3m17 0h1m-52 1h1m3 0h1m1 0h11m1 0h2m1 0h1m7 0h1m27 0h1m11 0h1m48 0h1m-172 1h5m33 0h1m12 0h2m5 0h11m2 0h3m3 0h1m1 0h1m1 0h1m2 0h1m38 0h1m11 0h1m16 0h1m36 0h1m-190 1h6m1 0h1m30 0h1m1 0h1m10 0h1m1 0h1m3 0h12m1 0h1m1 0h2m2 0h1m1 0h1m3 0h1m28 0h1m8 0h1m3 0h1m27 0h1m19 0h1m-173 1h7m31 0h1m6 0h1m3 0h1m3 0h1m5 0h9m2 0h4m7 0h2m22 0h1m83 0h1m-190 1h7m38 0h1m13 0h16m6 0h4m19 0h2m1 0h1m6 0h2m53 0h2m-174 1h11m40 0h1m11 0h16m4 0h3m1 0h2m1 0h1m18 0h1m1 0h1m5 0h1m73 0h1m-193 1h11m28 0h1m1 0h1m10 0h2m11 0h7m1 0h9m2 0h1m2 0h2m23 0h1m31 0h2m1 0h1m-148 1h13m22 0h1m1 0h6m1 0h1m7 0h2m5 0h4m3 0h16m1 0h2m105 0h2m-191 1h11m22 0h1m1 0h11m3 0h2m5 0h2m1 0h4m3 0h19m2 0h1m51 0h2m39 0h1m7 0h1m-189 1h13m21 0h14m6 0h10m3 0h18m1 0h1m28 0h1m13 0h1m6 0h2m13 0h1m35 0h1m-187 1h16m3 0h2m3 0h4m3 0h17m4 0h7m1 0h4m3 0h4m2 0h10m3 0h1m47 0h1m17 0h1m-153 1h22m9 0h34m3 0h2m2 0h3m1 0h9m9 0h1m89 0h1m-184 1h56m1 0h8m3 0h2m1 0h12m5 0h2m3 0h1m59 0h1m28 0h1m-182 1h48m1 0h16m2 0h2m4 0h7m5 0h1m1 0h1m1 0h1m7 0h1m76 0h2m3 0h2m-181 1h58m1 0h6m3 0h9m5 0h2m2 0h3m86 0h1m2 0h1m-178 1h47m1 0h1m1 0h10m1 0h4m3 0h3m2 0h2m4 0h3m10 0h2m33 0h1m-128 1h43m1 0h3m2 0h1m1 0h3m1 0h3m1 0h3m2 0h2m3 0h2m2 0h1m3 0h4m12 0h1m32 0h1m24 0h1m-151 1h42m7 0h1m5 0h3m4 0h4m3 0h2m4 0h4m3 0h1m38 0h1m27 0h1m22 0h1m-173 1h41m1 0h1m2 0h1m10 0h1m1 0h1m1 0h4m3 0h1m5 0h2m1 0h4m1 0h1m14 0h1m24 0h1m-121 1h30m1 0h1m1 0h1m9 0h1m1 0h1m16 0h4m5 0h3m1 0h7m38 0h1m26 0h1m21 0h1m-170 1h31m3 0h1m4 0h2m1 0h1m15 0h1m4 0h2m1 0h2m4 0h9m1 0h1m64 0h1m21 0h1m-170 1h31m1 0h2m25 0h2m1 0h1m1 0h1m3 0h1m4 0h1m3 0h1m1 0h4m63 0h1m-146 1h30m5 0h1m10 0h1m2 0h1m4 0h1m11 0h2m5 0h1m2 0h1m2 0h1m1 0h1m-82 1h29m17 0h1m3 0h1m11 0h1m1 0h2m1 0h1m5 0h1m2 0h1m1 0h2m64 0h1m-145 1h29m1 0h1m9 0h1m7 0h1m3 0h2m3 0h1m5 0h3m2 0h1m5 0h1m4 0h1m5 0h1m2 0h1m54 0h1m21 0h1m-165 1h26m3 0h1m9 0h1m2 0h1m9 0h2m7 0h3m1 0h1m1 0h1m3 0h1m3 0h1m1 0h1m5 0h1m37 0h1m18 0h1m1 0h1m-143 1h28m1 0h1m7 0h1m27 0h1m5 0h2m5 0h2m1 0h1m5 0h1m9 0h1m23 0h1m14 0h3m-138 1h25m1 0h1m6 0h1m5 0h1m20 0h1m10 0h1m4 0h1m7 0h2m1 0h1m33 0h1m40 0h1m-163 1h24m1 0h1m2 0h2m1 0h1m19 0h1m1 0h1m10 0h1m11 0h2m2 0h1m2 0h2m36 0h1m10 0h1m-133 1h25m4 0h2m5 0h1m14 0h3m11 0h1m10 0h2m9 0h1m44 0h1m27 0h1m-160 1h28m6 0h4m6 0h1m4 0h3m3 0h1m3 0h1m4 0h1m1 0h1m7 0h4m3 0h3m1 0h1m33 0h1m10 0h1m28 0h1m-159 1h26m7 0h3m6 0h1m4 0h1m13 0h1m1 0h1m13 0h1m1 0h1m1 0h1m4 0h1m42 0h1m27 0h1m-158 1h21m1 0h6m3 0h3m2 0h1m24 0h1m1 0h1m5 0h4m8 0h1m39 0h1m4 0h1m1 0h1m13 0h1m13 0h1m-156 1h23m1 0h4m2 0h1m4 0h1m7 0h1m5 0h1m8 0h1m10 0h2m48 0h2m6 0h1m15 0h1m10 0h1m-155 1h26m1 0h2m1 0h2m3 0h1m2 0h1m15 0h1m64 0h1m1 0h2m-122 1h23m1 0h1m6 0h1m3 0h1m13 0h1m2 0h1m7 0h1m3 0h2m55 0h1m-121 1h18m1 0h1m1 0h2m12 0h1m5 0h1m16 0h2m3 0h1m1 0h1m2 0h1m11 0h1m8 0h1m1 0h1m-92 1h17m1 0h2m1 0h4m7 0h1m1 0h1m7 0h1m13 0h2m61 0h3m27 0h1m-149 1h13m1 0h3m4 0h6m13 0h3m4 0h1m1 0h1m1 0h1m3 0h1m24 0h1m8 0h1m-89 1h5m1 0h8m6 0h4m1 0h1m6 0h1m8 0h1m2 0h4m6 0h1m3 0h2m18 0h1m10 0h1m28 0h2m25 0h1m-146 1h2m2 0h2m2 0h3m1 0h1m7 0h3m1 0h3m2 0h1m8 0h1m1 0h3m8 0h1m1 0h1m3 0h4m28 0h1m28 0h1m25 0h1m-144 1h1m1 0h2m2 0h4m5 0h1m6 0h1m2 0h1m5 0h1m6 0h3m8 0h1m9 0h1m5 0h1m2 0h1m8 0h1m2 0h1m60 0h2m-133 1h1m6 0h2m2 0h1m1 0h2m1 0h1m2 0h1m3 0h1m6 0h1m3 0h3m1 0h1m8 0h2m1 0h1m14 0h1m64 0h1m-138 1h1m13 0h2m1 0h6m3 0h1m9 0h6m14 0h1m16 0h3m45 0h1m14 0h1m-136 1h1m14 0h1m1 0h4m3 0h3m4 0h1m1 0h1m3 0h1m1 0h1m1 0h1m3 0h1m6 0h1m1 0h1m18 0h1m-74 1h1m12 0h2m3 0h2m4 0h2m1 0h2m5 0h1m7 0h4m23 0h1m5 0h2m48 0h1m-111 1h1m3 0h1m2 0h1m1 0h3m2 0h1m3 0h4m3 0h1m4 0h2m1 0h1m7 0h1m6 0h1m12 0h1m4 0h1m49 0h1m-121 1h1m6 0h3m2 0h4m3 0h1m2 0h4m1 0h1m1 0h1m1 0h1m1 0h2m9 0h2m13 0h1m59 0h1m-131 1h1m15 0h1m2 0h1m3 0h1m1 0h6m1 0h1m5 0h3m4 0h4m3 0h1m1 0h1m18 0h1m2 0h1m52 0h1m-130 1h1m19 0h4m1 0h3m2 0h1m1 0h2m1 0h1m3 0h4m1 0h2m1 0h2m2 0h2m14 0h1m5 0h2m45 0h2m1 0h1m-124 1h1m18 0h1m1 0h7m2 0h1m4 0h2m2 0h1m1 0h3m1 0h2m19 0h1m26 0h1m-79 1h2m2 0h2m1 0h1m4 0h4m4 0h1m3 0h2m2 0h1m1 0h2m4 0h1m8 0h1m57 0h1m-106 1h1m2 0h1m2 0h1m2 0h2m1 0h1m7 0h1m3 0h5m1 0h3m1 0h1m4 0h1m3 0h1m1 0h1m3 0h1m27 0h1m-72 1h5m4 0h1m6 0h1m3 0h4m1 0h2m1 0h2m2 0h1m10 0h1m29 0h1m30 0h1m-124 1h1m13 0h1m1 0h1m3 0h1m1 0h1m6 0h3m3 0h1m1 0h4m1 0h1m1 0h1m2 0h2m11 0h2m-63 1h1m17 0h1m1 0h1m2 0h4m2 0h8m2 0h2m3 0h1m2 0h2m1 0h1m9 0h1m2 0h1m58 0h1m-126 1h1m18 0h1m6 0h5m1 0h3m1 0h6m2 0h2m4 0h3m3 0h1m4 0h1m1 0h1m3 0h1m-69 1h1m22 0h2m2 0h1m1 0h1m4 0h2m1 0h5m1 0h3m1 0h2m1 0h1m1 0h1m1 0h1m2 0h4m3 0h1m-65 1h1m22 0h2m3 0h2m2 0h7m1 0h4m1 0h3m2 0h1m10 0h1m-28 1h3m1 0h1m2 0h1m3 0h2m1 0h1m5 0h3m15 0h1m48 0h1m-96 1h1m2 0h4m1 0h1m3 0h1m2 0h1m1 0h3m1 0h1m6 0h4m1 0h1m15 0h1m18 0h1m24 0h1m-119 1h1m24 0h1m3 0h1m1 0h1m6 0h2m1 0h5m3 0h1m3 0h1m2 0h2m5 0h1m9 0h1m7 0h2m34 0h1m-89 1h2m1 0h1m4 0h2m1 0h1m4 0h3m5 0h1m2 0h5m4 0h1m8 0h1m-40 1h1m1 0h1m2 0h1m5 0h2m8 0h1m2 0h1m3 0h1m50 0h1m-83 1h2m24 0h1m2 0h1m16 0h1m33 0h1m-78 1h1m1 0h1m2 0h1m6 0h1m8 0h1m4 0h2m12 0h1m35 0h1m-92 1h1m12 0h1m6 0h2m29 0h1m19 0h2m14 0h1m1 0h1m-105 1h1m99 0h2m-102 1h1m91 0h1m1 0h1m1 0h1m-97 1h1m88 0h1m-90 2h1m2 0h1m42 0h3m1 0h1m1 0h1m8 0h1m2 0h7m9 0h1m3 0h2m-84 1h1m2 0h1m49 0h3m2 0h1m10 0h1m7 0h1m-75 1h1m39 0h1m27 0h1m-74 1h2m40 0h1m31 0h1m3 0h1m-79 1h1m4 0h1m32 0h1m2 0h2m-37 1h1m1 0h1m6 0h1m15 0h5m-27 1h1m3 0h1m12 0h1m-17 1h1m2 1h1m9 0h2m-3 1h1m-8 1h3m1 0h2"/><path stroke="#481c6e" d="M164 8h1m-4 1h1m0 3h1m1 0h1m1 2h1m-3 1h1m-11 1h1m7 0h1m17 0h1m-31 1h1m12 0h1m2 0h1m-25 1h2m16 0h2m-17 1h2m10 0h1m1 0h1m4 0h2m18 0h2m-41 1h1m4 0h2m1 0h1m5 0h2m2 0h1m21 0h1m-45 1h1m3 0h1m4 0h1m-4 1h1m4 0h1m2 0h1m8 0h1m21 0h1m-47 1h1m4 0h2m5 0h1m1 0h1m3 0h1m20 1h1m-36 1h1m6 0h1m-7 1h1m11 0h1m-26 1h1m14 0h1m9 0h1m26 0h1m-49 1h1m2 0h1m6 0h1m36 0h1m-46 1h2m-8 1h1m9 0h1m8 0h1m1 0h1m23 0h1m11 0h1m-58 1h1m4 0h1m7 0h2m36 0h1m-48 1h1m36 0h1m8 0h1m3 0h1m-57 1h1m54 0h1m4 0h1m-16 1h1m-49 1h1m1 0h3m33 0h1m-42 1h1m4 0h2m57 0h1m-66 1h1m3 0h1m1 0h2m29 0h1m-32 1h1m9 1h1m-10 1h1m36 0h1m6 0h1m-28 1h2m11 0h1m-20 1h1m7 0h1m1 0h1m14 0h1m24 0h1m-141 2h1m93 0h1m-97 1h1m1 0h1m38 0h1m66 0h1m9 0h1m3 0h1m-121 1h1m37 0h2m45 0h1m22 0h1m-26 1h1m-12 1h1m47 0h1m-56 1h1m5 0h1m47 0h1m-116 1h1m38 0h1m2 0h1m1 0h1m2 0h1m2 0h1m14 0h1m1 0h1m-68 1h2m37 0h1m13 0h1m8 0h1m-29 1h1m6 0h2m5 0h2m14 0h1m6 0h1m6 0h1m-40 1h1m3 0h2m8 0h1m6 0h1m9 0h1m-37 1h1m5 0h2m1 0h3m68 0h1m7 0h1m-88 1h1m4 0h1m2 0h1m4 0h1m2 0h1m8 0h1m-59 1h1m32 0h1m2 0h1m3 0h1m3 0h1m-51 1h1m37 0h1m1 0h1m2 0h1m2 0h1m1 0h1m6 0h1m24 0h1m18 0h1m24 0h2m-128 1h2m3 0h1m33 0h2m1 0h1m4 0h4m1 0h1m3 0h1m71 0h1m-130 1h1m40 0h1m6 0h2m1 0h2m4 0h2m70 0h1m-128 1h1m1 0h2m42 0h2m3 0h1m-50 1h1m41 0h1m2 0h1m2 0h1m20 0h1m-70 1h1m39 0h3m10 0h1m-54 1h1m36 0h1m4 0h1m9 0h1m19 0h1m53 0h1m-128 1h4m1 0h1m1 0h1m27 0h1m1 0h1m1 0h1m1 0h1m2 0h1m8 0h1m53 0h1m-104 1h1m7 0h1m4 0h1m17 0h2m3 0h2m1 0h1m-13 1h2m1 0h2m7 0h1m5 0h1m16 0h1m-67 1h3m3 0h2m25 0h2m2 0h1m56 0h1m-89 1h1m1 0h1m5 0h1m10 0h1m2 0h1m2 0h1m1 0h2m1 0h1m1 0h1m-35 1h1m3 0h1m3 0h1m14 0h1m4 0h1m3 0h1m1 0h1m3 0h1m9 0h1m22 0h1m3 0h1m-83 1h1m4 0h1m2 0h1m4 0h1m1 0h1m13 0h4m1 0h2m2 0h1m39 0h1m3 0h1m3 0h2m-85 1h1m2 0h1m2 0h2m2 0h1m2 0h1m3 0h2m7 0h2m1 0h2m33 0h1m15 0h2m40 0h1m-124 1h1m3 0h1m2 0h1m3 0h4m2 0h1m1 0h1m21 0h1m3 0h1m-42 1h1m7 0h1m13 0h1m1 0h1m4 0h2m6 0h3m5 0h1m3 0h1m-56 1h1m4 0h1m13 0h1m6 0h1m2 0h1m6 0h1m14 0h1m2 0h1m29 0h1m31 0h1m10 0h1m-110 1h2m3 0h1m2 0h1m1 0h1m4 0h1m2 0h1m5 0h1m10 0h1m31 0h1m25 0h2m-99 1h1m3 0h1m4 0h1m11 0h1m5 0h1m3 0h1m2 0h1m4 0h1m34 0h1m44 0h1m-131 1h1m1 0h1m9 0h1m16 0h1m3 0h2m1 0h2m10 0h1m32 0h1m44 0h1m14 0h1m-140 1h1m6 0h1m6 0h1m11 0h1m2 0h1m1 0h2m2 0h1m3 0h1m1 0h2m4 0h2m61 0h1m-115 1h1m12 0h1m3 0h1m11 0h2m3 0h1m5 0h1m8 0h2m-49 1h1m9 0h1m16 0h1m1 0h1m7 0h2m2 0h2m9 0h1m4 0h1m-59 1h1m4 0h1m10 0h2m9 0h2m4 0h1m1 0h1m2 0h1m27 0h1m47 0h1m-109 1h1m27 0h2m3 0h1m5 0h1m1 0h1m17 0h1m10 0h2m33 0h1m15 0h1m-124 1h1m1 0h1m29 0h2m4 0h1m2 0h1m1 0h1m16 0h1m37 0h1m-108 1h1m9 0h2m2 0h1m5 0h3m9 0h1m9 0h2m1 0h1m4 0h1m19 0h1m27 0h1m4 0h1m-101 1h1m1 0h1m3 0h3m5 0h2m26 0h4m32 0h1m35 0h1m-111 1h1m4 0h1m3 0h1m2 0h1m6 0h1m19 0h1m37 0h1m26 0h1m14 0h2m-154 1h1m71 0h1m42 0h1m4 0h1m32 0h1m9 0h1m-125 1h1m7 0h1m11 0h2m11 0h1m11 0h1m23 0h1m10 0h1m-110 1h1m47 0h1m4 0h1m19 0h1m3 0h1m-43 1h1m10 0h1m19 0h1m7 0h1m24 0h1m-72 1h1m20 0h3m19 0h1m34 0h1m-69 1h1m8 0h1m9 0h1m17 0h1m20 0h1m-67 1h1m10 0h1m11 0h1m9 0h2m3 0h1m1 0h1m33 0h1m31 0h1m-113 1h1m4 0h1m1 0h1m3 0h1m3 0h1m4 0h1m7 0h1m9 0h1m1 0h1m10 0h1m59 0h1m-112 1h1m1 0h1m9 0h1m3 0h1m1 0h2m17 0h2m9 0h1m7 0h2m11 0h1m1 0h1m-70 1h1m3 0h2m2 0h2m1 0h1m1 0h1m1 0h1m5 0h1m4 0h1m4 0h1m7 0h1m6 0h1m20 0h1m-81 1h1m3 0h2m4 0h1m1 0h1m1 0h1m1 0h3m12 0h1m4 0h2m6 0h1m8 0h1m-51 1h1m3 0h1m21 0h2m1 0h1m8 0h1m-41 1h1m2 0h1m4 0h1m2 0h1m4 0h2m7 0h1m9 0h2m1 0h2m1 0h1m5 0h1m12 0h1m23 0h1m-75 1h1m18 0h1m4 0h1m4 0h1m1 0h2m1 0h1m8 0h1m13 0h1m-67 1h1m5 0h1m1 0h2m6 0h1m3 0h4m3 0h1m9 0h1m2 0h1m2 0h1m5 0h1m25 0h1m-78 1h1m12 0h4m9 0h1m11 0h1m1 0h1m1 0h1m4 0h1m-50 1h1m1 0h1m8 0h2m1 0h2m7 0h1m5 0h1m3 0h1m4 0h1m5 0h1m3 0h1m3 0h1m1 0h1m1 0h1m1 0h1m3 0h1m5 0h1m-67 1h1m12 0h1m1 0h1m20 0h1m4 0h1m4 0h3m5 0h1m-57 1h1m10 0h1m3 0h1m1 0h1m6 0h1m9 0h1m5 0h2m8 0h1m1 0h1m8 0h1m46 0h1m26 0h2m-138 1h1m1 0h1m3 0h1m8 0h2m8 0h1m2 0h1m5 0h2m31 0h1m8 0h1m-76 1h1m1 0h2m4 0h1m4 0h1m1 0h1m7 0h2m7 0h3m8 0h1m6 0h1m7 0h2m3 0h1m1 0h1m17 0h1m11 0h1m-72 1h1m5 0h1m10 0h1m6 0h2m6 0h1m5 0h1m1 0h1m15 0h1m26 0h1m-102 1h1m1 0h2m16 0h1m1 0h2m1 0h1m1 0h1m5 0h1m7 0h2m6 0h1m1 0h1m1 0h1m1 0h1m36 0h2m10 0h1m-113 1h1m16 0h3m3 0h1m5 0h2m4 0h1m21 0h1m31 0h1m12 0h3m4 0h1m-107 1h1m15 0h2m9 0h2m2 0h1m2 0h1m4 0h1m1 0h1m7 0h1m2 0h3m31 0h1m6 0h1m5 0h1m1 0h2m2 0h1m3 0h1m3 0h1m-105 1h1m18 0h1m1 0h1m12 0h1m7 0h1m-51 1h1m3 0h1m2 0h1m10 0h1m11 0h1m3 0h1m3 0h1m13 0h1m23 0h1m19 0h2m1 0h1m-104 1h1m1 0h1m2 0h3m7 0h1m5 0h1m2 0h1m2 0h1m5 0h1m2 0h1m1 0h1m4 0h1m2 0h1m54 0h1m-103 1h1m19 0h1m3 0h1m10 0h1m12 0h1m2 0h1m15 0h1m29 0h1m7 0h1m-109 1h1m6 0h1m6 0h1m1 0h1m4 0h1m10 0h1m6 0h1m3 0h1m3 0h3m1 0h1m10 0h1m5 0h3m3 0h2m-83 1h1m8 0h1m2 0h1m6 0h1m2 0h3m18 0h2m10 0h2m1 0h1m2 0h3m8 0h1m12 0h1m26 0h1m-116 1h2m2 0h2m6 0h1m1 0h1m10 0h1m11 0h1m10 0h1m5 0h1m21 0h2m4 0h1m20 0h1m-84 1h1m1 0h1m4 0h1m5 0h1m7 0h1m2 0h1m6 0h1m4 0h1m16 0h1m-67 1h1m13 0h1m8 0h1m6 0h1m2 0h1m11 0h1m22 0h1m10 0h1m23 0h1m12 0h1m-116 1h1m5 0h1m3 0h1m6 0h1m8 0h1m10 0h1m1 0h2m7 0h1m15 0h1m6 0h2m2 0h1m3 0h1m-75 1h1m2 0h1m2 0h1m6 0h1m8 0h1m7 0h1m5 0h1m29 0h2m2 0h1m-60 1h1m17 0h2m5 0h1m2 0h1m3 0h1m19 0h1m6 0h2m-76 1h1m11 0h1m8 0h1m9 0h1m1 0h1m4 0h1m10 0h1m18 0h1m2 0h2m3 0h1m-68 1h2m4 0h1m5 0h3m11 0h1m4 0h2m1 0h1m2 0h1m1 0h1m3 0h1m10 0h1m5 0h1m2 0h1m47 0h1m1 0h1m-108 1h2m1 0h1m9 0h1m1 0h1m5 0h1m1 0h1m4 0h1m1 0h1m22 0h1m7 0h1m3 0h1m7 0h1m32 0h2m-111 1h1m5 0h1m28 0h1m23 0h1m1 0h1m17 0h1m-93 1h1m12 0h1m10 0h1m7 0h1m2 0h1m6 0h1m9 0h1m2 0h1m6 0h1m5 0h1m-62 1h1m8 0h1m1 0h1m1 0h2m10 0h2m2 0h1m2 0h1m3 0h2m7 0h1m7 0h1m11 0h1m2 0h1m11 0h1m-81 1h1m4 0h2m2 0h1m2 0h1m3 0h3m1 0h1m1 0h1m13 0h1m4 0h1m1 0h1m31 0h1m-72 1h2m6 0h1m1 0h2m1 0h3m2 0h1m1 0h1m1 0h1m7 0h1m9 0h1m39 0h1m23 0h1m-104 1h2m2 0h1m1 0h6m3 0h2m2 0h1m4 0h1m1 0h1m14 0h1m3 0h1m30 0h1m-79 1h1m5 0h1m4 0h2m8 0h2m2 0h1m1 0h1m1 0h1m5 0h1m33 0h1m9 0h1m-79 1h1m10 0h1m3 0h1m6 0h2m4 0h1m9 0h1m3 0h1m5 0h1m-42 1h1m1 0h4m8 0h1m3 0h1m4 0h1m22 0h1m14 0h1m-63 1h1m2 0h2m7 0h1m4 0h1m3 0h1m3 0h2m1 0h2m2 0h2m3 0h1m1 0h1m29 0h1m1 0h1m-74 1h1m3 0h2m1 0h2m3 0h1m2 0h1m6 0h1m9 0h2m7 0h2m22 0h1m3 0h2m-95 1h1m15 0h1m10 0h1m4 0h1m1 0h1m1 0h1m4 0h1m3 0h1m4 0h1m6 0h1m5 0h1m5 0h1m1 0h1m4 0h1m-47 1h1m2 0h2m5 0h1m6 0h1m6 0h1m3 0h1m5 0h1m1 0h1m5 0h1m2 0h1m18 0h1m-67 1h1m2 0h1m1 0h1m2 0h1m4 0h1m1 0h2m17 0h2m9 0h1m18 0h1m3 0h1m-68 1h4m5 0h1m2 0h2m5 0h1m5 0h1m6 0h1m-34 1h1m8 0h1m2 0h1m5 0h1m7 0h2m1 0h1m5 0h1m-32 1h1m12 0h1m9 0h1m1 0h1m2 0h1m15 0h1m12 0h1m1 0h1m-36 1h2m11 0h1m3 0h1m3 0h1m15 0h1m-72 1h1m57 0h1m12 0h1m0 1h1m9 0h1m-69 6h1m-3 1h1m-14 1h1"/><path stroke="#472d7b" d="M165 8h1m-11 3h1m24 0h1m-34 2h1m6 0h2m6 0h1m-8 1h1m3 0h1m-10 1h2m6 0h1m3 0h1m20 0h1m-37 1h1m12 0h1m2 0h1m-11 1h1m11 0h1m-10 1h1m16 0h1m-20 1h2m7 0h1m2 0h1m19 0h1m-39 1h2m5 0h1m2 0h1m3 0h1m2 0h1m-23 1h1m22 0h1m19 0h1m-42 1h1m3 0h1m6 0h1m6 0h1m-11 1h1m-10 1h2m19 0h1m9 0h3m0 1h1m1 0h1m-44 1h1m4 0h1m8 0h1m2 0h1m1 0h1m-7 1h2m31 0h1m-37 1h1m39 0h1m-44 1h1m2 0h1m4 0h1m-16 1h1m46 0h1m3 0h1m-57 2h2m16 0h1m15 0h1m-36 1h1m41 0h1m-47 1h1m-3 1h1m62 0h1m-64 1h1m29 0h1m-32 2h2m12 0h1m-16 1h1m-1 1h1m24 0h1m21 0h1m-30 1h1m47 0h1m-54 1h1m13 0h1m38 0h1m-47 1h1m14 0h1m9 0h1m1 0h1m-25 1h1m20 0h1m-24 1h1m13 0h1m-12 1h1m9 0h1m-63 3h1m3 0h1m39 0h1m42 0h1m-85 1h1m4 0h1m9 0h1m-17 1h1m2 0h1m3 0h1m11 0h1m4 0h1m8 0h1m1 0h1m37 0h1m-70 1h1m12 0h1m2 0h1m5 0h1m7 0h2m16 0h1m-53 1h1m18 0h1m9 0h1m-26 1h1m12 0h1m56 0h1m-70 1h1m66 0h1m-72 1h1m24 0h1m9 0h1m-44 1h1m9 0h1m2 0h1m16 0h1m28 0h1m-60 1h1m84 0h1m-127 1h1m2 0h1m74 0h1m-30 1h1m1 0h1m1 0h1m23 0h2m-80 1h1m47 0h1m5 0h2m-9 1h1m27 0h1m-75 1h1m1 0h1m46 0h1m6 0h1m52 0h1m5 0h1m5 0h1m-80 1h1m5 0h1m2 0h1m56 0h1m39 0h1m-147 1h1m37 0h1m3 0h1m10 0h1m53 0h1m-108 1h1m6 0h1m32 0h1m3 0h1m1 0h2m-43 1h1m37 0h1m3 0h1m-50 1h1m2 0h1m3 0h1m29 0h1m4 0h3m2 0h2m19 0h1m19 0h1m-90 1h1m3 0h1m8 0h1m26 0h1m1 0h1m55 0h1m-96 1h2m6 0h1m2 0h1m32 0h1m33 0h1m50 0h1m-133 1h1m4 0h1m5 0h1m2 0h1m21 0h1m11 0h1m5 0h1m30 0h1m15 0h1m-67 1h1m47 0h2m25 0h1m-99 1h2m3 0h1m19 0h1m16 0h1m76 0h1m-125 1h1m2 0h1m24 0h1m17 0h1m-41 1h1m1 0h1m19 0h1m3 0h1m27 0h2m15 0h1m2 0h1m-86 1h1m9 0h1m4 0h1m18 0h1m3 0h1m1 0h2m16 0h1m-60 1h2m4 0h1m5 0h1m21 0h1m2 0h1m4 0h1m4 0h1m3 0h1m5 0h1m56 0h2m16 0h1m-133 1h2m1 0h1m4 0h1m3 0h1m1 0h1m22 0h1m3 0h1m8 0h1m32 0h1m15 0h1m7 0h1m5 0h1m-115 1h1m8 0h1m26 0h1m2 0h1m3 0h2m3 0h1m34 0h1m-69 1h1m26 0h1m8 0h1m62 0h1m-100 1h1m20 0h1m2 0h1m4 0h1m2 0h1m3 0h1m6 0h1m13 0h1m8 0h1m-34 1h1m13 0h1m30 0h1m5 0h1m10 0h1m1 0h1m-109 1h1m2 0h1m2 0h1m29 0h1m16 0h1m4 0h1m5 0h1m-53 1h1m29 0h1m12 0h1m37 0h1m8 0h1m7 0h1m-104 1h1m27 0h1m13 0h1m5 0h1m35 0h1m14 0h1m-1 1h1m2 0h1m-58 1h1m1 0h1m72 0h1m-90 1h1m15 0h1m-70 1h1m40 1h1m57 0h1m-8 1h1m55 0h1m-88 1h1m6 0h1m25 0h1m-75 1h1m23 0h1m43 0h1m6 0h1m36 0h1m-113 1h1m14 0h1m9 0h1m3 0h1m5 0h1m6 0h1m26 0h1m-65 1h1m19 0h1m9 0h1m9 0h1m3 0h1m1 0h1m17 0h1m-75 1h1m4 0h1m7 0h1m9 0h1m1 0h1m13 0h1m7 0h1m8 0h2m13 0h1m-76 1h1m2 0h1m16 0h1m39 0h1m-52 1h1m11 0h1m7 0h1m15 0h1m1 0h1m35 0h1m-77 1h1m17 0h1m3 0h1m5 0h1m4 0h1m8 0h1m6 0h1m-55 1h1m3 0h1m11 0h1m3 0h1m4 0h1m5 0h1m1 0h1m9 0h1m1 0h1m2 0h1m10 0h1m-67 1h1m5 0h1m4 0h1m6 0h1m8 0h1m3 0h1m8 0h1m11 0h1m-47 1h1m1 0h1m8 0h1m1 0h1m6 0h1m5 0h1m3 0h1m19 0h1m2 0h1m5 0h1m-68 1h1m7 0h2m13 0h2m16 0h2m6 0h1m9 0h1m28 0h2m-77 1h1m19 0h1m1 0h1m3 0h1m1 0h1m4 0h1m10 0h2m-58 1h1m10 0h1m2 0h1m31 0h1m14 0h1m10 0h1m-73 1h1m4 0h1m4 0h1m17 0h1m23 0h1m7 0h2m3 0h1m-62 1h1m18 0h1m3 0h1m9 0h1m4 0h1m10 0h1m1 0h1m2 0h1m32 0h1m28 0h1m-118 1h1m2 0h2m5 0h1m6 0h1m32 0h1m4 0h1m4 0h1m67 0h1m-131 1h1m1 0h1m12 0h1m1 0h2m3 0h1m23 0h1m10 0h1m1 0h1m27 0h1m25 0h1m7 0h1m-120 1h1m5 0h1m2 0h1m10 0h1m3 0h1m1 0h1m21 0h1m52 0h1m11 0h1m-107 1h1m1 0h1m8 0h2m12 0h1m18 0h1m1 0h1m2 0h1m39 0h1m7 0h1m5 0h1m3 0h1m-116 1h1m7 0h1m4 0h1m7 0h1m7 0h1m3 0h1m2 0h1m17 0h1m26 0h1m16 0h1m-84 1h1m18 0h1m2 0h1m6 0h1m12 0h1m58 0h1m-101 1h1m3 0h1m8 0h1m19 0h1m44 0h1m3 0h2m-104 1h1m4 0h1m17 0h1m7 0h1m2 0h1m8 0h1m3 0h1m12 0h1m36 0h1m-100 1h1m14 0h1m3 0h1m13 0h1m2 0h2m21 0h1m8 0h1m4 0h1m20 0h1m6 0h1m-102 1h1m13 0h1m5 0h2m35 0h2m7 0h1m5 0h1m24 0h2m-104 1h1m11 0h1m11 0h1m7 0h1m27 0h1m1 0h1m6 0h2m4 0h1m3 0h1m25 0h1m-115 1h1m3 0h1m14 0h1m8 0h1m7 0h1m3 0h1m1 0h1m9 0h1m4 0h1m23 0h1m27 0h1m-97 1h1m13 0h1m3 0h1m4 0h1m14 0h1m13 0h1m1 0h1m5 0h1m4 0h2m5 0h1m-71 1h1m11 0h1m4 0h1m16 0h1m5 0h1m32 0h1m33 0h1m-119 1h1m9 0h2m22 0h1m2 0h1m9 0h1m23 0h1m6 0h1m-75 1h1m26 0h1m4 0h1m12 0h1m6 0h1m-58 1h1m2 0h1m8 0h1m15 0h1m1 0h1m21 0h1m14 0h1m5 0h1m6 0h1m-68 1h1m3 0h1m19 0h1m5 0h1m28 0h1m8 0h1m4 0h1m15 0h1m24 0h1m-95 1h1m3 0h1m18 0h1m9 0h1m10 0h1m-59 1h1m11 0h1m6 0h1m7 0h1m10 0h1m1 0h1m27 0h1m-72 1h1m14 0h1m17 0h1m3 0h1m4 0h1m18 0h1m3 0h2m2 0h1m-80 1h1m10 0h1m24 0h1m4 0h1m4 0h4m3 0h1m2 0h1m3 0h2m6 0h1m4 0h1m5 0h1m4 0h1m6 0h1m3 0h1m-60 1h1m7 0h1m3 0h1m6 0h1m2 0h3m1 0h1m15 0h1m3 0h1m2 0h1m4 0h1m-91 1h1m7 0h1m18 0h1m3 0h1m15 0h1m3 0h1m35 0h1m4 0h1m-80 1h1m14 0h1m29 0h1m29 0h1m-79 1h1m31 0h1m6 0h1m1 0h1m28 0h1m8 0h1m1 0h1m-79 1h1m1 0h1m70 0h1m26 0h1m-103 1h1m2 0h1m10 0h1m60 0h1m-97 1h1m4 0h1m14 0h2m2 0h1m23 0h1m13 0h1m4 0h1m21 0h1m2 0h1m1 0h1m1 0h1m1 0h1m-77 1h1m7 0h1m7 0h1m10 0h1m1 0h2m8 0h1m1 0h1m24 0h1m1 0h1m1 0h1m2 0h2m2 0h1m8 0h1m-74 1h1m2 0h1m20 0h1m5 0h3m14 0h1m9 0h1m-66 1h1m7 0h1m10 0h1m4 0h1m9 0h1m5 0h1m24 0h1m5 0h1m-88 1h1m27 0h1m2 0h1m6 0h1m4 0h2m23 0h1m1 0h1m3 0h1m-52 1h1m37 0h1m7 0h1m4 0h1m2 0h1m17 0h2m-82 1h1m2 0h2m12 0h1m1 0h1m29 0h1m14 0h1m15 0h2m-81 1h1m6 0h1m6 0h1m2 0h1m9 0h1m9 0h1m12 0h1m18 0h1m-60 1h1m22 0h1m1 0h1m16 0h2m10 1h1m12 0h1m-51 4h1m5 0h1m-37 2h1m10 0h1m7 0h1"/><path stroke="#443b84" d="M162 8h1m3 2h1m-7 1h2m1 0h2m-14 1h1m-3 1h1m17 0h1m-20 1h1m7 0h1m4 0h1m3 0h1m1 0h1m-21 1h1m1 0h1m9 0h1m6 0h2m6 0h1m-32 1h1m9 0h1m5 0h1m4 0h1m12 0h1m-33 1h1m1 0h1m3 0h1m6 0h1m23 0h1m-36 1h1m2 0h1m11 0h1m3 0h2m15 0h1m2 0h1m-39 1h2m33 0h1m-42 1h1m9 0h1m3 0h1m9 0h2m1 0h1m14 0h1m-30 1h1m1 0h1m7 0h1m-26 1h1m3 0h1m8 0h1m24 0h1m6 0h1m-45 1h1m1 0h1m4 0h1m6 0h1m9 0h1m-20 1h1m4 0h1m34 0h1m-31 1h1m20 0h1m8 0h1m-52 1h1m13 0h1m33 0h1m4 0h1m-53 1h1m16 0h2m27 0h1m-25 1h1m-23 1h1m5 0h1m2 0h1m7 0h1m12 0h1m16 0h1m1 0h1m3 0h1m-60 1h1m14 0h1m1 0h1m2 0h1m5 0h1m5 1h1m26 0h1m-59 1h1m22 0h1m34 0h1m-57 1h1m40 0h1m-45 1h1m32 0h1m1 0h1m20 1h1m-59 1h1m10 0h1m16 0h1m-35 2h1m5 0h1m2 0h1m16 0h1m-20 1h1m10 0h1m-2 1h1m33 0h1m4 0h1m-61 1h1m8 0h1m21 0h1m-11 1h2m6 0h1m4 0h1m5 0h1m9 0h1m-17 1h1m4 0h1m30 0h1m-61 1h1m42 0h1m-56 1h1m5 0h1m-4 1h1m28 0h1m9 0h1m1 0h1m-45 1h1m2 0h1m21 0h1m-24 1h1m3 0h1m48 1h1m-65 1h1m7 0h1m54 0h1m-64 1h1m1 0h1m10 0h1m3 0h1m13 0h1m16 0h1m1 0h1m2 0h1m-56 1h1m4 0h2m12 0h1m40 0h1m-52 1h1m13 0h1m3 0h1m16 0h1m2 0h1m-51 1h1m8 0h1m37 0h1m26 0h1m-76 1h1m12 0h1m29 0h1m11 0h2m-33 1h1m22 0h1m27 0h1m-81 1h1m4 0h1m5 0h1m13 0h1m1 0h1m35 0h1m-54 1h1m1 0h1m22 0h1m35 1h1m-120 1h2m1 0h1m-1 1h1m61 0h1m9 0h1m-1 2h1m-23 1h1m1 0h1m-14 1h1m5 0h1m4 0h1m10 0h1m2 0h1m26 0h1m25 0h1m-117 1h1m35 0h1m4 0h1m49 0h1m-58 1h2m4 0h2m6 0h2m1 0h1m-53 1h1m31 0h1m6 0h1m13 0h1m74 0h1m-127 1h1m32 0h1m9 0h1m77 0h1m-126 1h1m52 0h1m54 0h1m1 0h1m19 0h1m-89 1h1m9 0h1m28 0h1m49 0h2m-130 1h1m5 0h1m26 0h1m4 0h1m5 0h1m51 0h1m11 0h1m18 0h1m-133 1h2m4 0h1m3 0h2m5 0h1m93 0h1m19 0h1m-97 1h1m2 0h1m4 0h1m4 0h1m1 0h1m-49 1h1m50 0h1m63 0h1m16 0h1m-83 1h1m10 0h1m21 0h1m24 0h1m-69 1h2m6 0h1m49 0h1m-100 1h1m6 0h1m37 0h1m2 0h2m39 0h1m8 0h2m30 0h1m-129 1h2m94 0h1m-99 1h1m34 0h1m2 0h1m18 0h1m7 0h2m13 0h1m18 0h1m15 0h1m11 0h1m-125 1h1m8 0h1m32 0h1m4 0h1m48 0h1m1 0h1m36 0h1m-140 1h1m11 0h2m48 0h1m12 0h1m-38 1h1m27 0h1m8 0h1m22 0h1m24 0h1m-124 1h1m15 0h1m27 0h1m14 0h1m7 0h1m29 0h1m25 0h1m-69 1h2m38 0h1m5 0h1m22 0h1m13 0h1m-146 1h1m51 0h1m16 0h1m17 0h2m36 0h1m-127 1h1m54 0h1m25 0h1m17 0h1m39 0h1m1 0h1m-125 1h2m55 0h1m9 0h2m-94 1h3m2 0h1m41 0h1m26 0h1m-8 1h1m5 0h1m14 0h1m15 0h1m-33 1h1m1 0h1m1 0h1m20 0h1m-28 1h1m5 0h1m20 0h2m53 0h1m-80 1h1m59 0h1m3 0h1m-75 1h1m3 0h1m1 0h1m32 0h1m-80 1h1m1 0h1m2 0h1m1 0h1m1 0h2m5 0h1m32 0h1m3 0h1m3 0h2m-55 1h1m2 0h1m31 0h1m-45 1h1m19 0h3m28 0h1m6 0h1m14 0h1m-15 1h1m18 0h1m43 0h1m-119 1h1m2 0h1m18 0h1m10 0h2m23 0h1m-66 1h1m14 0h1m1 0h1m9 0h1m2 0h1m30 0h1m3 0h1m7 0h1m-78 1h1m8 0h1m3 0h1m6 0h1m5 0h1m7 0h1m8 0h1m13 0h1m5 0h1m2 0h2m10 0h1m-71 1h1m12 0h2m7 0h1m10 0h1m6 0h1m16 0h1m23 0h2m-74 1h2m1 0h1m17 0h1m93 0h1m-131 1h1m2 0h1m1 0h1m2 0h1m9 0h2m5 0h1m11 0h1m27 0h1m19 0h1m-86 1h1m7 0h1m20 0h1m10 0h2m3 0h1m5 0h2m15 0h1m22 0h1m-85 1h1m1 0h1m3 0h1m17 0h1m5 0h1m14 0h1m3 0h1m15 0h1m6 0h1m52 0h1m-136 1h1m10 0h1m3 0h2m13 0h1m16 0h1m7 0h1m18 0h1m6 0h1m51 0h1m-112 1h1m8 0h1m5 0h1m7 0h1m7 0h1m14 0h1m19 0h1m8 0h1m-86 1h1m3 0h1m9 0h1m6 0h3m4 0h2m2 0h1m18 0h1m14 0h1m6 0h2m6 0h1m2 0h1m11 0h1m15 0h1m-114 1h1m17 0h1m1 0h1m6 0h1m21 0h1m37 0h1m20 0h1m1 0h1m9 0h1m-126 1h1m1 0h1m1 0h1m3 0h1m15 0h1m6 0h1m2 0h1m7 0h1m17 0h1m21 0h1m2 0h1m2 0h1m3 0h1m16 0h1m-106 1h1m16 0h1m1 0h1m10 0h1m5 0h1m6 0h2m3 0h1m4 0h1m11 0h1m21 0h1m2 0h1m-98 1h2m6 0h2m19 0h1m1 0h1m1 0h1m7 0h1m9 0h1m30 0h2m2 0h1m3 0h1m14 0h2m2 0h1m-102 1h1m4 0h1m12 0h1m6 0h1m2 0h1m1 0h1m30 0h1m17 0h1m8 0h1m8 0h1m2 0h1m8 0h1m-116 1h2m3 0h1m1 0h1m5 0h1m4 0h1m2 0h1m2 0h1m25 0h1m4 0h2m6 0h1m34 0h1m10 0h1m-107 1h1m15 0h1m3 0h1m9 0h1m10 0h1m4 0h1m9 0h1m8 0h1m16 0h1m9 0h1m13 0h1m-115 1h1m6 0h1m13 0h1m2 0h1m36 0h1m16 0h1m5 0h1m4 0h1m27 0h1m1 0h1m1 0h1m-126 1h1m12 0h1m4 0h1m2 0h1m7 0h1m18 0h1m1 0h3m15 0h1m3 0h2m7 0h1m-92 1h1m9 0h1m1 0h1m1 0h1m13 0h1m11 0h1m9 0h1m5 0h1m5 0h1m6 0h1m1 0h2m17 0h1m12 0h1m8 0h1m-115 1h1m6 0h1m1 0h1m3 0h2m2 0h2m4 0h1m9 0h1m7 0h1m3 0h1m7 0h1m9 0h1m11 0h1m17 0h1m14 0h1m3 0h1m-103 1h1m21 0h1m1 0h2m9 0h1m16 0h1m10 0h1m3 0h1m23 0h1m-94 1h1m23 0h1m3 0h1m7 0h1m4 0h1m1 0h1m3 0h1m10 0h1m3 0h1m12 0h1m49 0h1m-116 1h1m13 0h2m6 0h1m8 0h1m13 0h1m1 0h1m8 0h1m1 0h1m2 0h2m5 0h1m1 0h1m25 0h1m11 0h1m-109 1h1m6 0h1m14 0h1m2 0h1m11 0h1m3 0h1m2 0h1m18 0h1m8 0h1m8 0h1m29 0h2m-107 1h1m16 0h1m8 0h1m4 0h1m5 0h1m13 0h2m7 0h2m26 0h1m18 0h1m-118 1h1m4 0h2m1 0h1m10 0h1m18 0h1m4 0h1m3 0h1m2 0h1m12 0h1m15 0h2m-90 1h1m12 0h2m10 0h1m8 0h1m5 0h1m10 0h3m3 0h1m7 0h1m3 0h1m2 0h1m2 0h1m7 0h1m-43 1h1m3 0h1m5 0h1m1 0h1m17 0h3m12 0h1m2 0h1m2 0h1m1 0h1m25 0h1m-111 1h1m19 0h1m27 0h1m13 0h2m9 0h1m6 0h1m1 0h1m3 0h1m-85 1h1m20 0h1m12 0h1m13 0h1m5 0h2m4 0h1m6 0h1m10 0h1m-76 1h1m6 0h1m17 0h1m16 0h1m2 0h1m6 0h1m2 0h1m20 0h1m-82 1h1m31 0h2m4 0h1m2 0h1m20 0h3m-60 1h1m22 0h1m11 0h2m14 0h1m15 0h1m4 0h1m2 0h1m4 0h1m-38 1h1m24 0h1m6 0h1m1 0h1m-94 1h1m12 0h1m35 0h1m4 0h2m2 0h2m1 0h3m2 0h1m11 0h1m26 0h1m-87 1h1m24 0h1m5 0h1m7 0h1m7 0h1m5 0h1m20 0h1m-101 1h1m41 0h1m1 0h1m-45 1h1m47 0h2m11 0h1m7 0h1m14 0h1m3 0h1m8 0h1m-87 1h1m15 0h1m9 0h1m18 0h1m3 0h1m2 0h1m5 0h1m-67 1h1m48 0h1m9 0h1m21 0h2m10 0h1m-63 1h1m9 0h2m8 0h1m3 0h1m2 0h1m4 0h1m7 0h2m-48 1h1m6 0h1m3 0h2m4 0h1m2 0h1m26 0h1m1 0h1m2 0h1m1 0h1m6 0h2m-51 1h1m2 0h1m16 0h1m13 0h1m4 0h1m5 0h1m1 0h1m6 0h1m3 0h1m-71 1h1m10 0h1m19 0h2m7 0h2m12 0h1m21 0h1m-84 1h1m54 0h1m2 0h1m13 1h1m-86 2h1m-2 1h1m30 0h1m-16 1h1m21 0h1m-8 1h1m8 1h1m-17 2h1m-12 1h1"/><path stroke="#3e4a89" d="M164 9h1m1 0h1m-1 2h1m-11 1h1m-7 1h1m2 0h1m5 0h1m1 0h1m3 0h1m-17 1h1m3 0h2m8 0h1m4 0h1m3 0h1m8 0h1m-29 1h1m1 0h1m14 0h1m2 0h1m7 0h1m-36 1h1m11 0h1m7 0h1m12 0h1m1 0h3m-38 1h1m25 0h2m3 0h1m-30 1h2m7 0h1m6 0h1m15 0h1m-37 1h1m6 0h1m8 0h2m5 0h1m-28 1h1m16 0h1m23 0h1m-42 1h1m1 0h1m13 0h1m1 0h1m3 0h1m6 0h1m9 0h3m1 0h1m-43 1h1m6 0h1m9 0h1m15 0h1m-40 1h1m3 0h1m20 0h1m3 0h1m1 0h1m11 0h3m4 0h1m-52 1h1m2 0h1m3 0h2m5 0h1m7 0h2m23 0h1m2 0h1m-51 1h1m8 0h1m4 0h1m1 0h1m4 0h1m1 0h2m4 0h1m-18 1h1m1 0h1m4 0h1m23 0h1m6 0h1m1 0h1m-53 1h2m3 0h1m2 0h1m3 0h1m2 0h1m6 0h1m24 0h1m3 0h1m-48 1h1m6 0h1m2 0h2m36 0h1m1 0h1m-40 1h1m1 0h1m2 0h1m-15 1h2m13 0h1m9 0h1m10 0h1m5 0h1m2 0h1m-47 1h1m10 0h1m1 0h1m3 0h1m8 0h1m16 0h1m7 0h2m-39 1h1m36 0h1m-59 1h1m18 0h1m37 0h1m1 0h1m-63 1h1m23 0h1m14 0h1m21 0h1m-58 1h1m30 0h1m15 0h1m-54 1h1m6 0h1m29 0h1m-37 1h1m4 0h2m8 0h1m22 0h1m2 0h1m19 0h1m-67 1h1m15 0h1m50 0h1m-70 1h1m14 0h1m1 0h1m-17 1h1m2 0h1m1 0h3m7 0h1m25 0h1m-45 1h1m8 0h1m7 0h1m5 0h1m11 0h1m12 0h1m2 0h2m20 0h1m-74 1h2m4 0h1m33 0h1m7 0h1m1 0h1m4 0h1m13 0h1m-20 1h1m-53 1h1m8 0h1m17 0h1m34 0h1m-61 1h1m39 0h1m1 0h2m-46 2h1m3 0h1m13 0h1m40 1h1m-62 1h1m16 0h1m1 0h1m-25 1h3m12 0h1m13 0h1m29 0h1m-74 1h1m2 0h1m15 0h1m2 0h1m4 0h1m2 0h1m12 0h1m14 0h1m6 0h1m9 0h1m6 0h1m10 0h1m-95 1h1m4 0h1m5 0h1m1 0h1m3 0h1m3 0h1m34 0h1m7 0h1m-49 1h1m7 0h1m1 0h1m1 0h1m24 0h1m2 0h1m-42 1h1m15 0h2m31 0h1m4 0h1m-57 1h1m15 0h1m35 0h1m6 0h2m-64 2h1m12 0h1m27 0h1m-47 1h1m6 0h1m7 0h1m6 0h2m22 0h1m-44 1h1m66 0h1m-60 1h1m5 0h1m49 0h1m-63 1h1m9 0h1m13 0h1m-80 1h1m50 0h1m14 0h1m38 0h1m-30 1h1m-4 1h1m47 0h1m5 0h1m-83 1h1m4 0h1m2 0h1m10 0h1m26 0h1m-92 1h1m4 0h2m32 0h1m9 0h1m2 0h1m-53 1h1m38 0h2m6 0h1m4 0h1m57 0h1m1 0h1m-68 1h1m5 0h1m43 0h1m15 0h1m-112 1h1m5 0h1m38 0h1m1 0h1m31 0h1m15 0h1m34 0h1m-124 1h1m32 0h1m8 0h1m1 0h1m5 0h1m5 0h1m46 0h1m13 0h1m-90 1h1m1 0h2m10 0h1m28 0h2m49 0h1m-127 1h1m69 0h1m56 0h1m1 0h1m-132 1h1m7 0h1m3 0h1m32 0h1m1 0h1m2 0h1m30 0h1m24 0h1m5 0h1m-104 1h1m3 0h1m38 0h1m3 0h1m14 0h1m10 0h1m36 0h1m14 0h1m12 0h1m-147 1h1m2 0h2m1 0h1m29 0h1m13 0h1m2 0h1m12 0h1m15 0h1m40 0h1m6 0h1m-132 1h1m93 0h1m13 0h1m-112 1h1m3 0h1m6 0h1m4 0h1m36 0h1m25 0h1m18 0h1m8 0h1m-105 1h1m2 0h1m4 0h1m27 0h1m17 0h1m2 0h1m36 0h1m12 0h1m2 0h1m-110 1h1m2 0h1m3 0h1m45 0h1m3 0h1m1 0h1m44 0h1m23 0h1m-129 1h1m3 0h1m47 0h1m2 0h1m4 0h1m3 0h1m40 0h1m-106 1h1m33 0h1m2 0h1m6 0h2m23 0h1m24 0h1m7 0h1m26 0h1m-131 1h1m5 0h1m4 0h1m25 0h1m43 0h1m7 0h1m5 0h1m-40 1h1m19 0h1m18 0h1m14 0h1m-108 1h1m5 0h1m94 0h1m29 0h1m-118 1h1m1 0h1m23 0h2m10 0h1m4 0h1m34 0h1m9 0h1m-53 1h1m1 0h1m33 0h1m21 0h1m18 0h1m-75 1h1m14 0h1m4 0h1m-73 1h1m48 0h1m73 0h3m-146 1h1m67 0h1m9 0h1m8 0h1m-10 1h1m-33 1h1m13 0h1m3 0h1m69 0h1m-71 1h2m2 0h1m20 0h1m44 0h1m15 0h1m-90 1h1m3 0h1m6 0h1m2 0h1m2 0h2m9 0h1m57 0h1m-82 1h2m4 0h1m1 0h1m-33 1h1m22 0h1m3 0h2m21 0h1m-74 1h1m45 0h1m1 0h1m2 0h1m4 0h1m13 0h1m-81 1h1m5 0h1m2 0h1m7 0h1m10 0h1m24 0h1m5 0h1m2 0h1m4 0h1m3 0h1m-72 1h1m8 0h1m1 0h1m2 0h1m1 0h1m2 0h1m4 0h1m4 0h1m6 0h1m15 0h1m6 0h2m2 0h1m2 0h1m21 0h1m-85 1h2m15 0h1m1 0h1m30 0h1m7 0h2m16 0h1m-81 1h1m4 0h1m7 0h2m10 0h1m1 0h1m19 0h1m5 0h1m7 0h2m1 0h1m-62 1h1m9 0h2m23 0h1m5 0h1m1 0h1m10 0h1m-57 1h1m6 0h1m21 0h1m18 0h1m15 0h3m2 0h1m11 0h1m-69 1h1m13 0h1m20 0h1m7 0h1m7 0h1m1 0h2m45 0h1m14 0h1m-129 1h1m2 0h1m1 0h1m2 0h1m2 0h1m2 0h2m3 0h5m1 0h1m2 0h1m3 0h1m6 0h1m9 0h1m7 0h1m2 0h1m6 0h1m1 0h1m-70 1h1m16 0h2m2 0h1m3 0h1m1 0h1m3 0h2m4 0h1m11 0h1m3 0h1m6 0h2m4 0h1m3 0h1m52 0h1m-121 1h1m7 0h1m2 0h1m1 0h3m5 0h1m1 0h2m3 0h1m5 0h1m6 0h2m6 0h1m3 0h1m16 0h1m32 0h1m-105 1h1m6 0h1m3 0h1m2 0h2m7 0h1m6 0h2m40 0h1m4 0h1m38 0h1m-120 1h1m12 0h2m10 0h1m6 0h1m2 0h1m23 0h1m3 0h2m1 0h1m8 0h1m12 0h1m15 0h2m9 0h1m1 0h1m12 0h1m-128 1h1m7 0h1m7 0h1m26 0h1m1 0h2m31 0h1m2 0h1m18 0h1m5 0h1m7 0h1m10 0h2m-110 1h1m9 0h1m2 0h1m3 0h2m2 0h1m8 0h1m9 0h2m1 0h1m7 0h3m6 0h1m1 0h1m9 0h1m12 0h1m4 0h1m1 0h1m-98 1h1m2 0h1m7 0h1m8 0h1m3 0h1m1 0h2m4 0h1m5 0h1m4 0h1m2 0h2m5 0h1m6 0h1m24 0h1m3 0h1m14 0h1m-117 1h1m10 0h1m2 0h1m2 0h1m10 0h1m2 0h1m4 0h1m1 0h1m29 0h1m8 0h1m11 0h1m9 0h1m2 0h1m3 0h1m-107 1h2m21 0h1m11 0h1m30 0h1m3 0h1m30 0h1m5 0h1m10 0h1m-112 1h1m1 0h1m12 0h1m5 0h1m11 0h1m4 0h1m1 0h1m6 0h1m1 0h1m1 0h1m8 0h1m3 0h1m3 0h1m3 0h1m5 0h1m1 0h1m1 0h1m23 0h1m8 0h2m-122 1h1m5 0h1m13 0h1m3 0h1m1 0h1m3 0h4m1 0h1m1 0h1m2 0h1m16 0h1m11 0h3m8 0h1m1 0h1m11 0h1m20 0h1m-126 1h1m16 0h1m1 0h1m1 0h1m6 0h1m12 0h1m3 0h1m6 0h1m21 0h1m5 0h1m6 0h2m2 0h1m2 0h2m2 0h1m22 0h1m-121 1h1m14 0h2m15 0h1m6 0h1m11 0h1m5 0h2m2 0h1m4 0h1m15 0h1m10 0h1m-95 1h1m1 0h1m12 0h1m12 0h5m32 0h1m14 0h1m6 0h1m3 0h1m3 0h1m2 0h1m1 0h1m4 0h1m14 0h1m-126 1h2m4 0h1m1 0h1m4 0h1m2 0h1m5 0h1m1 0h1m11 0h1m8 0h1m5 0h1m8 0h1m6 0h1m6 0h1m1 0h1m1 0h1m5 0h1m7 0h1m4 0h1m19 0h1m-126 1h1m9 0h1m13 0h1m6 0h1m7 0h1m6 0h3m7 0h1m1 0h2m19 0h1m2 0h1m2 0h1m11 0h1m2 0h1m11 0h2m1 0h1m2 0h1m15 0h1m-130 1h1m2 0h1m20 0h1m25 0h1m1 0h3m2 0h1m1 0h1m1 0h1m1 0h1m2 0h1m10 0h2m3 0h1m3 0h1m1 0h1m15 0h4m-98 1h1m28 0h1m11 0h1m1 0h1m17 0h1m2 0h1m3 0h1m3 0h1m6 0h1m8 0h1m8 0h1m-111 1h1m7 0h1m2 0h1m2 0h1m1 0h1m2 0h1m1 0h1m10 0h1m1 0h2m15 0h1m18 0h1m7 0h1m-60 1h1m26 0h1m1 0h2m7 0h1m7 0h1m5 0h1m13 0h1m15 0h1m5 0h1m-95 1h1m16 0h1m18 0h2m14 0h1m9 0h2m2 0h1m3 0h2m7 0h1m1 0h2m-84 1h2m26 0h1m1 0h1m9 0h1m6 0h1m17 0h2m5 0h1m4 0h1m17 0h1m6 0h2m-88 1h1m4 0h1m41 0h1m7 0h1m6 0h1m2 0h1m7 0h1m24 0h1m-117 1h1m3 0h1m22 0h1m11 0h1m1 0h1m2 0h1m3 0h1m4 0h1m14 0h1m4 0h1m5 0h2m7 0h1m-95 1h1m5 0h1m6 0h1m13 0h1m3 0h1m44 0h1m9 0h1m2 0h1m1 0h1m3 0h1m-97 1h1m5 0h2m8 0h1m10 0h1m35 0h1m29 0h1m-94 1h1m10 0h1m16 0h1m17 0h1m1 0h1m1 0h2m5 0h1m9 0h1m10 0h1m1 0h3m1 0h1m8 0h1m-49 1h1m2 0h1m10 0h1m1 0h1m18 0h1m5 0h1m-83 1h1m3 0h1m7 0h1m30 0h1m8 0h1m2 0h1m12 0h1m2 0h1m9 0h1m1 0h1m-80 1h1m4 0h2m23 0h1m2 0h1m4 0h1m16 0h1m10 0h2m11 0h1m28 0h1m-100 1h1m36 0h1m20 0h1m5 0h1m1 0h1m1 0h1m1 0h1m2 0h1m-97 1h1m54 0h1m12 0h2m16 0h1m-68 1h1m1 0h1m2 0h1m15 0h1m5 0h1m1 0h1m11 0h1m1 0h1m7 0h2m17 0h1m5 0h1m-95 1h1m35 0h1m30 0h1m1 0h1m4 0h1m13 0h1m3 0h1m-85 1h1m6 0h1m18 0h1m33 0h1m2 0h1m4 0h1m4 0h1m8 0h1m2 0h2m1 0h1m11 0h2m-105 1h1m25 0h1m13 0h1m15 0h1m4 0h1m6 0h1m5 0h1m8 0h1m8 0h1m-94 1h1m19 0h2m7 0h1m2 0h1m5 0h1m16 0h1m18 0h1m1 0h1m5 0h1m-87 1h1m44 0h2m9 0h1m31 0h1m1 0h1m1 0h1m-89 1h1m23 0h1m6 0h1m9 0h1m14 0h1m2 0h1m4 0h1m7 0h1m5 0h1m2 0h1m-64 1h1m3 0h1m2 0h1m1 0h1m1 0h1m2 0h1m3 0h1m17 0h1m1 0h2m7 0h1m1 0h3m1 0h1m3 0h1m3 0h1m2 0h2m-70 1h1m73 1h1m-54 3h1m5 0h2m9 0h1m-24 1h1m-15 1h1m10 0h1m10 0h1m-30 1h1m0 1h1m11 0h1m-12 3h1m1 0h1"/><path stroke="#38598c" d="M156 9h1m2 0h2m8 1h1m-8 1h1m-14 1h1m7 0h1m3 0h1m1 0h1m3 0h1m-16 1h1m3 0h1m9 0h1m1 0h2m1 0h1m9 0h1m2 0h1m-40 1h1m5 0h1m17 0h1m12 0h1m-26 1h1m5 0h1m20 0h1m-40 1h1m15 0h1m-18 1h1m26 0h1m11 0h1m-38 1h1m5 0h1m5 0h1m4 0h1m12 0h1m4 0h1m-35 1h1m8 0h1m1 0h1m-16 1h1m20 0h1m3 0h1m-10 1h1m14 0h1m-33 1h1m17 0h1m1 0h1m2 0h3m11 0h1m2 0h1m-36 1h1m8 0h1m4 0h2m18 0h1m2 0h1m-47 1h1m1 0h1m12 0h2m15 0h1m3 0h1m-39 1h1m5 0h1m9 0h1m13 0h1m12 0h1m-42 1h1m4 0h1m14 0h2m4 0h1m20 0h1m-53 1h1m4 0h1m5 0h2m2 0h1m6 0h1m-23 1h2m9 0h1m5 0h1m4 0h2m12 0h1m12 0h1m2 0h1m-54 1h1m15 0h1m32 0h2m3 0h1m1 0h1m-55 1h1m1 0h1m1 0h1m7 0h1m17 0h1m-30 1h1m11 0h1m6 0h2m5 0h1m15 0h1m9 0h1m-37 1h1m-15 1h1m8 0h1m15 0h1m6 0h1m16 0h1m-53 1h1m13 0h1m3 0h1m2 0h1m24 0h1m8 0h1m-62 1h1m3 0h1m5 0h1m3 0h1m16 0h2m-30 1h1m26 0h1m4 0h1m5 0h1m-23 1h1m7 0h1m9 0h1m1 0h1m-41 1h1m6 0h1m8 0h1m17 0h1m4 0h2m4 0h1m1 0h1m-56 1h1m2 0h1m25 0h1m-29 1h1m5 0h1m32 0h1m-20 1h1m18 0h1m13 0h3m14 0h1m-67 1h1m35 0h1m9 0h1m2 0h1m-54 1h2m3 0h1m41 0h1m3 0h1m17 0h1m-74 1h1m3 0h1m6 0h1m34 0h1m5 0h1m1 0h1m-53 1h1m6 0h1m15 0h1m18 0h1m5 0h1m10 0h1m-60 1h1m22 0h1m19 0h1m-44 1h1m1 0h1m-4 1h1m3 0h1m12 0h1m35 0h1m-75 1h1m23 0h1m3 0h2m9 0h1m47 0h2m-76 1h1m4 0h1m8 0h1m-23 1h1m1 0h1m2 0h1m24 0h1m-33 1h1m9 0h1m3 0h1m4 0h1m6 0h1m26 0h1m1 0h1m-55 1h1m5 0h2m2 0h1m6 0h2m28 0h1m-33 1h1m34 0h1m24 0h1m2 0h1m-72 1h1m14 0h1m-4 1h1m4 0h1m35 0h1m11 0h1m2 0h1m-47 1h1m39 2h1m-54 1h1m12 0h1m-27 2h1m21 0h1m1 0h1m1 0h2m-83 1h1m82 0h2m44 0h1m-54 1h1m15 0h1m3 0h1m-32 1h1m-60 1h1m2 0h1m38 0h1m4 0h1m42 0h1m-96 1h1m45 0h2m20 0h1m61 0h1m13 0h1m-144 1h1m2 0h1m46 0h1m1 0h1m15 0h1m-27 1h1m7 0h1m3 0h1m-17 1h1m2 0h1m5 0h1m5 0h1m4 0h1m22 0h1m13 0h1m17 0h2m23 0h1m-137 1h1m37 0h1m1 0h1m1 0h1m19 0h1m7 0h1m52 0h1m20 0h1m-150 1h2m7 0h1m32 0h1m7 0h3m22 0h1m7 0h1m25 0h1m24 0h1m1 0h1m3 0h1m-136 1h1m2 0h1m32 0h2m7 0h1m63 0h1m-106 1h1m4 0h2m25 0h1m46 0h1m24 0h1m-114 1h2m108 0h1m3 0h1m12 0h1m10 0h1m7 0h1m-147 1h2m4 0h1m1 0h1m90 0h1m7 0h1m9 0h1m28 0h1m-147 1h1m54 0h1m6 0h1m52 0h1m-116 1h1m17 0h1m38 0h1m10 0h1m10 0h1m11 0h1m-85 1h1m8 0h1m21 0h1m24 0h1m36 0h1m-64 1h1m13 0h1m10 0h2m48 0h1m4 0h1m21 0h1m-130 1h1m1 0h1m5 0h1m44 0h1m1 0h1m5 0h1m8 0h2m4 0h1m14 0h1m36 0h1m-138 1h1m6 0h1m2 0h1m27 0h1m14 0h1m-51 1h1m1 0h1m12 0h1m37 0h1m46 0h1m-56 1h1m5 0h1m1 0h1m3 0h2m31 0h1m-44 1h3m9 0h1m23 0h1m12 0h1m5 0h1m1 0h1m14 0h1m-154 1h1m76 0h1m10 0h1m37 0h2m12 0h1m20 0h1m-86 1h1m3 0h1m75 0h1m-101 1h1m18 0h1m4 0h1m7 0h1m16 0h1m16 0h1m-110 1h1m3 0h1m62 0h1m1 0h2m22 0h1m13 0h1m38 0h1m5 0h1m-77 1h1m3 0h1m21 0h1m7 0h1m-44 1h1m16 0h1m2 0h1m16 0h1m47 0h1m-81 1h1m3 0h1m1 0h1m-11 1h1m7 0h1m4 0h1m6 0h1m-14 1h2m25 0h1m-39 1h1m4 0h1m25 0h1m40 0h1m3 0h1m-68 1h1m7 0h1m13 0h1m39 0h1m-101 1h2m29 0h1m8 0h1m-56 1h1m5 0h1m24 0h2m22 0h1m3 0h1m2 0h1m-61 1h1m4 0h1m11 0h1m39 0h1m15 0h2m-67 1h1m17 0h1m9 0h1m29 0h1m13 0h1m-88 1h1m10 0h1m16 0h1m5 0h1m14 0h1m1 0h1m13 0h1m7 0h1m11 0h1m33 0h1m-119 1h1m7 0h1m4 0h1m25 0h2m4 0h1m11 0h1m2 0h1m5 0h1m10 0h1m1 0h1m46 0h2m-130 1h4m9 0h1m10 0h1m2 0h1m38 0h1m-65 1h1m24 0h2m2 0h1m15 0h1m5 0h1m2 0h1m9 0h1m51 0h1m-120 1h1m5 0h1m8 0h1m1 0h1m10 0h1m11 0h1m13 0h1m6 0h1m5 0h1m2 0h1m5 0h1m6 0h1m-77 1h1m9 0h1m19 0h1m2 0h1m9 0h1m28 0h1m1 0h1m10 0h1m12 0h1m26 0h1m-126 1h1m24 0h1m17 0h1m7 0h1m2 0h1m15 0h1m11 0h1m16 0h1m2 0h1m-99 1h1m1 0h1m27 0h2m26 0h1m8 0h1m2 0h1m29 0h1m11 0h1m-113 1h1m15 0h1m1 0h1m32 0h1m3 0h1m25 0h2m17 0h1m-93 1h1m3 0h1m8 0h2m13 0h1m5 0h2m4 0h2m4 0h1m11 0h1m2 0h1m4 0h1m1 0h2m3 0h1m1 0h1m6 0h1m5 0h1m2 0h1m1 0h1m1 0h1m6 0h1m-109 1h1m17 0h1m9 0h1m14 0h2m15 0h1m1 0h1m34 0h1m6 0h1m8 0h1m-116 1h1m4 0h2m13 0h1m1 0h1m12 0h2m2 0h1m3 0h1m7 0h1m1 0h1m4 0h1m5 0h1m3 0h1m4 0h1m1 0h1m1 0h1m1 0h1m9 0h1m1 0h1m4 0h1m1 0h1m10 0h1m1 0h1m-111 1h2m12 0h1m4 0h1m11 0h1m6 0h1m20 0h1m1 0h1m3 0h1m2 0h2m3 0h1m3 0h1m4 0h1m13 0h1m3 0h1m-98 1h1m13 0h1m13 0h1m4 0h1m3 0h1m20 0h1m2 0h1m7 0h1m13 0h1m11 0h1m-94 1h1m17 0h1m12 0h1m2 0h2m9 0h1m1 0h1m2 0h2m9 0h1m4 0h1m5 0h1m2 0h1m22 0h1m-119 1h1m13 0h1m31 0h2m4 0h1m24 0h1m2 0h1m14 0h1m4 0h1m17 0h1m-98 1h1m2 0h1m8 0h3m1 0h1m9 0h1m20 0h1m4 0h1m2 0h2m16 0h1m-100 1h1m38 0h1m1 0h1m14 0h1m4 0h1m1 0h1m8 0h1m12 0h1m7 0h2m11 0h1m-93 1h1m3 0h1m19 0h2m9 0h1m17 0h1m8 0h1m16 0h1m5 0h1m2 0h1m2 0h2m12 0h1m2 0h1m3 0h1m-138 1h1m10 0h1m17 0h1m5 0h1m2 0h1m23 0h2m2 0h1m13 0h1m1 0h1m17 0h1m2 0h1m3 0h2m7 0h1m1 0h1m-116 1h1m9 0h1m12 0h1m2 0h1m60 0h1m26 0h1m-107 1h2m19 0h1m6 0h1m13 0h2m9 0h2m4 0h1m31 0h1m8 0h1m-86 1h1m2 0h1m27 0h2m14 0h1m11 0h1m13 0h1m8 0h1m1 0h1m1 0h1m11 0h1m6 0h1m-108 1h1m10 0h1m9 0h1m27 0h1m4 0h1m9 0h1m1 0h1m6 0h1m1 0h1m9 0h2m1 0h1m11 0h1m-114 1h1m3 0h1m19 0h1m30 0h1m7 0h1m7 0h1m17 0h1m1 0h1m3 0h1m-96 1h1m49 0h1m9 0h1m1 0h1m10 0h1m1 0h2m11 0h1m14 0h1m-111 1h1m47 0h1m15 0h1m4 0h2m10 0h1m2 0h1m6 0h1m3 0h1m1 0h1m2 0h1m-96 1h1m2 0h2m1 0h1m7 0h1m7 0h1m3 0h1m39 0h1m7 0h1m5 0h1m1 0h1m9 0h1m1 0h1m1 0h1m6 0h1m8 0h1m-109 1h1m13 0h1m25 0h1m18 0h2m2 0h1m4 0h1m5 0h1m2 0h3m-85 1h1m20 0h2m7 0h1m10 0h1m4 0h1m5 0h1m16 0h1m1 0h1m8 0h1m8 0h2m-91 1h1m43 0h1m9 0h1m5 0h1m2 0h2m17 0h1m2 0h1m4 0h1m-81 1h1m41 0h1m10 0h1m1 0h1m2 0h1m7 0h2m2 0h1m1 0h1m3 0h1m3 0h3m-53 1h1m20 0h1m20 0h1m4 0h1m-98 1h1m18 0h1m5 0h1m28 0h1m1 0h1m8 0h1m1 0h1m2 0h1m6 0h1m10 0h1m1 0h1m-42 1h1m3 0h1m1 0h1m11 0h1m3 0h2m18 0h1m1 0h1m8 0h1m-95 1h1m45 0h1m7 0h1m11 0h1m29 0h1m5 0h1m-103 1h1m8 0h2m42 0h1m7 0h1m5 0h1m2 0h2m2 0h1m2 0h1m-62 1h1m28 0h1m11 0h1m25 0h1m3 0h1m2 0h1m13 0h1m-111 1h1m1 0h1m24 0h1m36 0h1m10 0h1m1 0h1m9 0h2m-81 1h1m16 0h2m7 0h1m16 0h1m15 0h1m1 0h1m4 0h1m1 0h1m19 0h1m13 0h1m1 0h1m-112 1h1m22 0h2m24 0h1m12 0h1m6 0h1m3 0h1m1 0h1m4 0h1m12 0h1m15 0h1m-105 1h1m23 0h1m3 0h2m16 0h1m2 0h1m3 0h1m16 0h1m5 0h1m8 0h1m-67 1h1m2 0h1m3 0h1m12 0h1m27 0h1m15 0h1m-61 1h1m4 0h1m18 0h2m38 0h1m-23 1h1m6 0h1m23 0h1m-11 1h1m-87 3h1m21 1h1m8 0h1m41 1h1m-71 1h1m16 0h1m4 0h1m2 2h1m-18 2h1"/><path stroke="#31668e" d="M158 8h1m4 0h1m7 1h1m3 0h1m-16 1h1m3 0h2m5 0h1m9 1h1m1 0h1m-37 1h2m3 0h1m-1 2h1m17 0h1m9 0h1m2 0h1m1 0h1m-32 1h1m10 0h1m-9 1h1m7 0h1m1 0h1m-13 1h1m1 0h1m4 0h1m18 0h1m-29 1h1m5 0h1m5 0h1m-24 1h1m10 0h1m18 1h1m6 0h1m2 0h1m-39 1h1m-2 1h1m-2 1h1m16 0h1m3 0h1m18 0h1m-44 1h1m3 0h1m38 0h1m2 0h1m-53 1h1m1 0h1m9 0h1m14 0h1m3 0h2m15 0h2m-50 1h1m10 0h1m7 0h1m23 0h1m4 0h2m-15 1h1m17 0h1m2 0h1m-58 1h1m2 0h1m1 0h1m5 0h1m9 0h2m10 0h1m18 0h1m4 0h1m-59 1h1m2 0h1m21 0h1m8 0h1m18 0h1m-33 1h1m1 0h1m6 0h1m25 0h1m-50 1h1m12 0h1m1 0h1m10 0h1m1 0h1m17 0h1m3 0h1m-59 1h1m3 0h1m2 0h1m22 0h1m1 0h1m1 0h1m5 0h1m16 0h2m-50 1h1m10 0h1m1 0h1m8 0h1m-19 1h1m23 0h1m17 0h1m1 0h1m-54 1h2m15 0h1m1 0h1m1 0h1m5 0h3m8 0h1m-30 1h1m13 0h1m1 0h2m1 0h1m3 0h2m21 0h1m-59 1h1m17 0h1m9 0h1m2 0h1m1 0h1m9 0h1m15 0h1m-21 1h1m6 0h1m-58 1h1m6 0h1m3 0h1m32 0h5m-37 1h1m32 0h1m2 0h1m15 0h1m-65 1h1m4 0h1m37 0h1m-47 1h1m14 0h1m-6 1h1m44 0h1m-51 1h1m35 0h1m1 0h1m8 0h1m-23 1h1m17 0h1m-49 1h1m3 0h1m2 0h1m10 0h1m34 0h1m-48 1h1m2 0h1m15 0h1m17 0h1m7 0h1m20 0h1m-66 1h1m34 0h1m18 0h1m-82 1h1m23 0h1m11 0h1m-16 1h1m2 0h1m56 0h1m-68 1h1m13 0h1m2 0h1m4 0h1m38 0h1m-46 1h1m27 0h1m-32 1h1m46 0h1m7 0h1m-76 1h1m4 0h1m3 0h1m34 0h1m16 0h1m-61 1h1m3 0h1m1 0h1m5 0h1m2 0h1m2 0h1m3 0h1m48 0h1m-68 1h1m6 0h1m3 0h3m11 0h1m20 0h1m-48 1h2m6 0h1m11 0h1m-18 1h1m15 0h1m43 0h1m-50 1h1m-17 1h1m8 0h1m27 0h1m12 0h1m-35 1h1m26 0h1m-39 1h1m61 0h1m-27 1h1m-9 1h1m3 0h1m-94 1h1m1 0h1m49 0h1m64 0h1m6 0h1m1 0h1m-124 1h1m50 0h1m1 0h1m28 0h1m17 0h1m-55 1h1m13 0h1m27 0h1m19 0h1m3 0h1m-68 1h1m4 0h1m28 0h1m13 0h1m18 0h1m-67 1h1m12 0h1m77 0h1m-141 1h1m53 0h1m17 0h1m24 0h1m18 0h1m1 0h1m-120 1h2m5 0h1m29 0h1m2 0h1m13 0h1m3 0h1m4 0h1m35 0h1m14 0h2m-116 1h1m50 0h1m1 0h1m1 0h1m37 0h1m-87 1h1m29 0h2m18 0h1m15 0h1m20 0h1m8 0h1m3 0h1m-108 1h1m2 0h1m4 0h1m29 0h1m3 0h1m4 0h1m8 0h1m63 0h1m16 0h1m-136 1h1m2 0h1m34 0h1m8 0h1m21 0h1m19 0h1m-92 1h1m2 0h1m1 0h1m1 0h1m1 0h1m43 0h1m52 0h1m26 0h1m-129 1h1m10 0h1m32 0h1m16 0h1m41 0h1m1 0h1m5 0h1m-77 1h1m8 0h1m10 0h4m23 0h1m-81 1h1m8 0h1m34 0h1m13 0h1m33 0h1m8 0h2m-104 1h1m2 0h1m37 0h1m3 0h1m5 0h1m4 0h1m31 0h1m2 0h1m1 0h1m3 0h2m24 0h1m8 0h1m2 0h1m-143 1h1m7 0h1m4 0h1m2 0h1m29 0h1m10 0h1m1 0h1m1 0h1m3 0h1m11 0h2m7 0h1m7 0h1m1 0h1m8 0h1m22 0h1m-128 1h2m10 0h1m43 0h1m5 0h1m5 0h1m7 0h1m4 0h2m10 0h1m-84 1h2m4 0h1m46 0h1m29 0h2m24 0h1m2 0h1m-119 1h1m46 0h2m14 0h1m6 0h1m18 0h1m3 0h1m39 0h1m-42 1h1m26 0h1m13 0h1m5 0h1m-92 1h2m8 0h1m43 0h1m24 0h1m3 0h1m-86 1h1m3 0h1m1 0h1m7 0h1m14 0h1m12 0h1m2 0h1m36 0h1m-159 1h1m72 0h1m3 0h2m33 0h1m47 0h1m-92 1h1m3 0h1m7 0h1m2 0h1m4 0h1m64 0h1m-105 1h1m26 0h1m4 0h1m14 0h1m-17 1h1m76 0h1m-73 1h1m74 1h1m-75 1h1m2 0h1m68 0h2m-127 1h1m27 0h1m10 1h1m7 0h1m1 0h1m22 0h1m-36 1h1m7 0h1m6 0h1m4 0h1m-68 1h1m18 0h1m30 0h1m8 0h1m18 0h2m-77 1h1m7 0h1m7 0h1m29 0h1m13 0h1m-55 1h1m7 0h1m9 0h1m15 0h1m9 0h1m11 0h1m7 0h1m6 0h1m-82 1h1m59 0h1m24 0h1m40 0h2m-130 1h1m51 0h2m15 0h1m3 0h1m47 0h1m-105 1h1m8 0h1m3 0h1m11 0h1m8 0h1m11 0h1m5 0h1m1 0h1m3 0h2m4 0h1m5 0h1m-71 1h1m41 0h1m9 0h1m11 0h1m47 0h1m-128 1h1m12 0h1m7 0h1m25 0h1m29 0h1m3 0h1m46 0h1m-126 1h1m27 0h1m8 0h1m1 0h1m15 0h2m15 0h1m6 0h1m1 0h1m37 0h1m-88 1h2m3 0h2m1 0h1m17 0h2m12 0h1m3 0h1m8 0h1m15 0h1m3 0h2m-88 1h1m5 0h1m2 0h1m5 0h1m39 0h1m2 0h1m3 0h1m6 0h1m12 0h1m9 0h1m-105 1h1m5 0h1m20 0h1m2 0h1m4 0h1m16 0h1m6 0h1m5 0h1m1 0h2m8 0h1m-42 1h1m20 0h1m5 0h1m5 0h1m7 0h1m17 0h2m-107 1h1m3 0h1m9 0h1m12 0h1m34 0h1m17 0h1m4 0h1m1 0h1m13 0h1m-86 1h1m39 0h1m10 0h1m5 0h1m6 0h1m5 0h1m2 0h1m8 0h1m3 0h1m2 0h1m2 0h1m2 0h1m3 0h1m6 0h1m-108 1h1m3 0h1m34 0h1m1 0h2m2 0h1m12 0h1m11 0h1m4 0h1m10 0h1m4 0h1m10 0h2m-119 1h1m3 0h2m37 0h1m6 0h1m2 0h1m6 0h3m20 0h1m15 0h1m22 0h1m-79 1h1m25 0h1m13 0h1m32 0h1m1 0h1m-115 1h1m7 0h1m4 0h1m13 0h1m21 0h1m11 0h1m2 0h1m9 0h1m10 0h1m1 0h1m3 0h3m-108 1h1m40 0h1m13 0h1m14 0h1m1 0h1m18 0h1m2 0h2m5 0h1m-87 1h2m36 0h1m8 0h1m13 0h1m3 0h1m18 0h1m-78 1h1m11 0h1m15 0h1m16 0h1m1 0h1m2 0h1m26 0h1m1 0h1m8 0h1m-55 1h1m1 0h1m17 0h1m3 0h1m2 0h1m1 0h1m2 0h1m3 0h2m-98 1h1m41 0h1m10 0h1m18 0h1m4 0h1m9 0h1m1 0h1m25 0h1m2 0h1m-104 1h2m37 0h1m2 0h1m1 0h1m4 0h2m2 0h1m8 0h2m5 0h1m12 0h1m19 0h1m-64 1h1m1 0h1m20 0h1m4 0h1m2 0h1m5 0h1m4 0h1m5 0h1m11 0h1m-108 1h1m3 0h1m25 0h1m7 0h1m73 0h1m-125 1h3m84 0h1m9 0h1m1 0h1m3 0h1m4 0h1m-100 1h2m3 0h1m55 0h1m17 0h1m11 0h1m4 0h1m3 0h1m-50 1h1m4 0h1m2 0h1m10 0h1m2 0h1m6 0h1m23 0h1m13 0h1m-66 1h1m5 0h1m24 0h1m13 0h1m13 0h1m-92 1h1m40 0h1m25 0h1m3 0h1m17 0h1m-115 1h1m7 0h1m62 0h2m4 0h1m5 0h1m8 0h1m4 0h1m19 0h1m-123 1h1m8 0h2m55 0h1m8 0h3m12 0h1m-81 1h1m41 0h1m2 0h1m15 0h1m13 0h1m1 0h2m2 0h1m13 0h1m13 0h1m-110 1h1m2 0h1m46 0h1m2 0h1m3 0h1m3 0h2m22 0h1m-89 1h1m34 0h1m9 0h1m2 0h1m9 0h1m3 0h1m6 0h1m3 0h1m2 0h1m5 0h1m5 0h1m-96 1h1m9 0h1m60 0h1m17 0h1m2 0h1m-32 1h1m2 0h1m20 0h2m1 0h1m6 0h1m1 0h1m-102 1h1m65 0h1m14 0h1m3 0h1m11 0h1m-91 1h1m11 0h1m3 0h1m26 0h1m9 0h1m13 0h1m5 0h1m7 0h1m-88 1h1m29 0h1m17 0h1m9 0h1m9 0h1m6 0h1m13 0h1m3 0h1m-93 1h1m21 0h1m24 0h1m15 0h1m23 0h1m2 0h1m-70 1h1m30 0h1m20 0h1m14 0h1m-50 1h1m24 0h1m1 0h2m1 0h1m7 0h1m13 0h1m-67 1h1m7 0h1m6 0h1m5 0h1m19 0h1m2 0h1m8 0h1m1 0h1m8 0h1m-65 1h1m13 0h1m3 0h1m-22 1h1m2 0h1m40 0h1m3 0h1m7 0h1m12 0h1m4 0h1m-94 1h1m4 0h1m0 3h2m25 0h1m5 0h1m-14 1h1m7 0h1m4 0h1m4 0h1m13 0h1m-50 1h1m11 0h2m50 0h1m1 0h1m-71 2h1m10 0h1m16 0h1m-17 5h1"/><path stroke="#2c728e" d="M156 8h2m5 1h1m-9 1h1m17 0h1m-15 1h1m-10 1h1m2 0h2m13 0h1m-12 1h1m22 0h1m4 0h1m-36 1h1m6 0h2m17 0h1m-31 1h1m22 0h1m8 0h1m-35 1h1m3 0h2m2 0h1m2 0h2m2 1h2m3 0h1m2 0h1m11 0h1m-26 1h1m24 0h1m-39 1h1m27 0h1m3 0h1m7 0h1m-9 1h1m6 0h1m2 0h1m-24 1h1m6 0h1m17 0h1m-29 1h1m11 0h1m7 0h1m5 0h1m-46 1h1m32 0h1m11 0h1m-20 1h1m1 0h1m4 0h1m6 0h1m-42 1h1m1 0h1m7 0h1m35 0h1m-52 1h1m14 0h1m12 0h1m18 0h1m-37 1h1m8 0h1m5 0h1m6 0h1m12 0h1m9 0h1m-38 1h2m4 0h1m2 0h1m20 0h1m-49 1h1m3 0h1m17 0h1m-8 1h1m-13 1h1m43 0h1m4 0h2m-49 1h1m2 0h1m3 0h2m5 0h1m2 0h1m-21 1h1m17 0h2m1 0h1m-26 1h1m1 0h1m2 0h1m9 0h1m17 0h1m1 0h1m11 0h1m7 0h1m4 0h1m-46 1h1m19 0h1m1 0h1m18 0h1m-55 1h1m31 0h1m14 0h1m6 0h1m3 0h1m-42 1h1m6 0h1m3 0h1m24 0h1m-66 1h1m8 0h1m6 0h1m9 0h1m17 0h1m3 0h1m1 0h1m16 0h1m2 0h1m-58 1h1m14 0h1m20 0h2m1 0h1m9 0h2m-66 1h1m1 0h1m16 0h1m27 0h1m-44 1h2m6 0h1m2 0h1m18 0h1m4 0h1m6 0h1m10 0h1m-54 1h1m4 0h1m5 0h1m36 0h1m-42 1h1m45 0h1m-56 1h1m53 1h1m-60 1h1m8 0h1m-4 1h1m27 0h1m18 0h2m1 0h1m4 0h1m-62 1h1m15 0h1m2 0h2m32 0h1m9 0h1m3 0h3m-68 1h1m5 1h1m8 0h1m37 0h1m-60 1h2m5 0h1m2 0h1m18 0h1m31 0h1m8 0h1m5 0h1m-74 1h1m5 0h2m7 0h1m-18 1h1m15 0h1m5 0h1m27 0h1m-34 1h1m-21 1h1m15 0h1m2 0h1m2 0h2m43 0h2m-74 1h1m5 0h1m1 0h1m14 0h1m15 0h1m5 0h1m10 0h1m8 0h1m6 0h2m-60 1h1m10 0h1m6 0h1m33 0h1m-56 1h1m26 0h1m28 0h1m-64 1h2m60 0h1m-65 1h1m-59 1h1m54 0h1m3 0h1m1 0h1m31 0h1m30 0h2m-73 1h1m21 0h1m3 0h1m6 0h1m11 0h2m25 0h1m-74 1h1m-54 1h1m121 0h1m7 0h1m-130 1h1m57 0h2m63 0h1m-124 1h1m53 0h1m27 0h1m10 0h1m11 0h1m23 0h1m-125 1h1m59 0h1m40 0h1m1 0h1m36 0h1m-83 1h1m17 0h1m10 0h1m17 0h1m-109 1h1m46 0h1m8 0h1m52 0h1m-76 1h1m3 0h1m21 0h1m-8 1h1m50 0h1m1 0h3m6 0h2m-117 1h1m36 0h1m5 0h1m8 0h1m53 0h1m1 0h1m-70 1h1m16 0h1m1 0h1m21 0h1m-81 1h1m37 0h1m16 0h1m52 0h1m24 0h1m-135 1h1m46 0h1m15 0h1m3 0h1m36 0h1m39 0h1m-110 1h1m28 0h1m77 0h1m-137 1h2m34 0h1m15 0h1m27 0h1m8 0h1m48 0h1m-139 1h1m49 0h1m11 0h1m38 0h1m-61 1h1m5 0h2m3 0h1m7 0h1m3 0h1m1 0h1m19 0h1m36 0h1m-130 1h1m3 0h1m9 0h2m28 0h1m31 0h1m17 0h1m9 0h1m5 0h1m-58 1h1m20 0h1m15 0h1m4 0h1m4 0h1m1 0h1m25 0h1m-127 1h1m92 0h1m2 0h1m2 0h1m1 0h1m-93 1h1m44 0h1m1 0h1m35 0h1m2 0h1m-100 1h1m50 0h1m5 0h1m4 0h2m59 0h1m10 0h1m-74 1h1m7 0h1m4 0h1m21 0h1m18 0h1m-69 1h1m11 0h1m9 0h1m6 0h1m8 0h2m7 0h1m-71 1h1m28 0h1m6 0h1m-7 1h1m33 0h2m2 0h1m41 0h1m-59 1h1m14 0h1m38 0h1m2 0h1m-70 1h1m57 0h1m-61 1h1m4 0h1m56 0h1m2 0h1m4 0h1m-65 1h1m1 0h1m8 0h1m2 0h1m5 0h2m30 0h1m-92 1h1m23 0h1m7 0h1m1 1h2m4 0h1m6 0h1m2 0h1m-12 1h1m6 0h1m-62 1h1m51 0h1m11 0h1m-15 1h2m6 0h1m2 0h1m5 0h1m-82 1h1m10 0h1m51 0h1m1 0h1m2 0h1m2 0h1m9 0h1m-83 1h1m16 0h1m34 0h1m19 0h2m59 0h1m-129 1h1m2 0h1m12 0h1m33 0h1m-34 1h1m41 0h2m4 0h1m9 0h1m37 0h1m-95 1h1m16 0h1m5 0h1m5 0h1m17 0h1m5 0h1m42 0h2m-70 1h1m3 0h2m23 0h1m3 0h1m-75 1h1m49 0h1m6 0h1m12 0h1m19 0h1m-88 1h1m16 0h1m37 0h1m1 0h1m2 0h1m27 0h2m-93 1h1m54 0h1m6 0h1m4 0h1m3 0h1m19 0h1m-91 1h1m56 0h1m12 0h1m6 0h1m14 0h1m-93 1h1m1 0h1m63 0h1m2 0h1m4 0h1m21 0h1m8 0h1m-55 1h2m4 0h1m3 0h1m11 0h1m15 0h1m2 0h1m15 0h2m-123 1h2m10 0h1m24 0h2m14 0h1m29 0h1m4 0h1m13 0h1m12 0h1m3 0h1m-74 1h1m10 0h2m46 0h1m5 0h1m4 0h1m1 0h1m5 0h1m-116 1h1m23 0h1m8 0h1m2 0h1m4 0h1m3 0h2m1 0h1m16 0h1m13 0h1m21 0h1m-91 1h2m44 0h1m2 0h1m6 0h1m2 0h1m3 0h1m3 0h1m8 0h2m18 0h1m-95 1h1m29 0h1m11 0h1m6 0h1m2 0h1m12 0h1m30 0h2m-116 1h1m7 0h1m6 0h1m27 0h1m4 0h1m4 0h1m42 0h2m-60 1h1m4 0h1m27 0h1m7 0h1m16 0h1m-63 1h1m1 0h1m7 0h1m10 0h1m9 0h1m2 0h1m7 0h1m2 0h1m7 0h1m4 0h2m-104 1h1m42 0h2m31 0h1m15 0h1m32 0h1m-130 1h1m41 0h1m13 0h2m1 0h1m17 0h2m4 0h1m1 0h1m5 0h1m1 0h1m2 0h1m12 0h1m-69 1h1m1 0h1m27 0h1m4 0h1m22 0h1m12 0h1m-95 1h1m13 0h1m20 0h1m1 0h1m1 0h1m24 0h1m2 0h1m3 0h1m3 0h1m4 0h1m5 0h1m3 0h2m7 0h1m6 0h1m-76 1h1m10 0h1m18 0h1m8 0h1m2 0h1m12 0h2m7 0h1m1 0h2m2 0h1m-127 1h1m4 0h2m20 0h1m21 0h1m35 0h1m1 0h1m3 0h2m-88 1h1m23 0h1m22 0h1m4 0h1m24 0h1m8 0h1m5 0h1m5 0h1m16 0h1m-123 1h1m3 0h1m52 0h1m2 0h1m7 0h1m20 0h1m16 0h2m-99 1h1m47 0h1m3 0h1m5 0h1m4 0h1m7 0h1m12 0h1m1 0h1m1 0h1m24 0h1m-119 1h1m5 0h2m1 0h1m81 0h1m3 0h2m-87 1h1m2 0h1m33 0h1m13 0h1m12 0h1m37 0h1m4 0h1m4 0h1m-126 1h1m54 0h1m7 0h1m6 0h1m10 0h1m20 0h1m-33 1h1m1 0h1m5 0h1m6 0h1m5 0h1m8 0h2m5 0h1m-96 1h1m58 0h1m27 0h1m-89 1h1m37 0h1m8 0h1m7 0h1m1 0h1m13 0h1m-32 1h1m5 0h1m12 1h1m2 0h1m7 0h1m5 0h1m5 0h1m-82 1h1m60 0h1m8 0h1m11 0h1m2 0h1m-97 1h1m12 0h1m56 0h1m4 0h2m1 0h1m-85 1h1m8 0h1m8 0h1m1 0h1m37 0h1m16 0h1m25 0h2m-101 1h1m23 0h1m-19 1h1m11 0h1m92 0h1m-107 1h1m4 0h1m58 0h1m6 0h1m1 0h1m13 0h1m3 0h1m8 0h1m6 0h1m-95 1h1m31 0h1m5 0h1m19 0h1m5 0h1m2 0h1m6 0h1m-54 1h1m8 0h1m1 0h1m11 0h3m1 0h1m13 0h1m1 0h1m11 0h1m-72 1h1m25 0h1m1 0h1m4 0h1m6 0h1m2 0h1m1 0h1m-52 1h1m4 0h1m1 0h1m-3 1h1m2 0h1m5 0h2m36 0h1m5 0h1m5 0h1m6 0h1m1 0h1m9 1h1m-10 2h1m-56 1h1m4 0h1m12 0h1m-29 1h1m2 0h1m7 0h1m3 0h1m2 0h1m-22 1h1m10 0h1m-15 1h1m-2 1h1m5 0h1m12 0h1m-17 1h1m-2 5h1"/><path stroke="#277e8e" d="M157 9h1m4 0h1m5 1h1m-15 1h1m1 0h2m9 0h1m1 1h1m10 0h1m3 0h1m-34 1h1m8 0h1m9 0h1m7 0h1m4 0h1m-38 1h1m28 0h1m2 0h1m-34 1h1m10 0h1m4 0h1m9 0h1m5 0h1m-5 1h1m4 0h1m-4 2h1m8 0h1m-42 1h1m8 0h1m19 0h1m7 0h1m-37 1h1m26 0h1m4 1h1m7 0h1m-26 1h1m24 0h1m-48 1h1m19 0h1m12 0h1m6 0h1m-43 1h1m24 0h1m1 0h1m5 0h1m-29 1h1m18 0h1m-21 1h1m25 0h1m14 0h1m-41 2h1m23 0h1m-19 1h1m11 0h1m3 0h1m6 0h1m9 0h1m7 0h1m2 0h1m-52 1h1m9 0h1m7 0h1m28 0h1m-54 1h1m14 0h1m14 0h1m17 0h1m-35 1h1m8 0h1m-19 1h1m6 0h1m18 0h1m1 0h1m20 0h2m-42 1h1m6 0h1m16 0h2m3 0h1m6 0h1m4 0h1m-52 1h1m18 0h2m27 0h1m5 0h1m-60 1h1m2 0h1m2 0h1m6 0h1m15 0h1m6 0h1m2 0h1m-40 1h1m2 0h1m32 0h1m3 0h2m18 0h1m-44 1h1m10 0h1m2 0h1m4 0h1m7 0h1m2 0h1m9 0h1m-53 1h1m8 0h1m14 0h1m15 0h2m1 0h1m-26 1h1m16 0h1m15 0h1m-68 1h2m9 0h1m13 0h1m14 0h1m2 0h1m-47 1h1m14 0h1m-11 1h1m35 0h1m6 0h1m6 0h2m-57 1h1m10 0h1m31 0h1m12 0h1m15 0h1m-71 1h2m5 0h1m10 0h2m36 0h1m2 0h1m-60 1h1m1 0h1m3 0h1m10 0h1m33 0h1m-41 1h1m44 0h1m1 0h1m6 0h1m-14 1h1m7 0h2m-65 1h1m55 0h1m-58 1h1m9 0h2m46 0h1m2 0h1m6 0h1m-36 1h1m-22 1h2m7 0h1m24 0h3m11 0h1m4 0h1m8 0h1m-79 1h1m7 0h1m1 0h1m7 0h1m28 0h1m-44 1h2m3 0h2m6 0h1m8 0h1m-26 1h1m17 0h1m4 0h1m-29 1h1m27 0h1m-27 1h1m6 0h1m8 0h1m5 0h1m44 0h1m-59 1h1m6 0h1m10 0h1m17 0h1m13 0h1m-63 1h2m4 0h1m2 0h1m1 0h1m7 0h1m-19 1h1m1 0h1m1 0h1m42 0h1m14 0h1m-122 2h1m64 0h1m61 0h1m-127 1h1m51 0h2m41 0h2m-45 1h1m4 0h1m52 0h1m-51 1h1m6 0h1m25 0h1m-36 1h1m1 0h1m5 0h1m35 0h1m5 0h1m12 0h2m-42 1h1m39 0h1m-73 1h1m11 0h1m2 0h1m13 0h1m35 0h1m5 0h1m9 0h1m13 0h1m-48 1h1m11 0h1m12 0h1m-75 1h1m1 0h1m8 0h1m29 0h1m4 0h1m30 0h1m10 0h1m10 0h1m-93 1h1m3 0h2m43 0h1m5 0h1m13 0h1m-120 1h1m30 0h1m20 0h1m53 0h1m-113 1h1m58 0h1m14 0h1m27 0h1m42 0h1m3 0h1m-149 1h1m8 0h1m83 0h2m16 0h1m18 0h1m1 0h1m-118 1h1m45 0h1m14 0h1m28 0h1m6 0h1m21 0h1m7 0h1m-93 1h1m8 0h1m1 0h1m3 0h1m26 0h1m30 0h1m11 0h1m-60 1h1m3 0h2m9 0h1m1 0h1m4 0h1m7 0h1m1 0h1m2 0h1m18 0h1m-117 1h1m55 0h1m1 0h1m2 0h1m17 0h1m5 0h1m4 0h1m4 0h1m4 0h1m7 0h1m-79 1h1m26 0h1m2 0h1m9 0h1m15 0h1m8 0h1m11 0h1m-157 1h1m37 0h1m5 0h1m37 0h1m17 0h1m2 0h1m-70 1h1m105 0h1m4 0h2m15 0h1m9 0h1m-101 1h1m10 0h1m7 0h1m36 0h2m-45 1h2m9 0h1m6 0h2m4 0h1m29 0h1m21 0h2m-60 1h3m19 0h1m6 0h1m39 0h1m-137 1h1m66 0h1m1 0h1m11 0h1m6 0h2m-28 1h1m8 0h1m15 0h1m2 0h1m18 0h1m18 0h1m13 0h1m-85 1h1m6 0h1m19 0h2m27 0h1m9 0h1m-68 1h1m-15 2h1m12 0h1m6 0h1m1 0h1m14 0h1m49 0h2m1 0h1m-93 1h1m30 0h1m55 0h1m-67 1h2m-21 1h1m21 0h1m2 0h1m59 0h1m1 0h1m1 0h1m1 0h1m-90 1h2m10 0h1m5 0h1m13 0h1m48 0h1m-83 1h2m1 0h1m14 0h1m3 0h1m9 1h1m2 0h1m-7 1h1m1 0h1m-66 1h1m39 0h2m12 0h1m5 0h1m-61 1h1m39 0h2m2 0h1m7 0h1m7 0h1m37 0h1m-109 1h1m47 0h1m25 0h1m2 0h1m2 0h1m28 0h1m-54 1h1m5 0h1m19 0h1m37 0h1m-99 1h1m21 0h1m23 0h1m2 0h1m7 0h1m3 0h1m-87 1h1m38 0h1m26 0h1m3 0h1m-15 1h1m11 0h2m8 0h2m2 0h1m3 0h1m14 0h1m7 0h1m-111 1h1m2 0h1m17 0h2m9 0h1m42 0h1m5 0h1m-64 1h1m12 0h1m5 0h2m25 0h1m2 0h1m11 0h1m25 0h1m-104 1h1m44 0h1m19 0h1m33 0h1m-76 1h1m13 0h1m29 0h2m3 0h1m4 0h1m6 0h1m16 0h2m-109 1h1m32 0h1m44 0h1m8 0h1m23 0h1m3 0h1m-101 1h1m52 0h1m53 0h1m-102 1h1m54 0h2m8 0h1m5 0h1m-74 1h1m2 0h2m43 0h1m2 0h1m2 0h1m3 0h1m25 0h1m-97 1h1m10 0h2m25 0h1m14 0h1m3 0h1m1 0h2m9 0h1m13 0h1m21 0h1m1 0h1m1 0h1m-114 1h2m13 0h1m26 0h1m11 0h1m32 0h1m15 0h1m-55 1h1m17 0h1m12 0h1m16 0h1m5 0h1m7 0h1m-71 1h1m4 0h1m4 0h1m52 0h1m8 0h2m3 0h2m-115 1h1m60 0h1m5 0h1m6 0h1m23 0h1m-66 1h1m28 0h1m5 0h1m1 0h2m10 0h1m10 0h2m3 0h1m11 0h1m-131 1h1m35 0h1m20 0h1m16 0h1m27 0h1m7 0h1m-114 1h1m84 0h1m3 0h1m23 0h1m1 0h2m2 0h2m1 0h1m-79 1h1m1 0h3m51 0h1m21 0h1m-124 1h1m2 0h1m1 0h1m20 0h1m30 0h1m38 0h1m2 0h1m4 0h1m2 0h1m16 0h1m3 0h1m-121 1h2m46 0h2m5 0h2m18 0h1m9 0h1m3 0h1m1 0h1m8 0h2m-111 1h2m5 0h2m51 0h1m6 0h1m20 0h3m8 0h1m2 0h1m6 0h1m13 0h1m-116 1h1m25 1h1m64 0h1m1 0h1m4 0h1m-99 1h1m5 0h1m42 0h1m34 0h1m13 0h1m1 0h1m3 0h1m-112 1h1m30 0h2m33 0h1m2 0h1m11 0h1m30 0h1m5 0h1m-38 1h1m29 0h1m5 0h1m2 0h1m-42 1h1m17 0h1m22 0h1m-111 1h1m51 0h1m1 0h1m22 0h1m-89 1h1m69 0h1m30 0h1m16 0h1m-43 1h1m3 0h1m-69 1h1m54 0h1m4 0h1m23 0h2m4 0h1m-107 1h1m16 0h1m60 0h2m4 0h2m16 0h1m-86 1h1m49 0h1m10 0h1m28 0h1m1 0h1m-109 1h1m16 0h1m7 0h1m41 0h1m13 0h1m-83 1h1m2 0h1m16 0h2m56 0h1m4 0h1m3 0h1m9 0h1m1 0h3m2 0h1m6 0h1m-109 1h1m4 0h1m13 0h1m28 0h1m16 0h1m10 0h1m2 0h1m1 0h1m4 0h1m9 0h1m-81 1h1m67 0h2m-41 1h1m16 0h1m2 0h2m25 0h1m-76 1h1m2 0h1m37 0h1m22 0h2m10 0h1m1 0h1m-92 1h1m5 0h1m15 0h1m19 0h1m29 0h1m14 0h1m-48 1h1m38 0h1m-82 1h1m19 0h1m68 0h1m-4 2h2m-53 2h1m16 0h1m-46 1h2m12 0h1m2 0h1m18 0h1m31 0h1m-51 1h1m50 0h1m-3 1h1m-49 1h1m5 0h1m-17 1h1m-6 1h1m15 0h1m-4 1h1m-11 1h1m4 0h1m-7 1h1"/><path stroke="#238a8d" d="M168 8h1m-11 1h1m-3 1h1m2 0h1m2 0h1m4 0h1m-9 2h1m11 0h1m11 0h1m-2 1h1m1 1h1m-25 1h1m7 0h1m6 0h1m4 0h1m-26 3h1m12 0h1m9 0h1m-4 1h1m-35 1h1m34 0h1m-2 1h1m-41 1h1m0 1h1m31 0h1m-33 1h1m22 0h1m23 0h1m-46 1h1m2 0h1m4 0h1m20 0h1m-32 1h1m24 0h1m1 0h1m14 0h1m8 0h1m-29 1h1m15 0h1m1 0h1m9 0h1m-26 1h1m17 0h1m-38 1h1m13 0h1m3 0h1m1 0h1m-33 1h1m26 0h1m3 0h2m19 0h1m-53 1h1m25 0h1m2 0h1m2 1h1m1 0h1m10 0h1m6 0h1m-43 1h2m4 0h1m15 0h1m8 0h1m-34 1h1m17 0h2m1 0h1m1 0h1m-15 1h1m1 0h1m1 0h1m5 0h1m12 0h1m11 0h1m6 0h1m-49 1h1m4 0h1m24 0h2m-30 1h1m11 0h1m6 0h1m7 0h1m3 0h1m12 0h1m-54 1h1m14 0h2m5 0h1m-25 1h1m1 0h1m6 0h1m7 0h1m12 0h1m8 0h1m17 0h2m-57 1h1m14 0h1m5 0h1m7 0h1m4 0h1m17 0h1m-62 1h1m23 0h1m18 0h1m2 0h1m-52 1h1m5 0h1m44 0h1m2 0h1m-50 1h1m48 0h1m2 0h1m-60 1h1m10 0h1m4 0h1m23 0h1m16 0h1m3 0h1m-30 1h1m-37 1h1m17 0h1m15 0h1m2 0h1m25 0h3m-57 1h1m54 0h2m3 0h1m-56 1h1m-11 1h1m58 0h2m-26 1h1m1 0h1m26 0h1m-7 1h1m2 0h1m-46 1h1m22 0h1m11 0h1m8 0h1m-44 1h1m6 0h1m23 0h1m-61 1h1m12 0h1m3 0h1m27 0h1m17 0h1m-55 1h1m2 0h1m1 0h1m3 0h1m44 0h1m1 0h2m1 0h1m-70 1h1m5 0h1m4 0h2m45 0h1m6 0h1m1 0h2m-64 1h1m12 0h1m2 0h1m5 0h1m40 0h1m4 0h1m-63 1h1m2 0h1m49 0h1m3 0h1m-64 1h2m1 0h1m18 0h2m19 0h1m7 0h1m-35 1h1m-20 1h1m37 0h2m-41 1h1m17 0h1m48 0h1m-65 1h4m-10 1h1m2 0h1m67 0h1m-129 1h1m86 0h1m24 0h1m16 0h1m-130 1h1m62 0h2m20 0h1m26 0h1m7 0h1m6 0h1m-121 1h1m48 0h1m6 0h1m17 0h1m22 0h1m1 0h1m13 0h1m5 0h1m3 0h1m-73 1h2m28 0h1m1 0h1m17 0h1m6 0h1m-115 1h1m59 0h1m1 0h1m10 0h1m41 0h1m14 0h1m-75 1h1m48 0h1m3 0h1m6 0h1m1 0h1m-68 1h1m10 0h1m33 0h1m10 0h1m5 0h1m9 0h1m-72 1h1m9 0h1m31 0h1m9 0h1m31 0h1m-136 1h1m60 0h1m14 0h1m17 0h1m3 0h1m6 0h1m18 0h1m10 0h1m-73 1h1m2 0h1m14 0h1m4 0h1m17 0h1m2 0h1m4 0h1m10 0h1m25 0h1m-143 1h1m45 0h1m6 0h1m28 0h1m5 0h1m12 0h1m11 0h1m-110 1h1m2 0h1m76 0h1m16 0h1m1 0h1m-50 1h1m8 0h1m12 0h1m5 0h1m9 0h1m-92 1h1m54 0h1m27 0h1m11 0h1m6 0h1m-55 1h1m5 0h2m1 0h1m21 0h1m2 0h1m4 0h1m3 0h1m4 0h1m12 0h1m-111 1h1m37 0h1m21 0h1m14 0h1m1 0h1m2 0h1m2 0h2m9 0h1m6 0h1m20 0h2m-59 1h1m12 0h1m29 0h1m18 0h1m-132 1h1m80 0h1m14 0h1m2 0h1m30 0h1m-82 1h1m32 0h1m3 0h1m8 0h2m12 0h1m15 0h1m1 0h1m2 0h1m-72 1h1m8 0h1m5 0h1m9 0h1m13 0h1m26 0h1m9 0h1m1 0h1m-95 1h1m7 0h2m6 0h1m1 0h3m12 0h1m44 0h1m1 0h1m-79 1h1m16 0h1m7 0h1m8 0h1m35 0h1m6 0h1m-78 1h1m1 0h1m1 0h1m11 0h1m2 0h1m6 0h1m4 0h1m36 0h1m-73 1h1m12 0h1m4 0h1m2 0h1m12 0h1m5 0h1m42 0h1m6 0h1m-87 1h1m10 0h1m1 0h1m2 0h1m2 0h1m18 0h1m42 0h1m-81 1h1m2 0h1m6 0h1m1 0h1m3 0h1m1 0h1m60 0h1m4 0h1m-83 1h1m6 0h1m7 0h1m7 0h1m-6 1h1m13 0h1m28 0h1m19 0h1m-68 2h1m-58 1h1m38 0h1m33 0h1m1 0h1m48 0h1m-88 1h1m1 0h1m15 0h1m17 0h1m49 0h1m-84 1h1m11 0h1m5 0h1m8 0h1m2 0h1m2 0h1m-89 1h1m23 0h1m30 0h1m19 0h1m-49 1h1m24 0h1m16 0h1m16 0h1m1 0h1m-89 1h1m1 0h1m1 0h1m53 0h1m2 0h1m16 0h1m4 0h1m3 0h1m-59 1h1m24 0h1m4 0h1m22 0h2m-79 1h1m18 0h1m60 0h1m6 0h1m24 0h1m-45 1h1m7 0h1m41 0h1m-48 1h1m4 0h1m-60 1h1m43 0h1m7 0h1m14 0h1m1 0h1m16 0h1m10 0h1m8 0h1m-63 1h1m22 0h3m19 0h1m1 0h1m15 0h1m-113 1h1m15 0h1m35 0h2m4 0h1m7 0h1m4 0h1m21 0h1m-108 1h2m36 1h1m21 0h1m10 0h2m33 0h1m5 0h1m-99 1h1m45 0h1m2 0h1m57 0h1m-102 1h1m47 0h1m2 0h1m7 0h1m26 0h1m-71 1h1m3 0h1m22 0h1m18 0h1m26 0h1m3 0h1m4 0h1m-75 1h1m53 0h2m23 0h1m1 0h1m-105 1h1m69 0h1m8 0h1m1 0h1m1 0h1m16 0h1m-120 1h1m7 0h1m9 0h1m45 0h1m11 0h2m7 0h1m33 0h1m-116 1h1m45 0h1m17 0h1m36 0h2m9 0h1m-105 1h1m42 0h1m19 0h1m39 0h1m1 0h1m-89 1h1m14 0h1m4 0h1m35 0h1m21 0h1m1 0h1m2 0h1m1 0h1m-77 1h1m29 0h1m5 0h1m1 0h1m24 0h1m8 0h2m-68 1h1m3 0h1m24 0h1m6 0h1m7 0h1m25 0h1m-127 1h1m24 0h1m54 0h1m15 0h1m17 0h1m-68 1h1m9 0h1m28 0h1m8 0h1m5 0h1m9 0h1m6 0h1m-122 1h1m49 0h1m7 0h1m25 0h1m7 0h1m7 0h1m6 0h1m9 0h1m-114 1h1m3 0h1m80 0h1m15 0h1m7 0h1m10 0h1m-124 1h1m2 0h1m50 0h2m2 0h1m21 0h1m6 0h1m10 0h1m5 0h1m6 0h2m-115 1h1m59 0h1m21 0h1m10 0h1m4 0h1m10 0h1m2 0h1m-112 1h1m5 0h1m37 0h1m12 0h1m17 0h1m6 0h1m14 0h1m11 0h2m5 0h1m-53 1h1m16 0h1m-86 1h1m31 0h1m69 0h1m1 0h1m1 0h1m-50 1h2m19 0h1m19 0h1m4 0h1m-23 1h1m15 0h1m1 0h1m19 0h1m-56 1h1m12 0h1m23 0h1m-34 1h1m3 0h1m5 0h1m1 0h1m18 0h1m2 0h1m-94 1h1m63 0h1m4 0h1m6 0h1m1 0h1m-86 1h1m68 0h1m22 0h1m22 0h1m-123 1h1m2 0h1m72 0h1m2 0h1m20 0h1m-43 1h1m10 0h1m8 0h2m19 0h1m-96 1h1m12 0h1m43 0h1m10 0h1m4 0h1m1 0h1m18 0h1m-79 1h1m82 0h1m4 0h1m-109 1h1m8 0h1m7 0h1m5 0h1m62 0h1m16 0h2m2 0h1m3 0h1m-109 1h1m62 0h1m-43 1h1m45 0h1m37 0h1m-23 1h1m6 0h1m-46 1h2m2 0h1m11 0h1m19 0h1m9 0h1m5 0h1m-71 1h1m30 0h1m4 0h2m7 0h1m5 0h1m1 0h2m11 0h1m2 0h1m-91 1h1m4 0h1m84 0h1m2 0h1m-98 2h1m39 0h1m1 0h1m14 0h1m28 0h1m-78 1h1m24 0h1m5 0h1m14 0h1m-29 1h1m3 0h1m9 0h1m15 0h1m16 0h1m-67 1h1m15 1h1m4 0h1m7 0h1m1 0h1m35 0h1m-46 1h1m-9 1h1m1 1h1m-14 2h1m7 1h1"/><path stroke="#1f968b" d="M158 10h1m11 0h1m1 0h1m3 0h1m-8 1h4m9 0h1m-28 1h1m2 0h1m23 0h1m-23 2h1m10 0h1m1 0h1m-2 2h1m2 0h1m2 1h1m-11 2h1m5 1h2m2 0h1m-1 1h1m-11 1h1m-36 2h1m29 0h1m23 1h1m-57 1h1m8 0h1m28 1h1m9 0h2m-40 1h1m35 0h2m-44 1h1m4 0h2m8 0h1m8 0h1m4 0h1m2 1h1m10 0h1m2 0h1m-40 1h1m16 0h1m11 0h1m-32 1h1m2 0h1m41 0h1m-50 1h1m11 0h1m6 0h1m4 0h1m7 0h1m6 0h1m-41 1h1m1 0h1m3 0h2m2 0h1m4 0h1m8 0h1m10 0h1m2 0h1m-20 1h1m12 0h1m1 0h1m12 0h1m-47 1h1m17 0h1m-14 1h1m9 0h1m-20 1h1m40 0h1m1 0h1m11 0h1m4 0h1m-63 1h1m16 0h1m14 0h1m6 0h1m4 0h2m13 0h1m-59 1h1m43 0h1m14 0h1m-61 1h1m2 0h1m34 0h1m10 0h1m-45 1h1m28 0h1m-47 1h1m15 0h1m56 0h1m-69 1h1m1 0h1m26 0h1m24 0h1m-54 1h1m49 0h1m3 0h1m9 0h1m-62 1h1m3 0h2m31 0h1m8 0h1m3 0h1m-53 1h1m2 0h1m9 0h1m1 0h1m17 0h1m2 0h1m-32 1h1m43 0h1m-49 1h1m1 0h1m19 0h1m1 0h1m-32 1h1m14 0h1m6 0h1m30 0h1m9 0h1m5 0h1m-62 1h1m1 0h1m18 0h1m20 0h1m5 0h1m7 0h1m-41 1h1m24 0h1m8 0h2m-70 1h1m23 0h1m10 0h1m24 0h1m2 0h2m7 0h1m-70 1h1m10 0h1m4 0h1m18 0h1m24 0h1m-61 1h1m42 0h1m-49 1h1m19 0h1m1 0h1m5 0h1m1 0h1m1 0h1m14 0h1m1 0h1m12 0h1m-45 1h1m8 0h1m38 0h1m-62 1h1m15 0h1m1 0h1m1 0h1m-10 2h1m1 0h1m-20 1h2m3 0h2m4 0h1m46 0h1m3 0h1m6 0h1m-72 1h1m4 0h2m6 0h1m14 0h2m3 0h1m21 0h1m11 0h1m-47 1h1m-13 1h1m38 0h1m19 0h2m-47 1h1m29 0h1m5 0h1m34 0h1m-40 1h1m7 0h1m1 0h1m7 0h1m-72 1h1m5 0h1m3 0h1m13 0h1m8 0h1m18 0h1m5 0h1m2 0h1m1 0h1m-122 1h1m61 0h1m20 0h1m1 0h1m15 0h1m10 0h1m-9 1h1m2 0h1m9 0h2m-42 1h1m29 0h1m22 0h1m-33 1h1m23 0h1m12 0h1m-79 1h2m1 0h1m8 0h1m28 0h1m3 0h1m12 0h2m-27 1h1m6 0h2m13 0h1m5 0h1m-120 1h1m66 0h1m3 0h1m4 0h1m15 0h2m4 0h1m12 0h1m33 0h1m1 0h1m-131 1h1m39 0h1m1 0h1m7 0h1m21 0h1m6 0h1m6 0h1m1 0h1m-46 1h1m8 0h1m8 0h2m3 0h1m12 0h1m4 0h1m-44 1h1m4 0h1m12 0h1m1 0h1m50 0h1m14 0h1m-90 1h1m27 0h1m8 0h1m4 0h1m-17 1h1m4 0h1m2 0h1m1 0h1m4 0h1m16 0h1m1 0h1m12 0h2m-55 1h1m4 0h1m3 0h1m3 0h1m6 0h1m6 0h1m5 0h1m26 0h1m-79 1h1m3 0h1m23 0h1m4 0h1m19 0h1m-64 1h1m9 0h1m2 0h1m4 0h1m20 0h1m1 0h1m1 0h1m28 0h1m-99 1h1m40 0h1m10 0h1m20 0h1m11 0h1m1 0h1m-104 1h1m50 0h1m9 0h1m10 0h1m1 0h1m2 0h1m2 0h1m1 0h1m4 0h1m21 0h1m19 0h1m-74 1h1m10 0h1m7 0h1m26 0h1m20 0h1m4 0h1m2 0h1m-126 1h1m38 0h1m1 0h2m7 0h1m17 0h1m12 0h1m14 0h1m21 0h2m14 0h1m-134 1h1m55 0h1m7 0h1m6 0h1m2 0h1m43 0h1m-64 1h1m2 0h1m58 0h1m-105 1h1m22 0h1m87 0h1m-45 1h1m36 0h1m2 0h1m-106 1h1m14 0h1m12 0h1m6 0h1m1 0h1m1 0h1m8 0h1m2 0h1m6 0h1m4 0h2m38 0h1m-61 1h1m5 0h1m2 0h1m50 0h1m1 0h1m1 0h1m-94 1h1m6 0h1m12 0h1m6 0h1m1 0h1m3 0h1m4 0h1m50 0h1m-62 1h1m61 0h1m5 0h2m-72 1h1m4 0h1m8 0h2m-32 1h1m20 0h1m43 0h1m-97 1h1m31 0h1m17 0h2m8 0h1m-63 1h1m33 0h1m60 0h1m-61 1h1m7 0h1m9 0h1m-16 1h1m9 0h2m2 0h1m-70 1h1m49 0h1m16 0h1m5 0h1m6 0h1m33 0h1m3 0h1m-52 1h1m5 0h1m5 0h1m30 0h2m10 0h1m-54 1h1m9 0h1m27 0h1m15 0h1m-66 1h2m10 0h1m1 0h2m10 0h1m-46 1h1m41 0h1m23 0h2m4 0h1m5 0h1m-79 1h1m20 0h1m8 0h1m1 0h1m11 0h1m23 0h1m5 0h1m4 0h1m-57 1h1m6 0h1m19 0h1m22 0h1m3 0h1m4 0h1m-59 1h1m1 0h1m2 0h1m39 0h2m9 0h1m-61 1h1m49 0h1m2 0h1m1 0h1m3 0h1m-104 1h1m36 0h1m17 0h1m2 0h1m10 0h1m-24 1h1m14 0h1m3 0h1m29 0h1m6 0h1m-56 1h1m12 0h1m6 0h1m29 0h1m1 0h1m-106 1h1m6 0h1m22 0h1m4 0h1m5 0h1m6 0h1m3 0h1m-63 1h1m18 0h1m45 0h1m12 0h1m4 0h1m13 0h1m13 0h1m4 0h1m-96 1h1m58 0h1m20 0h2m2 0h1m15 0h1m-62 1h1m16 0h1m3 0h1m16 0h1m2 0h2m1 0h1m7 0h1m-103 1h1m35 0h1m27 0h1m2 0h1m28 0h1m7 0h1m4 0h1m-111 1h1m2 0h1m54 0h1m10 0h1m5 0h1m13 0h1m2 0h1m9 0h1m5 0h1m-50 1h1m4 0h1m2 0h1m1 0h1m16 0h1m3 0h1m1 0h1m3 0h2m-125 1h1m84 0h1m1 0h1m6 1h1m3 0h1m3 0h1m7 0h1m2 0h1m14 0h1m-87 1h1m51 0h1m15 0h1m-65 1h1m43 0h1m29 0h1m4 0h1m4 0h1m-71 1h1m1 0h1m6 0h1m11 0h1m14 0h1m2 0h1m11 0h1m9 0h1m-34 1h2m9 0h1m12 0h3m5 0h2m1 0h1m-124 1h1m85 0h1m16 0h1m3 0h1m-74 1h1m71 0h1m-106 1h1m58 0h1m33 0h1m10 0h1m2 0h1m8 0h1m-120 1h1m3 0h1m9 0h1m96 0h1m9 0h1m1 0h1m-121 1h1m113 0h1m-118 1h1m57 0h1m15 0h2m28 0h1m6 0h1m-14 1h1m5 0h1m7 0h1m-112 1h1m11 0h1m51 0h1m5 0h1m6 0h1m4 0h1m24 0h1m-109 1h1m68 0h1m30 0h2m-86 1h1m53 0h2m-67 1h1m73 0h1m1 0h1m1 0h1m-12 1h1m10 0h1m16 0h1m1 0h2m-101 1h1m77 0h1m18 0h1m1 0h1m-94 1h1m8 0h1m25 0h1m56 0h1m-84 1h1m49 0h1m26 0h1m9 0h1m-107 1h1m2 0h1m43 0h1m35 0h1m3 0h1m11 0h1m-52 1h1m35 0h1m22 0h1m-44 1h1m37 0h1m-75 1h1m19 0h1m14 0h1m17 0h1m3 0h1m-57 1h1m14 0h1m2 0h1m8 0h1m29 0h1m8 0h1m-78 1h1m16 0h1m1 0h1m2 0h1m2 0h1m1 0h1m28 0h1m10 0h1m-61 1h1m21 0h1m4 0h1m-34 1h1m28 0h1m4 0h1m3 0h1m24 0h1m-66 1h1m11 0h1m1 0h2m31 0h1m-53 1h1m2 0h2m22 0h1m-11 1h1m14 0h1m-4 1h1m3 0h1m-5 1h2m-30 1h1m17 0h1m-14 1h1m7 0h1m-11 2h1m2 1h1"/><path stroke="#1fa287" d="M174 10h2m1 0h1m1 0h1m-20 2h1m5 0h1m7 0h1m-7 4h1m6 1h1m-7 1h1m12 1h1m-10 2h1m3 0h1m-6 2h1m3 0h1m-19 1h1m2 0h1m5 0h1m-15 1h1m7 0h1m12 0h1m1 0h1m-22 1h1m6 0h1m3 0h1m8 0h1m-39 1h1m3 0h1m20 0h2m12 0h1m-14 1h1m-4 1h1m6 0h1m8 0h1m-42 1h1m7 0h1m31 0h1m-42 1h1m5 0h2m25 0h2m5 0h1m-36 1h1m4 0h1m4 0h1m11 0h1m15 0h2m-22 1h1m13 0h1m5 0h2m4 0h2m-41 1h1m11 0h1m22 0h1m2 0h1m-42 1h1m2 0h1m2 0h1m36 0h1m-44 1h1m7 0h2m35 0h1m3 0h1m-55 1h2m46 0h1m-49 1h1m5 0h1m15 0h1m3 0h1m22 0h1m-54 1h1m22 0h1m-38 1h1m30 0h1m12 0h1m8 0h1m4 0h1m2 0h1m9 0h1m-38 1h1m9 0h1m14 0h2m9 0h1m2 0h1m-70 1h1m6 0h1m8 0h1m7 0h1m1 0h1m16 0h1m-47 1h1m12 0h2m1 0h1m4 0h1m23 0h2m-24 1h1m13 0h1m9 0h1m5 0h1m-56 1h1m17 0h1m7 0h1m9 0h1m35 0h1m-67 1h1m4 0h1m40 0h1m4 0h1m-39 1h1m2 0h1m11 0h1m21 0h1m-55 1h2m4 0h1m34 0h1m6 0h1m5 0h1m-44 1h1m11 0h1m1 0h1m27 0h1m3 0h1m-47 1h1m12 0h1m3 0h1m13 0h2m28 0h1m-78 1h1m36 0h1m27 0h1m-36 1h1m22 0h1m-34 1h1m29 0h2m10 0h1m1 0h1m-60 1h1m5 0h1m11 0h1m-10 1h1m14 0h1m27 0h1m2 0h1m-65 1h1m4 0h1m-4 1h1m9 0h1m31 0h1m9 0h1m-56 1h1m24 0h1m19 0h1m18 0h1m-49 1h1m14 0h1m27 0h1m7 0h1m-63 1h1m3 0h1m2 0h1m15 0h1m4 0h1m5 0h1m22 0h1m-52 1h1m13 0h1m2 0h1m3 0h1m17 0h1m10 0h1m6 0h1m-72 1h1m5 0h1m6 0h1m32 0h1m11 0h1m-59 1h2m33 0h1m10 0h1m23 0h1m-127 1h1m65 0h1m13 0h1m5 0h1m22 0h1m-44 1h1m1 0h1m15 0h1m38 0h1m20 0h1m-81 1h1m-67 1h1m56 0h1m4 0h1m8 0h1m17 0h1m28 0h1m-62 1h1m9 0h1m13 0h1m32 0h1m3 0h1m2 0h1m7 0h1m-72 1h1m3 0h1m4 0h1m16 0h1m1 0h1m3 0h2m14 0h1m3 0h1m2 0h1m6 0h1m2 0h1m11 0h1m-97 1h1m26 0h1m4 0h1m12 0h1m13 0h1m6 0h1m2 0h1m12 0h1m2 0h1m-75 1h1m18 0h1m9 0h1m7 0h2m3 0h1m6 0h1m4 0h1m32 0h1m-52 1h1m3 0h1m1 0h1m4 0h1m8 0h2m21 0h1m-73 1h1m4 0h1m17 0h1m11 0h1m1 0h1m34 0h1m3 0h1m-84 1h1m5 0h1m5 0h3m14 0h1m1 0h1m16 0h1m6 0h1m27 0h1m11 0h1m-82 1h1m12 0h1m15 0h1m2 0h1m18 0h1m1 0h1m-63 1h2m1 0h1m6 0h1m6 0h1m3 0h1m3 0h2m17 0h1m1 0h1m3 0h1m2 0h1m4 0h1m13 0h1m12 0h1m-82 1h1m6 0h1m1 0h1m1 0h1m3 0h1m1 0h1m15 0h1m1 0h1m11 0h1m30 0h1m2 0h1m-175 1h1m112 0h1m5 0h1m6 0h1m14 0h1m21 0h1m1 0h1m-122 1h1m5 0h1m42 0h1m21 0h2m20 0h1m26 0h1m-78 1h2m35 0h1m11 0h1m14 0h1m-51 1h1m3 0h1m11 0h1m9 0h1m1 0h1m7 0h1m6 0h1m3 0h1m25 0h1m-89 1h1m2 0h1m4 0h1m30 0h1m15 0h2m2 0h1m8 0h1m7 0h1m5 0h1m-80 1h1m17 0h1m7 0h3m18 0h1m6 0h1m17 0h1m-126 1h1m77 0h1m4 0h1m24 0h1m16 0h1m3 0h1m9 0h1m-65 1h1m11 0h1m3 0h1m17 0h1m18 0h1m2 0h1m2 0h1m-69 1h1m1 0h1m6 0h1m48 0h1m-79 1h1m15 0h1m12 0h1m14 0h1m-42 1h1m11 0h1m62 0h1m6 0h1m-108 1h1m35 0h1m5 0h1m1 0h1m10 0h1m2 0h1m7 0h1m39 0h1m3 0h1m-52 1h2m-42 1h1m18 0h1m18 0h1m42 0h1m3 0h1m-105 1h1m40 0h1m19 0h1m-51 1h1m43 0h1m-46 1h1m33 0h1m53 0h1m-58 1h1m2 0h1m11 0h1m45 0h1m4 0h1m-66 1h2m2 0h1m59 0h1m-118 1h2m54 0h1m10 0h1m-69 1h1m37 0h1m23 0h1m55 0h1m-64 1h1m5 0h1m4 0h1m3 0h1m-68 1h1m49 0h1m42 0h1m3 0h1m13 0h1m-74 1h2m9 0h1m7 0h1m11 0h1m34 0h1m-66 1h1m24 0h1m27 0h1m11 0h1m-64 1h1m14 0h2m3 0h1m32 0h1m10 0h1m-49 1h1m30 0h2m3 0h2m15 0h1m-68 1h1m11 0h1m10 0h1m1 0h1m21 0h2m-47 1h1m1 0h1m37 0h1m2 0h1m5 0h2m6 0h1m-62 1h1m2 0h1m1 0h1m16 0h1m1 0h1m25 0h1m14 0h1m-57 1h1m15 0h1m4 0h1m28 0h1m-52 1h1m14 0h1m-20 1h1m52 0h1m6 0h1m-61 1h1m4 0h1m6 0h2m42 0h1m-109 2h1m32 0h1m4 0h1m61 0h1m11 0h1m-50 1h1m1 0h2m3 0h1m26 0h1m6 0h1m-49 1h1m2 0h1m4 0h1m30 0h2m5 0h2m-44 1h1m38 0h1m-10 1h1m6 0h2m-35 1h1m20 0h1m8 0h2m7 0h1m-18 1h1m9 1h1m4 0h1m-65 1h1m19 0h1m17 0h1m9 0h1m17 0h1m-50 1h1m1 0h1m1 0h1m15 0h1m1 0h1m25 0h1m-66 1h1m34 0h2m24 0h1m1 0h1m-121 1h1m53 0h1m26 0h1m24 0h1m8 0h1m-60 1h1m40 0h1m8 0h1m6 0h1m-124 1h1m67 0h1m34 0h1m7 0h1m6 0h2m3 0h1m1 0h1m-125 1h1m86 0h1m21 0h1m6 0h2m-107 1h1m87 0h1m3 0h1m11 0h1m9 0h1m-65 1h1m43 0h1m1 0h2m-110 1h1m116 0h1m-40 1h1m1 0h1m20 0h1m10 0h1m-107 1h1m2 0h1m56 1h1m32 0h1m1 0h1m11 0h1m5 0h1m-123 1h1m77 0h1m22 0h1m-104 1h1m1 0h1m9 0h1m69 0h1m22 0h1m-89 1h1m56 0h2m10 0h1m-84 1h1m1 0h1m2 0h1m6 0h1m9 0h1m23 1h1m53 0h1m-87 1h1m1 0h1m4 0h1m61 0h1m14 0h1m4 0h2m-104 1h1m14 0h1m47 0h1m38 0h1m-102 1h1m15 0h2m45 0h1m10 0h1m12 0h1m4 0h1m12 0h1m-106 1h1m16 0h2m76 0h1m4 0h1m5 0h1m-103 1h1m34 1h2m6 0h1m17 0h1m35 0h1m-78 1h2m4 0h2m12 0h1m4 0h1m1 0h1m29 0h2m-65 1h1m3 0h1m3 0h1m7 0h1m24 0h1m6 0h3m2 0h1m1 0h1m1 0h1m4 0h1m-71 1h1m14 0h2m6 0h2m7 0h1m6 0h1m2 0h2m19 0h2m1 0h2m7 0h1m-75 1h1m11 0h1m13 0h1m2 0h1m3 0h2m11 0h1m3 0h1m6 0h1m7 0h1m-73 1h1m4 0h1m7 0h1m6 0h2m13 0h1m31 0h1m9 0h1m1 0h1m4 0h1m-53 1h1m35 0h1m-48 1h1m7 0h1m1 0h1m4 0h1m-21 1h1m2 0h1m8 0h1m4 0h1m-20 1h1m9 0h1m-5 1h1m1 0h3m-18 1h1m17 0h1m-19 1h1m3 0h1m4 0h1m2 0h2m-9 1h1m1 0h2m1 0h1"/><path stroke="#28ae80" d="M155 9h1m11 0h1m-11 1h1m5 0h1m16 0h2m-7 1h1m-3 1h1m5 0h1m-22 1h1m14 0h3m1 0h1m-4 1h1m-3 1h1m6 0h1m-6 1h1m-7 1h1m7 0h1m3 0h1m-11 1h1m11 0h1m-7 1h3m-2 1h1m-10 1h1m1 1h1m5 0h1m-33 1h1m30 0h1m11 1h1m-26 1h1m4 1h1m6 0h1m-15 1h1m-2 1h1m13 0h1m1 0h1m-43 2h1m10 0h1m21 0h1m-23 1h1m28 0h1m5 0h1m-32 1h1m8 0h1m1 0h1m9 0h1m4 0h1m5 0h1m3 0h1m-42 1h1m23 0h1m2 0h1m5 0h1m5 0h1m-45 1h1m1 0h1m-2 1h2m4 0h1m24 0h1m2 0h1m4 0h1m10 0h1m-50 1h1m7 0h1m2 0h1m1 0h1m16 0h1m3 0h2m1 0h2m4 0h1m-45 1h1m14 0h1m3 0h1m11 0h1m5 0h1m8 0h1m-53 1h1m6 0h1m15 0h1m27 0h1m-34 1h1m6 0h1m17 0h1m2 0h1m6 0h1m-54 1h1m2 0h1m3 0h1m2 0h1m47 0h1m-63 1h1m27 0h1m8 0h1m10 1h1m-56 1h1m1 0h1m3 0h2m9 0h1m1 0h1m2 0h2m19 1h1m9 0h1m-26 1h1m1 0h1m19 0h1m-44 1h1m8 0h1m5 0h1m5 0h1m5 0h1m-30 1h1m19 0h1m16 0h1m-50 1h1m26 0h1m1 0h1m21 0h1m-30 1h1m5 0h1m2 0h1m14 0h1m18 0h2m7 0h1m-62 1h1m13 0h1m6 0h1m15 0h1m7 0h1m2 0h1m-30 1h1m19 0h2m-23 1h2m12 1h1m5 0h1m3 0h1m9 0h1m-48 1h1m22 0h1m22 0h1m-62 1h1m18 0h3m18 0h1m-45 1h1m11 0h1m11 0h1m4 0h1m18 0h1m-28 1h2m32 0h2m1 0h1m-59 1h1m14 0h1m3 0h1m15 0h1m-26 1h1m4 0h1m1 0h1m3 0h2m36 0h3m-67 1h1m3 0h1m6 0h1m12 0h1m10 0h1m27 0h1m3 0h1m-59 1h1m6 0h1m6 0h1m20 0h1m3 0h1m11 0h1m1 0h2m-66 1h1m10 0h1m12 0h1m31 0h1m5 0h1m-62 1h2m5 0h3m21 0h1m17 0h1m17 0h1m-127 1h1m56 0h1m4 0h2m1 0h1m2 0h1m17 0h1m-27 1h1m1 0h1m20 0h2m20 0h1m1 0h1m13 0h1m29 0h1m-96 1h1m1 0h1m10 0h1m9 0h2m4 0h1m20 0h1m17 0h1m-67 1h1m26 0h1m1 0h1m19 0h1m6 0h1m35 0h1m-92 1h1m4 0h1m2 0h1m4 0h1m20 0h1m9 0h1m18 0h2m3 0h1m-69 1h1m7 0h2m10 0h1m2 0h1m18 0h1m12 0h1m17 0h1m-67 1h1m12 0h1m4 0h1m3 0h1m4 0h1m19 0h1m8 0h1m12 0h2m-78 1h1m4 0h1m2 0h1m26 0h1m6 0h1m2 0h1m14 0h1m8 0h1m19 0h1m-85 1h1m2 0h1m7 0h1m4 0h1m11 0h1m9 0h1m13 0h1m7 0h1m10 0h1m-81 1h1m11 0h1m12 0h1m4 0h1m19 0h1m7 0h1m1 0h1m15 0h1m-72 1h1m5 0h1m3 0h1m17 0h1m3 0h2m5 0h1m2 0h1m4 0h1m6 0h1m-37 1h2m1 0h1m22 0h1m-36 1h1m2 0h1m1 0h1m28 0h1m13 0h1m5 0h1m3 0h3m11 0h1m-88 1h1m15 0h1m8 0h1m15 0h1m6 0h3m18 0h1m6 0h1m-169 1h1m91 0h1m3 0h1m6 0h1m6 0h1m2 0h1m27 0h1m13 0h2m8 0h1m-82 1h1m5 0h1m16 0h1m7 0h1m12 0h1m26 0h1m-48 1h1m3 0h3m4 0h1m5 0h1m8 0h1m-93 1h1m48 0h1m14 0h1m18 0h1m19 0h1m2 0h1m-97 1h1m38 0h1m15 0h2m16 0h1m13 0h1m3 0h1m17 0h1m2 0h1m4 0h1m3 0h1m-138 1h2m50 0h1m36 0h3m19 0h2m14 0h1m4 0h1m1 0h2m-140 1h1m53 0h2m31 0h1m4 0h1m17 0h1m3 0h1m5 0h1m9 0h1m3 0h1m-57 1h1m1 0h2m6 0h1m6 0h1m38 0h1m1 0h1m-162 1h1m77 0h1m22 0h3m8 0h1m35 0h1m6 0h1m-103 1h1m38 0h1m63 0h1m1 0h1m7 0h2m-158 1h1m42 0h1m26 0h1m10 0h2m7 0h1m7 0h1m2 0h1m31 0h1m-54 1h1m17 0h1m1 0h1m1 0h1m34 0h1m20 0h1m-79 1h1m14 0h1m13 0h1m39 0h1m2 0h1m5 0h1m-67 1h1m12 0h1m2 0h1m2 0h1m36 0h1m10 0h1m-77 1h1m22 0h1m3 0h1m41 0h1m5 0h1m-82 1h1m6 0h1m7 0h1m1 0h2m3 0h2m1 0h2m2 0h2m40 0h1m1 0h1m1 0h1m-86 1h1m26 0h1m6 0h2m31 0h1m-43 1h2m-39 1h1m28 0h1m15 0h1m40 0h1m-69 1h1m19 0h1m43 0h1m-44 1h1m5 0h1m1 0h1m-68 1h1m51 0h1m14 0h1m2 0h1m37 0h1m-49 1h1m54 0h1m-79 1h1m15 0h1m6 0h2m34 0h1m-55 1h1m60 0h1m-62 1h1m28 0h1m33 0h1m-46 1h1m32 0h1m3 0h1m16 0h1m-71 1h1m17 0h1m34 0h1m-34 1h1m35 0h2m-80 1h1m41 0h1m-22 1h1m7 0h1m38 0h1m9 0h1m7 0h1m-3 1h3m-81 1h1m22 0h1m53 0h1m-58 1h1m1 0h1m53 0h1m-62 1h1m51 0h1m8 0h1m4 0h1m-27 1h1m9 0h1m9 0h1m-20 1h1m6 0h1m1 0h1m9 0h1m-75 1h1m6 0h1m23 0h1m12 0h1m20 0h1m4 0h1m-13 1h1m14 0h1m-17 1h1m2 0h1m11 0h1m-15 2h1m11 0h2m-70 1h1m63 0h1m-131 1h1m77 0h1m17 0h1m34 0h1m-106 1h1m64 0h1m1 0h1m37 0h1m1 0h1m-94 1h1m58 0h1m18 0h1m6 0h1m3 0h1m-27 1h1m15 0h1m8 0h1m-127 2h2m94 0h1m13 0h1m7 0h1m-117 1h1m2 0h1m53 0h1m41 0h2m18 0h1m-124 1h1m2 0h1m98 0h2m7 0h1m-55 1h1m9 0h1m-69 1h1m71 0h1m37 0h1m10 0h1m-115 1h1m95 0h1m1 0h1m3 0h1m7 0h1m1 0h1m-117 1h1m51 0h1m18 0h1m46 0h1m-124 1h1m4 0h1m2 0h1m3 0h1m107 0h1m-122 1h1m1 0h1m1 0h1m103 0h1m-103 1h1m73 0h1m22 0h1m3 0h1m-106 1h1m117 0h1m-116 1h1m5 0h1m72 0h1m19 0h1m-91 1h1m1 0h1m1 0h1m-4 1h1m86 0h1m-83 1h1m64 0h1m14 0h1m-83 1h1m73 0h1m6 0h1m8 0h1m-106 1h1m3 0h1m11 0h1m52 0h1m27 0h1m1 0h1m-100 1h2m46 0h1m43 1h1m5 0h1m-66 1h1m1 0h2m1 0h1m1 0h1m16 0h1m1 0h1m6 0h1m3 0h1m13 0h1m7 0h1m5 0h1m-85 1h1m11 0h1m1 0h1m1 0h1m2 0h1m3 0h2m4 0h1m2 0h1m5 0h1m2 0h1m5 0h1m13 0h1m1 0h1m2 0h1m1 0h1m4 0h1m4 0h1m-80 1h1m2 0h1m22 0h4m15 0h1m1 0h1m1 0h1m5 0h3m2 0h1m2 0h1m2 0h1m2 0h1m-68 1h1m3 0h1m3 0h1m1 0h1m3 0h5m1 0h1m1 0h1m12 0h1m2 0h1m16 0h3m7 0h1m-49 1h1m31 0h1m8 0h1m2 0h2m1 0h1m7 0h2m-73 1h1m58 0h1m-75 1h2m11 0h1m7 0h1m2 0h1m12 0h1m40 0h1m-66 1h1m15 0h1m-18 1h1m1 0h1m6 0h1m3 0h1m11 0h1m-15 2h1m-5 3h1m1 0h1"/><path stroke="#38b977" d="M151 11h1m16 0h1m12 1h1m-6 1h1m2 0h1m-1 1h1m-11 2h1m6 0h1m-23 1h1m19 0h1m-5 3h1m-1 1h1m-10 1h1m9 0h2m-6 1h1m1 0h1m0 2h1m2 0h1m-34 2h1m23 0h1m9 0h1m-33 1h1m18 0h1m4 0h1m7 0h1m4 0h1m-7 1h1m-15 1h1m8 0h1m5 0h1m1 1h1m-9 1h1m-29 1h1m8 0h1m8 0h1m6 0h1m15 0h1m-33 1h1m1 0h1m9 0h1m15 0h1m3 0h1m-46 1h1m6 0h1m5 0h1m25 0h3m1 0h1m-43 1h1m8 0h1m5 0h1m26 0h1m5 0h1m-48 1h1m7 0h1m1 0h1m28 0h2m8 0h1m3 0h1m-48 1h1m1 0h1m12 0h1m4 0h1m-11 1h1m1 0h1m2 0h1m27 0h1m-43 1h1m1 0h1m3 0h1m8 0h2m15 0h1m3 0h1m1 0h1m8 0h1m-48 1h1m9 0h1m-25 1h1m11 0h1m9 0h1m2 0h2m18 0h1m5 0h1m4 0h1m2 0h1m-54 1h1m4 0h1m17 0h1m18 0h1m10 0h1m-67 1h1m8 0h1m9 0h1m6 0h1m3 0h1m9 0h1m8 0h1m13 0h1m-58 1h1m9 0h1m4 0h1m3 0h1m17 1h1m4 0h1m3 0h1m-62 1h1m13 0h1m15 0h1m8 0h1m1 0h1m-30 1h2m4 0h1m4 0h1m2 0h1m12 0h1m1 0h1m1 0h1m-19 1h2m12 0h1m1 0h1m7 0h1m1 0h1m-36 1h1m12 0h3m1 0h1m6 0h1m-13 1h1m6 0h1m11 0h1m11 0h1m1 0h1m-43 1h1m10 0h1m4 0h1m18 0h1m10 0h1m-50 1h1m18 0h1m-43 1h1m9 0h1m16 0h1m3 0h1m4 0h1m1 0h1m6 0h1m3 0h1m9 0h1m6 0h1m-45 1h1m10 0h1m-11 1h1m10 0h1m15 0h1m-45 1h2m22 0h1m5 0h2m9 0h1m4 0h1m-48 1h1m10 0h1m11 0h1m7 0h1m-26 1h1m1 0h1m10 0h1m39 0h1m-54 1h1m4 0h1m10 0h1m32 0h1m-50 1h1m13 0h1m1 0h1m25 0h1m-26 1h1m21 0h1m1 0h1m6 0h2m-49 1h1m1 0h1m5 0h1m6 0h3m6 0h1m6 0h1m3 0h2m2 0h2m-52 1h2m4 0h1m2 0h1m2 0h1m3 0h1m3 0h1m1 0h1m1 0h2m2 0h1m12 0h1m3 0h1m13 0h1m5 0h1m21 0h1m2 0h1m-78 1h1m1 0h2m4 0h2m4 0h1m7 0h1m24 0h1m5 0h1m3 0h1m-71 1h1m5 0h1m4 0h1m9 0h1m30 0h1m14 0h1m18 0h1m4 0h1m-93 1h2m5 0h1m6 0h1m1 0h2m6 0h1m9 0h1m5 0h1m2 0h1m1 0h1m5 0h1m16 0h1m23 0h1m-92 1h1m14 0h1m1 0h2m6 0h1m9 0h1m9 0h2m1 0h2m-54 1h1m7 0h1m19 0h1m3 0h1m2 0h1m15 0h2m17 0h1m6 0h1m-77 1h1m3 0h1m7 0h1m5 0h1m2 0h1m8 0h1m1 0h1m10 0h1m33 0h1m6 0h1m-73 1h1m46 0h1m10 0h1m-68 1h2m3 0h1m5 0h1m18 0h1m4 0h1m17 0h1m4 0h1m1 0h1m1 0h1m14 0h1m2 0h1m-78 1h2m4 0h1m1 0h1m12 0h1m13 0h1m2 0h1m8 0h1m5 0h1m1 0h2m-52 1h1m10 0h1m5 0h1m14 0h2m4 0h1m9 0h1m8 0h1m4 0h1m7 0h1m-81 1h1m1 0h1m11 0h1m7 0h1m1 0h1m5 0h1m8 0h1m1 0h1m38 0h1m-91 1h1m14 0h1m6 0h1m7 0h1m5 0h1m3 0h1m1 0h1m4 0h1m5 0h2m13 0h1m17 0h1m2 0h1m-83 1h1m7 0h1m4 0h1m16 0h1m3 0h1m11 0h1m9 0h1m6 0h2m2 0h1m6 0h1m8 0h1m2 0h1m-68 1h1m4 0h1m6 0h1m6 0h1m7 0h1m39 0h1m-177 1h1m38 0h1m65 0h1m15 0h1m5 0h1m11 0h1m1 0h1m13 0h1m7 0h1m-22 1h1m9 0h1m6 0h1m9 0h1m7 0h1m-92 1h1m10 0h1m11 0h1m14 0h2m23 0h1m11 0h1m3 0h2m-165 1h1m82 0h1m38 0h1m18 0h1m4 0h1m6 0h1m3 0h1m12 0h1m-62 1h2m1 0h1m3 0h2m39 0h1m10 0h1m-169 1h1m25 0h1m18 0h1m60 0h1m13 0h1m29 0h1m7 0h1m1 0h1m-124 1h1m59 0h1m22 0h1m36 0h1m8 0h1m6 0h1m-137 1h2m4 0h1m43 0h1m6 0h1m3 0h1m16 0h1m27 0h1m-139 1h1m48 0h1m48 0h1m6 0h1m40 0h1m1 0h1m-140 1h1m64 0h1m20 0h1m4 0h1m3 0h1m7 0h1m24 0h1m16 0h1m10 0h1m-114 1h1m20 0h1m24 0h1m11 0h1m1 0h3m24 0h1m1 0h1m4 0h1m6 0h2m9 0h1m-112 1h1m18 0h1m32 0h1m2 0h2m34 0h2m20 0h1m-70 1h2m7 0h1m-53 1h1m13 0h1m3 0h2m15 0h1m1 0h1m7 0h1m11 0h1m29 1h1m11 0h1m-90 1h1m34 0h1m10 0h1m33 0h2m9 0h1m-98 1h1m3 0h1m50 0h1m30 0h1m2 0h1m3 0h1m4 0h2m-58 1h1m42 0h1m17 0h1m-121 1h1m18 0h1m22 0h1m59 0h1m-45 1h1m2 0h1m37 0h3m2 0h1m-51 1h1m43 0h2m13 0h1m-60 1h1m5 0h1m6 0h1m29 0h1m1 0h1m-30 1h1m27 0h1m2 0h1m14 0h1m-63 1h1m46 0h1m-41 1h1m9 0h1m41 0h1m-43 1h1m21 0h1m20 0h1m-53 1h1m5 0h1m21 0h1m8 0h1m-5 1h1m4 0h1m-6 1h2m2 0h1m-4 1h1m-47 1h1m-5 3h1m-12 1h1m1 0h1m7 0h1m59 0h2m-65 1h1m10 0h1m41 0h1m-45 1h1m36 0h1m5 0h1m-10 1h1m15 0h1m-20 1h1m2 0h1m11 0h1m-18 1h1m7 0h1m5 0h1m-2 1h2m3 0h1m-60 1h1m54 0h1m-29 1h1m20 0h1m6 0h1m-9 1h1m7 0h1m-126 1h1m109 0h1m-46 1h1m42 0h1m2 0h1m-52 1h1m27 0h1m19 0h1m-50 1h2m60 0h1m-9 1h1m8 0h1m-21 1h1m6 0h1m-111 1h1m101 0h1m18 0h1m-123 1h1m4 0h1m96 0h1m14 0h1m4 0h1m-122 1h1m103 0h1m8 0h1m5 0h1m-115 1h1m71 0h1m18 0h1m11 0h1m-107 1h1m50 0h1m18 0h1m12 0h1m10 0h1m3 0h1m1 0h1m3 0h1m1 0h1m-105 1h1m-9 1h1m6 0h2m2 0h1m95 0h1m-103 1h1m7 0h1m94 0h1m4 0h1m1 0h1m-109 1h1m92 0h1m5 0h1m1 0h1m-26 1h1m15 1h1m-98 1h1m10 0h2m84 0h2m-92 1h1m85 0h2m3 0h2m-99 1h1m2 0h1m7 0h1m80 0h1m3 0h1m-82 1h1m1 0h1m85 0h1m-89 1h1m61 0h1m20 0h1m5 0h1m-68 1h1m1 0h1m5 0h3m6 0h1m4 0h2m-58 1h1m6 0h1m3 0h1m1 0h1m2 0h1m2 0h1m4 0h1m10 0h2m5 0h1m2 0h2m1 0h1m2 0h3m3 0h2m1 0h2m11 0h2m6 0h1m7 0h1m-83 1h1m1 0h1m2 0h1m10 0h1m7 0h1m1 0h1m6 0h1m1 0h1m7 0h1m3 0h1m1 0h1m3 0h2m4 0h1m9 0h1m1 0h3m1 0h1m-87 1h1m15 0h1m2 0h3m3 0h3m5 0h1m4 0h1m3 0h1m5 0h1m1 0h1m2 0h1m9 0h1m3 0h1m4 0h1m5 0h1m2 0h1m1 0h1m-72 1h1m5 0h2m2 0h2m2 0h1m1 0h1m29 0h2m13 0h2m4 0h1m-68 1h1m3 0h1m12 0h2m12 0h1m29 0h1m3 0h1m-67 1h1m3 0h2m12 0h1m4 0h1m-24 1h2m5 0h1m9 0h1m4 0h1m-27 1h1m18 0h1m-14 1h1m6 0h1m1 0h1m-12 3h1m5 0h1"/><path stroke="#50c46a" d="M168 9h1m8 0h1m-20 2h1m17 0h1m-7 1h1m6 0h2m-7 1h1m3 2h1m-5 3h1m1 1h1m4 0h1m-8 5h1m2 1h1m-35 1h1m24 1h1m0 1h1m8 0h1m0 1h2m-19 1h1m8 0h1m1 0h1m7 0h1m-37 1h1m5 0h1m22 0h1m-38 1h1m22 0h1m0 1h1m20 0h1m-12 1h1m4 1h1m-31 1h1m39 0h1m-43 1h1m2 0h1m33 0h1m-39 1h1m3 0h1m8 0h2m25 0h1m4 0h1m-44 1h1m8 0h1m4 0h1m2 0h1m27 0h1m-55 1h1m17 0h1m1 0h1m3 0h1m26 0h1m-49 1h1m6 0h1m35 0h1m-55 1h1m10 0h1m7 0h1m17 0h1m-33 1h1m4 0h1m9 0h1m14 0h1m15 0h1m-44 1h1m4 0h1m9 0h1m3 0h1m1 0h1m1 0h1m28 0h1m1 0h1m2 0h1m-69 1h1m2 0h1m15 0h1m12 0h2m16 0h1m7 0h1m5 0h1m2 0h1m-61 1h1m8 0h1m3 0h1m2 0h1m-17 1h1m12 0h1m8 0h1m14 0h1m6 0h2m5 0h1m5 0h1m4 0h1m-67 1h1m12 0h1m6 0h1m4 0h2m2 0h1m1 0h1m6 0h1m-38 1h1m24 0h1m2 0h1m3 0h1m30 0h1m-62 1h1m6 0h1m14 0h1m1 0h1m5 0h1m8 0h1m6 0h1m4 0h1m-46 1h1m8 0h2m6 0h1m13 0h1m14 0h1m-44 1h1m22 0h1m9 0h4m7 0h1m-8 1h1m1 0h1m-46 1h1m1 0h1m10 0h1m22 0h1m-27 1h1m18 0h1m-22 1h1m4 0h1m11 0h1m-45 1h1m26 0h1m10 0h1m11 0h1m4 0h1m-59 1h1m7 0h1m2 0h1m3 0h1m22 0h1m-29 1h1m2 0h1m4 0h1m8 0h1m10 0h1m17 0h1m-33 1h1m4 0h1m9 0h1m16 0h1m7 0h2m-62 1h1m9 0h1m11 0h1m3 0h1m14 0h1m-43 1h1m6 0h1m17 0h3m4 0h1m10 0h1m15 0h1m-63 1h1m8 0h1m14 0h1m3 0h1m34 0h1m-52 1h1m4 0h1m4 0h1m8 0h1m7 0h1m1 0h1m4 0h1m4 0h1m2 0h2m28 0h1m-90 1h1m17 0h1m2 0h1m1 0h2m17 0h1m5 0h1m5 0h1m5 0h1m5 0h1m6 0h1m22 0h1m-89 1h1m5 0h1m2 0h1m1 0h1m1 0h2m8 0h1m3 0h1m8 0h1m1 0h1m5 0h1m7 0h1m30 0h1m4 0h1m-79 1h1m2 0h1m6 0h1m1 0h1m34 0h1m1 0h1m-51 1h1m12 0h1m4 0h1m2 0h1m3 0h1m3 0h1m16 0h1m26 0h2m-83 1h1m5 0h1m14 0h2m5 0h3m8 0h1m8 0h1m6 0h2m2 0h1m10 0h1m-73 1h1m10 0h1m16 0h2m1 0h1m4 0h1m2 0h2m20 0h1m8 0h1m-63 1h1m4 0h1m8 0h1m2 0h2m5 0h1m6 0h1m19 0h1m6 0h1m11 0h1m4 0h1m2 0h2m-85 1h1m2 0h2m8 0h1m6 0h2m33 0h1m1 0h1m3 0h1m-62 1h1m3 0h1m15 0h2m4 0h1m48 0h1m-83 1h1m38 0h1m18 0h2m8 0h1m1 0h1m-71 1h1m15 0h1m26 0h1m27 0h2m15 0h2m-93 1h1m16 0h1m12 0h1m4 0h1m21 0h2m4 0h1m25 0h1m-74 1h1m7 0h1m52 0h1m1 0h1m10 0h1m-184 1h2m102 0h1m17 0h1m16 0h1m16 0h1m5 0h1m6 0h2m4 0h1m-65 1h1m1 0h1m1 0h1m24 0h1m10 0h3m17 0h1m-63 1h1m17 0h1m31 0h2m3 0h2m-162 1h1m84 0h1m72 0h1m8 0h1m-120 1h1m1 0h1m53 0h2m7 0h1m44 0h1m6 0h1m6 0h1m5 0h1m1 0h1m-153 1h1m1 0h1m2 0h1m13 0h2m75 0h1m31 0h1m-124 1h1m19 0h1m61 0h1m6 0h1m21 0h1m11 0h1m23 0h1m-156 1h1m19 0h1m7 0h1m27 0h1m32 0h1m2 0h1m1 0h1m24 0h1m3 0h1m3 0h1m22 0h1m-123 1h1m65 0h2m27 0h1m25 0h1m-136 1h2m38 0h1m22 0h1m12 0h1m31 0h1m19 0h1m5 0h1m-165 1h1m3 0h1m90 0h1m9 0h2m36 0h2m3 0h1m-81 1h1m26 0h2m5 0h1m10 0h1m22 0h1m1 0h2m3 0h1m-78 1h2m25 0h1m19 0h1m-9 1h1m30 0h1m2 0h1m1 0h1m-80 1h1m2 0h1m74 0h2m6 0h1m1 0h1m-100 1h1m9 0h1m83 0h1m4 0h1m-99 1h1m43 0h1m3 0h1m8 0h1m38 0h1m-96 1h1m5 0h1m78 0h1m3 0h1m1 0h1m3 0h1m-94 1h1m37 0h1m41 0h1m5 0h1m-87 1h1m1 0h1m79 0h1m-99 1h1m52 0h1m46 0h2m2 0h1m3 0h1m3 0h1m-115 1h1m51 0h1m57 0h2m-11 1h1m4 0h1m3 0h1m-12 1h1m14 1h1m-20 1h1m4 0h1m4 0h1m-37 1h1m29 0h1m6 0h1m1 0h1m-14 1h1m7 1h1m4 0h2m1 0h2m-10 1h1m4 0h1m-9 1h1m6 0h1m-57 1h1m49 0h1m-53 1h1m59 0h1m-3 2h2m-74 2h1m10 1h1m57 0h1m-44 1h1m32 0h1m11 0h1m-24 1h1m3 1h1m-123 2h1m133 0h1m-132 1h1m124 0h1m-38 1h1m25 0h1m1 0h1m-117 1h1m114 1h1m-6 1h1m6 0h2m-4 1h1m4 0h1m-110 1h1m91 0h1m3 0h1m-104 1h2m-2 1h1m104 0h1m3 0h2m-110 1h1m97 0h1m13 0h1m-9 1h1m-35 1h1m22 0h1m3 0h1m-102 1h1m101 0h1m5 0h2m-109 1h1m4 0h1m44 0h1m48 0h1m2 0h1m1 0h1m1 0h2m2 0h1m1 0h1m-118 1h1m8 0h1m2 0h1m97 0h1m-104 1h2m2 0h1m97 0h1m-110 1h1m1 1h1m2 0h1m1 0h2m96 0h1m7 0h1m-103 1h1m71 0h1m-82 1h1m16 0h1m-6 1h1m4 0h1m84 0h1m3 0h2m-98 1h1m87 0h1m3 0h1m-103 1h1m9 0h1m3 0h1m3 0h1m57 0h1m17 0h1m2 0h1m2 0h1m1 0h1m-104 1h1m1 0h1m2 0h1m11 0h2m23 0h1m52 0h1m4 0h1m2 0h1m-97 1h1m10 0h1m31 0h1m1 0h1m6 0h1m-41 1h1m10 0h1m13 0h1m3 0h1m9 0h1m4 0h1m5 0h1m12 0h1m-69 1h1m3 0h1m2 0h2m1 0h1m4 0h4m3 0h1m10 0h2m6 0h2m22 0h1m-76 1h1m8 0h1m1 0h1m31 0h1m6 0h1m1 0h1m2 0h1m2 0h1m1 0h1m8 0h1m10 0h3m-74 1h2m1 0h1m3 0h2m20 0h1m2 0h1m11 0h1m2 0h1m16 0h1m4 0h1m-84 1h1m19 0h1m-21 1h1m12 0h1m5 0h1m17 0h1m4 0h1m30 0h1m-58 1h2m7 0h1m1 0h1m9 0h1m-36 1h1m16 1h1m2 0h1m15 0h1m-28 1h1m4 0h1m2 0h1m3 0h1m7 0h1"/><path stroke="#6ccd5a" d="M155 8h1m24 1h1m-4 2h3m-3 3h1m-7 2h1m-16 1h1m17 1h1m2 0h1m-5 4h1m1 0h1m-2 1h1m-7 2h1m1 1h1m-10 1h1m9 0h1m1 0h1m-6 1h1m-1 1h1m1 0h1m1 0h1m-3 1h1m-13 1h1m10 0h2m4 0h1m2 0h1m-12 1h1m4 0h1m8 0h1m-3 1h1m-6 1h1m6 1h1m-6 1h1m5 0h1m-43 1h1m11 0h2m26 0h1m2 0h1m-32 1h1m25 0h1m-38 1h1m2 0h1m8 0h1m3 1h1m22 0h1m-46 1h1m7 0h1m7 0h1m4 0h1m30 0h1m-58 1h1m30 0h1m16 0h1m1 0h1m5 0h1m5 0h1m-46 1h2m4 0h1m1 0h1m24 0h3m1 0h1m2 0h1m-51 1h2m1 0h1m7 0h1m14 0h1m14 0h1m4 0h1m-55 1h1m3 0h1m2 0h2m8 0h1m1 0h1m15 0h1m26 0h1m-52 1h1m1 0h1m8 0h1m3 0h1m10 0h1m8 0h1m5 0h1m-45 1h1m17 0h1m1 0h1m1 0h1m3 0h1m26 0h1m-54 1h1m5 0h1m1 0h1m2 0h1m12 0h1m1 0h1m24 0h1m1 0h1m-62 1h1m8 0h1m6 0h1m1 0h1m5 0h1m4 0h1m15 0h1m12 0h2m2 0h1m-57 1h1m4 0h1m9 0h1m6 0h1m2 0h1m2 0h1m2 0h2m18 0h1m2 0h1m-53 1h1m15 0h1m4 0h1m5 0h2m20 0h1m-48 1h3m14 0h2m17 0h1m-39 1h1m1 0h1m5 0h1m9 0h1m2 0h1m15 0h1m-35 1h1m2 0h1m17 0h1m11 0h1m-34 1h1m5 0h1m1 0h2m-20 1h1m10 0h1m7 0h1m15 0h1m1 0h2m-28 1h2m-5 1h1m3 0h1m17 0h1m3 0h1m3 0h1m-52 1h1m12 0h1m8 0h1m25 0h1m-21 1h1m8 0h1m-29 1h3m9 0h2m3 0h1m2 0h1m18 0h2m9 0h1m-43 1h1m6 0h4m20 0h1m4 0h1m-53 1h1m10 0h1m10 0h1m1 0h1m7 0h1m2 0h1m11 0h1m1 0h3m2 0h1m1 0h1m-56 1h1m18 0h1m3 0h1m10 0h1m1 0h1m39 0h1m-90 1h1m13 0h1m17 0h3m5 0h1m3 0h3m13 0h1m-35 1h1m4 0h3m1 0h1m4 0h3m7 0h1m5 0h2m2 0h1m3 0h1m28 0h1m-73 1h2m15 0h1m1 0h2m25 0h1m-55 1h1m3 0h1m15 0h1m13 0h1m13 0h1m10 0h1m20 0h1m-79 1h1m1 0h3m1 0h1m13 0h1m6 0h1m18 0h1m8 0h1m1 0h1m21 0h1m-85 1h1m3 0h1m29 0h1m10 0h1m8 0h1m5 0h1m12 0h1m5 0h1m4 0h1m-95 1h1m12 0h1m3 0h1m2 0h1m12 0h1m1 0h2m18 0h1m7 0h1m14 0h1m3 0h1m3 0h1m-81 1h1m8 0h1m3 0h1m1 0h1m5 0h1m13 0h1m20 0h1m21 0h1m5 0h1m-83 1h1m2 0h1m3 0h1m2 0h1m5 0h1m6 0h1m1 0h1m13 0h1m18 0h2m2 0h1m6 0h1m8 0h1m-68 1h2m3 0h1m37 0h1m2 0h1m5 0h1m5 0h1m-46 1h1m8 0h1m19 0h1m4 0h1m10 0h1m-53 1h1m2 0h1m31 1h1m3 0h1m4 0h1m13 0h1m3 0h1m-184 1h1m118 0h1m35 0h1m4 0h1m4 0h1m15 0h1m-90 1h1m14 0h1m50 0h1m1 0h1m3 0h1m6 0h2m2 0h1m1 0h1m5 0h1m-25 1h1m4 0h1m10 0h1m-56 1h1m37 0h1m4 0h1m8 0h1m-55 1h1m41 0h2m18 0h1m-148 1h1m1 0h1m21 0h1m30 0h1m35 0h1m50 0h1m7 0h1m-143 1h1m10 0h1m62 0h1m54 0h1m2 0h2m-133 1h1m75 0h1m32 0h1m3 0h1m3 0h1m-151 1h2m39 0h1m9 0h1m98 0h2m11 0h2m4 0h1m-169 1h1m1 0h1m31 0h1m2 0h2m101 0h2m24 0h2m2 0h1m-167 1h1m10 0h1m96 0h1m27 0h1m5 0h2m17 0h1m5 0h1m-77 1h1m71 0h2m-68 1h1m5 0h1m45 0h3m9 0h1m2 0h1m-99 1h2m75 0h1m-80 1h1m32 0h1m41 0h1m10 0h1m1 0h1m1 0h1m-104 1h1m11 0h1m48 0h1m26 0h1m2 0h1m19 0h1m-111 1h1m1 0h1m40 0h1m3 0h1m44 0h1m11 0h2m-2 1h1m-99 1h1m92 0h1m-13 1h1m7 0h3m-60 1h1m59 0h2m1 0h1m-56 1h1m51 0h1m4 0h1m-11 1h1m7 0h1m-20 1h1m9 0h1m7 0h2m1 0h1m-60 1h1m12 0h1m27 0h2m8 0h1m2 0h1m2 0h1m-17 1h1m1 0h2m12 0h1m-13 1h1m6 0h1m-9 1h1m1 0h1m3 0h1m1 0h2m-8 2h1m5 0h2m-2 1h1m-51 2h1m46 0h1m-2 1h1m2 1h1m-13 2h1m-22 1h1m11 2h1m3 0h1m2 0h1m-130 3h1m122 0h1m3 0h1m-127 1h1m124 0h1m-61 2h1m49 0h2m-114 1h1m108 0h1m-109 2h2m53 2h1m62 0h1m-11 1h2m10 0h1m-20 1h1m3 0h1m4 0h1m-115 1h1m77 0h1m27 0h1m1 0h1m7 0h1m-117 1h1m1 0h1m1 0h1m102 0h2m3 0h1m1 0h1m5 0h1m-123 1h1m1 0h1m4 0h1m1 0h1m105 0h1m1 0h1m1 0h1m-118 1h2m5 0h1m96 0h1m-102 1h1m97 0h1m5 0h1m7 0h1m-18 1h1m2 0h1m4 0h1m4 0h1m-105 1h1m98 0h2m1 0h1m1 0h2m-109 1h1m96 0h2m-102 1h1m4 0h1m1 0h1m93 0h1m5 0h1m-5 1h1m-103 1h1m2 0h1m4 0h1m88 0h1m-88 1h2m-3 1h3m78 0h1m5 0h1m2 0h1m2 0h1m-102 1h1m2 0h1m3 0h1m1 0h1m78 0h2m-61 1h1m9 0h1m-37 1h1m13 0h1m2 0h1m6 0h1m15 0h1m5 0h1m16 0h1m13 0h1m-76 1h1m9 0h2m7 0h1m14 0h1m19 0h1m2 0h1m4 0h1m-62 1h1m1 0h1m22 0h1m3 0h1m20 0h1m4 0h2m7 0h2m-56 2h2m-8 1h1m28 0h2m-26 1h1m1 0h1m13 0h1m41 0h1m-70 1h1m11 0h1m3 0h1m5 0h1m-24 1h1m4 0h1m23 0h1m-20 1h1m2 0h2m-5 1h1m1 0h1"/><path stroke="#8bd646" d="M182 10h1m-9 1h1m-3 1h1m2 0h2m-7 4h1m-2 1h2m0 1h1m-2 1h1m-2 5h1m3 0h1m-5 1h1m1 0h1m-5 2h1m3 2h1m3 0h1m4 0h1m-9 1h2m6 0h1m-39 2h1m32 0h1m3 0h1m2 6h1m-38 1h1m35 0h1m-40 1h1m1 0h1m1 0h1m6 0h1m29 1h1m-40 1h1m10 0h1m6 0h1m18 0h1m3 0h1m-48 1h1m17 0h1m-21 1h1m52 0h1m-62 1h1m5 0h1m28 0h1m16 0h1m2 0h1m1 0h1m-52 1h1m18 0h1m8 0h2m18 0h2m1 0h1m1 0h3m1 0h1m-60 1h2m10 0h1m3 0h1m17 0h1m16 0h1m2 0h1m4 0h1m-61 1h1m8 0h1m6 0h1m1 0h1m3 0h1m11 0h1m9 0h1m6 0h1m6 0h1m-59 1h1m17 0h1m1 0h1m5 0h1m2 0h1m2 0h1m1 0h1m1 0h1m7 0h1m10 0h1m-79 1h1m23 0h1m19 0h1m5 0h1m5 0h1m16 0h1m5 0h1m2 0h1m-57 1h1m7 0h1m13 0h1m6 0h1m26 0h1m-55 1h1m11 0h1m4 0h1m-16 1h1m1 0h1m1 0h1m11 0h1m2 0h1m4 0h1m5 0h1m22 0h1m-61 1h1m10 0h1m8 0h1m3 0h1m7 0h1m-30 1h2m9 0h1m1 0h1m18 0h1m-20 1h1m3 0h1m7 0h1m-17 1h1m8 0h1m4 0h1m8 0h1m-32 1h1m4 0h1m10 0h1m11 0h1m1 0h1m1 0h1m-27 1h2m13 0h1m-35 1h1m18 0h1m4 0h2m2 0h1m13 0h1m4 0h1m3 0h1m-43 1h1m24 0h1m-36 1h2m27 0h1m2 0h2m2 0h1m4 0h1m3 0h1m-46 1h1m5 0h1m2 0h1m2 0h1m9 0h1m10 0h1m6 0h1m4 0h1m-47 1h1m7 0h1m17 0h1m15 0h1m3 0h1m2 0h1m5 0h1m-39 1h1m11 0h1m5 0h1m6 0h1m1 0h1m28 0h1m2 0h1m2 0h1m-75 1h1m19 0h1m28 0h1m23 0h1m-81 1h1m1 0h1m17 0h1m1 0h1m2 0h1m5 0h2m24 0h1m20 0h1m4 0h1m-82 1h1m4 0h1m22 0h1m48 0h1m2 0h1m-82 1h1m29 0h1m27 0h1m19 0h1m-81 1h1m59 0h1m18 0h1m2 0h1m-79 1h1m69 0h1m1 0h1m-42 1h1m13 0h1m7 0h2m16 0h2m-45 1h1m19 0h1m14 0h1m1 0h2m5 0h1m1 0h1m3 0h2m-63 1h1m13 0h1m19 0h1m-54 1h1m3 0h1m25 0h1m16 0h1m9 0h1m1 0h1m7 0h1m-49 1h1m32 0h1m7 0h1m7 0h1m1 0h1m1 0h1m3 0h1m2 0h1m-64 1h1m1 0h1m35 0h2m11 0h1m10 0h1m-81 1h1m51 0h1m1 0h1m1 0h1m9 0h3m3 0h1m2 0h1m-178 1h1m156 0h1m11 0h1m1 0h1m3 0h3m-26 1h1m2 0h1m17 0h1m3 0h1m-27 1h1m4 0h1m25 0h1m-133 1h1m1 0h1m95 0h1m3 0h1m17 0h1m3 0h1m-140 1h1m105 0h1m3 0h1m5 0h1m19 0h3m3 0h1m-152 1h1m26 0h1m90 0h1m7 0h2m-109 1h1m96 0h1m36 0h1m-83 1h1m24 0h1m25 0h1m3 0h1m17 0h1m3 0h1m-167 1h1m87 0h1m20 0h1m26 0h1m4 0h1m23 0h1m3 0h1m-121 1h1m46 0h1m42 0h4m21 0h3m-65 1h1m40 0h1m2 0h1m1 0h1m-48 1h1m37 0h1m1 0h1m-90 1h1m92 0h1m4 0h1m-52 1h1m41 0h1m2 0h1m-7 1h1m5 0h1m4 0h1m-38 1h1m31 0h1m1 0h1m1 0h1m3 0h1m3 0h1m-16 1h1m10 0h1m3 0h1m-101 1h1m35 0h1m45 0h1m6 0h1m1 0h2m2 0h1m2 0h1m-17 1h1m4 0h2m7 0h2m1 0h1m-1 1h2m-18 1h5m9 0h2m-45 1h1m31 0h2m3 0h1m2 0h1m5 0h1m-51 1h1m44 0h1m-128 1h1m116 0h1m-5 1h1m15 0h1m-13 1h1m9 0h1m-12 1h1m3 0h1m-10 1h1m0 1h1m7 0h1m0 1h1m2 3h1m-6 1h1m-45 4h1m23 1h1m-53 1h1m59 0h1m-2 2h1m3 0h1m0 1h1m-129 1h2m110 0h1m2 0h1m-4 1h1m-112 1h1m111 0h1m-112 1h1m58 2h1m60 0h1m-1 1h1m-118 1h1m116 0h1m-117 1h1m99 0h1m2 0h1m1 0h1m-106 1h1m104 0h1m-15 1h1m6 0h1m7 0h1m2 0h1m-3 1h1m-111 1h1m95 0h1m5 0h1m4 0h1m4 0h1m-17 1h1m2 0h1m2 0h1m4 0h1m1 0h1m2 0h1m-110 1h2m90 0h2m-96 1h1m2 0h1m-2 1h2m95 0h1m2 0h1m2 0h1m-112 1h1m7 1h3m-7 1h2m0 1h2m1 0h2m-6 1h2m3 0h1m6 0h1m76 0h1m-92 1h1m2 0h1m3 0h1m1 0h1m81 0h1m-86 1h1m2 0h1m23 0h1m4 0h1m11 0h1m42 0h1m-95 1h1m9 0h1m1 0h1m-14 1h1m1 0h1m4 0h1m8 0h1m33 0h1m10 0h1m-54 1h1m67 0h1m4 0h1m-72 1h1m-12 1h1m10 0h1m66 0h1m-73 1h1m7 1h1m19 0h1m-20 1h1m16 0h1m-28 1h1m3 0h2m16 1h1m-10 1h1m2 0h2m-1 1h1m-8 1h2"/><path stroke="#addc30" d="M178 10h1m4 0h1m-11 1h1m-1 12h1m-2 2h1m-5 1h2m3 0h1m-4 1h1m-1 1h3m1 1h1m-31 4h1m36 3h1m0 1h1m-30 1h1m28 1h1m2 0h1m-45 1h1m40 0h1m3 0h1m-49 1h1m45 0h2m-7 1h1m4 0h1m-31 1h1m7 0h2m19 0h1m1 0h2m-56 1h2m8 0h1m5 0h1m33 0h2m2 0h1m-55 1h2m21 0h1m37 0h1m-48 1h1m19 0h1m18 0h1m5 0h1m1 0h1m-47 1h1m6 0h1m11 0h1m16 0h1m-33 1h1m11 0h1m23 0h1m4 0h1m-56 1h1m25 0h1m-26 1h2m40 0h1m5 0h1m-40 1h1m12 0h1m-18 1h1m17 0h1m5 0h1m-26 1h1m4 0h1m6 0h1m2 0h1m4 0h1m-2 1h1m1 0h1m-13 1h1m8 0h1m2 0h1m-17 1h1m-8 1h1m7 0h2m7 0h1m1 0h1m2 0h1m5 0h1m-29 1h1m1 0h1m3 0h1m4 0h1m1 0h1m5 0h1m2 0h2m-25 1h1m4 0h2m1 0h2m2 0h1m1 0h1m7 0h2m1 0h2m-35 1h1m1 0h1m3 0h1m1 0h1m14 0h1m4 0h1m1 0h1m1 0h2m1 0h1m11 0h1m-48 1h1m13 0h2m5 0h1m2 0h1m3 0h1m8 0h1m-22 1h1m2 0h1m-1 1h1m13 0h1m-38 1h1m18 0h1m1 0h2m14 0h1m3 0h1m-49 1h1m1 0h1m23 0h1m2 0h1m12 0h1m30 0h1m2 0h1m-75 1h1m1 0h1m40 0h1m29 0h1m-18 1h1m17 0h1m-23 1h1m1 0h1m22 0h1m-81 1h1m32 0h1m42 0h1m1 0h1m1 0h2m-79 1h1m69 0h1m6 0h1m-75 1h1m57 0h1m3 0h2m6 0h1m-69 1h1m10 0h1m50 0h1m2 0h1m3 0h1m3 0h2m-76 1h1m44 0h2m16 0h1m2 0h1m-71 1h1m2 0h1m63 0h3m4 0h3m-76 1h1m19 0h1m25 0h1m2 0h1m5 0h1m10 0h1m2 0h1m6 0h1m-82 1h1m49 0h1m2 0h1m3 0h1m5 0h1m3 0h1m12 0h1m-12 2h1m12 0h1m-27 1h1m15 0h1m7 0h1m-30 1h1m20 0h1m7 0h1m-28 1h1m1 0h1m16 0h2m2 0h1m-30 1h1m22 0h1m4 0h2m3 0h1m-136 1h1m101 0h2m3 0h1m19 0h2m-35 1h1m8 0h1m3 0h1m22 0h1m1 0h1m-28 1h1m19 0h2m-2 1h1m3 0h1m-30 1h1m5 0h1m1 0h2m19 0h1m-22 1h1m19 0h1m-18 1h1m15 0h2m-69 1h1m2 0h1m37 0h1m3 0h1m21 0h1m-69 1h1m4 0h1m35 0h2m1 0h1m4 0h2m0 1h1m-10 2h1m6 0h1m3 0h1m-14 1h2m8 0h1m2 0h1m-13 1h1m4 0h1m4 0h2m2 0h1m2 0h1m-12 1h3m3 0h1m2 0h1m1 0h2m-14 1h1m1 0h2m2 0h1m-7 1h4m7 0h1m-55 1h1m46 0h1m2 0h2m4 0h1m-14 1h1m2 0h1m4 0h1m-1 1h1m-11 1h1m3 0h1m8 0h1m-16 1h1m2 0h1m2 0h1m-12 1h1m9 2h1m1 1h1m-28 14h1m-1 1h1m-111 2h1m0 2h1m104 0h1m-2 1h1m3 0h1m-3 2h1m1 0h1m-108 1h1m-4 1h1m3 0h1m98 0h1m4 0h1m3 0h1m-11 1h1m2 1h1m3 0h1m-4 1h2m1 0h1m1 0h1m-111 1h1m103 0h2m3 0h2m-11 1h1m3 0h1m1 0h1m2 0h1m-114 2h1m103 0h1m-98 2h3m85 0h1m-92 1h1m1 1h2m87 0h2m-97 1h1m1 1h1m2 0h1m1 0h1m1 0h2m1 0h2m-12 1h1m4 0h1m-7 1h1m3 0h2m-5 1h1m3 0h1m-7 2h1m5 1h1m0 1h1m0 1h2m8 0h1m16 0h1m-18 2h1m-4 1h1"/><path stroke="#cde11d" d="M171 19h1m-1 2h2m-2 5h2m-1 1h1m-2 5h1m9 5h1m-2 1h1m0 3h2m3 0h1m-33 1h1m28 0h1m0 2h1m-3 1h1m1 0h1m1 0h1m-33 1h1m31 0h1m-38 1h1m12 0h1m25 0h1m-2 1h1m-52 3h1m4 3h1m16 0h1m7 0h1m-16 1h1m1 0h2m8 0h3m-13 1h1m9 0h1m2 0h1m-14 1h1m8 0h1m2 0h1m-19 1h1m5 0h1m2 0h2m1 0h1m6 0h1m-22 1h1m3 0h1m1 0h1m1 0h1m1 0h1m1 0h2m-28 1h1m8 0h1m10 0h2m4 0h1m1 0h1m1 0h1m-10 1h1m9 0h2m-13 1h1m9 0h1m0 1h1m34 2h1m-48 1h1m41 0h2m3 0h1m-1 1h2m-49 1h1m23 0h1m17 1h2m1 0h1m-15 1h1m5 0h1m4 0h3m-6 1h1m4 1h1m2 0h2m-24 1h1m13 0h1m6 0h2m-78 1h1m70 0h1m-23 1h1m3 0h1m15 0h2m4 0h1m0 1h1m-28 1h1m13 0h1m12 0h1m2 0h1m-7 1h1m1 0h4m-11 1h1m6 0h2m-13 1h1m9 0h3m1 0h1m-32 1h1m1 0h1m21 0h2m2 0h1m-31 1h1m25 0h1m3 0h1m-33 1h1m3 0h1m23 0h1m2 0h2m-32 1h1m26 0h1m-26 1h1m23 0h1m2 0h1m-36 2h1m12 1h2m19 0h1m-23 1h1m1 0h1m-5 1h2m2 0h1m13 1h1m-17 1h2m-1 1h1m6 3h1m-19 1h1m3 3h1m2 0h1m4 3h1m-6 1h1m3 0h1m-3 1h1m-1 1h1m-134 23h1m96 2h1m3 2h1m-107 1h1m111 0h1m-7 4h2m-1 1h2m-2 1h1m-99 1h1m-5 1h1m0 2h1m-8 1h1m1 0h2m3 1h1m-6 1h2m0 1h1m1 0h1m-4 1h1m0 1h2m10 0h1m-11 1h1m-3 1h2m1 0h1m3 1h1m0 1h1"/><path stroke="#efe51c" d="M183 38h1m1 11h1m-32 5h1m-3 1h1m-1 1h1m6 3h1m-10 2h1m9 0h1m-13 2h1m-28 4h1m70 0h1m-1 1h2m-25 8h1m29 0h1m-2 1h1m-11 1h1m5 0h1m-1 1h1m-2 1h1m0 1h1m1 0h1m-1 2h1m-4 1h1m1 0h1m-25 6h1m1 3h1m-32 38h1m-107 13h1m-4 4h1m0 1h1"/></g><rect x="0" y="0" width="206" height="162" fill="url(#gr)" clip-path="url(#mk)"/></g><rect x="131.0" y="1072.0" width="828.0" height="69.0" fill="#d9d9d9"/><text x="545.0" y="1118.6" font-size="36.67" fill="#1a1a1a" text-anchor="middle">med</text><rect x="131.0" y="1141.0" width="828.0" height="727.6" fill="#ebebeb"/><path d="M131.0 1169.7h828.0M131.0 1273.5h828.0M131.0 1377.3h828.0M131.0 1481.1h828.0M131.0 1584.9h828.0M131.0 1688.7h828.0M131.0 1792.5h828.0M332.0 1141.0v727.6M559.9 1141.0v727.6M787.8 1141.0v727.6" stroke="#fff" stroke-width="4.45" fill="none"/><g transform="translate(149.68,1143.75) scale(3.7983,4.3250)"><g transform="translate(0,0.5)" stroke-width="1" fill="none" shape-rendering="crispEdges"><path stroke="#460a5d" d="M163 13h1m-14 3h1m-8 1h1m6 2h1m11 0h1m-9 1h1m-6 1h1m1 0h2m-7 1h1m3 0h2m-3 2h1m0 2h1m-26 11h1m-2 3h1m26 3h1m-69 2h1m2 0h1m81 0h1m-67 7h1m-11 1h1m10 0h1m-10 1h1m-43 1h1m38 0h3m-16 1h1m24 0h1m-28 1h1m15 0h1m0 1h1m10 0h1m71 0h1m-84 1h3m-9 1h1m15 0h1m-23 1h1m2 0h1m-37 1h1m5 0h1m41 0h1m-43 1h2m43 0h2m-3 1h1m-44 6h1m4 0h1m33 0h1m0 1h1m-3 1h1m-2 4h1m1 0h1m-2 1h1m-83 2h3m47 0h1m-52 1h5m118 0h1m-124 1h6m-6 1h6m76 0h1m-83 1h6m101 0h1m-111 1h9m73 0h1m2 0h1m-86 1h9m26 0h3m37 0h1m-76 1h10m24 0h3m45 0h2m-83 1h11m21 0h3m1 0h1m-37 1h1m1 0h12m17 0h8m41 0h2m3 0h1m-85 1h19m11 0h9m-38 1h37m2 0h1m34 0h1m4 0h1m-80 1h38m-37 1h39m23 0h1m5 0h1m16 0h1m-86 1h37m14 0h1m-51 1h30m1 0h1m36 0h1m2 0h1m4 0h1m-77 1h29m26 0h1m18 0h1m-74 1h28m9 0h1m-38 1h28m14 0h1m1 0h1m17 0h1m8 0h1m3 0h4m-79 1h29m36 0h1m6 0h1m1 0h2m1 0h1m-77 1h24m4 0h1m46 0h1m4 0h1m-81 1h22m26 0h1m29 0h1m-79 1h22m-21 1h20m-20 1h21m1 0h1m-22 1h18m17 0h1m40 0h1m-77 1h16m59 0h1m-76 1h17m10 0h1m-27 1h16m33 0h3m-51 1h18m6 0h2m22 0h2m3 0h1m27 0h1m-82 1h15m1 0h2m14 0h1m29 0h1m17 0h1m-80 1h13m3 0h2m6 0h1m101 0h1m-127 1h13m2 0h2m7 0h1m93 0h1m-118 1h11m2 0h1m-13 1h5m1 0h3m6 0h1m103 0h1m-119 1h1m32 0h1m6 1h1m-1 1h2m12 0h1m4 1h1m-34 2h1m13 0h2m-18 1h1m34 0h1m-42 1h1m3 0h1m1 0h2m51 0h1m-55 1h1m14 0h1m3 0h1m-20 1h1m56 0h2m-62 1h1m10 0h1m6 0h1m14 0h1m-24 1h2m6 0h1m2 0h1m7 0h2m-30 1h1m6 0h1m2 0h3m1 0h1m7 0h2m33 0h1m-35 1h2m6 0h1m4 0h1m-31 1h4m2 1h1m11 0h1m2 0h1m-22 1h2m15 0h2m4 0h1m-23 1h1m23 0h1m-34 1h1m14 0h1m17 0h1m-9 1h1m0 1h1m6 0h1m-5 1h1m8 0h2m-14 1h1m-8 1h1m6 0h2m7 0h1m1 0h1m-3 1h2m1 0h1m-19 1h2m1 0h2m-13 1h1m25 0h1m8 0h1m8 0h1m-29 1h1m-7 2h1"/><path stroke="#481c6e" d="M161 10h1m2 3h1m-18 1h1m14 0h1m-11 1h1m29 0h1m-32 1h1m32 0h1m-24 1h1m22 0h1m1 0h1m-42 1h1m5 0h1m33 0h1m-40 2h2m13 0h1m-14 1h1m4 0h2m-16 1h1m14 0h1m25 0h2m-32 1h2m-2 1h1m29 0h1m-32 1h1m34 0h1m-51 1h1m49 8h1m-61 3h1m1 0h1m-1 1h1m-79 1h2m74 0h3m-79 1h3m-3 1h4m-3 1h2m-3 1h5m-5 1h2m3 0h1m-6 1h1m3 0h1m31 0h2m1 0h1m82 0h1m-119 1h2m28 0h7m79 0h1m-121 1h2m1 0h2m1 0h1m26 0h10m1 0h1m-45 1h4m2 0h2m26 0h4m2 0h6m83 0h1m-130 1h8m25 0h8m1 0h5m5 0h1m76 0h1m-129 1h6m25 0h7m1 0h1m1 0h3m7 0h2m2 0h1m1 0h1m-59 1h4m28 0h4m1 0h3m1 0h5m1 0h1m2 0h1m3 0h1m2 0h1m4 0h1m29 0h1m-93 1h3m1 0h1m4 0h2m21 0h7m3 0h4m26 0h1m-73 1h5m2 0h4m22 0h4m1 0h1m6 0h1m1 0h2m5 0h1m1 0h2m-58 1h5m3 0h3m21 0h2m2 0h1m1 0h1m4 0h3m11 0h2m-59 1h4m2 0h1m2 0h1m21 0h1m1 0h1m1 0h4m1 0h1m-41 1h7m1 0h1m22 0h11m1 0h2m2 0h2m2 0h2m3 0h1m-57 1h1m1 0h1m2 0h1m2 0h1m20 0h12m4 0h1m1 0h1m8 0h1m-52 1h1m1 0h1m19 0h6m1 0h6m4 0h1m1 0h1m7 0h1m-50 1h3m18 0h14m2 0h1m11 0h1m1 0h1m10 0h1m-61 1h1m20 0h11m1 0h4m1 0h1m5 0h1m4 0h1m-55 1h1m2 0h3m15 0h4m1 0h5m1 0h2m1 0h8m2 0h1m2 0h1m17 0h1m-46 1h1m2 0h10m1 0h3m1 0h3m5 0h3m15 0h1m-63 1h1m15 0h3m1 0h14m3 0h3m2 0h2m-40 1h1m1 0h3m7 0h3m2 0h3m1 0h6m1 0h1m3 0h1m4 0h1m-42 1h1m2 0h1m2 0h2m4 0h1m3 0h9m1 0h3m1 0h1m1 0h1m2 0h1m8 0h2m-40 1h1m1 0h6m2 0h10m1 0h2m2 0h1m2 0h1m2 0h1m1 0h1m-34 1h3m1 0h6m2 0h1m1 0h3m2 0h1m1 0h2m1 0h1m7 0h1m-38 1h1m3 0h1m1 0h4m2 0h3m4 0h2m2 0h1m2 0h2m6 0h1m-32 1h2m3 0h1m1 0h1m2 0h3m5 0h1m4 0h1m3 0h1m9 0h1m6 0h1m-48 1h1m3 0h1m5 0h8m1 0h2m1 0h1m4 0h1m2 0h1m7 0h2m-39 1h1m4 0h1m5 0h1m4 0h4m8 0h1m9 0h1m-34 1h1m9 0h4m8 0h1m9 0h1m85 0h1m-112 1h1m2 0h3m2 0h1m1 0h1m3 0h1m12 0h2m86 0h1m-129 1h1m8 0h1m2 0h1m1 0h4m3 0h2m2 0h2m11 0h3m5 0h1m-48 1h1m5 0h2m8 0h2m4 0h1m1 0h3m5 0h2m5 0h5m-40 1h1m1 0h1m3 0h1m3 0h2m3 0h1m1 0h1m1 0h2m1 0h2m5 0h2m7 0h1m-38 1h1m3 0h1m3 0h1m1 0h2m2 0h7m3 0h1m11 0h2m-34 1h1m3 0h1m1 0h3m1 0h4m2 0h1m1 0h1m10 0h1m39 0h1m-85 1h1m12 0h1m7 0h1m1 0h1m1 0h6m4 0h1m7 0h1m2 0h1m38 0h1m28 0h1m-102 1h1m1 0h1m5 0h8m3 0h1m2 0h1m4 0h1m3 0h1m37 0h1m31 0h1m19 0h1m-120 1h1m5 0h3m1 0h3m6 0h2m7 0h2m22 0h1m-61 1h1m13 0h2m1 0h3m4 0h2m1 0h3m6 0h1m2 0h1m19 0h2m1 0h1m61 0h2m-123 1h1m11 0h10m2 0h4m4 0h3m1 0h2m20 0h1m7 0h1m-67 1h2m11 0h1m2 0h2m5 0h6m7 0h1m-78 1h1m28 0h1m3 0h1m16 0h2m3 0h2m1 0h2m2 0h1m2 0h1m1 0h4m1 0h2m-46 1h4m1 0h3m3 0h2m5 0h1m4 0h2m3 0h3m1 0h10m7 0h1m-51 1h1m1 0h3m1 0h5m6 0h1m1 0h2m3 0h3m3 0h8m1 0h9m44 0h1m-127 1h1m12 0h1m24 0h3m1 0h4m4 0h6m2 0h2m1 0h1m3 0h4m3 0h2m1 0h1m1 0h2m-60 1h1m19 0h8m2 0h4m2 0h1m2 0h5m3 0h2m4 0h1m1 0h4m1 0h4m-45 1h2m1 0h6m2 0h5m2 0h3m1 0h3m7 0h1m2 0h2m1 0h4m7 0h2m3 0h1m-54 1h7m5 0h6m2 0h1m1 0h3m3 0h2m4 0h7m7 0h1m1 0h1m84 0h2m-135 1h5m4 0h8m1 0h1m3 0h1m4 0h2m1 0h1m3 0h2m6 0h1m2 0h1m1 0h1m86 0h1m-137 1h6m7 0h1m1 0h3m1 0h1m4 0h3m9 0h1m4 0h2m12 0h1m-62 1h1m1 0h8m3 0h1m6 0h1m4 0h1m1 0h1m4 0h2m3 0h1m7 0h1m1 0h2m12 0h1m-63 1h4m1 0h7m7 0h1m5 0h1m7 0h3m4 0h1m5 0h3m-49 1h2m1 0h3m2 0h1m3 0h1m2 0h1m10 0h1m3 0h4m9 0h2m2 0h2m2 0h1m14 0h1m24 0h1m-92 1h1m1 0h1m1 0h1m31 0h1m5 0h1m1 0h1m1 0h1m-42 1h1m4 0h2m23 0h1m2 0h1m9 0h1m1 0h2m1 0h1m-57 1h4m2 0h2m25 0h1m4 0h1m3 0h1m4 0h1m5 0h2m-57 1h6m6 0h1m10 0h1m7 0h1m11 0h2m5 0h1m2 0h1m4 0h1m-59 1h5m18 0h1m3 0h1m11 0h1m1 0h2m1 0h1m5 0h1m2 0h1m1 0h1m-57 1h5m1 0h1m1 0h1m9 0h1m11 0h2m9 0h2m3 0h1m10 0h1m5 0h1m-63 1h1m1 0h2m3 0h1m12 0h1m10 0h1m8 0h2m3 0h1m7 0h1m1 0h1m5 0h1m58 0h1m-123 1h7m38 0h1m5 0h2m6 0h1m7 0h1m9 0h1m-80 1h7m9 0h1m26 0h1m10 0h1m15 0h1m-70 1h6m5 0h1m21 0h1m1 0h1m22 0h2m2 0h1m3 0h1m-67 1h6m5 0h2m46 0h1m-57 1h4m1 0h1m8 0h1m9 0h1m4 0h1m14 0h1m1 0h1m7 0h4m-61 1h1m2 0h2m21 0h1m18 0h1m15 0h1m1 0h1m-65 1h3m2 0h1m2 0h1m3 0h1m3 0h3m2 0h1m24 0h1m1 0h1m5 0h4m8 0h1m44 0h1m-112 1h2m2 0h2m1 0h2m1 0h1m1 0h1m3 0h1m18 0h1m20 0h1m49 0h1m6 0h1m15 0h1m-131 1h2m1 0h2m1 0h2m2 0h3m4 0h2m22 0h1m64 0h1m1 0h1m-114 1h1m3 0h5m3 0h1m4 0h1m6 0h1m3 0h1m24 0h1m3 0h1m-63 1h1m1 0h11m7 0h2m18 0h1m16 0h2m3 0h1m1 0h1m2 0h1m20 0h1m-88 1h11m1 0h3m1 0h2m3 0h2m7 0h1m1 0h1m21 0h2m61 0h3m-119 1h10m2 0h3m4 0h2m1 0h3m13 0h1m6 0h1m3 0h1m28 0h1m-77 1h2m1 0h7m7 0h4m1 0h1m18 0h1m9 0h1m3 0h1m19 0h1m10 0h1m28 0h2m-116 1h2m2 0h3m1 0h1m7 0h2m4 0h1m2 0h1m8 0h1m1 0h3m10 0h1m3 0h2m1 0h1m57 0h1m-116 1h1m3 0h1m1 0h2m28 0h1m29 0h1m8 0h1m-61 1h2m2 0h1m2 0h1m1 0h1m13 0h1m3 0h1m1 0h1m1 0h1m11 0h1m14 0h1m-58 1h1m1 0h1m1 0h1m2 0h1m3 0h1m12 0h3m32 0h1m-57 1h1m1 0h1m4 0h1m14 0h1m14 0h1m-36 1h1m4 0h1m3 0h1m13 0h1m2 0h1m-27 1h1m2 0h1m1 0h2m8 0h3m3 0h1m4 0h1m10 0h1m6 0h1m12 0h1m4 0h1m-64 1h3m2 0h2m5 0h1m3 0h2m2 0h1m1 0h1m14 0h2m-38 1h1m5 0h1m3 0h1m2 0h1m12 0h4m3 0h1m23 0h1m-56 1h1m1 0h1m1 0h3m2 0h1m1 0h1m2 0h1m5 0h2m1 0h2m2 0h1m2 0h1m15 0h1m5 0h2m45 0h2m1 0h1m-105 1h1m1 0h1m4 0h2m7 0h2m2 0h1m1 0h3m1 0h2m19 0h1m-52 1h2m5 0h1m7 0h1m4 0h1m3 0h1m6 0h1m71 0h1m-106 1h1m2 0h1m2 0h1m13 0h1m3 0h2m2 0h1m2 0h1m2 0h1m4 0h1m3 0h1m5 0h1m-43 1h1m1 0h1m5 0h1m10 0h4m2 0h1m2 0h1m13 0h1m-47 1h1m5 0h1m7 0h2m6 0h3m1 0h1m1 0h1m3 0h1m11 0h2m-45 1h1m4 0h1m6 0h1m1 0h4m8 0h1m3 0h1m-26 1h2m1 0h1m3 0h2m1 0h2m1 0h3m8 0h1m1 0h1m3 0h1m4 0h1m1 0h1m-42 1h1m11 0h1m3 0h1m1 0h1m1 0h3m1 0h1m2 0h1m1 0h1m1 0h1m9 0h1m-41 1h1m3 0h2m3 0h2m1 0h1m1 0h1m1 0h1m5 0h2m13 0h1m-27 1h2m11 0h1m-20 1h4m1 0h1m6 0h1m1 0h1m1 0h1m10 0h1m2 0h1m15 0h1m18 0h1m-69 1h1m17 0h1m5 0h1m3 0h1m3 0h1m5 0h1m9 0h1m7 0h2m-54 1h1m2 0h1m4 0h1m2 0h1m4 0h3m9 0h2m1 0h1m-21 1h1m18 0h1m3 0h1m-32 1h2m24 0h1m2 0h1m16 0h1m-44 1h1m11 0h1m13 0h2m12 0h1m-43 1h1m37 0h1m19 0h1m-45 8h1"/><path stroke="#472d7b" d="M164 8h1m0 1h1m-1 2h1m-2 1h2m-18 1h1m15 1h1m1 0h1m-19 1h1m-1 2h2m2 0h1m13 0h1m18 0h1m-42 1h1m16 0h1m-17 2h1m-5 1h1m3 0h3m13 0h1m1 0h2m17 0h1m-36 1h1m4 0h1m-7 1h1m2 0h1m4 0h1m-8 1h1m4 0h1m2 0h1m23 0h1m-29 1h1m2 0h1m30 0h1m-29 1h1m-11 1h1m35 1h1m-46 1h2m2 1h1m8 0h1m-18 3h1m50 0h1m-54 1h1m42 0h1m16 0h1m-63 1h2m-6 1h1m2 0h2m57 0h1m3 0h1m-70 1h1m3 0h1m2 0h1m29 0h1m-32 1h1m-2 1h1m38 1h1m-29 1h1m7 0h2m11 0h1m-113 1h1m2 0h1m89 0h2m8 0h1m14 0h1m24 0h1m-43 1h2m-101 1h3m98 0h1m-103 1h3m1 0h1m34 0h3m76 0h1m1 0h1m-122 1h4m2 0h1m34 0h3m44 0h1m-87 1h1m2 0h1m37 0h1m79 0h1m-120 1h2m27 0h1m4 0h2m6 0h1m73 0h1m2 0h1m-116 1h1m23 0h1m8 0h1m8 0h1m23 0h2m44 0h2m-122 1h1m6 0h2m30 0h1m1 0h1m3 0h4m8 0h1m11 0h1m-66 1h4m1 0h1m26 0h1m3 0h1m5 0h1m-44 1h1m1 0h4m30 0h2m5 0h1m3 0h1m5 0h1m2 0h1m-55 1h2m25 0h1m4 0h1m1 0h5m2 0h1m3 0h1m2 0h1m13 0h1m11 0h1m-75 1h3m26 0h2m1 0h1m1 0h2m1 0h1m6 0h2m4 0h1m32 0h1m40 0h1m-125 1h1m1 0h2m1 0h1m21 0h1m1 0h1m4 0h1m1 0h2m3 0h1m1 0h5m2 0h2m10 0h1m-61 1h1m2 0h1m34 0h2m6 0h2m29 0h1m-84 1h1m2 0h1m1 0h2m1 0h1m39 0h2m3 0h1m-55 1h1m1 0h3m1 0h1m26 0h1m6 0h1m2 0h1m3 0h1m1 0h1m5 0h1m-56 1h1m1 0h2m36 0h1m2 0h2m3 0h1m1 0h1m2 0h1m75 0h1m-128 1h1m3 0h1m18 0h3m16 0h1m1 0h4m3 0h1m3 0h1m-31 1h1m17 0h1m3 0h1m1 0h3m-51 1h1m1 0h1m1 0h1m14 0h1m1 0h2m10 0h1m3 0h1m3 0h2m6 0h1m4 0h1m-34 1h1m14 0h2m4 0h1m3 0h1m6 0h1m66 0h1m6 0h1m-126 1h4m1 0h1m3 0h7m3 0h2m3 0h1m6 0h1m2 0h2m1 0h1m2 0h1m2 0h1m2 0h1m58 0h1m-105 1h2m1 0h2m2 0h4m1 0h3m9 0h1m3 0h1m1 0h1m1 0h2m6 0h1m4 0h1m-40 1h1m6 0h2m10 0h1m3 0h1m33 0h1m-67 1h3m8 0h1m6 0h2m1 0h1m3 0h2m1 0h1m2 0h1m1 0h2m-31 1h1m1 0h1m1 0h1m4 0h2m3 0h4m2 0h2m1 0h1m5 0h2m3 0h1m4 0h1m-41 1h2m3 0h2m4 0h2m3 0h5m1 0h2m1 0h1m1 0h2m2 0h1m5 0h1m1 0h1m8 0h1m23 0h1m-74 1h1m18 0h1m2 0h1m1 0h1m4 0h1m13 0h1m37 0h1m-72 1h3m1 0h4m4 0h3m1 0h4m14 0h1m-44 1h1m4 0h1m1 0h3m1 0h5m4 0h8m2 0h1m2 0h1m7 0h1m53 0h1m-84 1h1m1 0h2m3 0h2m3 0h3m1 0h1m8 0h2m6 0h2m2 0h1m23 0h1m-63 1h1m6 0h2m3 0h2m2 0h1m2 0h1m1 0h1m12 0h1m32 0h1m31 0h1m10 0h1m-114 1h1m3 0h3m2 0h4m1 0h1m3 0h3m7 0h2m7 0h1m1 0h1m31 0h1m22 0h1m3 0h1m-99 1h1m3 0h1m2 0h3m1 0h1m1 0h1m2 0h1m2 0h2m6 0h1m8 0h1m2 0h1m-49 1h1m6 0h1m6 0h1m2 0h2m7 0h3m2 0h1m14 0h1m13 0h1m78 0h1m-133 1h1m10 0h1m4 0h2m1 0h1m1 0h5m6 0h1m1 0h2m4 0h2m17 0h1m60 0h1m-132 1h1m16 0h2m1 0h1m1 0h1m7 0h3m4 0h1m1 0h2m8 0h2m44 0h1m-98 1h1m1 0h1m11 0h1m4 0h2m8 0h2m2 0h2m3 0h1m2 0h2m18 0h1m11 0h1m-67 1h2m2 0h1m8 0h1m3 0h1m3 0h6m2 0h1m1 0h1m30 0h1m-47 1h1m3 0h4m2 0h1m4 0h1m5 0h1m3 0h1m1 0h1m17 0h1m7 0h2m-71 1h1m1 0h1m22 0h2m11 0h1m3 0h2m16 0h1m-71 1h3m9 0h1m2 0h1m6 0h1m4 0h2m2 0h5m6 0h1m3 0h1m4 0h1m21 0h1m30 0h1m-103 1h2m2 0h1m3 0h5m3 0h4m7 0h1m2 0h2m1 0h2m9 0h2m1 0h1m-46 1h1m3 0h1m8 0h1m1 0h4m8 0h1m10 0h3m2 0h1m79 0h1m14 0h1m-139 1h1m12 0h1m2 0h3m14 0h1m10 0h1m28 0h1m60 0h1m-133 1h1m14 0h2m2 0h1m9 0h2m2 0h1m1 0h1m52 0h1m-83 1h2m4 0h2m1 0h2m10 0h1m1 0h2m1 0h1m4 0h1m13 0h1m-46 1h2m5 0h2m3 0h1m3 0h1m3 0h2m2 0h2m8 0h1m4 0h1m7 0h1m-49 1h5m6 0h2m1 0h1m3 0h1m6 0h1m13 0h1m11 0h1m-52 1h4m8 0h1m1 0h3m9 0h3m7 0h1m33 0h1m-72 1h3m1 0h1m1 0h1m5 0h1m1 0h4m6 0h3m1 0h2m7 0h3m5 0h1m2 0h1m30 0h1m-82 1h3m1 0h1m1 0h2m1 0h1m1 0h1m1 0h2m1 0h1m1 0h2m21 0h1m10 0h1m-60 1h1m22 0h1m3 0h2m6 0h1m12 0h1m7 0h1m22 0h1m7 0h1m-90 1h1m3 0h2m2 0h1m7 0h1m6 0h1m1 0h2m8 0h1m8 0h1m2 0h1m-45 1h1m7 0h1m1 0h1m1 0h1m14 0h2m1 0h1m1 0h2m12 0h2m1 0h1m36 0h1m-91 1h1m6 0h1m4 0h1m15 0h1m4 0h1m8 0h1m1 0h1m-44 1h1m2 0h1m4 0h1m2 0h1m17 0h1m1 0h1m15 0h1m2 0h1m-52 1h1m10 0h1m23 0h1m7 0h1m24 0h1m-70 1h1m8 0h1m1 0h2m6 0h1m3 0h1m16 0h1m5 0h1m4 0h2m25 0h1m-80 1h1m1 0h1m14 0h1m3 0h1m6 0h1m1 0h1m7 0h1m8 0h1m13 0h1m-60 1h1m9 0h2m1 0h1m7 0h1m2 0h1m8 0h1m2 0h2m5 0h1m6 0h1m3 0h1m1 0h1m9 0h1m-68 1h3m11 0h1m1 0h1m32 0h1m4 0h2m-58 1h3m12 0h2m1 0h1m16 0h1m5 0h1m9 0h1m8 0h2m-86 1h1m23 0h3m4 0h1m7 0h2m17 0h1m5 0h1m18 0h1m16 0h1m-101 1h1m23 0h1m11 0h1m3 0h1m7 0h2m15 0h1m10 0h1m6 0h2m2 0h1m32 0h1m-96 1h1m10 0h3m10 0h1m10 0h1m5 0h1m15 0h2m2 0h2m17 0h1m14 0h1m11 0h1m-110 1h5m8 0h2m11 0h1m4 0h1m25 0h1m3 0h1m3 0h1m42 0h1m3 0h1m-113 1h2m1 0h2m13 0h2m3 0h1m6 0h1m26 0h1m31 0h1m10 0h1m8 0h1m11 0h1m-122 1h1m2 0h1m3 0h1m7 0h1m3 0h2m2 0h1m7 0h1m6 0h1m3 0h1m6 0h1m2 0h1m36 0h1m22 0h1m3 0h1m-119 1h1m2 0h2m4 0h2m3 0h1m2 0h1m2 0h1m12 0h1m14 0h1m55 0h1m-106 1h1m1 0h1m1 0h4m17 0h1m7 0h1m2 0h2m11 0h1m33 0h1m-85 1h4m1 0h1m3 0h1m9 0h1m8 0h1m2 0h1m5 0h1m4 0h1m4 0h1m18 0h1m10 0h1m-79 1h1m3 0h1m3 0h2m42 0h1m-53 1h2m6 0h1m2 0h1m3 0h1m1 0h1m19 0h1m11 0h1m20 0h1m6 0h1m-88 1h2m2 0h1m7 0h1m10 0h1m2 0h3m2 0h1m8 0h1m3 0h3m1 0h1m10 0h1m6 0h2m-62 1h1m14 0h1m1 0h2m25 0h1m7 0h1m18 0h1m5 0h1m4 0h1m15 0h1m-102 1h1m3 0h1m7 0h1m6 0h2m4 0h1m2 0h1m10 0h1m6 0h1m2 0h1m4 0h1m1 0h1m5 0h1m8 0h1m5 0h1m-73 1h1m1 0h1m11 0h1m6 0h1m3 0h1m7 0h1m3 0h1m11 0h1m29 0h1m23 0h1m12 0h1m-110 1h1m3 0h1m15 0h1m3 0h3m6 0h1m8 0h1m1 0h1m13 0h1m4 0h1m1 0h1m7 0h1m35 0h1m-108 1h1m1 0h1m4 0h1m4 0h2m4 0h1m9 0h1m3 0h1m6 0h1m20 0h1m3 0h1m2 0h1m-68 1h2m6 0h1m3 0h1m1 0h1m6 0h1m4 0h2m2 0h2m24 0h1m3 0h1m6 0h2m43 0h1m-97 1h1m14 0h1m1 0h1m8 0h1m18 0h1m7 0h1m-72 1h1m17 0h1m12 0h1m3 0h1m2 0h1m4 0h1m3 0h1m11 0h1m7 0h1m47 0h1m1 0h1m-108 1h2m1 0h1m9 0h1m1 0h1m3 0h1m3 0h1m6 0h1m2 0h1m19 0h1m7 0h1m44 0h1m1 0h1m-110 1h1m1 0h1m10 0h1m63 0h1m-69 1h2m16 0h1m12 0h1m6 0h1m25 0h1m-82 1h1m6 0h3m4 0h2m1 0h1m11 0h1m2 0h2m3 0h1m1 0h1m5 0h1m2 0h1m4 0h1m11 0h1m2 0h1m-69 1h1m4 0h1m3 0h1m3 0h1m3 0h2m12 0h1m4 0h1m6 0h1m2 0h1m31 0h1m-75 1h1m2 0h1m1 0h1m7 0h1m5 0h2m1 0h1m5 0h1m1 0h1m4 0h1m4 0h1m35 0h1m3 0h1m23 0h1m-103 1h1m1 0h2m1 0h2m1 0h3m3 0h1m2 0h3m20 0h1m3 0h1m30 0h1m-75 1h1m1 0h1m1 0h3m2 0h1m1 0h1m4 0h2m1 0h1m1 0h1m1 0h1m1 0h1m1 0h1m2 0h1m9 0h1m2 0h1m-48 1h2m7 0h1m1 0h3m5 0h1m3 0h2m1 0h1m2 0h1m18 0h1m-45 1h1m2 0h5m2 0h1m2 0h2m1 0h1m1 0h1m8 0h1m7 0h2m-38 1h1m6 0h1m1 0h1m2 0h1m1 0h1m1 0h1m1 0h3m4 0h1m1 0h1m1 0h1m6 0h1m36 0h1m1 0h1m-70 1h2m2 0h2m6 0h1m5 0h1m7 0h1m2 0h1m13 0h1m21 0h2m-95 1h1m24 0h1m8 0h1m2 0h1m5 0h1m1 0h2m16 0h1m5 0h1m-41 1h3m1 0h1m6 0h1m3 0h2m10 0h1m15 0h1m21 0h1m-67 1h1m7 0h1m1 0h1m2 0h1m1 0h2m8 0h1m5 0h1m32 0h1m-63 1h1m1 0h1m2 0h1m1 0h2m2 0h2m4 0h2m7 0h1m-17 1h1m5 0h1m8 0h1m1 0h1m-21 1h1m18 0h1m34 0h1m-72 1h1m19 0h2m27 0h1m3 0h1m3 0h1m14 0h2m11 1h1m-2 1h1m-71 7h1m11 0h1m-27 1h1m-3 1h1"/><path stroke="#443b84" d="M161 9h1m0 3h1m-1 1h1m-8 1h1m-6 1h1m13 0h1m-11 1h1m7 0h1m17 0h1m-31 1h1m12 0h1m-22 1h2m16 0h1m-16 1h2m10 0h1m1 0h1m4 0h2m18 0h3m-37 1h2m1 0h1m5 0h2m2 0h1m21 0h1m-36 1h1m35 0h1m-38 1h1m5 0h1m7 0h2m21 0h1m-47 1h1m4 0h1m6 0h1m5 0h1m16 1h1m1 0h1m-34 1h1m0 1h1m10 0h1m-25 1h1m17 0h1m6 0h1m26 0h1m-49 1h1m2 0h1m6 0h2m39 0h1m-41 1h1m-16 1h1m4 0h1m15 0h1m23 0h1m11 0h1m-58 1h1m4 0h1m7 0h2m36 0h1m-52 1h1m3 0h1m13 0h1m22 0h1m8 0h1m3 0h1m-57 1h1m59 0h1m-66 2h1m1 0h1m1 0h1m35 0h1m22 0h1m-66 1h3m29 0h1m-27 1h1m-6 1h2m-3 1h1m15 0h1m-10 1h1m17 0h1m25 0h1m14 1h1m-41 1h1m20 1h1m-26 1h1m21 0h1m-24 1h1m12 0h2m12 0h1m-25 1h1m11 0h1m-26 1h1m-12 1h1m-8 1h1m53 0h1m-74 1h1m1 0h1m2 0h1m17 0h1m1 0h1m-67 1h1m51 0h1m7 0h2m3 0h1m10 0h1m37 0h1m-82 1h1m6 0h2m5 0h1m13 0h1m1 0h1m3 0h1m2 0h1m6 0h1m-37 1h1m1 0h1m8 0h1m16 0h1m-37 1h1m5 0h2m2 0h2m68 0h1m1 0h1m-77 1h1m10 0h1m-50 1h1m32 0h1m6 0h1m25 0h1m9 0h1m-83 1h1m37 0h1m1 0h1m2 0h1m4 0h1m3 0h1m2 0h1m13 0h1m10 0h1m17 0h2m24 0h2m-128 1h1m39 0h1m6 0h1m1 0h2m1 0h1m3 0h1m71 0h1m-129 1h1m39 0h1m7 0h1m1 0h2m4 0h2m-55 1h2m48 0h1m24 0h1m-76 1h1m41 0h1m7 0h2m17 0h1m-70 1h1m41 0h1m-43 1h1m36 0h1m4 0h1m3 0h1m6 0h1m18 0h1m-74 1h2m33 0h1m4 0h2m2 0h1m1 0h1m6 0h1m93 0h1m-108 1h2m11 0h1m53 0h1m-108 1h1m30 0h1m2 0h2m4 0h1m2 0h2m1 0h2m1 0h1m-44 1h2m29 0h1m9 0h1m46 0h1m-94 1h1m26 0h1m2 0h1m4 0h1m3 0h1m4 0h2m19 0h1m-55 1h1m14 0h1m4 0h1m3 0h3m13 0h1m26 0h1m-83 1h1m7 0h1m4 0h3m14 0h3m2 0h1m2 0h1m8 0h1m30 0h1m3 0h1m4 0h1m-85 1h1m1 0h2m2 0h2m2 0h1m16 0h1m36 0h1m15 0h2m40 0h1m-124 1h1m6 0h1m6 0h1m18 0h1m7 0h1m66 0h1m-105 1h1m6 0h2m13 0h1m6 0h2m8 0h1m85 0h1m-132 1h1m4 0h1m13 0h1m6 0h1m27 0h1m-19 1h1m2 0h1m27 0h1m43 0h1m-100 1h1m22 0h1m6 0h2m1 0h1m2 0h1m39 0h1m44 0h1m-131 1h1m3 0h1m7 0h1m21 0h4m7 0h1m35 0h1m44 0h1m-129 1h1m2 0h2m7 0h1m1 0h1m3 0h1m18 0h1m1 0h1m10 0h1m32 0h1m23 0h1m6 0h1m-102 1h1m15 0h1m4 0h1m7 0h1m39 0h1m-81 1h1m26 0h1m11 0h1m1 0h2m5 0h1m3 0h1m-54 1h1m15 0h1m20 0h2m10 0h1m64 0h1m-109 1h1m27 0h1m4 0h1m6 0h1m29 0h2m13 0h1m18 0h2m15 0h1m-92 1h2m7 0h1m56 0h1m-98 1h1m8 0h2m1 0h1m19 0h2m18 0h1m7 0h1m27 0h1m1 0h1m16 0h1m-115 1h1m43 0h1m33 0h1m35 0h1m-106 1h1m13 0h1m57 0h1m26 0h1m4 0h1m10 0h1m-154 1h1m71 0h1m42 0h1m4 0h1m32 0h1m6 0h1m-122 1h1m19 0h1m11 0h2m11 0h1m2 0h1m20 0h1m-26 1h1m3 0h1m-32 1h1m52 0h1m7 0h1m-59 1h2m20 0h1m34 0h1m-60 1h1m9 0h1m17 0h1m-46 1h1m37 0h1m67 0h1m-106 1h1m3 0h1m8 0h1m7 0h1m9 0h2m33 0h1m37 0h1m-112 1h1m1 0h1m6 0h1m2 0h1m3 0h1m1 0h1m18 0h2m10 0h1m3 0h1m2 0h2m11 0h1m3 0h1m56 0h1m-129 1h1m4 0h1m2 0h3m4 0h1m5 0h1m4 0h1m4 0h1m7 0h1m4 0h1m1 0h1m20 0h1m-81 1h1m4 0h2m2 0h2m6 0h2m25 0h1m-42 1h1m25 0h2m1 0h1m8 0h1m11 0h1m-41 1h1m3 0h2m7 0h1m9 0h2m1 0h2m1 0h1m3 0h1m14 0h1m23 0h1m-62 1h1m5 0h1m9 0h1m1 0h1m2 0h1m8 0h1m12 0h1m-66 1h1m20 0h3m3 0h1m12 0h1m-34 1h1m3 0h2m1 0h1m1 0h1m19 0h1m1 0h1m1 0h1m4 0h1m-50 1h2m8 0h2m2 0h1m9 0h1m4 0h1m3 0h1m8 0h1m1 0h1m3 0h1m1 0h1m3 0h1m5 0h1m1 0h1m26 0h1m-52 1h1m4 0h1m4 0h2m8 0h2m-49 1h1m4 0h1m7 0h1m16 0h1m10 0h1m8 0h1m46 0h1m26 0h2m-132 1h1m6 0h1m11 0h1m2 0h1m6 0h1m31 0h1m29 0h1m-121 1h1m23 0h1m1 0h2m2 0h1m1 0h1m4 0h1m11 0h1m6 0h3m8 0h1m6 0h1m4 0h1m4 0h1m2 0h1m1 0h1m17 0h1m-108 1h1m53 0h1m17 0h2m5 0h2m7 0h1m68 0h1m-128 1h1m1 0h2m10 0h1m5 0h1m1 0h1m2 0h1m1 0h1m5 0h1m7 0h2m8 0h1m3 0h2m35 0h2m-95 1h1m5 0h1m2 0h2m11 0h1m1 0h1m3 0h1m66 0h3m3 0h1m11 0h1m-107 1h1m1 0h1m8 0h1m4 0h1m3 0h1m2 0h1m6 0h1m10 0h3m38 0h1m5 0h1m1 0h2m2 0h1m2 0h1m5 0h1m-104 1h1m18 0h1m1 0h1m3 0h1m2 0h1m11 0h1m-47 1h1m2 0h1m26 0h1m1 0h1m1 0h1m13 0h1m43 0h2m1 0h1m18 0h1m-123 1h1m1 0h1m3 0h2m13 0h2m3 0h1m8 0h2m9 0h1m8 0h1m45 0h1m-100 1h1m16 0h1m3 0h1m1 0h1m8 0h1m10 0h1m4 0h1m15 0h1m29 0h1m7 0h1m-90 1h1m1 0h1m10 0h1m6 0h2m2 0h1m3 0h1m1 0h1m1 0h1m10 0h2m4 0h1m1 0h1m3 0h2m22 0h1m-97 1h1m2 0h1m30 0h1m12 0h1m1 0h1m2 0h1m6 0h2m2 0h1m12 0h1m22 0h1m3 0h1m-116 1h2m2 0h1m4 0h1m2 0h1m1 0h1m10 0h1m11 0h1m3 0h1m6 0h1m5 0h1m22 0h1m1 0h1m8 0h1m-69 1h1m12 0h1m6 0h1m3 0h1m-15 1h2m5 0h1m14 0h1m12 0h1m9 0h1m3 0h1m-72 1h1m6 0h1m9 0h1m19 0h1m2 0h1m31 0h1m2 0h1m-80 1h1m8 0h1m5 0h1m6 0h1m8 0h1m5 0h1m1 0h1m5 0h1m1 0h1m23 0h1m3 0h1m-45 1h1m4 0h1m8 0h1m2 0h1m3 0h1m3 0h1m-55 1h1m2 0h1m11 0h1m8 0h2m1 0h1m6 0h1m1 0h1m27 0h1m5 0h1m3 0h2m-64 1h3m3 0h1m5 0h2m12 0h1m5 0h1m4 0h1m16 0h1m5 0h1m5 0h1m45 0h1m-86 1h1m6 0h1m6 0h1m9 0h1m10 0h1m8 0h1m7 0h1m33 0h1m-111 1h1m5 0h1m13 0h1m14 0h1m23 0h1m1 0h1m-75 1h1m10 0h1m1 0h1m12 0h1m5 0h1m2 0h1m16 0h1m15 0h1m-68 1h1m16 0h1m1 0h1m11 0h2m8 0h2m5 0h2m3 0h1m6 0h2m6 0h1m4 0h1m12 0h1m4 0h1m-80 1h1m5 0h1m3 0h1m3 0h1m1 0h1m18 0h1m11 0h1m21 0h1m3 0h1m4 0h1m-80 1h1m6 0h1m1 0h2m2 0h2m1 0h2m63 0h1m-82 1h1m7 0h1m7 0h1m7 0h1m1 0h1m50 0h1m-80 1h2m9 0h2m9 0h1m12 0h1m6 0h1m26 0h1m9 0h1m2 0h1m-67 1h1m22 0h1m3 0h1m5 0h1m27 0h1m-76 1h1m9 0h2m2 0h1m9 0h1m27 0h1m14 0h1m7 0h1m-92 1h1m14 0h2m2 0h1m1 0h1m16 0h1m8 0h1m1 0h2m3 0h1m2 0h2m1 0h1m23 0h1m2 0h1m1 0h1m3 0h1m-75 1h1m6 0h1m4 0h1m2 0h1m9 0h1m6 0h1m8 0h2m22 0h2m4 0h2m-81 1h1m10 0h1m4 0h1m3 0h1m4 0h1m8 0h1m6 0h1m13 0h1m4 0h1m5 0h1m9 0h1m-59 1h1m12 0h1m6 0h1m3 0h1m5 0h1m1 0h2m7 0h1m22 0h1m-68 1h1m1 0h1m15 0h1m4 0h1m7 0h2m9 0h1m22 0h1m-68 1h1m1 0h1m22 0h1m6 0h1m44 0h1m-81 1h1m1 0h1m8 0h1m5 0h1m1 0h1m8 0h1m8 0h1m-37 1h1m4 0h1m1 0h1m10 0h1m8 0h2m1 0h1m2 0h1m15 0h2m11 0h1m6 0h1m-41 1h2m21 0h1m-58 1h1m57 0h1m10 0h1m1 0h1m10 0h1m-11 1h1m-59 6h1m10 1h1m-27 1h1"/><path stroke="#3e4a89" d="M162 8h1m2 0h1m0 2h1m-12 1h1m8 0h1m15 0h1m-34 2h1m6 0h2m11 0h1m-9 1h1m5 0h1m1 0h1m-19 1h1m1 0h1m6 0h1m3 0h1m11 0h1m8 0h1m-37 1h1m5 0h1m6 0h1m2 0h2m-14 1h1m1 0h1m11 0h1m-19 1h1m2 0h1m5 0h1m9 0h2m5 0h1m12 0h1m-33 1h2m7 0h1m2 0h1m-19 1h2m2 0h1m2 0h2m1 0h1m3 0h1m2 0h3m1 0h1m16 0h1m-44 1h1m13 0h1m8 0h1m-27 1h1m4 0h1m10 0h1m-4 1h1m-10 1h2m5 0h1m13 0h1m10 0h1m1 1h1m1 0h1m-44 1h1m4 0h1m6 0h1m1 0h1m2 0h1m-4 1h1m31 0h1m-40 2h1m7 0h2m-4 1h1m5 0h1m27 0h1m3 0h1m-27 1h1m-30 1h1m32 0h1m-36 1h1m41 0h1m-44 1h1m32 0h1m1 0h1m20 1h1m5 0h1m-54 1h1m16 0h1m-19 2h1m9 0h1m-26 2h1m46 0h1m7 0h1m-38 1h1m-6 1h1m13 0h1m17 0h1m20 0h1m-47 1h1m14 0h1m9 0h1m-23 1h1m-31 1h1m40 1h2m1 0h1m-66 3h1m3 0h1m39 0h1m42 0h1m-85 1h1m4 0h1m9 0h1m1 0h1m-19 1h1m2 0h1m3 0h1m2 0h1m12 0h1m3 0h1m5 0h1m7 0h1m16 0h1m-55 1h1m8 0h2m2 0h1m16 0h2m16 0h1m-36 1h1m1 0h1m9 0h1m-26 1h1m9 0h1m2 0h1m-13 1h1m11 0h1m41 0h1m12 0h1m-72 1h1m26 0h1m22 0h1m27 0h1m-87 1h1m5 0h1m3 0h1m6 0h1m-18 1h1m84 0h1m-124 1h1m74 0h1m-77 1h1m46 0h1m1 0h1m25 0h1m-79 1h1m47 0h1m16 0h1m-19 1h1m27 0h1m-75 1h1m1 0h1m71 0h1m34 0h1m5 0h1m5 0h1m-71 1h2m1 0h1m53 0h1m39 0h1m-147 1h1m37 0h1m3 0h1m18 0h1m29 0h1m-91 1h1m5 0h1m84 0h1m-88 1h1m29 0h1m5 0h3m6 0h1m-53 1h1m6 0h1m29 0h1m5 0h2m43 0h1m-90 1h1m3 0h1m8 0h1m28 0h1m55 0h1m-98 1h1m1 0h2m6 0h1m69 0h1m50 0h1m-133 1h1m10 0h1m2 0h1m21 0h1m11 0h1m5 0h1m30 0h1m15 0h1m-92 1h1m31 0h1m40 0h2m15 0h1m30 0h1m-132 1h1m8 0h2m1 0h1m4 0h1m19 0h1m16 0h1m55 0h1m-104 1h1m2 0h1m24 0h1m1 0h1m4 0h1m6 0h1m3 0h1m-41 1h1m1 0h1m19 0h1m16 0h1m15 0h1m15 0h1m2 0h1m28 0h1m-115 1h1m14 0h1m18 0h1m3 0h1m19 0h1m1 0h1m-62 1h2m10 0h1m21 0h1m5 0h3m5 0h1m2 0h1m5 0h1m40 0h1m15 0h2m16 0h1m-132 1h1m6 0h1m32 0h1m56 0h2m13 0h1m-115 1h1m1 0h2m5 0h1m26 0h1m2 0h1m4 0h1m3 0h1m-49 1h1m14 0h1m41 0h1m8 0h1m47 0h1m12 0h1m-116 1h1m2 0h1m20 0h1m7 0h1m2 0h1m2 0h1m7 0h1m13 0h1m8 0h1m19 0h1m36 0h1m-140 1h1m62 0h1m36 0h1m10 0h1m-107 1h1m2 0h1m2 0h1m29 0h1m16 0h1m4 0h1m2 0h1m2 0h1m5 0h1m22 0h1m24 0h1m-80 1h1m2 0h1m11 0h1m47 0h1m15 0h1m-112 1h1m27 0h1m13 0h1m5 0h1m34 0h2m4 0h1m9 0h1m12 0h1m13 0h1m-28 1h1m-55 1h1m1 0h1m71 0h1m-56 1h1m-95 1h1m75 0h1m-28 1h1m40 0h1m15 0h1m-8 1h2m55 0h1m-88 1h1m2 0h1m3 0h1m25 0h1m51 0h1m-127 1h1m23 0h1m43 0h1m6 0h1m31 0h1m3 0h2m-160 1h1m46 0h1m14 0h1m9 0h1m3 0h1m12 0h1m-89 1h1m47 0h1m1 0h1m1 0h2m5 0h1m11 0h1m9 0h1m14 0h2m2 0h1m-101 1h1m40 0h1m4 0h1m17 0h1m1 0h1m13 0h1m16 0h2m13 0h1m-56 1h1m39 0h1m-52 1h1m11 0h1m7 0h1m15 0h1m37 0h1m39 0h1m-116 1h1m16 0h1m3 0h1m5 0h1m3 0h1m9 0h1m6 0h1m-55 1h1m3 0h1m15 0h1m4 0h2m4 0h1m1 0h1m9 0h1m1 0h1m2 0h1m8 0h1m11 0h1m-78 1h2m5 0h1m4 0h1m6 0h1m8 0h1m3 0h1m8 0h1m1 0h1m9 0h1m13 0h1m10 0h1m-72 1h2m11 0h2m5 0h1m5 0h1m3 0h1m3 0h1m15 0h1m2 0h1m5 0h1m23 0h1m-84 1h1m9 0h1m5 0h1m14 0h1m2 0h1m46 0h1m-77 1h1m8 0h1m5 0h1m4 0h1m1 0h1m3 0h3m4 0h1m-46 1h1m9 0h2m30 0h1m3 0h1m14 0h1m8 0h1m1 0h1m21 0h1m-95 1h1m4 0h1m22 0h1m4 0h1m18 0h1m1 0h1m3 0h1m1 0h2m3 0h1m-56 1h1m3 0h2m11 0h1m1 0h1m7 0h1m4 0h1m11 0h2m35 0h1m28 0h1m11 0h1m-158 1h1m27 0h1m2 0h2m5 0h1m6 0h1m31 0h1m5 0h1m4 0h1m3 0h1m-67 1h1m1 0h1m7 0h1m3 0h2m2 0h1m3 0h1m9 0h1m13 0h1m10 0h1m18 0h1m10 0h1m6 0h1m11 0h1m6 0h1m7 0h1m-100 1h1m4 0h2m21 0h1m45 0h1m20 0h1m1 0h1m-112 1h1m3 0h1m8 0h1m6 0h1m5 0h1m3 0h1m14 0h1m1 0h1m2 0h1m5 0h1m21 0h1m5 0h1m5 0h1m14 0h1m2 0h1m-116 1h1m12 0h1m7 0h1m2 0h1m1 0h1m10 0h1m12 0h1m3 0h1m5 0h1m20 0h1m16 0h1m-99 1h1m7 0h2m5 0h1m15 0h1m5 0h1m6 0h1m12 0h1m24 0h2m21 0h2m2 0h1m-102 1h1m17 0h1m9 0h1m50 0h1m6 0h1m3 0h2m5 0h1m2 0h1m8 0h1m-117 1h1m1 0h1m3 0h1m15 0h1m3 0h1m2 0h1m12 0h1m12 0h2m35 0h1m-100 1h1m18 0h1m7 0h1m3 0h1m1 0h1m3 0h1m14 0h1m4 0h1m9 0h2m4 0h1m27 0h1m-102 1h1m9 0h1m3 0h1m5 0h2m2 0h1m39 0h1m1 0h1m5 0h1m14 0h1m10 0h1m21 0h1m1 0h1m-116 1h1m4 0h1m4 0h1m1 0h1m27 0h1m1 0h3m3 0h1m1 0h1m6 0h1m2 0h1m2 0h1m29 0h1m-111 1h1m12 0h1m1 0h1m8 0h1m2 0h1m4 0h1m5 0h1m9 0h1m4 0h1m17 0h1m5 0h1m11 0h1m12 0h1m2 0h1m30 0h1m-133 1h1m4 0h1m1 0h1m8 0h1m2 0h1m8 0h1m5 0h1m8 0h1m15 0h1m5 0h1m4 0h1m6 0h1m8 0h1m-84 1h1m15 0h1m4 0h1m16 0h1m5 0h1m22 0h1m9 0h1m13 0h1m19 0h1m-109 1h2m17 0h1m4 0h1m11 0h1m5 0h1m10 0h1m14 0h1m51 0h1m-127 1h1m24 0h2m15 0h1m2 0h1m10 0h1m10 0h1m11 0h1m-73 1h1m39 0h2m3 0h1m21 0h2m16 0h1m-85 1h1m23 0h1m5 0h1m4 0h1m23 0h3m8 0h1m2 0h1m15 0h1m26 0h1m-113 1h2m1 0h1m12 0h1m3 0h1m12 0h1m8 0h1m15 0h1m15 0h1m-73 1h1m11 0h1m5 0h1m8 0h1m10 0h1m1 0h2m14 0h1m11 0h1m-39 1h1m3 0h1m4 0h1m15 0h1m2 0h1m3 0h2m2 0h1m9 0h1m1 0h1m25 0h1m-111 1h1m3 0h1m24 0h1m9 0h2m8 0h1m22 0h1m4 0h1m10 0h1m-66 1h1m5 0h1m7 0h1m3 0h1m6 0h1m1 0h2m1 0h1m1 0h1m15 0h1m3 0h1m4 0h1m-88 1h1m7 0h1m22 0h1m15 0h1m3 0h1m5 0h1m6 0h1m22 0h2m-82 1h1m5 0h1m14 0h1m10 0h2m17 0h1m10 0h1m-58 1h1m29 0h1m6 0h1m30 0h1m6 0h1m1 0h1m-77 1h1m1 0h1m39 0h1m31 0h1m25 0h1m-105 1h1m4 0h1m30 0h1m4 0h2m3 0h1m1 0h1m4 0h1m38 0h1m-112 1h1m29 0h1m17 0h1m1 0h1m13 0h1m2 0h1m4 0h1m23 0h1m-75 1h1m7 0h1m7 0h1m12 0h2m8 0h1m1 0h1m24 0h1m3 0h1m6 0h1m8 0h1m-74 1h1m2 0h1m8 0h1m11 0h1m5 0h3m15 0h1m3 0h1m8 0h1m-71 1h2m7 0h1m10 0h1m4 0h1m3 0h1m5 0h1m30 0h1m-82 1h1m27 0h1m2 0h1m12 0h1m5 0h1m17 0h1m1 0h1m3 0h1m9 0h1m-62 1h1m8 0h2m12 0h1m14 0h1m7 0h1m4 0h1m2 0h1m18 0h1m-81 1h1m1 0h2m7 0h1m36 0h2m2 0h1m10 0h1m15 0h2m-69 1h1m1 0h2m1 0h1m19 0h1m13 0h1m-52 1h1m9 0h1m20 0h3m1 0h1m17 0h2m-4 1h1m15 2h1m-41 2h1m5 0h1m-37 2h1m10 0h1m7 0h1m-25 4h1"/><path stroke="#38598c" d="M164 9h1m-5 2h2m1 0h1m-13 1h1m-3 1h1m11 0h1m-14 1h1m4 0h1m2 0h1m4 0h1m19 0h1m-35 1h1m11 0h1m6 0h2m5 0h1m7 0h1m3 0h1m-27 1h1m17 0h1m5 0h1m1 0h1m-41 1h1m1 0h1m10 0h1m23 0h1m-21 1h1m20 0h1m-36 1h2m17 0h1m15 0h1m-42 1h1m41 0h1m-30 1h1m9 0h1m14 0h1m-37 1h1m8 0h1m24 0h1m6 0h1m-45 1h1m1 0h1m4 0h1m6 0h1m9 0h1m12 0h3m-35 1h1m39 0h1m-39 1h1m7 0h2m19 0h1m8 0h1m-52 1h1m47 0h1m4 0h1m-53 1h1m16 0h2m27 0h1m2 0h1m-48 1h1m9 0h1m9 0h1m29 0h1m-53 1h1m5 0h1m2 0h1m8 0h1m11 0h1m16 0h1m1 0h1m3 0h1m-45 1h1m1 0h1m8 1h1m25 0h1m6 0h1m-59 1h1m22 0h1m34 0h1m-57 1h1m40 0h1m-11 2h1m-37 1h1m-7 1h1m11 0h1m8 0h1m-22 1h2m4 0h1m2 0h1m-3 1h1m10 0h1m-12 1h1m9 0h1m33 0h1m-56 1h1m8 0h2m20 0h1m-11 1h2m6 0h1m4 0h1m5 0h1m29 0h1m-37 1h1m4 0h1m11 0h1m18 0h1m-72 1h1m10 0h1m15 0h1m26 0h1m-50 1h1m-4 1h1m28 0h1m-33 1h1m2 0h1m21 0h1m-24 1h1m3 0h1m48 1h1m-65 1h1m62 0h1m-62 1h1m5 0h1m10 0h1m27 0h1m2 0h1m2 0h1m28 0h1m-85 1h2m17 0h1m40 0h1m-55 1h1m16 0h1m3 0h1m15 0h2m1 0h2m-51 1h1m24 0h1m21 0h1m26 0h1m-76 1h1m42 0h1m12 0h1m-57 2h1m19 0h1m1 0h1m35 0h1m-54 1h1m1 0h1m6 0h1m6 0h1m8 0h1m-29 1h1m63 0h1m-120 1h2m67 0h1m49 0h1m-117 1h1m71 0h1m-23 1h1m53 0h1m-66 3h1m5 0h1m4 0h1m13 0h1m25 0h1m26 0h1m-81 1h1m4 0h1m8 0h1m-16 1h1m12 0h1m2 0h1m-53 1h1m31 0h1m17 0h1m2 0h1m74 0h1m-130 1h1m2 0h1m32 0h1m9 0h1m77 0h1m-73 1h1m54 0h1m1 0h1m19 0h1m-89 1h1m9 0h1m27 0h2m49 0h2m-97 1h1m10 0h1m63 0h1m-114 1h1m5 0h1m10 0h1m33 0h1m2 0h1m76 0h1m-115 1h1m17 0h1m12 0h1m11 0h1m-59 1h1m2 0h1m52 0h1m75 0h1m-83 1h1m32 0h1m24 0h1m-110 2h1m6 0h1m37 0h1m2 0h2m39 0h1m8 0h1m31 0h1m-170 1h1m42 0h1m93 0h1m33 0h1m-98 1h1m2 0h1m25 0h2m14 0h1m18 0h1m15 0h1m-113 1h1m41 0h1m27 0h1m25 0h1m-91 1h1m1 0h2m48 0h1m12 0h1m23 0h1m-62 1h1m-39 1h1m15 0h1m50 0h1m29 0h1m-77 1h1m33 0h2m42 0h1m-107 1h1m51 0h1m13 0h1m2 0h1m17 0h2m11 0h1m24 0h1m15 0h1m-176 1h1m32 0h1m54 0h1m12 0h1m12 0h1m17 0h1m41 0h1m-125 1h2m55 0h1m10 0h1m53 0h3m-150 1h3m44 0h1m19 1h1m5 0h1m-2 1h1m1 0h1m1 0h1m-1 1h1m20 0h2m39 0h1m15 0h1m-90 1h1m7 0h1m-11 1h1m3 0h1m1 0h3m30 0h1m-80 1h1m1 0h1m43 0h1m2 0h3m6 0h1m-101 1h1m45 0h1m2 0h1m31 0h1m11 0h1m-62 1h1m4 0h1m19 0h4m24 0h1m2 0h1m6 0h1m14 0h1m-68 1h1m40 0h1m11 0h1m18 0h1m4 0h1m-85 1h1m4 0h1m21 0h1m10 0h1m24 0h1m-66 1h1m14 0h1m1 0h1m9 0h1m31 0h1m5 0h1m-61 1h1m3 0h1m1 0h1m4 0h1m5 0h1m7 0h1m22 0h1m5 0h1m2 0h1m48 0h1m-94 1h1m7 0h1m17 0h1m16 0h1m1 0h1m21 0h1m-72 1h1m1 0h1m48 0h1m46 0h1m15 0h1m-131 1h1m2 0h1m1 0h1m2 0h1m9 0h1m14 0h1m31 0h1m19 0h1m-86 1h1m28 0h1m3 0h1m7 0h1m3 0h1m5 0h2m38 0h1m-85 1h1m1 0h1m2 0h2m23 0h1m34 0h1m6 0h1m52 0h1m-136 1h1m46 0h1m26 0h1m3 0h1m2 0h1m-66 1h1m5 0h1m8 0h1m5 0h1m7 0h1m16 0h1m6 0h1m8 0h1m9 0h1m8 0h1m7 0h1m27 0h1m-158 1h1m45 0h1m3 0h1m6 0h1m1 0h1m4 0h2m2 0h1m18 0h1m21 0h2m6 0h1m12 0h1m13 0h1m3 0h1m-114 1h1m19 0h1m1 0h1m4 0h1m21 0h1m13 0h1m56 0h1m-126 1h1m1 0h1m20 0h1m7 0h2m9 0h1m42 0h1m6 0h1m8 0h1m-102 1h1m3 0h1m35 0h1m7 0h1m3 0h1m16 0h1m21 0h1m2 0h1m-97 1h1m27 0h1m3 0h1m7 0h1m9 0h1m21 0h1m12 0h1m3 0h1m13 0h1m5 0h1m-101 1h1m2 0h1m19 0h1m4 0h1m30 0h1m4 0h1m21 0h1m28 0h2m-125 1h1m6 0h1m1 0h1m3 0h1m4 0h1m4 0h2m2 0h1m7 0h2m6 0h1m6 0h1m5 0h1m6 0h1m9 0h1m24 0h1m10 0h1m-107 1h1m29 0h2m3 0h1m6 0h1m22 0h1m16 0h1m9 0h1m13 0h1m-115 1h1m23 0h1m53 0h1m10 0h1m31 0h1m-126 1h1m20 0h1m7 0h1m2 0h2m33 0h1m4 0h2m7 0h1m11 0h1m13 0h1m-108 1h1m1 0h1m7 0h1m8 0h1m10 0h1m9 0h1m5 0h1m1 0h1m3 0h1m6 0h1m1 0h1m40 0h1m-106 1h1m3 0h1m3 0h2m14 0h1m6 0h1m4 0h1m7 0h1m3 0h1m5 0h1m11 0h1m32 0h1m3 0h1m3 0h1m-111 1h1m2 0h1m22 0h1m1 0h2m9 0h1m14 0h1m1 0h1m4 0h1m5 0h1m10 0h1m-77 1h1m7 0h1m19 0h1m7 0h1m6 0h1m5 0h1m12 0h1m6 0h1m5 0h1m-73 1h1m6 0h1m16 0h1m4 0h1m24 0h1m7 0h1m2 0h1m2 0h2m7 0h1m25 0h1m11 0h1m-109 1h1m6 0h1m14 0h1m2 0h1m7 0h2m9 0h1m11 0h1m13 0h1m1 0h1m38 0h2m-107 1h1m16 0h1m13 0h1m5 0h1m16 0h2m2 0h1m1 0h1m27 0h1m-99 1h1m18 0h1m23 0h1m6 0h1m27 0h1m1 0h1m15 0h1m-106 1h1m12 0h2m10 0h1m14 0h1m10 0h3m11 0h1m3 0h1m5 0h1m7 0h1m7 0h1m32 0h1m-84 1h1m3 0h1m5 0h1m1 0h1m2 0h1m15 0h2m12 0h2m1 0h1m-82 1h1m21 0h1m2 0h1m24 0h1m13 0h2m9 0h1m6 0h1m1 0h1m3 0h1m-90 1h1m4 0h1m33 0h1m19 0h2m4 0h1m6 0h1m-65 1h1m6 0h1m6 0h1m10 0h1m16 0h1m12 0h1m-23 1h1m11 0h1m12 0h2m12 0h1m-50 1h1m11 0h2m14 0h1m15 0h1m4 0h2m6 0h1m-82 1h1m61 0h1m6 0h1m8 0h1m-94 1h1m55 0h1m1 0h1m3 0h2m14 0h1m8 0h1m-38 1h1m21 0h1m20 0h1m-59 1h1m1 0h1m6 0h1m21 0h1m24 0h1m-99 1h1m39 0h1m8 0h1m11 0h1m7 0h1m3 0h1m22 0h1m-86 1h1m25 0h1m22 0h1m2 0h1m5 0h1m5 0h1m21 0h1m-95 1h1m48 0h1m12 0h1m18 0h2m6 0h1m-85 1h1m19 0h1m5 0h1m11 0h1m7 0h1m6 0h1m4 0h1m7 0h2m14 0h1m-56 1h1m4 0h1m4 0h1m2 0h1m1 0h1m9 0h1m14 0h1m6 0h1m6 0h2m5 0h1m-37 1h1m3 0h1m9 0h1m10 0h1m1 0h1m6 0h1m3 0h1m-60 1h2m27 0h2m7 0h1m1 0h1m7 0h1m2 0h1m13 0h1m-84 1h1m54 0h1m16 1h1m-86 2h1m-2 1h1m30 0h1m4 0h1m-21 1h1m21 0h1m17 0h1m-41 1h1m14 0h1m-23 1h1m30 0h1m-31 1h1m13 1h1m8 0h1"/><path stroke="#31668e" d="M166 9h1m-1 2h1m-11 1h1m-7 1h1m2 0h1m11 0h1m-17 1h1m4 0h1m8 0h1m4 0h2m2 0h1m-20 1h1m1 0h1m14 0h1m-25 1h1m11 0h1m7 0h1m12 0h1m1 0h2m-37 1h1m25 0h2m3 0h1m-30 1h2m7 0h1m6 0h1m-21 1h1m6 0h1m8 0h2m-22 1h1m16 0h1m-18 1h1m1 0h1m13 0h1m1 0h1m3 0h1m6 0h1m9 0h1m1 0h1m1 0h1m-43 1h1m6 0h1m9 0h1m15 0h1m-36 1h1m24 0h1m1 0h1m18 0h1m-52 1h1m6 0h2m13 0h2m23 0h1m2 0h1m-51 1h1m8 0h1m6 0h1m4 0h1m2 0h1m4 0h1m-18 1h1m1 0h1m4 0h1m23 0h1m6 0h1m-54 1h1m3 0h1m3 0h1m6 0h1m2 0h1m6 0h1m24 0h1m-37 1h1m3 0h1m32 0h1m3 0h1m-38 1h1m1 0h1m-12 1h2m23 0h1m16 0h1m2 0h1m-47 1h1m10 0h1m1 0h1m12 0h1m24 0h1m-38 1h1m36 0h1m-59 1h1m18 0h1m37 0h1m1 0h2m-64 1h1m23 0h1m14 0h1m-36 1h1m46 0h1m-54 1h1m6 0h1m29 0h1m-37 1h1m4 0h1m32 0h1m2 0h1m-36 1h1m4 0h1m-19 1h1m14 0h1m1 0h1m-17 1h1m2 0h1m1 0h2m8 0h1m25 0h1m-45 1h1m16 0h1m5 0h1m11 0h1m12 0h1m5 0h2m-56 1h2m4 0h1m33 0h1m7 0h1m1 0h1m4 0h1m-49 2h1m52 0h1m-61 1h1m39 0h1m1 0h2m-46 2h1m17 0h1m-21 2h1m16 0h1m1 0h1m-25 1h3m12 0h1m13 0h1m29 0h1m-74 1h1m2 0h1m18 0h1m4 0h1m15 0h1m21 0h1m9 0h1m6 0h1m-84 1h1m4 0h1m7 0h1m3 0h1m3 0h1m34 0h1m7 0h1m-41 1h1m1 0h1m-12 1h1m4 0h1m10 0h1m32 0h1m-52 1h1m15 0h1m35 0h1m6 0h2m6 1h1m-71 1h1m12 0h1m27 0h1m-40 1h1m15 0h1m22 0h1m23 1h1m-60 1h1m-7 1h1m9 0h1m13 0h1m-14 1h1m9 1h1m-4 1h1m47 0h1m5 0h1m-78 1h1m2 0h1m-54 1h1m5 0h1m32 0h1m9 0h1m-50 1h1m46 0h1m4 0h1m57 0h1m1 0h1m-73 1h1m4 0h1m49 0h1m15 0h1m-106 1h1m38 0h1m1 0h1m31 0h1m15 0h1m34 0h1m-124 1h1m41 0h1m1 0h1m5 0h1m5 0h1m46 0h1m13 0h1m-90 1h1m42 0h1m-77 1h2m69 0h1m56 0h1m1 0h1m-124 1h1m3 0h1m32 0h1m35 0h1m-11 1h1m10 0h1m36 0h1m14 0h1m-130 1h1m1 0h1m29 0h1m13 0h1m15 0h1m15 0h1m40 0h1m6 0h1m-132 1h1m93 0h1m13 0h1m-112 1h1m3 0h1m6 0h1m4 0h1m36 0h1m25 0h1m18 0h1m8 0h1m-105 1h1m2 0h1m4 0h1m27 0h1m20 0h1m36 0h1m15 0h1m-103 1h1m45 0h1m3 0h1m1 0h1m-103 1h1m42 0h1m3 0h1m47 0h1m2 0h1m1 0h2m5 0h1m-65 1h1m33 0h1m2 0h1m7 0h1m35 0h1m12 0h1m34 0h1m-131 1h1m10 0h1m25 0h1m51 0h1m-133 1h2m97 0h1m19 0h1m33 0h1m-108 1h1m100 0h1m-86 1h1m23 0h2m10 0h1m4 0h1m-8 1h1m57 0h1m-41 1h1m4 0h1m-73 1h1m48 0h1m-70 1h2m66 0h1m9 0h1m8 0h1m-10 1h1m-33 1h1m13 0h1m3 0h1m69 0h1m-71 1h2m2 0h1m20 0h1m-25 1h1m9 0h1m2 0h2m9 0h1m57 0h1m-76 1h1m1 0h1m17 1h1m38 0h1m-113 1h1m45 0h1m1 0h1m7 0h1m13 0h1m-75 1h1m2 0h1m49 0h1m2 0h1m4 0h1m-68 1h1m8 0h1m4 0h1m1 0h1m2 0h1m9 0h1m6 0h1m22 0h2m2 0h1m73 0h1m-133 1h1m15 0h1m32 0h1m7 0h1m17 0h1m-81 1h1m4 0h1m7 0h2m10 0h1m1 0h1m19 0h1m5 0h1m8 0h1m1 0h1m-51 1h1m23 0h1m5 0h1m1 0h1m19 0h1m-66 1h1m6 0h1m21 0h1m35 0h2m2 0h1m11 0h1m-69 1h1m13 0h1m28 0h1m7 0h2m1 0h1m60 0h1m-129 1h1m2 0h1m1 0h1m5 0h1m2 0h2m3 0h5m1 0h1m2 0h1m10 0h1m6 0h1m2 0h1m5 0h1m1 0h1m9 0h1m1 0h1m-100 1h1m29 0h1m16 0h2m2 0h1m3 0h1m1 0h1m3 0h1m5 0h1m11 0h1m3 0h1m6 0h2m4 0h1m3 0h1m61 0h1m-119 1h1m1 0h3m5 0h1m2 0h1m3 0h1m5 0h1m6 0h2m6 0h1m3 0h1m16 0h1m32 0h1m23 0h1m-129 1h1m6 0h1m3 0h1m2 0h2m7 0h1m6 0h2m45 0h1m-81 1h1m13 0h1m10 0h1m6 0h1m2 0h1m27 0h2m23 0h1m15 0h2m9 0h1m-113 1h1m7 0h1m34 0h1m1 0h2m34 0h1m24 0h1m18 0h2m-110 1h1m12 0h1m3 0h2m2 0h1m8 0h1m9 0h1m2 0h1m8 0h2m2 0h1m3 0h1m1 0h1m9 0h1m12 0h1m4 0h1m1 0h1m-98 1h1m2 0h1m22 0h2m4 0h1m5 0h1m4 0h1m2 0h2m5 0h1m6 0h1m24 0h1m18 0h1m-110 1h1m3 0h1m2 0h1m2 0h1m10 0h1m2 0h1m4 0h1m1 0h1m29 0h1m8 0h1m21 0h1m2 0h2m2 0h1m-107 1h2m21 0h1m11 0h1m30 0h1m51 0h1m-110 1h1m12 0h1m5 0h1m11 0h1m4 0h1m1 0h1m6 0h1m1 0h1m1 0h1m8 0h1m7 0h1m3 0h1m5 0h1m1 0h1m25 0h1m-112 1h1m25 0h1m3 0h2m3 0h1m1 0h1m19 0h1m3 0h1m7 0h1m1 0h1m8 0h1m1 0h1m11 0h1m20 0h1m-143 1h1m16 0h1m16 0h1m1 0h1m1 0h1m6 0h1m45 0h1m5 0h2m5 0h1m3 0h1m2 0h3m1 0h1m22 0h1m-106 1h2m15 0h1m6 0h1m11 0h1m6 0h1m2 0h1m4 0h1m15 0h1m10 0h1m-95 1h1m14 0h1m12 0h2m2 0h1m47 0h1m6 0h1m7 0h1m24 0h1m-133 1h1m6 0h1m5 0h1m1 0h1m7 0h1m7 0h1m11 0h1m23 0h1m6 0h1m6 0h1m3 0h1m5 0h1m7 0h1m4 0h1m19 0h1m-116 1h1m13 0h1m6 0h1m14 0h3m9 0h2m19 0h1m2 0h1m14 0h1m2 0h1m11 0h1m21 0h1m-80 1h1m1 0h2m3 0h1m1 0h1m3 0h1m2 0h1m10 0h1m4 0h1m21 0h4m-69 1h1m13 0h1m20 0h1m3 0h1m3 0h1m6 0h1m17 0h1m-111 1h1m10 0h1m2 0h1m4 0h1m1 0h1m12 0h2m15 0h1m26 0h1m41 0h1m-75 1h1m10 0h1m43 0h1m5 0h1m-95 1h1m16 0h1m18 0h2m14 0h1m17 0h2m7 0h1m1 0h2m-84 1h1m27 0h1m1 0h1m9 0h1m6 0h1m17 0h2m5 0h1m29 0h2m-88 1h1m4 0h1m41 0h1m7 0h1m6 0h1m10 0h1m-92 1h1m26 0h1m11 0h1m4 0h1m8 0h1m14 0h1m4 0h1m6 0h1m7 0h1m9 0h1m-105 1h1m12 0h1m13 0h1m58 0h1m2 0h1m1 0h1m3 0h1m-97 1h1m6 0h1m8 0h1m10 0h1m35 0h1m27 0h1m1 0h1m-94 1h1m10 0h1m34 0h1m3 0h2m5 0h1m9 0h1m10 0h1m1 0h1m3 0h1m8 0h1m25 0h1m-75 1h1m4 0h1m10 0h1m18 0h1m10 0h1m-88 1h1m3 0h1m7 0h1m39 0h1m2 0h1m15 0h1m-68 1h1m32 0h1m4 0h1m16 0h1m10 0h1m12 0h1m28 0h1m-100 1h1m57 0h1m5 0h1m5 0h1m2 0h1m-97 1h1m22 0h1m31 0h1m12 0h1m17 0h1m-68 1h1m1 0h1m2 0h1m15 0h1m5 0h1m13 0h1m1 0h1m8 0h1m17 0h1m-89 1h1m73 0h1m13 0h1m-74 1h1m18 0h1m33 0h1m12 0h1m8 0h1m3 0h1m13 0h1m-104 1h1m17 0h1m21 0h1m33 0h1m-55 1h1m7 0h1m2 0h1m22 0h1m18 0h1m1 0h1m-81 1h1m44 0h1m42 0h1m1 0h1m-87 1h1m30 0h1m9 0h1m22 0h1m7 0h1m5 0h1m-61 1h1m3 0h1m2 0h1m1 0h1m1 0h1m6 0h1m19 0h2m7 0h1m1 0h2m6 0h1m7 0h1m-70 1h1m73 1h1m3 0h1m-93 3h2m39 0h1m10 0h1m-24 1h1m-27 1h1m22 0h1m10 0h1m34 1h1m-52 1h1m-12 3h3"/><path stroke="#2c728e" d="M159 9h2m1 2h1m0 1h1m3 0h1m-16 1h1m6 0h1m6 0h1m1 0h2m1 0h1m-21 1h1m30 0h1m-26 1h1m5 0h1m20 0h1m-40 1h1m15 0h1m21 1h1m-38 1h1m11 0h1m4 0h1m12 0h1m3 0h1m-34 1h1m-5 1h1m20 0h1m3 0h1m12 0h1m-23 1h1m-18 1h1m17 0h1m1 0h1m2 0h3m11 0h1m-45 1h1m20 0h1m3 0h1m1 0h1m18 0h1m4 0h1m-50 1h2m1 0h1m7 0h1m4 0h2m15 0h1m-29 1h1m36 0h1m-42 1h1m4 0h1m14 0h2m4 0h1m20 0h2m-54 1h2m3 0h1m3 0h1m1 0h2m2 0h1m6 0h1m-12 1h1m5 0h1m5 0h1m12 0h1m15 0h1m-38 1h1m33 0h1m5 0h1m-53 1h1m1 0h1m7 0h1m8 0h1m8 0h1m11 0h1m-42 1h1m11 0h1m7 0h1m5 0h1m15 0h1m13 0h1m-41 1h1m39 0h1m-46 1h1m15 0h1m-29 1h1m13 0h1m3 0h1m2 0h1m33 0h2m-63 1h1m3 0h1m9 0h1m16 0h2m-30 1h1m15 1h1m7 0h1m9 0h1m1 0h1m21 0h1m-63 1h1m15 0h1m22 0h1m7 0h1m15 0h1m-72 1h1m2 0h1m25 0h1m-29 1h1m5 0h1m32 0h1m10 1h2m18 0h1m1 0h1m-33 1h1m9 0h1m-46 1h1m41 0h1m3 0h1m17 0h1m-74 1h1m3 0h1m6 0h1m42 0h1m-53 1h1m6 0h1m34 0h1m16 0h1m-60 1h1m22 0h1m-24 1h1m2 0h1m-5 1h1m3 0h1m48 0h1m5 0h1m-57 1h1m3 0h1m10 0h1m48 0h1m-76 1h1m4 0h1m8 0h1m-23 1h1m1 0h1m2 0h1m24 0h1m-33 1h1m18 0h1m33 0h1m1 0h1m-49 1h2m2 0h1m6 0h2m4 0h1m23 0h1m2 1h1m13 0h1m13 0h1m-72 1h1m14 0h1m1 1h1m35 0h1m11 0h1m-73 2h1m68 1h1m-54 1h1m12 0h1m-80 2h1m74 0h1m51 1h1m-54 1h1m15 0h1m3 0h1m-50 1h1m17 0h2m-60 1h1m40 0h1m4 0h1m42 0h1m-56 1h2m4 0h1m21 0h1m61 0h1m-78 1h1m15 0h1m-27 1h1m-3 1h2m5 0h1m10 0h1m22 0h1m13 0h1m18 0h1m23 0h1m-102 1h2m1 0h1m1 0h1m6 0h1m14 0h1m7 0h1m56 0h1m16 0h1m-150 1h1m8 0h1m32 0h1m7 0h2m23 0h1m7 0h1m50 0h1m1 0h1m3 0h1m-137 1h2m36 0h1m67 0h1m3 0h1m1 0h1m-104 1h1m1 0h1m25 0h1m14 0h1m31 0h1m24 0h1m37 0h1m-152 1h1m7 0h1m105 0h1m12 0h1m18 0h1m-141 1h1m92 0h1m7 0h1m9 0h1m28 0h1m-32 1h1m-59 1h2m20 0h1m11 0h1m19 0h1m-105 1h2m29 0h1m24 0h1m45 0h1m-73 1h1m13 0h1m1 0h1m56 0h1m1 0h1m4 0h1m21 0h1m-130 1h1m38 0h1m13 0h1m16 0h2m19 0h1m5 0h1m30 0h1m-138 1h1m6 0h1m30 0h1m14 0h1m30 0h1m-126 1h1m58 0h1m79 0h1m-87 1h1m35 0h1m5 0h1m1 0h1m4 0h1m31 0h1m10 0h1m32 0h1m-88 1h2m10 0h1m23 0h1m21 0h1m13 0h1m-154 1h1m125 0h1m2 0h1m31 0h1m-86 1h1m48 0h1m-51 1h1m12 0h1m-72 1h1m62 0h1m2 0h1m36 0h1m38 0h1m-71 1h1m3 0h1m21 0h1m7 0h1m-44 1h1m16 0h1m2 0h1m16 0h1m47 0h1m-77 1h1m-97 1h1m87 0h1m7 0h2m3 0h1m6 0h1m-108 1h1m93 0h2m25 0h1m-56 1h1m47 0h1m44 0h1m-68 1h1m21 0h1m39 0h1m-154 1h1m48 0h1m3 0h2m29 0h1m8 0h1m9 0h1m-66 1h1m5 0h1m11 0h1m13 0h1m22 0h1m3 0h2m1 0h1m-100 1h1m38 0h1m4 0h1m9 0h1m1 0h1m37 0h1m17 0h2m-67 1h1m27 0h1m29 0h1m13 0h1m-88 1h1m1 0h1m46 0h1m1 0h1m4 0h1m16 0h1m11 0h1m-85 1h1m7 0h1m4 0h1m25 0h1m5 0h1m1 0h1m9 0h1m8 0h1m12 0h1m46 0h2m-130 1h4m9 0h1m10 0h1m24 0h1m-48 1h1m6 0h1m18 0h1m32 0h1m4 0h1m51 0h1m-120 1h1m14 0h1m12 0h1m11 0h1m13 0h1m12 0h1m15 0h1m41 0h1m-121 1h1m1 0h1m20 0h1m11 0h1m9 0h1m28 0h1m1 0h1m10 0h1m-86 1h1m24 0h1m17 0h1m7 0h1m2 0h1m15 0h1m11 0h1m16 0h1m2 0h1m10 0h1m11 0h1m-122 1h1m1 0h1m64 0h1m2 0h1m29 0h1m6 0h1m-108 1h1m17 0h1m32 0h1m3 0h1m15 0h1m9 0h2m17 0h1m-93 1h1m3 0h1m23 0h1m5 0h2m4 0h2m1 0h1m2 0h1m14 0h1m4 0h1m1 0h1m4 0h1m1 0h1m6 0h1m5 0h1m2 0h1m1 0h1m-82 1h1m8 0h2m68 0h1m6 0h1m8 0h1m-111 1h2m15 0h1m12 0h1m3 0h1m3 0h1m7 0h1m6 0h1m5 0h1m12 0h1m1 0h1m2 0h1m6 0h1m1 0h1m6 0h1m12 0h1m-92 1h1m11 0h1m27 0h1m1 0h1m3 0h1m7 0h1m3 0h1m18 0h1m-80 1h1m13 0h1m8 0h1m23 0h1m16 0h1m16 0h1m-94 1h1m17 0h1m12 0h1m2 0h1m10 0h1m5 0h1m9 0h1m4 0h1m5 0h1m2 0h1m22 0h1m-138 1h1m18 0h1m13 0h1m31 0h1m5 0h1m34 0h1m12 0h1m-119 1h1m17 0h1m20 0h1m2 0h1m8 0h3m1 0h1m9 0h1m9 0h1m10 0h1m4 0h1m2 0h2m16 0h1m-94 1h1m32 0h1m16 0h1m4 0h1m1 0h1m21 0h1m7 0h2m7 0h1m1 0h1m26 0h1m-132 1h1m13 0h1m3 0h1m25 0h1m4 0h1m25 0h1m17 0h1m5 0h1m2 0h1m2 0h2m12 0h1m6 0h1m-127 1h1m17 0h1m5 0h1m26 0h2m2 0h1m13 0h1m6 0h1m12 0h1m6 0h2m6 0h1m2 0h1m1 0h1m-108 1h1m17 0h1m61 0h1m1 0h1m21 0h1m-107 1h1m52 0h2m4 0h1m34 0h1m5 0h1m-92 1h1m8 0h1m27 0h2m14 0h1m11 0h1m26 0h1m18 0h1m-109 1h2m20 0h1m23 0h1m3 0h1m4 0h1m11 0h1m6 0h1m1 0h1m9 0h2m1 0h1m11 0h1m-114 1h1m3 0h1m50 0h1m7 0h1m7 0h1m17 0h1m1 0h1m-86 1h1m43 0h1m9 0h1m12 0h1m14 0h1m-48 1h1m15 0h1m4 0h1m11 0h1m2 0h1m6 0h1m3 0h1m1 0h1m-99 1h1m5 0h1m2 0h2m4 0h1m12 0h1m3 0h1m19 0h1m33 0h1m11 0h1m1 0h1m1 0h1m15 0h1m3 0h1m-113 1h1m13 0h1m25 0h1m18 0h1m3 0h1m4 0h1m2 0h1m2 0h1m4 0h1m-85 1h1m20 0h2m7 0h1m10 0h1m4 0h1m5 0h1m36 0h1m-90 1h1m43 0h1m2 0h1m6 0h1m8 0h1m16 0h2m3 0h1m4 0h1m-81 1h1m36 0h1m20 0h1m7 0h1m3 0h1m5 0h1m4 0h2m-47 1h1m24 0h1m12 0h1m31 0h1m-108 1h1m3 0h1m23 0h1m6 0h1m1 0h1m8 0h1m4 0h1m17 0h1m1 0h1m-42 1h1m5 0h1m11 0h1m4 0h1m18 0h3m8 0h1m-49 1h1m7 0h1m9 0h1m-65 1h1m8 0h2m42 0h1m13 0h1m2 0h1m3 0h1m2 0h1m-62 1h1m28 0h1m17 0h1m23 0h1m2 0h1m13 0h1m-111 1h1m1 0h1m7 0h1m16 0h1m36 0h1m13 0h1m8 0h2m9 0h1m12 0h1m-86 1h1m6 0h1m33 0h2m5 0h2m20 0h1m2 0h1m-99 1h1m22 0h2m37 0h1m6 0h1m3 0h1m1 0h1m4 0h1m28 0h1m-105 1h1m28 0h1m16 0h1m2 0h1m3 0h1m16 0h1m14 0h1m-67 1h1m2 0h1m1 0h1m1 0h1m12 0h1m19 0h1m7 0h1m13 0h1m1 0h1m-61 1h1m4 0h1m18 0h1m6 0h1m32 0h1m-23 1h1m6 0h1m23 0h1m-11 1h1m-45 3h1m-12 1h1m-12 2h1m4 0h1m-15 5h1"/><path stroke="#277e8e" d="M156 9h1m18 0h1m-12 1h2m3 0h1m-13 2h1m3 0h1m-6 1h1m24 0h1m2 0h1m-33 1h1m17 0h1m9 0h1m4 0h1m-32 1h1m10 0h1m1 1h1m-24 1h1m17 0h1m8 0h1m9 0h1m-30 1h1m6 0h1m5 0h1m15 0h1m-29 1h1m2 0h1m1 0h1m13 1h1m9 0h1m-39 1h1m29 0h1m7 1h1m-41 1h1m4 0h1m13 0h1m1 0h1m20 0h1m-46 1h1m3 0h1m30 0h1m-40 1h2m8 0h1m6 0h1m11 0h3m-34 1h1m10 0h1m31 0h1m-9 1h1m-36 1h2m2 0h1m5 0h1m9 0h3m9 0h1m18 0h1m4 0h1m-58 1h1m48 0h1m4 0h1m-53 1h1m17 0h1m-15 1h1m12 0h1m2 0h1m11 0h1m17 0h1m2 0h1m-54 1h1m25 0h1m-24 1h1m1 0h1m10 0h1m10 0h1m7 0h1m16 0h1m-20 1h1m12 0h1m4 0h1m-60 1h1m7 0h2m2 0h1m16 0h1m1 1h2m1 0h1m2 0h1m5 0h1m-21 1h1m24 0h1m-55 1h1m40 0h1m5 0h1m4 0h1m4 0h1m-47 1h1m33 0h2m-2 1h1m2 0h1m-29 1h1m18 0h1m3 0h1m11 0h1m-59 1h1m6 0h1m7 0h1m40 0h1m-54 1h2m40 1h1m5 0h2m-29 1h1m24 0h1m-50 1h1m6 0h1m10 0h1m25 0h1m8 0h1m-51 1h1m5 0h1m33 0h1m7 0h1m-35 1h1m24 0h1m18 0h1m-83 1h2m23 0h1m3 0h1m57 0h1m-66 1h1m59 0h1m-51 1h1m4 0h1m38 0h1m-64 1h1m3 0h1m11 0h1m1 0h1m-28 1h1m23 0h1m46 0h1m7 0h1m-76 1h1m43 0h1m26 0h1m-65 1h1m11 0h1m3 0h1m48 0h1m2 0h1m-64 1h1m2 0h1m2 0h1m-15 1h2m18 0h2m-3 1h1m-22 2h1m8 0h1m-13 2h1m23 0h1m1 0h2m-83 1h1m82 0h2m14 0h1m-9 1h1m3 0h1m-42 1h1m73 0h1m-124 1h2m2 0h1m77 0h1m17 0h1m-105 1h1m46 0h1m2 0h1m13 0h1m47 0h1m3 0h1m27 0h1m-144 1h1m2 0h1m46 0h1m2 0h1m42 0h1m-47 1h1m3 0h1m7 0h1m77 0h1m-103 1h1m14 0h2m42 0h1m15 0h1m2 0h1m-118 1h1m2 0h1m3 0h1m37 0h1m69 0h1m10 0h1m-128 1h1m50 0h2m1 0h1m53 0h1m-102 1h1m32 0h1m8 0h1m8 0h1m49 0h1m-108 1h1m2 0h1m3 0h2m3 0h1m25 0h1m3 0h1m-44 1h1m2 0h1m68 0h1m36 0h1m27 0h1m-139 1h3m4 0h2m2 0h1m123 0h1m-136 1h1m6 0h1m10 0h1m36 0h1m6 0h1m5 0h1m43 0h1m-113 1h1m17 0h1m23 0h1m19 0h1m1 0h1m3 0h1m20 0h1m-127 1h1m45 0h1m6 0h1m36 0h1m13 0h1m32 0h1m10 0h1m-63 1h1m14 0h1m31 0h1m4 0h1m29 0h1m11 0h1m-143 1h1m7 0h1m2 0h1m1 0h1m3 0h1m28 0h1m10 0h1m1 0h1m4 0h2m4 0h1m15 0h1m41 0h1m-127 1h1m7 0h1m58 0h1m7 0h1m5 0h1m10 0h1m-137 1h1m44 0h1m1 0h1m5 0h1m5 0h1m38 0h1m37 0h2m7 0h1m19 0h1m-71 1h1m6 0h1m7 0h1m25 0h1m3 0h1m-47 1h1m44 0h1m1 0h1m5 0h1m1 0h1m16 0h1m13 0h1m5 0h1m-99 1h1m6 0h1m3 0h1m38 0h1m12 0h1m26 0h1m-88 1h1m30 0h1m15 0h1m28 0h1m-151 1h1m49 0h1m23 0h1m2 0h1m21 0h1m16 0h1m43 0h1m-177 1h1m84 0h1m3 0h1m2 0h1m23 0h1m53 0h1m4 0h1m-83 1h1m19 0h1m60 1h1m-80 1h1m5 0h1m75 1h1m-72 1h1m68 0h2m-90 1h1m4 0h1m4 1h1m1 0h1m4 0h1m17 0h1m-83 2h1m33 0h1m15 0h1m-48 1h1m15 0h1m29 0h1m12 0h2m-55 1h1m7 0h1m13 0h1m11 0h1m21 0h1m14 0h1m-82 1h1m9 0h1m16 0h1m5 0h1m84 0h1m7 0h2m-160 1h1m29 0h1m41 0h1m10 0h1m8 0h1m6 0h1m9 0h1m-110 1h1m46 0h1m8 0h2m2 0h1m11 0h1m20 0h1m5 0h1m11 0h1m-112 1h2m45 0h1m9 0h1m3 0h1m21 0h1m15 0h1m59 0h1m-128 1h1m2 0h1m9 0h2m6 0h1m25 0h1m10 0h1m8 0h1m5 0h1m3 0h1m50 0h1m-115 1h1m19 0h1m5 0h1m1 0h1m15 0h1m16 0h1m8 0h1m17 0h1m19 0h1m-88 1h1m25 0h1m17 0h1m8 0h1m15 0h1m4 0h1m-73 1h3m26 0h1m10 0h1m2 0h1m3 0h1m6 0h1m12 0h1m15 0h1m-105 1h1m7 0h1m12 0h1m24 0h1m14 0h2m8 0h1m-116 1h1m56 0h2m36 0h1m5 0h1m11 0h1m1 0h1m17 0h2m4 0h1m6 0h1m-119 1h1m3 0h1m5 0h1m3 0h1m38 0h2m7 0h1m7 0h1m1 0h1m7 0h1m20 0h1m-86 1h1m11 0h1m15 0h1m16 0h1m5 0h1m5 0h1m2 0h1m4 0h1m1 0h1m21 0h1m2 0h1m8 0h1m-109 1h2m4 0h1m7 0h1m23 0h1m6 0h1m1 0h1m16 0h1m3 0h2m6 0h1m5 0h1m14 0h1m2 0h1m-98 1h1m32 0h1m7 0h1m7 0h1m8 0h1m10 0h1m1 0h1m11 0h1m26 0h1m-148 1h1m68 0h1m4 0h1m11 0h1m8 0h1m13 0h1m32 0h1m1 0h1m-107 1h1m27 0h1m12 0h1m11 0h1m4 0h1m20 0h1m3 0h1m15 0h1m-122 1h1m69 0h1m1 0h1m21 0h1m-97 1h1m16 0h1m23 0h1m13 0h1m16 0h1m5 0h1m3 0h1m23 0h1m-83 1h1m13 0h2m27 0h1m3 0h1m4 0h1m24 0h1m10 0h1m9 0h1m7 0h1m-104 1h1m30 0h1m12 0h1m10 0h1m4 0h1m2 0h1m1 0h1m2 0h1m9 0h1m-91 1h1m2 0h1m60 0h1m7 0h1m25 0h1m2 0h1m-116 1h1m11 0h1m7 0h1m6 0h1m13 0h2m18 0h2m2 0h1m15 0h1m8 0h1m23 0h1m-124 1h1m22 0h1m38 0h1m25 0h1m2 0h1m4 0h1m5 0h1m2 0h1m1 0h2m11 0h1m-121 1h1m12 0h1m3 0h1m14 0h1m18 0h1m33 0h1m39 0h1m-123 1h1m28 0h1m65 0h1m1 0h1m2 0h1m-96 1h1m1 0h2m58 0h1m12 0h2m16 0h1m4 0h1m3 0h2m-111 1h1m64 0h1m4 0h1m8 0h1m2 0h1m6 0h1m10 0h1m12 0h1m13 0h1m-117 1h1m7 0h1m48 0h1m2 0h1m7 0h1m7 0h1m5 0h1m13 0h1m-78 1h1m38 0h1m16 0h2m31 0h1m-115 1h1m67 0h1m1 0h3m6 0h1m3 0h1m8 0h1m24 0h1m-123 1h1m9 0h1m53 0h1m3 0h1m7 0h1m9 0h1m-31 1h1m10 0h1m1 0h1m1 0h1m9 0h1m3 0h2m1 0h1m2 0h1m-94 1h1m11 0h1m33 0h1m15 0h1m4 0h1m5 0h2m13 0h1m4 0h1m3 0h1m-102 1h2m11 0h1m11 0h1m32 0h1m8 0h1m3 0h1m5 0h1m4 0h1m3 0h1m2 0h1m-90 1h1m15 0h1m36 0h1m17 0h1m23 0h1m-88 1h1m61 0h1m3 0h1m16 0h2m1 0h1m9 0h1m5 0h1m-111 1h1m1 0h1m65 0h2m9 0h1m3 0h1m-75 1h1m15 0h1m39 0h1m24 0h2m-89 1h1m29 0h1m43 0h1m1 0h1m-70 1h1m15 0h1m9 0h1m14 0h1m1 0h1m13 0h1m3 0h1m6 0h1m33 0h1m1 0h1m-63 1h1m3 0h1m39 0h1m-65 1h1m3 0h1m47 0h1m-3 1h1m1 0h1m8 0h1m-51 1h1m3 0h1m8 0h1m-28 1h1m44 0h1m25 0h1m-89 1h1m1 3h1m25 0h1m5 0h1m43 0h1m-61 1h1m10 0h1m-14 1h2m51 0h1m-71 1h1m28 1h1m-5 1h1m-13 4h1"/><path stroke="#238a8d" d="M162 7h1m1 0h1m-2 1h1m18 1h1m-23 1h1m10 0h1m9 1h1m1 0h1m-32 1h1m15 0h1m11 1h1m4 0h1m-28 1h1m17 0h1m6 0h1m-40 2h1m3 0h2m2 0h1m4 0h1m7 0h1m-11 1h1m1 0h1m-5 1h1m-12 1h1m38 0h1m-3 1h1m5 1h1m-48 1h1m4 0h1m13 0h1m19 0h1m-19 1h1m11 0h1m10 0h1m-19 1h1m1 0h1m4 0h1m10 0h1m2 0h1m-53 1h1m5 0h1m20 0h1m20 0h2m-36 1h1m4 0h1m28 0h2m-25 1h1m27 0h1m1 0h2m-58 1h1m2 0h1m21 0h1m23 0h1m-48 1h1m21 0h1m8 0h1m18 0h1m-31 1h1m6 0h1m25 0h1m-58 1h1m5 0h1m16 0h1m10 0h1m20 0h2m1 0h1m-52 1h2m6 0h2m5 0h1m9 0h1m1 0h1m5 0h1m16 0h2m-37 1h1m1 0h1m-24 1h1m1 0h1m9 0h1m2 0h1m17 0h1m21 0h2m-42 1h1m4 0h1m1 0h1m7 0h3m2 0h1m5 0h1m14 0h1m-45 1h1m15 0h1m2 0h1m3 0h2m21 0h1m-59 1h1m27 0h1m2 0h1m1 0h1m21 0h1m3 0h1m-70 1h1m8 0h1m39 0h1m17 0h1m2 0h1m-72 1h1m6 0h1m36 0h1m2 0h2m4 0h1m9 0h1m-52 1h1m51 0h1m-65 1h1m2 0h1m1 0h1m32 0h1m6 0h1m10 0h1m-49 1h1m5 0h1m36 0h1m-55 1h1m9 0h1m44 0h1m3 0h1m-56 1h2m35 0h1m1 0h1m-14 1h1m17 0h1m-50 1h1m4 0h1m3 0h1m-3 1h1m18 0h1m26 0h2m18 0h1m-66 1h1m10 0h1m33 0h1m9 0h1m3 0h2m-67 1h1m14 0h1m-13 1h1m2 0h1m-14 1h1m7 0h1m2 0h1m2 0h1m56 0h1m-68 1h1m14 0h1m24 0h1m-21 1h1m-27 1h1m3 0h1m16 0h1m34 0h1m-61 1h1m3 0h1m7 0h1m2 0h1m5 0h1m51 0h1m-70 1h1m10 0h2m6 0h1m5 0h1m20 0h1m21 0h1m-62 1h1m2 0h1m17 0h1m-27 1h1m59 0h1m-62 1h1m11 0h1m48 0h1m-65 1h1m35 0h1m12 0h1m-53 1h1m5 0h1m11 0h1m26 0h1m-48 1h1m8 0h1m12 0h1m10 0h1m11 0h1m25 0h1m4 2h1m-129 1h1m1 0h1m55 0h1m58 0h1m6 0h1m-72 1h2m1 0h1m24 0h1m10 0h1m11 0h1m-14 1h1m15 0h1m-60 1h1m31 0h1m1 0h1m32 0h1m-115 1h1m-2 1h1m71 0h1m45 0h1m-119 1h1m35 0h1m2 0h1m13 0h1m3 0h1m4 0h1m35 0h1m9 0h1m4 0h1m-115 1h1m44 0h1m8 0h2m37 0h1m14 0h1m1 0h1m-104 1h1m29 0h2m34 0h1m20 0h1m8 0h1m-57 1h1m8 0h2m52 0h1m9 0h1m16 0h1m-133 1h1m34 0h1m7 0h2m14 0h1m26 0h1m53 0h1m-143 1h1m3 0h1m28 0h1m16 0h1m11 0h1m40 0h1m-99 1h1m40 0h1m46 0h1m11 0h1m7 0h1m-110 1h1m41 0h1m11 0h1m1 0h1m-48 1h1m38 0h1m3 0h1m7 0h1m3 0h1m27 0h1m8 0h1m21 0h1m-130 1h1m4 0h1m2 0h1m47 0h1m37 0h1m1 0h1m5 0h2m6 0h1m26 0h1m-179 1h1m54 0h1m44 0h1m15 0h2m15 0h1m1 0h1m8 0h1m-105 1h1m11 0h1m43 0h1m5 0h1m18 0h1m-71 1h1m45 0h1m5 0h1m55 0h1m-163 1h1m46 0h1m46 0h1m4 0h1m17 0h1m26 0h1m35 0h1m-70 1h1m45 0h1m-158 1h1m95 0h1m8 0h1m30 0h1m2 0h1m9 0h1m24 0h1m-109 1h1m26 0h1m1 0h1m1 0h1m1 0h1m7 0h1m27 0h1m39 0h1m-175 1h1m88 0h1m4 0h1m33 0h2m45 0h1m-153 1h1m6 0h1m66 0h1m2 0h1m4 0h1m68 0h1m-174 1h1m64 0h1m31 0h1m64 0h1m-67 1h1m70 0h1m-167 1h1m99 0h1m8 0h1m18 0h1m-28 2h3m4 0h1m9 0h1m-71 1h1m27 0h1m10 1h1m-3 1h1m7 0h1m6 0h1m4 0h1m-103 1h1m46 0h1m6 0h1m39 0h1m9 0h1m8 0h2m-115 1h1m34 0h1m10 0h1m60 0h1m-107 1h1m38 0h1m21 0h1m25 0h1m19 0h1m-15 1h1m4 0h1m15 0h1m3 0h1m-44 1h1m7 0h1m20 0h1m47 0h1m1 0h2m-74 1h1m3 0h1m15 0h1m3 0h2m10 0h1m-29 1h1m11 0h1m9 0h1m2 0h1m-2 1h1m-79 1h1m27 0h1m27 0h1m7 0h1m14 0h1m-70 1h1m22 0h1m3 0h2m1 0h1m18 0h1m12 0h1m14 0h1m10 0h1m6 0h1m-94 1h1m6 0h1m5 0h1m2 0h1m50 0h1m31 0h1m-105 1h1m29 0h1m4 0h1m19 0h1m3 0h2m3 0h2m10 0h1m15 0h1m2 0h1m16 0h1m-152 1h1m40 0h1m33 0h1m32 0h1m3 0h1m4 0h1m26 0h1m-89 1h1m29 0h1m27 0h1m1 0h1m17 0h1m5 0h1m4 0h1m-108 1h1m23 0h1m8 0h1m12 0h2m23 0h1m5 0h1m2 0h1m8 0h1m3 0h1m8 0h1m3 0h1m6 0h1m-104 1h1m37 0h1m2 0h1m15 0h1m13 0h1m10 0h1m15 0h2m-119 1h1m3 0h2m37 0h1m6 0h1m9 0h1m1 0h1m1 0h1m9 0h1m24 0h1m18 0h2m-146 1h1m44 0h1m103 0h1m-119 1h1m12 0h1m13 0h1m36 0h1m5 0h1m3 0h1m10 0h1m6 0h2m-67 1h1m7 0h1m5 0h1m1 0h1m33 0h2m2 0h1m5 0h1m4 0h1m23 0h1m-115 1h1m45 0h1m16 0h1m15 0h1m3 0h1m-66 1h1m15 0h1m16 0h1m4 0h1m9 0h1m9 0h1m8 0h1m6 0h1m-51 1h1m11 0h1m5 0h1m6 0h1m8 0h1m-97 1h1m34 0h1m6 0h1m10 0h1m18 0h1m4 0h1m9 0h1m8 0h1m4 0h1m25 0h1m-134 1h1m21 0h1m37 0h1m2 0h1m1 0h1m17 0h2m18 0h1m20 0h1m-65 1h1m22 0h1m5 0h1m4 0h1m2 0h1m-67 1h1m11 0h1m10 0h1m38 0h1m5 0h1m22 0h1m8 0h1m-131 1h2m54 0h1m2 0h1m27 0h1m15 0h1m1 0h2m1 0h1m-95 1h1m55 0h2m16 0h1m-29 1h1m7 0h1m25 0h1m4 0h1m-84 1h1m33 0h1m11 0h1m57 0h1m-66 1h1m7 0h1m7 0h1m9 0h1m15 0h1m3 0h1m-89 1h1m56 0h1m1 0h1m9 0h1m2 0h1m5 0h1m10 0h1m-94 1h1m56 0h1m4 0h1m3 0h1m1 0h1m12 0h1m-81 1h2m40 0h1m2 0h1m31 0h1m17 0h1m13 0h1m-107 1h1m43 0h1m5 0h1m3 0h1m-26 1h1m12 0h1m13 0h1m19 0h1m3 0h1m1 0h1m-96 1h1m70 0h1m20 0h1m-92 1h1m59 0h1m33 0h1m1 0h1m-94 1h1m76 0h1m11 0h1m-97 1h1m17 0h1m30 0h1m9 0h1m13 0h1m5 0h1m-32 1h1m9 0h1m9 0h1m6 0h1m13 0h1m3 0h1m-93 1h1m8 0h1m58 0h1m18 0h1m2 0h2m12 0h1m-84 1h1m27 0h1m23 0h1m14 0h1m-50 1h1m21 0h1m4 0h2m1 0h1m7 0h1m3 0h1m9 0h1m-67 1h1m7 0h1m6 0h1m5 0h1m8 0h1m10 0h1m2 0h1m38 0h1m-93 1h1m4 0h1m1 0h1m1 0h1m-4 1h1m1 0h1m41 0h1m1 0h1m9 0h1m8 0h1m1 0h1m1 0h1m-89 1h1m5 3h1m25 0h1m4 0h1m12 0h1m-29 1h1m3 0h1m12 0h1m4 0h1m13 0h1m-50 1h1m9 0h1m53 0h1m1 0h1m-77 1h1m5 1h1m10 0h1m4 0h1m-5 6h2"/><path stroke="#1f968b" d="M154 9h1m8 0h1m7 0h1m-17 1h1m17 0h1m-24 2h1m2 0h2m-9 1h1m-1 1h1m3 0h1m6 0h1m-12 1h1m22 0h1m8 0h1m-24 1h1m3 1h2m3 0h1m2 0h1m11 0h1m-39 1h1m37 0h1m-39 1h1m27 0h1m3 0h1m-35 1h1m40 0h1m2 0h1m-24 1h1m6 0h1m-32 1h2m31 0h1m13 0h1m-46 1h1m38 0h1m5 0h1m-52 1h1m45 0h1m-42 1h1m9 0h1m35 0h1m-52 1h1m27 0h1m18 0h2m-38 1h1m8 0h1m12 0h1m12 0h1m-28 1h2m-20 1h1m3 0h1m8 0h1m8 0h1m-26 1h1m17 0h1m41 0h1m-28 1h1m16 0h1m-40 1h1m13 0h1m-21 1h1m17 0h1m2 0h1m7 0h1m1 0h1m-31 1h1m10 0h1m18 0h1m5 0h1m3 0h1m1 0h1m4 0h1m7 0h1m-24 1h1m-36 1h1m31 0h1m14 0h1m6 0h1m3 0h1m-60 1h1m17 0h1m6 0h1m3 0h1m-25 1h1m9 0h1m1 0h1m15 0h1m3 0h1m1 0h1m-38 1h1m14 0h1m20 0h2m6 0h1m5 0h1m-66 1h1m1 0h1m16 0h1m27 0h1m5 0h1m-49 1h1m6 0h1m2 0h1m11 0h1m6 0h1m-31 1h1m9 0h1m-4 1h1m-13 1h1m1 1h1m6 0h1m10 0h1m36 0h1m3 0h1m-58 2h1m27 0h1m21 0h1m4 0h2m-63 1h1m15 0h1m3 0h1m43 0h1m4 0h1m-70 2h1m9 0h1m6 0h1m37 0h1m20 0h1m-81 1h2m27 0h1m7 0h1m23 0h1m14 0h1m-68 1h2m5 0h1m8 0h1m52 0h1m-78 1h1m15 0h2m32 0h1m-48 1h2m11 0h1m50 0h1m-71 1h1m2 0h1m15 0h1m2 0h2m2 0h1m40 0h1m-73 1h1m5 0h1m1 0h1m30 0h1m5 0h1m10 0h1m8 0h1m7 0h1m-62 1h1m12 0h1m40 0h1m5 0h2m-63 1h1m26 0h1m25 0h1m2 0h1m-64 1h1m8 0h1m7 0h1m-78 2h1m58 0h1m33 0h1m30 0h2m-126 1h1m78 0h1m19 0h1m25 0h1m-74 1h1m68 1h1m-122 1h1m57 0h1m35 0h1m28 0h1m-124 1h1m58 0h1m7 0h1m41 0h1m13 0h1m5 0h1m-125 1h1m59 0h1m16 0h1m23 0h1m38 0h1m-83 1h1m28 0h1m17 0h1m20 0h1m-83 1h2m7 0h1m52 0h1m-76 1h1m3 0h1m21 0h1m27 0h1m35 0h1m10 0h1m-83 1h1m49 0h2m1 0h1m1 0h1m6 0h2m-117 1h1m3 0h1m32 0h1m72 0h1m-72 1h1m16 0h1m1 0h1m21 0h1m-81 1h1m91 0h1m40 0h1m-135 1h1m60 0h1m5 0h1m36 0h2m-56 1h1m14 0h1m76 0h1m-137 1h1m35 0h1m15 0h1m27 0h1m4 0h1m19 0h1m32 0h1m-89 1h1m11 0h1m38 0h1m14 0h1m-76 1h1m5 0h1m18 0h1m19 0h1m16 0h1m-145 1h1m38 0h1m9 0h2m28 0h1m31 0h1m27 0h1m-52 1h1m20 0h1m15 0h1m4 0h1m4 0h1m1 0h1m25 0h1m8 0h1m-179 1h1m42 0h1m53 0h1m38 0h1m2 0h1m2 0h1m1 0h1m-93 1h1m46 0h1m9 0h1m5 0h1m19 0h1m2 0h1m-49 1h1m10 0h2m6 0h1m52 0h1m10 0h1m-132 1h1m57 0h1m8 0h1m1 0h1m1 0h1m16 0h2m3 0h1m-50 1h1m11 0h1m9 0h1m6 0h1m8 0h2m6 0h1m-135 1h1m100 0h1m28 0h1m-36 1h1m34 0h1m2 0h1m-103 1h1m85 0h1m14 0h1m38 0h1m-170 1h1m102 0h1m18 0h1m49 0h1m2 0h1m-176 1h1m82 0h1m17 0h1m4 0h1m56 0h1m7 0h1m-171 1h1m105 0h1m10 0h1m2 0h1m5 0h1m31 0h1m-92 1h1m23 0h1m7 0h1m73 0h1m-60 1h1m3 0h1m-13 1h1m6 0h1m-62 1h1m51 0h1m11 0h1m-15 1h2m6 0h1m2 0h1m5 0h1m-82 1h1m62 0h1m1 0h1m5 0h1m9 0h1m-66 1h1m34 0h1m20 0h1m59 0h1m-126 1h1m12 0h1m33 0h1m-90 1h1m55 0h1m42 0h1m4 0h1m47 0h1m5 0h1m-159 1h1m57 0h1m22 0h1m5 0h1m17 0h1m5 0h1m-22 1h2m13 0h1m9 0h1m3 0h1m-75 1h1m49 0h1m39 0h1m-88 1h1m16 0h1m37 0h1m1 0h1m2 0h1m27 0h1m-92 1h1m52 0h1m2 0h1m5 0h1m4 0h1m3 0h1m19 0h1m-56 1h1m21 0h1m12 0h1m21 0h1m-93 1h1m57 0h2m6 0h1m7 0h2m20 0h1m8 0h1m-55 1h1m11 0h1m44 0h1m-122 1h2m35 0h2m14 0h1m48 0h1m16 0h1m-148 1h1m73 0h1m11 0h1m59 0h1m5 0h1m-153 1h1m72 0h1m4 0h1m3 0h1m2 0h1m16 0h2m12 0h1m21 0h1m-91 1h2m43 0h2m2 0h1m9 0h1m3 0h1m3 0h1m8 0h1m14 0h1m1 0h1m2 0h1m-100 1h1m4 0h1m29 0h1m18 0h1m15 0h1m-84 1h1m7 0h1m34 0h1m4 0h1m4 0h1m42 0h2m3 0h1m-64 1h2m3 0h2m34 0h1m16 0h1m20 0h1m-84 1h1m20 0h1m9 0h1m2 0h1m7 0h2m9 0h1m4 0h1m8 0h1m-130 1h1m17 0h1m42 0h2m1 0h1m64 0h1m13 0h1m-130 1h1m32 0h1m8 0h1m13 0h2m1 0h1m17 0h2m6 0h1m5 0h1m4 0h1m-56 1h1m1 0h1m32 0h1m22 0h1m9 0h2m1 0h1m-123 1h1m27 0h1m19 0h1m14 0h1m1 0h1m1 0h1m24 0h1m2 0h1m3 0h1m4 0h1m9 0h1m3 0h2m7 0h1m-122 1h1m1 0h1m61 0h1m27 0h1m2 0h1m8 0h1m3 0h2m7 0h1m2 0h1m2 0h1m1 0h1m-129 1h1m4 0h2m20 0h1m28 0h1m28 0h1m5 0h1m-87 1h1m51 0h1m24 0h1m20 0h1m4 0h1m13 0h1m-125 1h1m3 0h1m63 0h1m20 0h1m-90 1h1m8 0h1m25 0h1m21 0h1m3 0h1m5 0h1m12 0h1m12 0h1m1 0h1m1 0h1m2 0h1m21 0h1m-119 1h1m5 0h2m1 0h1m85 0h1m9 0h1m-96 1h1m50 0h1m5 0h1m6 0h1m35 0h1m1 0h1m3 0h1m5 0h1m-126 1h1m69 0h1m31 0h1m15 0h1m2 0h1m-44 1h1m19 0h1m1 0h2m5 0h1m13 0h1m-110 1h1m86 0h1m-51 1h1m8 0h1m7 0h1m1 0h1m1 0h1m11 0h1m-32 1h1m18 1h1m2 0h1m7 0h1m5 0h1m9 0h1m-25 1h1m8 0h1m11 0h1m2 0h2m-85 1h1m56 0h1m4 0h2m1 0h1m-85 1h1m1 0h1m15 0h1m1 0h1m54 0h1m7 0h1m17 0h2m-77 1h1m-23 1h1m3 0h1m11 0h1m92 0h1m-107 1h1m70 0h1m1 0h1m17 0h1m15 0h1m-95 1h1m37 0h1m19 0h1m5 0h1m2 0h1m6 0h1m1 0h1m-56 1h1m8 0h1m1 0h1m12 0h4m13 0h1m13 0h1m-89 1h1m16 0h1m25 0h1m1 0h1m11 0h1m4 0h1m-47 2h1m1 0h1m6 0h2m42 0h1m5 0h1m18 1h1m-11 1h1m0 1h1m-41 1h1m4 0h1m-28 1h1m7 0h1m3 0h1m2 0h1m13 0h1m23 0h1m-49 1h1m-15 1h1m57 0h1m-60 1h1m18 0h1m-19 1h1m1 0h1m-8 1h1m12 1h1m-10 3h1"/><path stroke="#1fa287" d="M165 7h1m-10 1h1m3 0h1m-4 1h1m4 0h1m9 0h1m5 0h1m-11 1h1m-17 1h1m1 0h1m2 0h1m1 0h1m7 0h1m-19 1h1m19 0h1m10 0h1m-30 1h1m5 0h1m2 0h1m9 0h1m7 0h1m4 0h1m-9 1h1m2 0h1m-34 1h1m10 0h1m4 0h1m9 0h1m5 0h1m-35 1h1m12 0h1m16 0h1m4 0h1m-25 2h1m20 0h1m8 0h1m-42 1h1m8 0h1m19 0h1m2 0h1m4 0h1m-37 1h1m26 0h1m1 0h1m2 1h1m7 0h1m-1 1h1m-48 1h1m19 0h1m12 0h1m-36 1h1m24 0h1m1 0h1m5 0h1m-29 1h1m18 0h1m28 0h1m-50 1h1m25 0h1m12 0h1m-39 2h1m19 0h1m3 0h1m-7 1h1m3 0h1m6 0h1m9 0h1m7 0h1m2 0h1m-52 1h1m9 0h1m7 0h1m4 0h2m22 0h1m-54 1h1m14 0h1m32 0h1m-35 1h1m8 0h1m8 0h1m10 0h1m-39 1h1m6 0h1m17 0h1m23 0h2m-35 1h1m16 0h1m16 0h1m-52 1h1m18 0h2m25 0h1m1 0h1m5 0h1m-60 1h1m2 0h1m2 0h1m6 0h1m15 0h1m6 0h1m-34 1h1m32 0h1m3 0h2m18 0h1m-42 1h1m8 0h1m2 0h1m4 0h1m7 0h1m2 0h1m9 0h1m-53 1h1m8 0h1m3 0h1m10 0h1m15 0h1m2 0h1m11 0h1m-38 1h1m31 0h2m-68 1h2m9 0h1m28 0h1m2 0h1m-47 1h1m4 1h1m35 0h1m6 0h1m6 0h2m-56 1h1m9 0h1m31 0h1m12 0h1m5 0h1m9 0h1m-70 1h1m17 0h1m36 0h1m-57 1h1m1 0h1m3 0h1m10 0h1m33 0h1m7 0h1m-56 1h1m6 0h1m44 0h1m7 0h2m-57 1h1m42 0h1m8 0h1m-65 1h1m55 0h1m4 0h1m-52 1h1m26 0h1m19 0h1m2 0h1m6 0h1m-56 2h1m5 0h1m26 0h3m5 0h1m5 0h1m4 0h1m-70 1h1m7 0h1m1 0h1m36 0h1m-39 1h2m15 0h1m33 1h1m-65 1h1m27 0h1m36 0h2m-65 1h1m15 0h1m5 0h1m41 0h1m-56 1h1m6 0h1m10 0h1m17 0h1m14 0h1m3 0h1m-68 1h2m4 0h1m2 0h1m45 0h1m-55 1h1m1 0h1m1 0h1m42 0h1m14 0h1m-57 2h1m61 0h1m-127 1h1m51 0h2m9 0h2m30 0h2m-99 1h1m53 0h1m4 0h1m52 0h1m-51 1h1m6 0h1m-8 1h1m41 0h1m7 0h1m10 0h1m-68 1h1m24 0h1m41 0h1m-73 1h1m11 0h1m2 0h1m13 0h1m9 0h1m25 0h1m5 0h1m23 0h1m-48 1h1m11 0h1m12 0h1m-75 1h1m1 0h1m8 0h1m34 0h1m52 0h1m-93 1h1m3 0h3m48 0h1m13 0h1m-68 1h1m77 0h1m-137 1h1m58 0h1m42 0h1m22 0h1m23 0h1m-149 1h1m8 0h1m29 0h1m26 0h1m14 0h1m12 0h1m16 0h2m17 0h1m1 0h1m-118 1h1m60 0h1m35 0h1m29 0h1m-132 1h1m47 0h1m1 0h1m30 0h1m30 0h1m11 0h1m-60 1h1m3 0h2m11 0h1m4 0h1m7 0h1m1 0h1m21 0h1m-61 1h1m1 0h1m2 0h1m15 0h1m1 0h1m5 0h1m4 0h1m4 0h2m3 0h1m-71 1h1m17 0h1m8 0h1m2 0h1m9 0h1m15 0h1m20 0h1m-119 1h1m5 0h1m55 0h1m2 0h1m15 0h1m2 0h1m2 0h1m-92 1h1m105 0h1m4 0h2m15 0h1m-91 1h1m10 0h1m35 0h1m8 0h2m38 0h1m-84 1h2m9 0h1m7 0h1m34 0h1m21 0h1m6 0h1m-136 1h1m70 0h2m19 0h1m6 0h1m39 0h1m-183 1h2m125 0h1m-20 1h1m8 0h1m15 0h1m21 0h1m18 0h1m13 0h1m-85 1h1m6 0h1m19 0h1m6 0h1m21 0h2m8 0h1m-68 1h1m25 0h1m42 0h1m-170 1h1m170 0h1m-86 1h1m12 0h1m6 0h1m1 0h1m61 0h1m3 0h1m-60 1h1m55 0h1m9 0h1m-76 1h1m4 0h1m62 0h1m-89 1h1m21 0h1m2 0h1m59 0h1m1 0h1m3 0h1m-90 1h2m10 0h1m5 0h1m62 0h1m-82 1h1m1 0h1m14 0h1m3 0h1m9 1h1m2 0h1m50 0h1m-58 1h1m1 0h1m-84 1h1m17 0h1m39 0h2m12 0h1m5 0h1m-61 1h1m8 0h1m31 0h1m2 0h1m7 0h1m7 0h1m36 0h2m-115 1h1m5 0h1m47 0h1m25 0h1m2 0h1m2 0h1m28 0h1m-54 1h1m5 0h1m19 0h1m-67 1h1m5 0h1m21 0h1m23 0h1m2 0h1m5 0h1m1 0h1m3 0h1m-87 1h1m38 0h1m26 0h1m-11 1h1m11 0h2m8 0h2m2 0h1m3 0h1m14 0h1m7 0h1m-111 1h1m2 0h1m17 0h2m9 0h1m42 0h1m5 0h1m5 0h1m15 0h1m-86 1h1m12 0h1m5 0h2m40 0h1m5 0h1m19 0h1m-104 1h1m64 0h1m16 0h1m16 0h1m-76 1h1m13 0h1m34 0h1m4 0h1m23 0h2m-109 1h1m32 0h1m53 0h1m23 0h1m3 0h1m-101 1h1m46 0h1m5 0h1m53 0h2m-103 1h1m51 0h1m2 0h2m3 0h1m4 0h1m5 0h1m15 0h1m-134 1h1m43 0h1m3 0h1m43 0h1m2 0h1m2 0h1m29 0h1m7 0h1m-137 1h1m31 0h1m10 0h2m25 0h1m14 0h1m5 0h1m10 0h1m13 0h1m7 0h1m17 0h1m7 0h1m1 0h1m-152 1h1m27 0h2m52 0h1m45 0h1m2 0h1m15 0h1m-71 1h1m30 0h1m16 0h1m13 0h1m-61 1h1m52 0h1m8 0h2m1 0h1m1 0h1m-114 1h1m49 0h1m10 0h1m5 0h1m44 0h1m-143 1h1m73 0h1m17 0h1m5 0h1m1 0h2m8 0h1m1 0h1m10 0h2m15 0h1m-131 1h1m52 0h1m3 0h1m16 0h1m8 0h1m18 0h1m7 0h1m14 0h2m-136 1h3m3 0h1m61 0h1m22 0h1m3 0h1m23 0h1m5 0h2m1 0h1m-126 1h1m48 0h3m73 0h1m-124 1h1m55 0h2m28 0h1m9 0h1m2 0h1m4 0h1m19 0h1m-121 1h1m3 0h2m39 0h1m7 0h1m5 0h2m18 0h1m9 0h1m5 0h1m8 0h2m11 0h1m-123 1h2m5 0h2m51 0h1m6 0h1m20 0h3m3 0h1m4 0h1m2 0h1m26 0h1m-122 1h1m51 0h1m25 0h1m31 0h1m-18 1h1m4 0h1m-108 1h1m5 0h1m2 0h1m5 0h1m42 0h1m22 0h1m11 0h1m13 0h1m5 0h1m-112 1h1m31 0h1m33 0h1m14 0h1m29 1h1m-33 1h1m-70 1h1m51 0h1m1 0h1m22 0h1m9 0h1m1 0h1m-101 1h1m100 0h2m15 0h1m-43 1h1m-65 1h1m54 0h1m4 0h1m23 0h1m5 0h1m-107 1h1m15 0h2m60 0h2m4 0h2m-69 1h1m49 0h1m10 0h1m21 0h1m6 0h1m1 0h1m-92 1h1m7 0h1m30 0h1m10 0h1m30 0h1m-100 1h1m2 0h1m16 0h1m57 0h1m4 0h1m3 0h1m9 0h1m1 0h3m2 0h1m6 0h1m-113 1h1m8 0h1m13 0h1m28 0h1m16 0h1m10 0h1m2 0h1m1 0h1m4 0h1m9 0h1m-100 1h1m18 0h1m67 0h2m14 0h1m-56 1h1m16 0h1m2 0h2m-50 1h1m2 0h1m37 0h1m22 0h2m10 0h1m1 0h1m-86 1h1m15 0h1m19 0h1m17 0h1m11 0h1m14 0h1m-48 1h1m38 0h1m7 0h1m-90 1h1m61 0h1m13 0h1m12 0h1m-3 2h1m-88 1h1m41 0h1m43 0h1m-53 1h2m13 0h1m1 0h1m11 0h1m-56 1h1m12 0h1m2 0h1m2 0h1m47 0h1m-51 1h1m50 0h1m-51 2h1m5 0h1m-19 4h1m4 0h1m3 0h1m-11 1h1"/><path stroke="#28ae80" d="M158 8h1m9 0h1m-11 1h1m20 0h1m-24 1h1m2 0h1m2 0h1m4 0h1m4 0h1m3 0h1m-21 1h1m13 0h1m-24 1h2m10 0h1m11 0h1m11 0h1m-2 1h1m1 1h1m-41 1h1m15 0h1m7 0h1m6 0h1m4 0h1m-26 3h1m12 0h1m9 0h1m-38 2h1m34 0h1m-2 1h1m-17 1h1m-26 1h1m1 0h1m31 0h1m-33 1h1m46 0h1m-52 1h1m5 0h1m2 0h1m4 0h1m20 0h1m-32 1h1m24 0h1m1 0h1m23 0h1m-29 1h1m15 0h1m1 0h1m9 0h1m-26 1h1m15 0h1m1 0h1m-38 1h1m13 0h1m3 0h1m1 0h1m-33 1h1m26 0h1m22 0h1m1 0h1m-53 1h1m25 0h1m2 0h1m2 1h1m19 0h1m-55 1h1m11 0h2m4 0h2m23 0h1m2 0h1m-49 1h2m10 0h1m17 0h2m1 0h1m1 0h1m-15 1h1m1 0h1m1 0h1m5 0h1m12 0h1m18 0h1m-49 1h1m4 0h1m23 0h3m-30 1h1m11 0h1m14 0h1m3 0h1m12 0h1m-54 1h1m14 0h1m6 0h1m17 0h1m-43 1h1m1 0h1m6 0h1m4 0h1m15 0h1m11 0h1m14 0h2m-57 1h1m14 0h1m5 0h1m7 0h1m4 0h1m5 0h1m14 0h1m-65 1h1m42 0h1m2 0h1m-52 1h1m5 0h1m7 0h1m36 0h1m2 0h1m-50 1h1m7 0h1m40 0h1m2 0h1m-49 1h1m4 0h1m23 0h1m16 0h1m-26 1h1m26 0h1m-64 1h1m17 0h1m15 0h1m2 0h1m24 0h2m1 0h1m-53 1h1m9 0h1m19 0h1m20 0h2m-62 2h1m59 0h1m-46 1h1m6 0h1m14 0h1m26 0h1m4 0h1m-62 1h1m20 0h1m28 0h1m2 0h1m-23 1h1m19 0h2m-47 1h1m2 0h1m6 0h2m22 0h1m14 0h1m-76 1h1m12 0h1m3 0h1m3 0h1m41 0h1m-55 1h1m2 0h1m1 0h1m3 0h1m5 0h1m38 0h1m2 0h1m1 0h1m-70 1h1m5 0h1m4 0h2m45 0h1m6 0h1m-61 1h1m12 0h1m2 0h1m5 0h1m45 0h1m-63 1h1m2 0h1m-10 1h2m1 0h1m18 0h2m19 0h1m-27 1h1m-20 1h1m1 0h1m35 0h2m-45 1h1m21 0h1m48 0h1m-65 1h2m-8 1h1m2 0h1m4 0h1m38 0h1m23 0h1m-50 1h1m7 0h1m24 0h1m16 0h1m-130 1h1m62 0h2m20 0h1m25 0h1m8 0h1m6 0h1m-65 1h1m4 0h1m35 0h1m1 0h1m23 0h1m-73 1h1m29 0h1m19 0h1m-108 1h1m59 0h1m1 0h1m10 0h1m41 0h1m14 0h1m-75 1h1m48 0h1m3 0h1m6 0h1m1 0h1m10 0h1m-79 1h1m44 0h2m9 0h1m5 0h1m9 0h1m10 0h1m-98 1h1m14 0h1m9 0h1m31 0h1m2 0h1m6 0h1m-104 1h1m60 0h1m11 0h1m2 0h1m17 0h1m3 0h1m6 0h1m29 0h1m8 0h1m-82 1h1m22 0h1m17 0h1m2 0h1m15 0h1m25 0h1m-143 1h1m45 0h1m6 0h1m28 0h1m5 0h1m12 0h1m11 0h1m13 0h1m-121 1h1m60 0h2m14 0h1m16 0h1m1 0h1m-50 1h1m8 0h1m12 0h1m5 0h1m9 0h1m41 0h1m-134 1h1m5 0h1m48 0h1m25 0h1m13 0h1m-48 1h1m6 0h1m1 0h1m21 0h1m2 0h1m4 0h1m3 0h1m10 0h1m1 0h1m4 0h1m-111 1h1m37 0h1m1 0h1m19 0h1m13 0h2m2 0h1m5 0h2m8 0h1m6 0h1m20 0h2m1 0h1m-61 1h1m9 0h1m2 0h1m29 0h1m18 0h1m-132 1h1m40 0h1m40 0h1m13 0h1m2 0h1m-85 1h1m33 0h1m32 0h1m3 0h1m1 0h1m6 0h2m12 0h1m14 0h2m-174 1h1m106 0h1m8 0h1m5 0h1m9 0h1m1 0h1m11 0h1m26 0h1m9 0h1m1 0h1m-95 1h1m7 0h2m6 0h1m1 0h3m10 0h1m1 0h1m44 0h1m1 0h1m-119 1h1m56 0h1m7 0h1m8 0h1m6 0h1m28 0h1m23 0h1m-134 1h1m38 0h1m1 0h1m1 0h1m11 0h1m2 0h1m5 0h2m4 0h2m-37 1h1m12 0h1m4 0h1m2 0h1m12 0h1m55 0h1m-87 1h1m10 0h1m1 0h1m2 0h1m2 0h1m18 0h1m46 0h1m-85 1h1m2 0h1m8 0h1m3 0h1m1 0h1m65 0h1m-83 1h1m6 0h1m7 0h1m7 0h1m-12 1h1m9 0h1m9 0h1m28 0h1m18 0h1m-94 1h1m88 0h1m-63 1h1m62 0h1m-121 1h1m36 0h1m18 0h1m14 0h1m1 0h1m50 0h1m-86 1h1m15 0h1m17 0h1m-34 1h1m11 0h1m5 0h1m8 0h1m2 0h1m2 0h1m-65 1h1m30 0h1m19 0h1m-24 1h1m5 0h1m10 0h1m5 0h1m10 0h1m1 0h1m-89 1h1m3 0h1m53 0h1m2 0h1m12 0h1m3 0h1m4 0h1m3 0h1m-59 1h1m24 0h1m4 0h1m22 0h2m-79 1h1m111 0h1m9 0h1m-47 1h1m41 0h1m4 0h1m-48 1h1m27 0h1m-88 1h1m43 0h1m7 0h1m11 0h1m2 0h1m18 0h1m10 0h1m8 0h1m-63 1h1m23 0h2m19 0h1m1 0h1m15 0h1m-113 1h1m15 0h1m35 0h2m4 0h1m7 0h1m10 0h1m15 0h1m-108 1h2m68 0h1m-33 1h1m21 0h1m10 0h2m33 0h1m5 0h1m1 0h1m1 0h1m3 0h1m-107 1h1m48 0h1m8 0h1m-53 1h1m47 0h1m-49 1h1m15 0h1m3 0h1m22 0h1m18 0h1m30 0h2m-71 1h1m17 0h1m35 0h2m-79 1h1m22 0h1m34 0h1m9 0h1m1 0h1m8 0h1m3 0h1m7 0h1m-111 1h1m7 0h1m9 0h1m45 0h1m2 0h1m8 0h2m7 0h1m14 0h1m3 0h1m14 0h1m-116 1h1m45 0h1m17 0h1m28 0h1m7 0h2m-95 1h1m62 0h1m39 0h1m2 0h1m-90 1h1m14 0h1m62 0h1m1 0h2m1 0h1m1 0h1m1 0h1m-142 1h2m97 0h1m1 0h1m21 0h1m2 0h1m2 0h1m-32 1h1m6 0h1m7 0h1m25 0h1m-127 1h1m24 0h1m70 0h1m17 0h1m-96 1h1m27 0h1m9 0h1m28 0h1m8 0h1m5 0h1m9 0h1m6 0h1m-72 1h1m7 0h1m25 0h1m7 0h2m6 0h1m6 0h1m8 0h1m4 0h1m4 0h1m-123 1h1m3 0h1m47 0h1m48 0h1m7 0h1m-113 1h1m2 0h1m51 0h1m2 0h1m28 0h1m6 0h1m3 0h1m5 0h1m4 0h1m1 0h1m-114 1h1m81 0h1m10 0h1m4 0h1m10 0h1m2 0h1m-106 1h1m37 0h1m12 0h1m24 0h1m14 0h1m4 0h1m6 0h2m5 0h1m-90 1h1m36 0h1m16 0h1m8 0h1m-95 1h1m31 0h1m48 0h1m20 0h1m1 0h1m1 0h1m12 0h1m1 0h1m-65 1h2m19 0h1m19 0h1m4 0h1m-48 1h1m62 0h1m-56 1h1m45 0h1m-43 1h1m9 0h2m19 0h1m2 0h1m3 0h1m-98 1h1m68 0h1m8 0h1m-86 1h1m91 0h1m22 0h1m-125 1h1m1 0h1m2 0h1m75 0h1m-22 1h1m10 0h1m8 0h2m-76 1h1m12 0h1m3 0h1m39 0h1m10 0h1m4 0h1m1 0h1m18 0h1m-79 1h1m82 0h1m4 0h1m-100 1h1m7 0h1m5 0h1m62 0h1m17 0h1m2 0h1m3 0h1m-110 1h2m62 0h1m-43 1h1m83 0h1m-23 1h1m6 0h1m-46 1h2m2 0h1m11 0h1m19 0h1m-55 1h1m30 0h1m4 0h1m8 0h1m7 0h2m11 0h1m2 0h1m-96 1h1m4 0h1m4 0h1m5 0h1m78 0h1m2 0h1m-58 2h1m13 0h1m2 0h1m-49 1h1m30 0h1m14 0h1m8 0h1m-58 1h1m23 0h1m4 0h1m4 0h1m1 0h1m30 0h1m-67 1h1m15 1h1m4 0h1m7 0h1m37 0h1m-66 2h1m11 0h1m9 0h1m-9 1h1m2 0h1m-17 2h1m4 1h1m2 0h1"/><path stroke="#38b977" d="M163 7h1m-7 1h1m9 0h1m1 1h1m-16 1h1m15 0h1m4 0h1m-26 1h1m2 0h1m15 0h1m1 0h2m9 0h1m-28 1h1m10 0h1m15 0h1m1 0h1m-25 2h1m10 0h1m1 0h1m-2 2h1m2 0h1m-34 1h1m32 0h1m2 0h1m-39 2h1m27 0h1m5 1h2m2 0h1m-40 1h1m38 0h1m-11 1h1m-10 2h1m3 0h1m23 1h1m-33 1h1m-19 1h1m31 0h1m6 0h1m2 0h2m-50 1h1m9 0h1m35 0h1m-43 1h1m4 0h2m8 0h1m8 0h1m4 0h1m-22 1h1m23 0h1m10 0h1m-39 1h1m1 0h1m16 0h1m11 0h1m-42 1h1m9 0h1m2 0h1m41 0h1m-50 1h1m18 0h1m4 0h1m7 0h1m15 0h1m-50 1h1m1 0h1m3 0h2m2 0h1m4 0h1m8 0h1m10 0h1m2 0h1m8 0h1m-29 1h1m12 0h1m1 0h1m12 0h1m1 0h1m-49 1h1m4 0h1m12 0h1m-14 1h1m9 0h1m11 0h1m-32 1h1m40 0h1m13 0h1m4 0h1m-63 1h1m31 0h1m6 0h1m2 0h1m1 0h1m14 0h1m-59 1h1m44 0h1m2 0h1m9 0h1m-60 1h1m2 0h1m16 0h1m17 0h1m10 0h1m11 0h1m-54 1h1m7 0h1m17 0h2m-48 1h1m72 0h1m-69 1h1m1 0h1m16 0h1m9 0h1m24 0h1m-54 1h1m18 0h1m9 0h1m20 0h1m13 0h1m-62 1h2m2 0h2m31 0h1m4 0h1m-45 1h1m10 0h1m3 0h1m20 0h1m-32 1h1m43 0h1m-49 1h1m1 0h1m1 0h1m11 0h1m1 0h1m3 0h1m1 0h1m-32 1h1m27 0h1m24 0h1m9 0h1m8 0h1m-63 1h1m21 0h1m17 0h1m5 0h1m3 0h1m3 0h1m-41 1h1m24 0h1m8 0h1m-69 1h1m59 0h1m2 0h2m4 0h1m2 0h1m-70 1h1m10 0h1m1 0h1m21 0h1m4 0h1m19 0h1m-61 1h1m30 0h1m11 0h1m-49 1h1m19 0h1m1 0h1m5 0h1m1 0h1m1 0h1m14 0h1m1 0h1m12 0h1m-48 1h1m2 0h1m8 0h1m38 0h1m-62 1h1m15 0h1m1 0h1m1 0h1m40 0h1m-6 1h1m-46 1h1m1 0h1m45 0h1m-66 1h2m4 0h1m4 0h1m19 0h1m26 0h1m3 0h1m6 0h1m-68 1h3m6 0h1m14 0h2m3 0h1m21 0h1m11 0h1m5 0h1m-53 1h1m10 1h1m35 0h2m5 0h1m-132 1h1m85 0h1m22 0h1m5 0h1m34 0h1m-32 1h1m1 0h1m7 0h1m-123 1h1m50 0h1m5 0h1m17 0h1m8 0h1m18 0h1m5 0h1m3 0h2m4 0h1m-127 1h1m58 0h1m2 0h1m18 0h1m1 0h1m1 0h1m15 0h1m10 0h1m2 0h1m-32 1h1m1 0h1m17 0h1m2 0h1m9 0h2m-42 1h1m29 0h2m15 0h1m-26 1h1m22 0h1m14 0h1m-81 1h2m1 0h1m8 0h1m27 0h1m4 0h1m12 0h2m-27 1h1m6 0h2m13 0h1m5 0h1m-120 1h1m50 0h1m11 0h1m1 0h1m1 0h1m3 0h1m4 0h1m3 0h1m11 0h2m4 0h1m12 0h1m22 0h1m10 0h1m1 0h1m-131 1h1m39 0h1m1 0h1m7 0h1m21 0h1m6 0h1m6 0h1m1 0h1m10 0h1m-60 1h1m2 0h1m5 0h1m2 0h1m13 0h1m12 0h1m3 0h2m-44 1h1m4 0h1m3 0h1m3 0h1m4 0h1m1 0h1m50 0h1m-75 1h1m27 0h1m13 0h1m34 0h1m-52 1h1m1 0h1m2 0h1m2 0h1m1 0h1m4 0h1m10 0h1m20 0h2m-55 1h1m4 0h1m10 0h1m10 0h1m5 0h1m9 0h1m-119 1h1m56 0h1m3 0h1m6 0h1m21 0h1m3 0h1m15 0h1m-54 1h1m2 0h1m4 0h1m20 0h1m3 0h1m28 0h1m1 0h1m-60 1h1m10 0h1m32 0h1m1 0h1m24 0h1m-131 1h1m1 0h1m50 0h1m9 0h1m10 0h1m4 0h1m2 0h1m1 0h1m14 0h1m11 0h1m19 0h1m-74 1h1m10 0h1m17 0h1m3 0h1m12 0h1m20 0h1m4 0h1m2 0h2m-88 1h4m7 0h1m17 0h1m27 0h1m20 0h3m-63 1h1m9 0h1m7 0h1m43 0h1m-64 1h1m2 0h1m23 0h1m34 0h1m4 0h1m-110 1h1m22 0h1m20 0h1m15 0h1m7 0h1m-32 1h1m29 0h1m36 0h1m2 0h1m-106 1h1m14 0h1m12 0h1m6 0h1m1 0h1m1 0h1m8 0h1m2 0h1m5 0h2m4 0h2m38 0h1m-61 1h1m8 0h1m50 0h1m1 0h1m-85 1h1m12 0h1m6 0h1m1 0h1m8 0h1m-11 1h1m67 0h2m-89 1h1m21 0h1m8 0h1m4 0h1m47 0h1m-87 1h1m2 0h1m20 0h1m-53 1h1m31 0h1m17 0h1m9 0h1m-63 1h1m33 0h1m24 0h1m34 0h2m19 0h1m-81 1h1m7 0h1m23 0h1m-30 1h1m10 0h1m-67 1h1m49 0h1m16 0h1m5 0h1m6 0h1m33 0h1m-48 1h1m5 0h1m5 0h1m7 0h1m22 0h2m-44 1h2m8 0h2m27 0h1m3 0h1m-54 1h1m11 0h2m1 0h1m28 0h2m6 0h1m-72 1h1m65 0h2m4 0h1m5 0h1m-79 1h1m20 0h1m8 0h1m1 0h1m11 0h1m15 0h1m7 0h1m5 0h1m4 0h1m-57 1h1m6 0h1m46 0h1m4 0h1m1 0h1m-61 1h1m1 0h1m1 0h1m15 0h1m24 0h2m9 0h1m-61 1h1m49 0h1m-95 1h1m46 0h1m10 0h1m10 0h1m-24 1h1m14 0h1m3 0h1m29 0h1m6 0h1m-56 1h1m12 0h1m6 0h1m31 0h1m1 0h1m-145 1h1m43 0h1m22 0h1m4 0h1m5 0h1m6 0h1m3 0h1m-63 1h1m18 0h1m45 0h1m17 0h1m13 0h1m18 0h1m-96 1h1m58 0h1m21 0h1m3 0h1m6 0h1m7 0h1m-62 1h1m10 0h1m5 0h1m3 0h1m19 0h2m1 0h1m7 0h1m-103 1h1m35 0h1m27 0h1m2 0h1m23 0h1m4 0h1m7 0h1m-106 1h1m2 0h1m54 0h1m10 0h1m5 0h1m13 0h1m2 0h1m-34 1h1m4 0h1m2 0h1m1 0h1m16 0h1m5 0h1m4 0h1m-125 1h1m66 0h1m17 0h1m1 0h1m-1 1h1m6 0h1m3 0h1m3 0h1m1 0h1m5 0h1m2 0h1m14 0h1m-87 1h1m51 0h1m10 0h1m4 0h1m-65 1h1m43 0h1m11 0h1m24 0h1m1 0h1m-68 1h1m6 0h1m11 0h1m14 0h1m2 0h1m11 0h1m9 0h1m2 0h1m-37 1h2m16 0h1m5 0h2m1 0h1m4 0h2m1 0h1m4 0h1m-129 1h1m62 0h1m22 0h1m16 0h1m3 0h1m-74 1h1m-34 1h1m58 0h1m44 0h1m2 0h1m8 0h1m-120 1h1m3 0h1m9 0h1m96 0h1m-109 1h1m113 0h1m-118 1h1m73 0h2m7 0h1m18 0h1m1 0h1m6 0h1m-33 1h1m18 0h1m5 0h1m-104 1h1m11 0h1m51 0h1m5 0h1m2 0h1m3 0h1m3 0h2m18 0h1m-103 1h1m68 0h1m5 0h1m11 0h1m11 0h3m-86 1h1m54 0h1m1 0h1m-69 1h1m67 0h1m5 0h1m1 0h1m1 0h1m-85 1h1m72 0h1m10 0h1m16 0h1m1 0h2m-101 1h1m77 0h1m18 0h1m1 0h1m-94 1h1m3 0h1m4 0h1m25 0h1m56 0h1m1 0h1m-104 1h1m14 0h1m2 0h1m49 0h1m26 0h1m9 0h1m-104 1h1m43 0h1m35 0h1m3 0h1m6 0h1m4 0h1m7 0h1m-60 1h1m19 0h1m15 0h1m22 0h1m-6 1h1m-75 1h1m19 0h1m14 0h1m17 0h1m3 0h1m12 0h1m-73 1h2m1 0h1m14 0h1m2 0h1m8 0h1m29 0h1m8 0h1m-61 1h1m1 0h1m2 0h1m2 0h1m1 0h1m28 0h1m2 0h1m4 0h1m2 0h1m-61 1h1m2 0h1m18 0h1m4 0h1m1 0h2m22 0h2m-61 1h1m26 0h3m4 0h1m28 0h1m-66 1h1m11 0h1m1 0h2m15 0h1m14 0h2m25 0h1m-79 1h1m2 0h2m21 0h1m21 0h1m1 0h1m-34 1h1m14 0h1m-42 1h1m21 0h1m15 0h2m2 0h1m-26 1h1m12 0h1m7 0h2m-12 1h1m-14 1h1m7 0h1m-10 1h1m-2 1h1m4 0h1m0 2h1"/><path stroke="#50c46a" d="M161 8h1m11 1h2m8 0h1m-26 1h1m15 0h1m2 0h1m1 0h1m1 0h1m2 1h1m-27 1h1m1 0h1m13 0h1m0 1h1m1 0h1m-33 1h1m33 1h1m-12 1h1m7 1h1m-8 1h2m11 1h1m-15 2h1m4 0h1m3 0h1m-43 1h1m36 1h1m3 0h1m-19 1h1m2 0h1m5 0h1m-15 1h1m7 0h1m12 0h1m1 0h1m-46 1h1m8 0h1m21 0h1m3 0h2m6 0h2m-35 1h1m20 0h2m-1 1h1m11 0h1m-45 1h1m28 0h1m6 0h1m8 0h1m-42 1h1m39 0h1m-42 1h1m6 0h1m2 0h1m22 0h2m4 0h2m-36 1h1m4 0h1m4 0h1m11 0h1m12 0h1m2 0h2m-22 1h1m13 0h1m5 0h2m4 0h1m-40 1h1m11 0h1m22 0h1m-39 1h1m2 0h1m2 0h1m1 1h2m23 0h1m11 0h1m3 0h1m-55 1h2m46 0h2m-53 1h1m2 0h1m5 0h1m15 0h1m3 0h1m22 0h1m-54 1h1m18 0h1m3 0h1m20 0h1m2 0h1m-62 1h1m30 0h1m12 0h1m8 0h1m-20 1h1m9 0h1m14 0h2m9 0h1m-67 1h1m6 0h1m18 0h1m-30 1h1m12 0h2m1 0h1m4 0h2m3 0h1m18 0h2m-10 1h1m9 0h1m5 0h1m-56 1h1m17 0h1m53 0h1m-67 1h1m5 0h1m43 0h2m-36 1h1m11 0h1m21 0h1m-55 1h2m4 0h1m16 0h1m17 0h1m5 0h2m5 0h1m-37 1h1m23 0h1m10 0h1m3 0h1m12 0h1m-62 1h1m1 0h1m12 0h1m17 0h2m2 0h1m-52 1h1m29 1h1m2 0h1m19 0h1m-34 1h1m25 0h1m3 0h2m4 0h1m5 0h1m-58 1h1m17 0h1m-10 1h1m8 0h2m32 0h1m2 0h1m-65 1h1m4 0h1m22 0h1m-27 1h1m23 0h1m17 0h1m9 0h1m7 0h1m-64 1h1m24 0h1m19 0h1m-31 1h2m14 0h1m32 0h1m1 0h2m-63 1h1m3 0h1m1 0h2m15 0h1m4 0h1m5 0h1m-29 1h1m13 0h1m6 0h1m15 0h1m1 0h1m9 0h3m5 0h1m-72 1h1m5 0h1m6 0h1m32 0h1m11 0h1m4 0h1m-64 1h2m9 0h1m23 0h1m10 0h1m23 0h1m-127 1h1m65 0h2m12 0h1m4 0h1m23 0h1m-51 1h1m6 0h1m1 0h1m54 0h1m20 0h1m-81 1h1m14 0h1m-82 1h1m56 0h1m4 0h1m8 0h1m17 0h1m18 0h1m9 0h2m-63 1h1m7 0h1m1 0h1m26 0h1m19 0h1m3 0h1m2 0h1m2 0h1m3 0h2m-72 1h1m3 0h1m4 0h1m22 0h2m14 0h1m3 0h1m2 0h1m1 0h1m4 0h1m2 0h1m9 0h1m1 0h1m-97 1h1m26 0h1m4 0h1m8 0h1m3 0h1m13 0h1m6 0h1m15 0h1m14 0h2m-88 1h1m14 0h1m2 0h2m9 0h1m7 0h2m3 0h1m2 0h1m8 0h1m-29 1h1m4 0h1m4 0h1m3 0h1m1 0h1m10 0h1m2 0h2m17 0h1m3 0h1m6 0h1m-80 1h1m4 0h1m5 0h1m11 0h1m11 0h1m1 0h1m11 0h1m7 0h1m14 0h1m2 0h2m-78 1h1m6 0h1m17 0h1m11 0h1m4 0h1m4 0h1m1 0h1m39 0h1m-82 1h1m12 0h1m1 0h1m2 0h1m10 0h1m2 0h1m20 0h1m-63 1h1m2 0h1m11 0h1m1 0h2m2 0h1m3 0h2m19 0h1m3 0h1m2 0h1m4 0h1m10 0h1m2 0h1m12 0h1m-82 1h1m8 0h1m2 0h1m2 0h1m1 0h1m15 0h1m1 0h1m11 0h1m17 0h1m12 0h1m2 0h1m-175 1h1m112 0h1m5 0h1m6 0h1m14 0h1m11 0h1m9 0h1m-120 1h1m5 0h1m36 0h1m5 0h1m18 0h1m2 0h1m48 0h1m-78 1h2m27 0h1m19 0h1m-32 1h1m11 0h1m4 0h1m6 0h1m7 0h1m6 0h1m3 0h1m25 0h1m-89 1h1m2 0h1m4 0h1m30 0h1m15 0h2m2 0h1m16 0h1m5 0h1m1 0h1m-82 1h1m17 0h1m7 0h3m18 0h1m6 0h1m16 0h2m3 0h1m-83 1h1m28 0h1m1 0h1m1 0h1m2 0h1m24 0h1m4 0h1m15 0h1m9 0h1m-65 1h1m33 0h1m18 0h2m1 0h1m-66 1h1m1 0h1m1 0h1m4 0h1m47 0h2m-79 1h1m15 0h1m27 0h1m-30 1h1m14 0h1m34 0h1m12 0h1m-101 1h1m35 0h1m7 0h1m10 0h1m35 0h1m14 0h1m3 0h1m1 0h1m-54 1h2m2 0h1m42 0h1m5 0h1m-94 1h1m18 0h1m26 0h1m34 0h1m1 0h1m1 0h1m8 0h2m-115 1h1m40 0h1m19 0h1m2 0h1m-54 1h1m35 0h1m1 0h1m3 0h3m5 0h1m40 0h1m1 0h1m1 0h1m-97 1h1m33 0h1m10 0h2m30 0h1m10 0h1m-58 1h1m2 0h1m11 0h1m45 0h1m-61 1h2m2 0h1m42 0h1m16 0h1m-118 1h2m53 0h2m10 0h1m-69 1h1m37 0h1m16 1h1m5 0h1m4 0h1m-64 1h1m47 0h1m1 0h1m42 0h1m3 0h1m13 0h1m1 0h1m-76 1h2m9 0h1m7 0h1m11 0h1m31 0h1m2 0h1m-66 1h1m24 0h1m27 0h1m11 0h1m-64 1h1m15 0h1m12 0h1m34 0h1m-64 1h1m12 0h1m1 0h1m9 0h1m2 0h1m17 0h2m1 0h1m2 0h1m15 0h1m-68 1h1m11 0h1m10 0h1m1 0h1m21 0h2m-47 1h1m1 0h1m37 0h1m2 0h1m5 0h2m3 0h1m2 0h1m-62 1h1m2 0h1m1 0h1m16 0h1m1 0h1m25 0h1m3 0h1m-25 1h1m28 0h1m5 0h1m-58 1h1m14 0h1m41 0h1m-72 1h1m62 0h1m6 0h1m-61 1h1m4 0h1m6 0h2m42 0h1m0 1h1m-111 1h2m32 0h1m4 0h1m61 0h1m7 0h1m3 0h1m-50 1h1m1 0h2m3 0h1m18 0h1m7 0h2m5 0h1m-49 1h1m2 0h1m4 0h1m31 0h1m6 0h2m-13 1h1m6 0h1m7 0h1m-17 1h1m5 0h2m7 0h1m-43 1h1m20 0h1m8 0h2m7 0h1m-18 1h1m5 0h1m11 0h1m-9 1h1m3 0h2m-65 1h1m19 0h1m27 0h1m15 0h1m1 0h2m-51 1h1m1 0h1m1 0h1m15 0h1m27 0h1m-93 1h1m26 0h1m34 0h1m26 0h1m-120 1h1m53 0h1m26 0h1m24 0h1m2 0h1m-54 1h1m56 0h1m-124 1h1m67 0h1m34 0h1m7 0h1m6 0h3m2 0h1m1 0h1m-125 1h1m2 0h1m2 0h1m80 0h1m21 0h1m6 0h2m4 0h1m-112 1h1m87 0h1m3 0h1m11 0h1m9 0h1m-65 1h1m4 0h1m38 0h1m1 0h2m-110 1h1m116 0h1m2 0h1m-115 1h1m71 0h1m1 0h1m31 0h1m3 0h1m-111 1h1m2 0h1m56 1h1m32 0h1m13 0h1m5 0h1m-123 1h1m77 0h1m-81 1h1m1 0h1m9 0h1m61 0h1m7 0h1m22 0h1m-103 1h1m13 0h1m56 0h2m10 0h1m34 0h1m-117 1h1m2 0h1m6 0h1m9 0h1m-9 1h1m31 0h1m53 0h1m-85 1h1m4 0h1m76 0h1m4 0h1m-40 1h1m38 0h1m-102 1h1m15 0h2m45 0h1m10 0h1m12 0h2m-89 1h1m2 0h1m11 0h1m1 0h2m76 0h1m4 0h1m5 0h1m-103 1h1m57 0h1m-24 1h2m6 0h1m17 0h1m35 0h1m-102 1h1m29 0h2m5 0h1m6 0h1m4 0h1m1 0h1m29 0h2m-65 1h1m3 0h1m3 0h1m5 0h1m1 0h1m1 0h1m17 0h1m4 0h1m6 0h3m2 0h1m1 0h2m1 0h1m9 0h1m-77 1h1m14 0h1m7 0h2m3 0h2m1 0h2m6 0h1m7 0h1m3 0h1m5 0h1m5 0h2m3 0h1m6 0h1m-75 1h1m11 0h1m4 0h1m7 0h2m2 0h1m16 0h1m3 0h1m6 0h1m7 0h1m-73 1h1m4 0h1m7 0h1m6 0h2m13 0h1m7 0h1m15 0h1m2 0h1m1 0h1m2 0h1m3 0h1m5 0h1m1 0h1m-13 1h2m1 0h1m-74 1h1m23 0h1m7 0h1m1 0h1m4 0h1m-21 1h1m16 0h1m-24 1h1m13 0h1m9 0h1m-15 1h1m1 0h1m1 0h1m-18 1h1m-1 1h1m8 0h1m2 0h2m-9 1h1m1 0h1m2 0h1m-3 1h1m1 0h1m-7 1h1"/><path stroke="#6ccd5a" d="M159 8h1m-5 1h1m11 0h1m2 0h1m5 0h1m4 0h1m-25 1h1m5 0h1m16 0h1m-13 1h1m6 0h1m-3 1h1m5 0h1m1 0h1m-24 1h1m14 0h2m1 0h1m2 0h1m-6 1h1m-3 1h1m-4 1h1m4 0h1m1 0h1m-9 1h1m5 0h1m5 0h1m1 1h1m-7 1h3m-9 1h1m6 0h1m-8 2h1m5 0h1m-33 1h1m24 0h1m5 0h1m-43 1h1m53 0h1m-26 1h1m-3 2h1m3 0h1m9 0h1m-33 1h1m16 0h1m6 0h1m6 0h1m-1 1h1m-41 1h1m10 0h1m21 0h1m9 1h1m2 0h1m-32 1h1m8 0h1m1 0h1m8 0h2m10 0h1m3 0h1m-42 1h1m21 0h1m1 0h1m2 0h1m5 0h1m5 0h1m-45 1h1m1 0h1m8 0h1m1 0h1m9 0h1m15 0h1m-39 1h2m2 0h1m1 0h1m24 0h1m2 0h1m1 0h2m1 0h1m10 0h1m-50 1h1m5 0h1m1 0h1m2 0h1m1 0h1m16 0h1m4 0h1m1 0h2m4 0h1m1 0h1m-47 1h1m6 0h1m1 0h1m5 0h1m3 0h1m11 0h1m5 0h1m14 0h1m-52 1h1m15 0h1m2 0h1m24 0h1m-27 1h2m26 0h2m-55 1h1m2 0h1m3 0h1m2 0h1m7 0h1m8 0h1m20 0h1m1 0h1m7 0h1m-63 1h1m25 0h1m1 0h1m8 0h1m-24 1h1m9 0h1m3 0h1m19 0h1m9 0h1m2 0h1m-69 1h1m1 0h1m3 0h2m9 0h1m4 0h1m15 0h1m18 0h1m-56 1h1m8 0h1m9 0h1m6 0h1m14 0h1m9 0h1m11 0h1m-58 1h1m9 0h1m4 0h1m3 0h2m1 0h1m19 0h1m-35 1h1m5 0h1m5 0h1m5 0h1m10 0h1m-41 1h1m19 0h1m16 0h1m-50 1h1m11 0h2m9 0h1m2 0h1m2 0h1m9 0h1m1 0h1m1 0h1m-19 1h2m1 0h1m2 0h1m7 0h1m11 0h1m13 0h2m-40 1h1m1 0h1m4 0h1m5 0h1m17 0h1m2 0h1m-34 1h1m3 0h1m2 0h1m16 0h2m-24 1h2m3 0h1m18 0h1m10 0h1m7 0h2m-40 1h1m15 0h1m13 0h1m9 0h1m-73 1h1m14 0h1m5 0h1m4 0h1m11 0h1m10 0h1m6 0h1m4 0h1m-62 1h1m11 0h1m8 0h1m18 0h1m-45 1h1m11 0h1m15 0h2m14 0h1m3 0h1m16 0h1m-66 1h2m19 0h1m8 0h1m24 0h2m-57 1h1m14 0h1m3 0h1m10 0h1m4 0h1m-31 1h1m1 0h1m7 0h1m1 0h1m3 0h2m35 0h1m1 0h1m-66 1h1m3 0h1m5 0h1m4 0h1m8 0h1m10 0h1m23 0h1m3 0h1m3 0h1m-59 1h2m5 0h1m6 0h2m19 0h1m18 0h1m-66 1h1m10 0h1m12 0h1m4 0h1m21 0h1m4 0h1m-56 1h2m5 0h2m5 0h1m12 0h3m1 0h1m11 0h1m3 0h3m1 0h2m14 0h1m-127 1h1m56 0h1m3 0h3m1 0h2m2 0h1m6 0h1m8 0h1m2 0h1m12 0h1m3 0h1m41 0h1m-86 1h1m10 0h1m7 0h1m1 0h2m2 0h1m7 0h1m9 0h1m1 0h1m13 0h1m4 0h1m24 0h1m-96 1h1m1 0h1m10 0h1m1 0h1m7 0h1m1 0h1m3 0h1m20 0h1m17 0h1m26 0h1m-94 1h2m6 0h1m6 0h1m1 0h2m6 0h1m1 0h1m1 0h1m11 0h1m10 0h1m3 0h1m35 0h2m-93 1h1m7 0h1m4 0h1m4 0h1m7 0h1m9 0h1m7 0h1m1 0h1m2 0h1m13 0h1m-67 1h1m2 0h1m4 0h1m2 0h2m10 0h1m2 0h1m1 0h1m3 0h1m2 0h1m9 0h1m5 0h1m25 0h1m-77 1h1m3 0h1m4 0h1m2 0h1m5 0h1m2 0h1m5 0h1m2 0h3m3 0h1m19 0h1m8 0h1m11 0h1m6 0h1m10 0h1m-94 1h1m41 0h1m2 0h1m14 0h1m7 0h2m19 0h1m-85 1h1m2 0h1m22 0h1m1 0h1m2 0h1m17 0h1m2 0h1m3 0h1m19 0h1m-86 1h1m8 0h1m15 0h1m3 0h2m12 0h1m2 0h1m8 0h1m4 0h1m2 0h2m-60 1h1m5 0h1m3 0h1m8 0h1m5 0h1m2 0h1m4 0h1m5 0h1m7 0h1m6 0h1m1 0h1m8 0h1m12 0h1m-60 1h1m24 0h1m33 0h1m-91 1h1m14 0h1m6 0h1m3 0h1m3 0h1m9 0h1m6 0h1m7 0h1m13 0h1m9 0h3m7 0h1m3 0h1m-88 1h1m13 0h1m10 0h1m15 0h1m6 0h3m6 0h1m6 0h2m2 0h1m7 0h1m10 0h1m-180 1h1m91 0h1m3 0h1m6 0h1m6 0h1m1 0h2m17 0h1m9 0h1m13 0h1m9 0h1m13 0h1m-138 1h1m41 0h1m22 0h2m15 0h1m3 0h1m11 0h1m14 0h1m2 0h1m7 0h1m-59 1h1m3 0h3m10 0h1m8 0h1m10 0h1m9 0h1m16 0h1m7 0h1m-139 1h1m46 0h1m1 0h1m8 0h1m5 0h1m5 0h1m14 0h2m16 0h1m2 0h1m15 0h1m3 0h2m-118 1h1m35 0h1m2 0h1m15 0h2m16 0h1m1 0h1m11 0h1m3 0h1m7 0h1m9 0h1m2 0h1m4 0h1m5 0h1m-140 1h2m50 0h1m25 0h1m10 0h3m19 0h2m13 0h1m7 0h2m1 0h1m-143 1h2m54 0h1m23 0h1m12 0h2m16 0h1m3 0h1m8 0h1m6 0h1m1 0h1m1 0h1m-57 1h1m1 0h2m6 0h1m4 0h1m1 0h1m38 0h1m4 0h1m-165 1h1m34 0h1m5 0h1m36 0h1m22 0h1m1 0h1m8 0h2m34 0h1m-97 1h2m38 0h1m63 0h1m1 0h1m7 0h2m-158 1h1m5 0h1m36 0h1m23 0h1m2 0h2m9 0h2m5 0h1m1 0h1m10 0h1m-57 1h1m20 0h1m13 0h1m10 0h1m6 0h1m1 0h1m1 0h2m1 0h1m26 0h1m13 0h2m9 0h1m-112 1h1m18 0h1m14 0h1m14 0h1m2 0h1m39 0h1m10 0h1m9 0h1m-70 1h3m12 0h1m2 0h1m-62 1h1m35 0h1m20 0h1m1 0h1m45 0h1m5 0h1m-82 1h1m6 0h1m7 0h1m1 0h1m7 0h2m2 0h1m2 0h1m-43 1h1m24 0h1m1 0h1m39 0h1m2 0h2m9 0h1m-57 1h2m43 0h1m2 0h1m3 0h1m-90 1h1m28 0h1m15 0h1m35 0h1m4 0h1m12 0h1m-82 1h1m19 0h1m42 0h2m15 0h1m-62 1h1m1 0h1m5 0h1m1 0h1m30 0h3m-101 1h1m51 0h2m13 0h1m2 0h1m26 0h1m10 0h1m-56 1h1m6 0h1m35 0h1m1 0h1m-62 1h1m15 0h1m6 0h2m7 0h1m26 0h1m18 0h1m-74 1h1m57 0h1m2 0h1m-62 1h1m15 0h1m1 0h1m10 0h1m19 0h1m13 0h1m6 0h1m-53 1h1m36 0h1m16 0h1m-71 1h1m16 0h2m4 0h1m29 0h1m-34 1h1m35 0h1m-79 1h1m41 0h1m33 0h1m-56 1h1m7 0h1m38 0h1m9 0h1m5 1h2m-80 1h1m22 0h1m53 0h1m-58 1h1m1 0h1m53 0h1m-62 1h1m51 0h1m13 0h1m-74 1h1m46 0h1m9 0h1m10 0h1m-64 1h1m49 0h1m2 0h1m8 0h1m-75 1h1m6 0h1m13 0h1m9 0h1m12 0h1m13 0h1m6 0h1m-11 1h1m15 0h1m-12 1h1m6 0h1m-18 1h1m13 0h1m-2 1h1m7 0h1m-70 1h1m68 0h1m-136 1h1m77 0h1m17 0h1m3 0h1m-75 1h1m64 0h1m1 0h1m26 0h1m7 0h1m2 0h1m1 0h1m-131 1h1m95 0h1m18 0h1m6 0h1m-23 1h1m24 0h1m-38 1h1m-90 1h2m59 0h1m34 0h1m13 0h1m-52 1h1m41 0h2m-105 1h1m2 0h1m98 0h2m7 0h2m-111 1h1m54 0h1m-59 1h1m1 0h1m69 0h1m31 0h1m5 0h1m8 0h1m4 0h1m-22 1h1m1 0h1m3 0h1m9 0h1m2 0h1m-120 1h1m4 0h1m46 0h1m18 0h1m36 0h1m9 0h1m-124 1h1m4 0h1m2 0h1m3 0h1m77 0h1m14 0h1m14 0h1m-122 1h1m1 0h1m1 0h1m103 0h1m-107 1h1m3 0h1m73 0h1m22 0h1m3 0h1m-101 1h1m102 0h1m4 0h1m1 0h1m-113 1h1m5 0h1m72 0h1m19 0h1m5 0h1m8 0h1m-106 1h1m3 0h1m-4 1h1m69 0h1m16 0h1m-99 1h1m11 0h1m3 0h1m64 0h1m14 0h1m1 0h1m-85 1h1m79 0h2m8 0h1m-106 1h1m1 0h1m2 0h1m63 0h1m27 0h1m1 0h1m-100 1h2m15 0h1m30 0h1m56 0h1m-27 1h1m12 0h1m5 0h1m1 0h1m2 0h1m2 0h1m-74 1h1m1 0h2m2 0h3m5 0h1m1 0h1m6 0h2m1 0h1m2 0h1m3 0h1m3 0h1m13 0h1m7 0h1m5 0h1m-85 1h1m1 0h1m1 0h1m2 0h1m4 0h1m1 0h3m7 0h1m1 0h2m1 0h1m2 0h1m3 0h1m1 0h2m2 0h1m4 0h3m2 0h1m13 0h1m1 0h1m3 0h1m5 0h3m-82 1h1m2 0h2m10 0h1m9 0h1m2 0h1m13 0h1m4 0h2m3 0h2m2 0h2m2 0h1m2 0h1m5 0h1m1 0h2m-85 1h1m13 0h1m1 0h1m1 0h1m3 0h1m1 0h1m1 0h1m2 0h6m3 0h1m3 0h1m5 0h3m1 0h1m10 0h1m5 0h3m6 0h2m3 0h1m-66 1h1m3 0h2m2 0h1m1 0h1m2 0h1m37 0h1m2 0h3m1 0h1m1 0h3m4 0h3m-73 1h1m14 0h1m42 0h1m3 0h1m-78 1h1m10 0h1m1 0h1m7 0h1m2 0h1m12 0h1m40 0h1m-67 1h2m14 0h2m2 0h1m-33 1h1m6 0h1m4 0h1m8 0h1m3 0h1m11 0h1m-18 1h1m1 0h1m4 0h1m7 0h1m-13 1h1m5 0h1m-19 2h1m11 0h1m-7 2h1"/><path stroke="#8bd646" d="M166 8h1m10 1h1m-2 2h1m1 1h1m-7 1h1m6 1h1m-4 1h1m-23 2h1m17 1h1m1 1h1m-5 2h1m-10 1h1m9 0h2m-6 1h1m4 1h1m-3 1h1m2 0h1m1 0h1m-35 1h1m-2 1h1m25 0h1m-6 1h1m5 0h1m6 0h1m1 0h1m2 0h1m-10 1h1m-12 1h2m7 0h2m1 0h1m2 0h1m-32 1h1m5 0h1m22 0h1m-38 1h1m4 1h1m8 0h1m8 0h2m20 0h2m-13 1h1m11 0h1m-46 1h1m12 0h1m24 0h1m2 0h1m1 0h1m-43 1h1m6 0h1m7 0h1m26 0h1m4 0h1m-47 1h1m3 0h1m34 0h3m7 0h1m-47 1h1m2 0h3m7 0h2m8 0h1m16 0h1m4 0h1m-44 1h1m8 0h1m1 0h1m1 0h2m30 0h1m-55 1h1m10 0h1m1 0h1m6 0h1m3 0h1m2 0h1m15 0h1m7 0h1m6 0h1m-48 1h1m34 0h1m-55 1h1m4 0h1m5 0h1m7 0h1m10 0h1m6 0h1m12 0h1m5 0h1m-47 1h2m4 0h1m3 0h1m30 0h1m12 0h1m1 0h1m-59 1h1m4 0h1m9 0h1m3 0h3m1 0h1m6 0h1m8 0h1m12 0h1m1 0h1m3 0h1m-70 1h1m2 0h1m15 0h1m12 0h2m24 0h1m5 0h1m2 0h1m-61 1h1m8 0h1m3 0h1m28 0h1m3 0h1m-62 1h1m13 0h2m14 0h1m6 0h1m1 0h1m1 0h1m10 0h1m7 0h1m11 0h1m4 0h1m-67 1h1m6 0h1m5 0h1m6 0h1m4 0h2m2 0h1m5 0h1m2 0h1m-38 1h1m24 0h1m2 0h2m2 0h1m4 0h1m25 0h1m1 0h1m-64 1h1m1 0h1m3 0h2m8 0h2m1 0h1m2 0h1m1 0h1m5 0h1m8 0h1m6 0h1m4 0h1m-46 1h1m8 0h2m6 0h1m9 0h1m3 0h1m7 0h1m1 0h1m4 0h1m-48 1h1m3 0h1m22 0h1m9 0h1m1 0h2m7 0h1m-52 1h1m43 0h1m1 0h1m-70 1h1m26 0h1m9 0h2m6 0h1m3 0h1m10 0h1m-28 1h1m19 0h1m-31 1h1m8 0h1m4 0h1m11 0h1m-45 1h1m24 0h1m1 0h1m4 0h1m5 0h1m3 0h1m4 0h1m-51 1h1m2 0h1m4 0h1m2 0h1m2 0h2m10 0h1m11 0h1m-29 1h1m2 0h1m4 0h1m3 0h1m4 0h1m10 0h1m17 0h1m-33 1h2m3 0h1m26 0h1m7 0h2m-62 1h1m9 0h1m10 0h2m3 0h1m14 0h1m5 0h1m-49 1h1m6 0h1m17 0h3m4 0h1m10 0h1m3 0h1m6 0h2m3 0h1m-63 1h1m8 0h2m7 0h1m5 0h1m3 0h1m5 0h1m28 0h1m-65 1h1m11 0h2m4 0h1m1 0h1m1 0h3m7 0h1m7 0h1m1 0h1m4 0h1m4 0h1m2 0h1m3 0h1m5 0h1m19 0h1m4 0h1m-95 1h1m17 0h4m1 0h2m1 0h1m21 0h1m5 0h1m5 0h1m3 0h1m1 0h1m6 0h2m22 0h1m-94 1h1m3 0h1m1 0h1m3 0h1m2 0h1m3 0h2m8 0h1m12 0h1m7 0h1m3 0h1m3 0h1m10 0h1m18 0h1m5 0h1m-93 1h1m13 0h1m2 0h1m6 0h1m1 0h1m6 0h1m8 0h1m1 0h1m16 0h1m1 0h1m3 0h1m-68 1h1m12 0h1m1 0h1m2 0h1m15 0h1m3 0h1m3 0h1m3 0h1m2 0h1m9 0h1m12 0h1m13 0h2m-83 1h1m5 0h1m2 0h1m11 0h2m5 0h3m8 0h1m3 0h1m4 0h1m7 0h1m2 0h1m1 0h1m8 0h1m4 0h1m-78 1h1m10 0h1m16 0h2m1 0h1m5 0h1m1 0h2m20 0h1m8 0h1m-65 1h1m6 0h1m8 0h1m2 0h2m5 0h1m6 0h1m13 0h1m5 0h1m6 0h1m11 0h1m4 0h1m4 0h1m-92 1h2m3 0h2m2 0h1m1 0h1m7 0h1m38 0h1m2 0h3m3 0h1m9 0h1m-75 1h1m2 0h1m2 0h1m1 0h1m14 0h2m4 0h1m23 0h1m24 0h1m-83 1h1m8 0h1m29 0h1m1 0h2m4 0h1m10 0h1m11 0h2m20 0h1m-94 1h3m11 0h1m2 0h1m4 0h1m1 0h1m5 0h1m8 0h1m1 0h1m2 0h1m27 0h1m16 0h1m-92 1h1m16 0h1m10 0h1m1 0h1m3 0h2m9 0h2m10 0h2m1 0h1m17 0h1m10 0h1m-91 1h1m7 0h1m8 0h1m7 0h1m4 0h1m3 0h1m11 0h1m27 0h1m3 0h1m4 0h1m7 0h1m-184 1h2m102 0h1m11 0h1m5 0h2m14 0h1m17 0h1m12 0h2m-169 1h1m108 0h1m1 0h1m15 0h1m10 0h2m1 0h1m7 0h3m17 0h1m-168 1h1m104 0h1m17 0h1m31 0h3m2 0h2m-162 1h1m84 0h1m61 0h1m10 0h1m8 0h1m-168 1h1m47 0h1m1 0h1m54 0h1m35 0h1m11 0h1m3 0h1m7 0h1m6 0h1m5 0h1m-179 1h1m27 0h1m1 0h1m2 0h1m14 0h1m61 0h1m1 0h1m3 0h2m6 0h1m31 0h1m-157 1h1m32 0h1m11 0h1m7 0h1m61 0h1m6 0h1m21 0h1m11 0h1m1 0h1m1 0h1m19 0h1m-157 1h2m11 0h1m7 0h1m7 0h1m43 0h1m16 0h1m2 0h1m1 0h1m24 0h1m3 0h1m8 0h1m15 0h1m1 0h1m-138 1h1m14 0h1m33 0h1m6 0h1m3 0h1m20 0h1m23 0h1m4 0h1m25 0h1m-170 1h1m33 0h2m38 0h1m23 0h1m6 0h1m4 0h1m35 0h1m1 0h1m13 0h1m5 0h1m-165 1h1m4 0h2m1 0h1m86 0h2m3 0h1m5 0h1m1 0h1m24 0h1m10 0h1m3 0h1m1 0h1m10 0h1m-94 1h1m26 0h1m6 0h1m6 0h2m2 0h1m22 0h2m1 0h1m2 0h2m-78 1h2m25 0h1m10 0h2m7 0h1m26 0h1m-39 1h1m2 0h1m30 0h1m2 0h1m-78 1h1m1 0h2m2 0h2m15 0h1m1 0h1m7 0h1m44 0h2m6 0h1m1 0h1m11 0h1m-112 1h1m9 0h1m75 0h1m7 0h1m3 0h2m-99 1h1m7 0h1m35 0h1m9 0h1m4 0h1m36 0h1m-95 1h1m3 0h1m50 0h1m28 0h1m3 0h1m1 0h1m3 0h1m3 0h2m-61 1h1m2 0h1m38 0h1m5 0h1m-105 1h1m17 0h3m21 0h1m57 0h1m-46 1h1m5 0h1m40 0h3m1 0h1m3 0h1m3 0h1m-115 1h1m51 0h1m46 0h1m10 0h2m1 0h1m-54 1h1m6 0h1m38 0h1m3 0h1m-13 1h1m2 0h1m-48 1h1m59 0h1m-44 1h1m23 0h1m4 0h1m4 0h1m-37 1h1m1 0h1m21 0h1m5 0h1m6 0h1m7 0h1m-25 1h1m4 0h1m3 0h1m-5 1h1m4 0h1m7 0h2m1 0h2m-18 1h2m6 0h1m4 0h1m1 0h1m-15 1h1m3 0h1m6 0h1m-58 1h2m49 0h1m-53 1h1m59 0h1m-64 2h1m60 0h2m-74 1h1m9 0h1m60 0h1m-54 1h1m-8 1h1m47 0h1m9 0h1m-11 1h1m-13 1h2m1 0h1m2 1h1m5 1h1m3 0h1m-60 1h1m54 0h1m4 0h1m-13 1h1m6 0h1m-13 1h1m-4 1h1m-46 1h1m42 0h1m2 0h1m2 0h1m-55 1h1m47 0h2m6 0h2m-59 1h1m54 0h1m4 0h1m1 0h1m-16 1h1m6 0h1m8 0h1m-120 1h2m97 0h1m-100 1h1m97 0h1m6 0h1m3 0h1m7 0h1m-118 1h2m97 0h1m13 0h1m-118 1h1m103 0h1m4 0h1m3 0h1m-117 1h1m77 0h1m1 0h1m18 0h1m1 0h1m3 0h1m-102 1h2m50 0h1m18 0h1m23 0h1m5 0h2m2 0h1m1 0h3m-109 1h1m1 0h1m47 0h1m48 0h1m2 0h1m3 0h2m2 0h1m1 0h1m-118 1h1m5 0h2m1 0h2m95 0h1m3 0h1m-103 1h1m2 0h2m96 0h1m-110 1h1m5 0h1m92 0h1m5 0h1m2 0h1m-104 1h1m1 0h2m73 0h1m22 0h1m7 0h1m-103 1h1m71 0h1m14 0h1m-97 1h1m9 0h1m6 0h1m78 0h1m-91 1h1m5 0h1m4 0h1m74 0h1m4 0h2m3 0h1m4 0h1m-98 1h2m80 0h1m3 0h1m5 0h1m-103 1h1m9 0h1m3 0h1m2 0h2m57 0h1m17 0h1m5 0h1m1 0h1m-104 1h1m4 0h1m10 0h3m23 0h1m57 0h1m3 0h1m-98 1h1m10 0h1m28 0h1m2 0h1m1 0h1m6 0h2m-57 1h1m6 0h1m7 0h1m3 0h1m6 0h1m13 0h1m1 0h1m1 0h1m1 0h1m5 0h3m4 0h2m4 0h1m7 0h2m3 0h1m13 0h1m-86 1h1m1 0h2m3 0h1m2 0h2m1 0h1m3 0h5m2 0h1m8 0h1m1 0h3m6 0h2m1 0h1m4 0h1m6 0h1m8 0h2m1 0h1m3 0h1m-83 1h1m8 0h1m1 0h1m3 0h3m3 0h1m1 0h1m19 0h1m5 0h2m1 0h1m2 0h1m2 0h1m1 0h1m2 0h1m4 0h2m7 0h1m2 0h3m-87 1h1m11 0h3m1 0h1m2 0h2m21 0h1m14 0h3m7 0h1m2 0h1m6 0h1m4 0h1m-71 1h1m3 0h1m2 0h1m9 0h1m13 0h1m12 0h1m-58 1h1m12 0h1m2 0h2m1 0h1m10 0h1m4 0h1m1 0h1m4 0h1m30 0h1m-62 1h1m3 0h2m1 0h1m5 0h1m1 0h1m6 0h1m2 0h1m-36 1h1m24 0h1m-14 1h1m4 0h1m2 0h1m9 0h1m5 0h1m-28 1h1m4 0h1m2 0h1m3 0h1m7 0h1m-14 2h1"/><path stroke="#addc30" d="M155 8h1m12 1h1m11 0h1m-30 2h1m6 0h1m18 0h3m-10 1h1m6 0h1m-1 2h1m-8 2h2m-16 1h1m17 1h1m2 0h1m1 1h1m-7 3h1m1 0h1m-2 1h1m-7 2h2m0 1h1m-10 1h1m9 0h1m1 0h1m-6 1h1m-1 1h1m3 0h1m4 0h2m-9 1h1m1 0h1m6 0h1m-22 1h1m10 0h2m4 0h1m2 0h1m-21 1h1m8 0h1m4 0h1m2 0h1m5 0h1m-3 1h1m-6 1h1m6 1h1m-6 1h1m5 0h1m-43 1h1m4 0h1m6 0h2m26 0h1m2 0h1m-32 1h1m25 0h1m-38 1h1m2 0h1m8 0h1m6 0h1m20 0h1m-36 1h1m5 0h1m4 0h1m22 0h1m-46 1h1m1 0h1m5 0h2m6 0h1m4 0h1m30 0h1m-58 1h1m13 0h1m16 0h1m16 0h1m1 0h1m5 0h1m5 0h1m-62 1h1m15 0h2m4 0h1m1 0h1m5 0h1m18 0h3m1 0h1m2 0h1m-51 1h2m1 0h1m7 0h1m14 0h1m14 0h1m4 0h1m5 0h1m1 0h1m-63 1h1m3 0h1m2 0h2m8 0h1m1 0h1m15 0h1m8 0h1m6 0h1m2 0h1m7 0h1m-58 1h1m5 0h1m1 0h1m3 0h1m4 0h1m3 0h1m6 0h1m3 0h1m8 0h1m5 0h1m1 0h1m-52 1h2m3 0h1m5 0h1m11 0h1m1 0h1m1 0h1m3 0h1m10 0h1m6 0h1m1 0h1m2 0h1m3 0h1m-54 1h1m5 0h1m1 0h1m2 0h1m8 0h1m5 0h1m24 0h3m-62 1h1m8 0h1m6 0h1m1 0h1m5 0h1m3 0h2m1 0h1m4 0h1m8 0h2m11 0h2m2 0h1m-52 1h1m9 0h1m6 0h1m2 0h1m2 0h1m2 0h2m18 0h1m2 0h1m-56 1h1m2 0h1m15 0h1m4 0h1m5 0h2m18 0h1m1 0h1m-51 1h1m2 0h3m6 0h1m4 0h1m2 0h2m14 0h1m2 0h1m-39 1h1m1 0h2m4 0h1m9 0h1m1 0h2m15 0h1m-43 1h1m1 0h1m5 0h1m2 0h1m17 0h1m11 0h1m7 0h1m-42 1h1m1 0h1m2 0h5m-20 1h1m10 0h1m7 0h1m15 0h1m1 0h2m-28 1h2m9 0h1m10 0h1m4 0h1m-34 1h1m2 0h1m3 0h1m8 0h1m8 0h1m3 0h1m3 0h1m-52 1h1m12 0h1m8 0h1m25 0h1m-21 1h1m1 0h1m1 0h1m4 0h1m9 0h1m4 0h1m3 0h1m-48 1h3m9 0h2m3 0h1m2 0h1m18 0h2m9 0h1m-55 1h1m11 0h1m6 0h4m5 0h1m2 0h1m3 0h1m7 0h1m4 0h1m-53 1h1m10 0h1m10 0h1m1 0h1m7 0h1m2 0h1m11 0h5m2 0h1m1 0h1m-56 1h1m8 0h1m9 0h1m3 0h1m10 0h1m1 0h1m9 0h1m9 0h1m19 0h1m-90 1h1m13 0h1m17 0h3m5 0h2m2 0h3m13 0h1m29 0h1m4 0h1m-78 1h1m7 0h1m4 0h5m4 0h3m2 0h1m4 0h1m5 0h2m2 0h1m3 0h1m3 0h1m21 0h1m1 0h2m2 0h1m-85 1h1m8 0h2m14 0h2m1 0h2m25 0h1m6 0h1m-62 1h1m3 0h1m1 0h1m9 0h1m3 0h2m12 0h1m13 0h1m10 0h1m20 0h1m-79 1h1m2 0h2m1 0h1m13 0h1m6 0h1m18 0h1m1 0h1m6 0h1m1 0h1m18 0h1m2 0h2m-86 1h1m3 0h1m27 0h1m1 0h1m10 0h1m8 0h1m5 0h2m11 0h1m5 0h2m3 0h1m-95 1h1m12 0h3m1 0h1m2 0h1m12 0h1m1 0h2m18 0h1m7 0h1m14 0h1m3 0h1m2 0h2m5 0h2m-88 1h1m6 0h1m1 0h1m3 0h1m1 0h1m5 0h1m1 0h2m10 0h1m20 0h1m21 0h1m5 0h1m-83 1h1m2 0h1m1 0h1m1 0h1m2 0h1m5 0h1m6 0h1m1 0h1m13 0h1m15 0h1m2 0h2m2 0h1m6 0h1m2 0h1m5 0h1m2 0h1m-71 1h2m3 0h1m36 0h2m2 0h1m4 0h2m5 0h1m-46 1h1m8 0h1m19 0h1m4 0h1m3 0h1m3 0h1m2 0h1m13 0h1m-67 1h1m2 0h1m33 0h1m18 0h1m1 0h1m5 0h1m-61 1h1m1 0h1m28 0h1m3 0h1m4 0h1m8 0h1m4 0h1m3 0h1m-184 1h1m106 0h1m11 0h1m21 0h1m13 0h1m4 0h2m2 0h2m11 0h1m3 0h2m-91 1h1m14 0h1m9 0h1m40 0h1m1 0h1m3 0h1m6 0h2m2 0h1m1 0h1m3 0h1m1 0h1m-25 1h1m4 0h1m10 0h1m6 0h1m-63 1h1m35 0h1m1 0h1m4 0h1m8 0h1m-63 1h1m7 0h2m40 0h2m2 0h1m14 0h2m5 0h1m-154 1h1m1 0h1m4 0h1m12 0h1m3 0h1m30 0h1m35 0h1m21 0h1m9 0h1m18 0h1m6 0h2m-153 1h1m9 0h1m10 0h1m5 0h1m56 0h1m41 0h2m11 0h1m2 0h2m-168 1h1m34 0h1m44 0h1m30 0h1m32 0h1m3 0h1m2 0h2m-151 1h2m18 0h1m20 0h1m9 0h1m65 0h1m26 0h1m5 0h2m11 0h2m4 0h1m-169 1h1m1 0h1m31 0h1m2 0h2m59 0h1m40 0h3m1 0h1m22 0h2m2 0h1m1 0h1m-169 1h1m1 0h2m1 0h1m2 0h1m2 0h1m2 0h1m33 0h1m57 0h1m1 0h1m26 0h2m1 0h2m1 0h4m16 0h1m1 0h1m3 0h1m-77 1h1m5 0h1m41 0h1m2 0h1m20 0h2m-68 1h1m2 0h1m2 0h1m33 0h2m1 0h1m8 0h3m9 0h1m2 0h1m-99 1h2m74 0h2m-80 1h1m32 0h2m40 0h1m10 0h1m1 0h1m1 0h1m-104 1h1m11 0h1m48 0h1m26 0h1m2 0h2m4 0h1m13 0h1m-111 1h1m1 0h1m40 0h1m3 0h1m1 0h1m8 0h1m32 0h3m10 0h2m-104 1h1m5 0h1m79 0h1m15 0h1m-101 1h1m1 0h1m32 0h1m52 0h1m1 0h1m4 0h1m-13 1h1m2 0h1m4 0h3m-110 1h1m49 0h1m59 0h2m1 0h1m1 0h1m-58 1h1m39 0h1m11 0h1m4 0h1m-47 1h1m29 0h1m5 0h1m3 0h1m3 0h1m-49 1h1m28 0h1m2 0h1m6 0h1m5 0h1m1 0h2m1 0h1m-60 1h1m12 0h1m22 0h1m4 0h2m8 0h1m2 0h1m2 0h1m-18 1h2m1 0h2m12 0h1m-13 1h1m4 0h1m1 0h1m1 0h1m-11 1h1m1 0h1m3 0h1m1 0h2m-9 1h1m0 1h1m6 0h1m-6 1h1m3 0h1m2 0h1m-2 1h1m-53 1h1m46 0h1m-2 1h1m3 0h1m-2 1h1m-75 2h1m61 0h1m-22 1h1m-16 1h1m44 0h1m-23 1h1m3 0h1m3 0h1m2 0h1m-9 1h1m-123 2h2m122 0h1m1 0h1m1 0h1m-127 1h2m123 0h2m-38 1h1m27 0h1m-117 1h1m63 0h1m49 0h2m-115 1h2m108 0h1m-109 2h2m6 1h1m49 0h1m41 0h1m18 0h1m-65 1h1m62 0h1m-117 1h1m105 0h2m1 0h1m7 0h2m-118 1h1m97 0h1m3 0h2m3 0h1m-115 1h1m77 0h1m27 0h1m1 0h1m7 0h1m-117 1h1m1 0h1m1 0h1m102 0h2m3 0h1m1 0h1m1 0h1m3 0h1m-123 1h1m1 0h1m4 0h1m1 0h1m105 0h3m1 0h1m-118 1h2m5 0h2m91 0h1m3 0h1m1 0h2m-105 1h1m6 0h1m90 0h1m1 0h1m3 0h1m7 0h2m-112 1h1m92 0h1m2 0h1m4 0h1m4 0h1m-107 1h1m1 0h2m98 0h1m1 0h1m1 0h2m-113 1h1m3 0h1m96 0h2m7 0h1m-110 1h1m4 0h1m1 0h1m93 0h1m5 0h1m-5 1h1m-103 1h1m2 0h1m4 0h1m88 0h1m6 0h1m-102 1h1m3 0h1m2 0h2m84 0h1m7 0h1m-102 1h1m5 0h3m78 0h1m4 0h2m2 0h1m2 0h1m-104 1h1m1 0h1m2 0h1m2 0h2m1 0h1m78 0h4m7 0h1m-95 1h1m23 0h1m2 0h1m6 0h1m57 0h1m-100 1h1m4 0h1m13 0h1m2 0h1m6 0h1m15 0h1m5 0h1m16 0h1m13 0h1m-77 1h2m7 0h1m1 0h2m15 0h1m6 0h1m22 0h1m4 0h1m-62 1h1m1 0h1m22 0h1m3 0h1m20 0h1m4 0h2m7 0h2m-55 1h1m23 0h1m14 0h1m-62 1h1m2 0h1m8 0h1m8 0h2m-8 1h1m28 0h3m27 0h1m-55 1h1m1 0h1m13 0h1m41 0h1m-70 1h1m11 0h1m3 0h1m5 0h1m-25 1h2m2 0h1m1 0h1m23 0h1m-28 1h1m7 0h1m2 0h2m4 0h1m-17 1h1m6 0h1m1 0h1m-5 2h1m6 0h1"/><path stroke="#cde11d" d="M178 10h1m3 0h2m-11 1h2m-3 1h1m2 0h2m-8 5h2m0 1h1m-2 1h1m2 4h1m-5 1h1m3 0h1m-3 1h2m-5 1h2m3 0h1m-7 1h1m2 0h1m-1 1h3m-2 1h1m3 0h1m4 0h1m-8 1h1m6 0h1m-39 2h1m36 0h1m-36 1h1m36 3h1m0 1h1m-30 1h1m28 0h1m-38 1h1m36 0h1m2 0h1m-45 1h2m1 0h1m8 0h1m28 0h1m3 0h1m-4 1h2m-30 1h1m6 0h1m16 0h1m1 0h1m2 0h2m-48 1h1m15 0h1m1 0h1m5 0h2m19 0h1m1 0h2m-56 1h2m3 0h1m4 0h1m5 0h1m33 0h2m2 0h1m-58 1h1m2 0h2m1 0h1m19 0h1m8 0h1m21 0h1m6 0h1m-40 1h1m9 0h1m1 0h1m16 0h1m1 0h2m1 0h6m-49 1h1m1 0h1m1 0h1m4 0h1m11 0h2m15 0h1m8 0h1m-61 1h1m8 0h1m6 0h1m1 0h1m3 0h1m8 0h1m2 0h1m9 0h1m6 0h1m3 0h1m4 0h2m-62 1h1m4 0h1m12 0h1m1 0h1m10 0h2m3 0h1m18 0h1m-79 1h1m23 0h1m4 0h2m13 0h1m5 0h1m5 0h1m14 0h1m1 0h1m5 0h1m2 0h1m-49 1h1m3 0h1m9 0h1m2 0h1m3 0h1m21 0h1m1 0h1m2 0h2m-50 1h1m23 0h1m-29 1h1m2 0h2m3 0h1m6 0h2m1 0h1m4 0h2m5 0h1m22 0h1m-61 1h1m10 0h1m8 0h1m3 0h1m4 0h1m1 0h2m-30 1h2m14 0h1m8 0h1m2 0h1m3 0h1m-21 1h2m3 0h1m7 0h1m-17 1h1m3 0h2m8 0h2m2 0h1m4 0h2m-29 1h3m3 0h1m4 0h1m1 0h1m5 0h1m2 0h3m1 0h1m1 0h1m-30 1h1m2 0h4m1 0h2m2 0h1m1 0h1m3 0h1m3 0h2m1 0h2m-43 1h1m7 0h1m1 0h1m3 0h1m1 0h1m2 0h1m4 0h1m3 0h1m2 0h1m4 0h1m1 0h1m2 0h1m1 0h1m11 0h1m-48 1h2m12 0h2m8 0h1m1 0h1m1 0h1m8 0h1m-47 1h1m24 0h1m2 0h1m4 0h1m7 0h1m3 0h1m-46 1h1m5 0h1m2 0h1m2 0h1m9 0h1m5 0h1m4 0h1m6 0h1m1 0h1m-44 1h1m5 0h1m18 0h3m14 0h2m2 0h2m1 0h1m22 0h2m7 0h2m-84 1h1m17 0h1m7 0h1m2 0h2m5 0h1m5 0h2m1 0h1m27 0h2m1 0h1m3 0h1m-79 1h1m3 0h1m19 0h1m18 0h1m14 0h1m14 0h1m-75 1h1m17 0h1m1 0h1m8 0h2m24 0h1m1 0h1m17 0h2m4 0h2m-83 1h1m27 0h1m24 0h1m1 0h1m21 0h2m1 0h2m-83 1h1m29 0h1m1 0h1m25 0h1m7 0h1m1 0h2m5 0h1m1 0h1m1 0h2m-83 1h1m3 0h1m69 0h1m6 0h2m-76 1h1m57 0h1m3 0h2m5 0h2m-69 1h1m10 0h1m14 0h1m13 0h1m7 0h2m12 0h1m2 0h3m1 0h1m3 0h2m-76 1h1m23 0h1m21 0h1m12 0h1m2 0h2m2 0h1m1 0h1m5 0h2m-80 1h1m2 0h1m13 0h1m13 0h1m19 0h1m15 0h3m4 0h3m-79 1h1m2 0h2m18 0h1m6 0h1m16 0h1m1 0h1m2 0h1m5 0h2m7 0h1m1 0h1m2 0h1m6 0h2m-83 1h1m20 0h1m28 0h1m2 0h2m2 0h1m4 0h1m4 0h1m6 0h1m5 0h2m-26 1h2m11 0h1m10 0h1m-29 1h1m3 0h1m9 0h4m2 0h1m9 0h1m-185 1h1m156 0h2m10 0h1m1 0h1m2 0h2m1 0h1m5 0h1m-32 1h2m1 0h1m17 0h2m7 0h1m-28 1h3m16 0h2m2 0h1m3 0h1m-133 1h1m1 0h1m95 0h2m2 0h1m17 0h1m1 0h1m4 0h2m3 0h1m-136 1h1m97 0h1m3 0h2m3 0h1m16 0h5m6 0h1m-42 1h1m2 0h1m5 0h1m3 0h1m22 0h1m1 0h1m-135 1h1m96 0h1m9 0h1m19 0h2m5 0h3m-85 1h1m24 0h1m29 0h1m17 0h1m1 0h1m1 0h1m1 0h1m2 0h1m-172 1h1m87 0h1m20 0h1m24 0h1m4 0h1m1 0h1m3 0h1m1 0h2m16 0h1m2 0h1m-73 1h1m44 0h1m5 0h1m17 0h3m-66 1h1m43 0h1m1 0h1m1 0h1m16 0h2m-70 1h1m2 0h1m37 0h1m3 0h1m21 0h2m-116 1h1m45 0h1m4 0h1m35 0h1m2 0h1m2 0h1m1 0h2m1 0h1m12 0h1m-23 1h1m2 0h1m4 0h1m-12 1h1m-27 1h1m27 0h1m6 0h2m2 0h2m3 0h1m-20 1h3m8 0h1m2 0h2m3 0h1m-101 1h1m81 0h2m4 0h1m3 0h4m1 0h2m1 0h1m-21 1h1m1 0h1m5 0h4m3 0h7m-14 1h1m1 0h2m2 0h1m4 0h1m-16 1h8m5 0h3m-55 1h1m40 0h2m3 0h2m2 0h2m3 0h2m-14 1h1m2 0h1m4 0h1m-129 1h1m116 0h1m10 0h1m-11 1h1m3 0h1m6 0h1m1 0h1m-16 1h2m1 0h1m2 0h1m-12 1h1m4 0h1m3 0h1m-10 1h1m0 1h1m7 0h2m1 1h1m2 2h1m-3 1h1m-6 1h1m-45 4h1m-29 2h1m59 0h1m2 2h1m0 1h1m-129 1h2m110 0h2m1 0h1m-4 1h2m-1 1h1m-112 1h2m0 2h1m104 0h1m2 1h1m9 0h1m-17 2h1m3 0h3m-108 1h2m104 0h1m-110 1h1m3 0h1m90 0h1m6 0h2m4 0h1m1 0h1m1 0h1m-11 1h1m-102 1h1m103 0h1m2 0h2m3 0h1m-17 1h1m5 0h1m2 0h6m-111 1h1m2 0h2m90 0h2m7 0h2m3 0h2m-11 1h1m3 0h1m1 0h1m2 0h1m-107 1h2m95 0h1m2 0h1m4 0h1m-114 1h2m103 0h1m-98 1h3m-7 1h2m2 0h3m85 0h1m12 0h1m-105 1h1m1 0h1m1 0h1m-5 1h1m1 0h1m2 0h1m6 0h1m76 0h1m1 0h2m-97 1h1m1 0h1m2 0h1m5 0h1m-10 1h1m2 0h1m1 0h1m1 0h5m26 0h1m11 0h1m42 0h1m-94 1h1m4 0h1m3 0h1m1 0h1m-14 1h3m2 0h2m43 0h1m10 0h1m-56 1h1m1 0h1m67 0h1m4 0h1m-72 1h1m-12 1h2m3 0h1m72 0h1m-73 1h1m1 1h1m5 0h1m19 0h1m43 0h1m-69 1h1m4 0h1m3 0h1m12 0h1m3 0h1m-32 1h1m2 0h2m22 0h1m-6 1h1m-12 1h1m1 0h1m2 0h2m-1 1h1m-7 1h1"/><path stroke="#efe51c" d="M171 19h1m-1 2h2m-2 5h2m-1 1h1m1 2h1m-4 3h1m9 5h1m-2 1h1m2 0h1m-46 3h1m42 0h2m2 0h2m-33 1h1m28 0h1m0 2h1m-3 1h1m1 0h1m1 0h1m-42 1h1m8 0h1m31 0h1m-38 1h1m12 0h1m25 0h1m-39 1h1m36 0h1m-3 1h1m-1 1h1m-50 1h1m23 1h1m30 0h1m-51 2h1m12 0h1m3 0h1m7 0h1m-16 1h4m8 0h3m-14 1h2m9 0h1m2 0h1m-28 1h1m13 0h1m2 0h1m5 0h1m2 0h1m-19 1h1m5 0h1m2 0h2m1 0h1m6 0h1m-22 1h1m3 0h1m1 0h1m1 0h1m1 0h1m1 0h3m-29 1h1m8 0h1m10 0h2m4 0h1m1 0h1m1 0h2m-13 1h3m7 0h1m1 0h2m-13 1h1m9 0h1m-14 1h1m13 0h1m-15 1h1m51 0h1m-80 1h1m75 0h1m-75 1h1m26 0h1m41 0h2m3 0h1m-77 1h1m70 0h1m4 0h2m-49 1h1m23 0h1m17 0h2m-76 1h1m67 0h1m5 0h2m1 0h1m-15 1h1m5 0h1m4 0h3m-6 1h1m4 1h1m2 0h2m-29 1h1m4 0h1m13 0h1m6 0h2m-78 1h1m70 0h1m-23 1h1m3 0h1m15 0h2m4 0h1m-27 1h1m10 0h1m15 0h1m2 0h1m-31 1h1m13 0h1m12 0h1m1 0h2m-12 1h1m4 0h6m-11 1h1m5 0h4m-14 1h1m8 0h4m1 0h1m-32 1h1m1 0h1m21 0h2m1 0h3m1 0h1m-34 1h1m25 0h1m3 0h1m-33 1h1m3 0h1m23 0h1m2 0h3m-33 1h1m26 0h1m1 0h1m1 0h1m-30 1h1m23 0h1m2 0h1m-36 2h1m34 0h1m-23 1h2m19 0h1m-23 1h1m1 0h1m16 0h1m-22 1h2m1 0h2m-10 1h1m6 1h2m-1 1h1m1 0h1m4 3h1m-19 1h1m3 3h1m2 0h1m10 2h1m-7 1h1m-6 1h1m3 0h1m-3 1h1m-1 1h1m-32 22h1m-103 1h1m96 2h1m8 0h1m-6 2h1m-107 1h1m111 0h1m-7 4h2m-1 1h3m-3 1h1m-99 1h1m-5 1h1m-1 1h1m-1 1h2m-8 1h1m1 0h2m3 1h1m-10 1h1m3 0h2m-3 1h1m1 0h2m1 0h1m-4 1h2m-1 1h2m10 0h1m-12 1h2m-3 1h2m1 0h1m-5 1h1m3 0h1m3 0h1m0 1h1m4 1h1"/></g><rect x="0" y="0" width="206" height="162" fill="url(#gr)" clip-path="url(#mk)"/></g><text x="110.5" y="1183.0" font-size="36.67" fill="#4d4d4d" text-anchor="end">22°S</text><text x="110.5" y="1286.8" font-size="36.67" fill="#4d4d4d" text-anchor="end">24°S</text><text x="110.5" y="1390.6" font-size="36.67" fill="#4d4d4d" text-anchor="end">26°S</text><text x="110.5" y="1494.4" font-size="36.67" fill="#4d4d4d" text-anchor="end">28°S</text><text x="110.5" y="1598.2" font-size="36.67" fill="#4d4d4d" text-anchor="end">30°S</text><text x="110.5" y="1702.0" font-size="36.67" fill="#4d4d4d" text-anchor="end">32°S</text><text x="110.5" y="1805.8" font-size="36.67" fill="#4d4d4d" text-anchor="end">34°S</text><path d="M131.0 1169.7h-11.5M131.0 1273.5h-11.5M131.0 1377.3h-11.5M131.0 1481.1h-11.5M131.0 1584.9h-11.5M131.0 1688.7h-11.5M131.0 1792.5h-11.5" stroke="#333" stroke-width="4.45" fill="none"/><text x="332.0" y="1915.5" font-size="36.67" fill="#4d4d4d" text-anchor="middle">20°E</text><text x="559.9" y="1915.5" font-size="36.67" fill="#4d4d4d" text-anchor="middle">25°E</text><text x="787.8" y="1915.5" font-size="36.67" fill="#4d4d4d" text-anchor="middle">30°E</text><path d="M332.0 1868.6v11.5M559.9 1868.6v11.5M787.8 1868.6v11.5" stroke="#333" stroke-width="4.45" fill="none"/><rect x="982.0" y="1072.0" width="827.0" height="69.0" fill="#d9d9d9"/><text x="1395.5" y="1118.6" font-size="36.67" fill="#1a1a1a" text-anchor="middle">ub</text><rect x="982.0" y="1141.0" width="827.0" height="727.6" fill="#ebebeb"/><path d="M982.0 1169.7h827.0M982.0 1273.5h827.0M982.0 1377.3h827.0M982.0 1481.1h827.0M982.0 1584.9h827.0M982.0 1688.7h827.0M982.0 1792.5h827.0M1183.0 1141.0v727.6M1410.9 1141.0v727.6M1638.8 1141.0v727.6" stroke="#fff" stroke-width="4.45" fill="none"/><g transform="translate(1000.68,1143.75) scale(3.7983,4.3250)"><g transform="translate(0,0.5)" stroke-width="1" fill="none" shape-rendering="crispEdges"><path stroke="#460a5d" d="M55 70h1m39 1h1m-7 26h1m-9 20h1m-28 9h1"/><path stroke="#481c6e" d="M149 21h1m2 0h1m-4 3h1m-58 29h1m10 0h1m-12 4h1m1 2h2m0 3h1m-3 8h1m-2 2h1m-1 5h1m-85 2h1m0 1h5m-4 1h3m1 0h1m-6 1h4m1 0h1m-6 1h2m1 0h2m-7 1h2m1 0h5m-7 1h7m-2 1h1m1 0h1m73 0h1m-81 1h1m1 0h4m1 0h2m-9 1h5m1 0h6m18 0h1m-32 1h9m3 0h2m1 0h4m11 0h3m-31 1h1m2 0h1m3 0h4m2 0h4m2 0h2m2 0h3m1 0h5m-32 1h1m7 0h1m3 0h11m1 0h11m-36 1h1m3 0h1m3 0h4m1 0h7m2 0h1m2 0h1m1 0h7m1 0h1m50 0h1m-85 1h2m2 0h1m2 0h5m1 0h7m5 0h6m-31 1h1m2 0h5m1 0h6m1 0h1m1 0h1m1 0h1m3 0h2m-26 1h2m1 0h2m4 0h4m1 0h4m1 0h3m4 0h1m-26 1h1m3 0h3m2 0h8m2 0h1m-20 1h1m1 0h1m1 0h1m1 0h15m21 0h1m32 0h1m2 0h1m-79 1h5m3 0h13m3 0h1m-24 1h2m3 0h1m1 0h13m8 0h1m-29 1h3m1 0h1m3 0h1m1 0h5m1 0h2m1 0h1m-20 1h2m2 0h1m2 0h10m-16 1h2m3 0h1m1 0h9m-16 1h2m2 0h12m-16 1h2m1 0h2m1 0h1m2 0h5m-13 1h1m2 0h8m1 0h1m-12 1h1m1 0h11m13 0h1m-25 1h11m-13 1h8m1 0h2m1 0h1m37 0h1m-49 1h4m1 0h1m1 0h1m2 0h1m68 0h1m-80 1h6m1 0h1m2 0h2m12 0h1m-22 1h5m-5 1h2m38 4h2m-1 3h1m-19 3h1m-1 1h1m56 0h1m-50 1h1m6 0h1m-1 1h1m-11 1h1m14 0h2m0 1h1m-19 1h2m1 0h1m17 1h1m-22 1h1m22 0h1m6 5h1m-3 3h1m-17 1h1m17 1h1"/><path stroke="#472d7b" d="M150 16h1m-1 3h1m11 0h1m-9 1h1m-4 1h1m-6 1h1m3 0h2m-2 4h1m-27 14h1m26 3h1m-69 2h1m2 0h1m81 0h1m-67 7h1m-9 2h1m-4 1h3m-16 1h1m14 2h1m10 0h1m71 0h1m-84 1h1m9 1h1m-20 1h1m-37 1h1m5 0h1m-1 1h2m4 7h1m33 6h1m-85 3h4m-4 2h1m3 0h1m-1 1h1m77 0h1m-81 1h1m2 0h1m101 0h1m-111 1h1m2 0h1m78 0h1m-83 1h2m33 0h1m1 0h1m-38 1h7m1 0h1m25 0h2m-35 1h2m1 0h1m4 0h1m23 0h3m1 0h1m-37 1h2m5 0h1m25 0h6m41 0h1m4 0h1m-76 1h3m2 0h1m18 0h6m-39 1h2m1 0h2m1 0h3m4 0h2m4 0h2m2 0h2m3 0h1m5 0h4m2 0h1m34 0h1m4 0h1m-80 1h1m1 0h7m1 0h3m11 0h1m11 0h2m-37 1h3m1 0h3m4 0h1m7 0h2m1 0h2m1 0h1m7 0h1m1 0h4m23 0h1m5 0h1m-69 1h1m2 0h2m1 0h2m5 0h1m7 0h5m6 0h5m-35 1h2m5 0h1m6 0h1m1 0h1m1 0h1m1 0h3m2 0h4m1 0h1m36 0h1m2 0h1m4 0h1m-75 1h1m2 0h4m4 0h1m4 0h1m3 0h4m1 0h2m45 0h1m-73 1h3m3 0h2m8 0h2m1 0h8m9 0h1m-37 1h1m1 0h1m1 0h1m15 0h6m35 0h1m8 0h1m5 0h1m-73 1h3m13 0h3m1 0h2m1 0h1m36 0h1m6 0h1m1 0h1m2 0h1m-78 1h1m2 0h3m1 0h1m13 0h4m51 0h1m4 0h1m-78 1h1m1 0h3m1 0h1m5 0h1m2 0h1m1 0h2m26 0h1m-47 1h2m1 0h2m10 0h5m-19 1h3m1 0h1m9 0h4m-18 1h2m12 0h5m1 0h1m-21 1h1m2 0h1m1 0h2m5 0h5m17 0h1m40 0h1m-76 1h2m8 0h1m1 0h4m58 0h1m-76 1h1m1 0h1m11 0h3m-17 1h3m11 0h3m33 0h3m-44 1h1m2 0h1m1 0h5m7 0h2m22 0h1m4 0h1m-54 1h1m4 0h1m1 0h1m1 0h2m1 0h3m1 0h1m15 0h1m29 0h1m-63 1h1m6 0h1m1 0h2m2 0h1m-13 1h3m5 0h5m2 0h1m8 0h1m-25 1h3m2 0h7m2 0h1m-13 1h5m1 0h4m5 0h1m103 0h1m-119 1h1m32 0h1m6 1h1m13 1h1m-29 3h1m13 0h1m-17 1h1m34 0h1m-42 1h1m3 0h1m1 0h2m51 0h1m-40 1h1m3 0h1m38 1h1m-62 1h1m32 0h1m-24 1h2m9 0h1m7 0h2m-30 1h1m11 0h1m1 0h1m42 0h1m-35 1h1m7 0h1m4 0h1m-29 1h1m3 1h1m11 0h1m-18 1h1m16 0h1m6 1h1m-34 1h1m14 0h1m17 0h1m-8 2h1m6 0h1m-5 1h1m9 0h1m-14 1h1m-8 1h1m6 0h2m7 0h1m1 0h1m-3 1h1m2 0h1m-18 1h1m1 0h2m-13 1h1m34 0h1m8 0h1m-35 3h1"/><path stroke="#443b84" d="M163 13h1m-3 4h1m-9 4h1m0 1h1m-5 1h1m-1 1h1m-2 1h1m34 9h1m-60 3h1m0 2h1m-76 2h1m-4 2h1m36 2h1m-34 1h1m30 0h2m-34 1h1m32 0h1m-35 1h1m31 0h3m6 0h3m-46 1h1m1 0h2m38 0h1m1 0h2m6 0h1m76 0h1m-127 1h2m31 0h2m14 0h1m3 0h1m-56 1h1m1 0h1m29 0h1m4 0h1m15 0h1m2 0h1m14 1h1m-37 1h1m19 0h2m-25 1h1m-31 1h2m32 0h1m-7 1h1m3 0h4m1 0h1m3 0h1m10 0h1m-51 1h1m22 0h2m1 0h2m1 0h1m1 0h2m9 0h1m-18 1h1m4 0h1m-7 1h1m3 0h1m1 0h2m1 0h2m16 0h1m-27 1h1m1 0h8m1 0h2m2 0h1m5 0h1m-45 1h1m22 0h5m2 0h1m1 0h1m-12 1h1m1 0h6m1 0h1m1 0h1m2 0h1m6 0h2m-30 1h1m11 0h1m14 0h1m2 0h2m-31 1h2m6 0h1m6 0h1m12 0h1m-46 1h1m5 0h1m10 0h1m5 0h1m11 0h1m8 0h1m-35 1h1m1 0h1m6 0h1m1 0h2m16 0h1m-30 1h1m11 0h1m-15 1h1m6 0h1m-1 1h1m-15 1h1m12 0h1m-8 1h1m10 0h1m-1 1h1m20 0h1m85 0h1m-79 2h1m-42 1h1m32 0h1m-34 1h1m26 0h1m5 0h1m-27 1h1m7 0h2m6 0h1m12 0h1m-27 1h1m-10 1h2m8 0h1m3 0h2m6 0h1m49 0h1m-65 1h1m1 0h1m2 0h1m1 0h1m6 0h1m50 0h1m-72 1h1m10 0h1m16 0h2m-38 1h1m16 0h2m8 0h3m6 0h1m-34 1h1m12 0h1m2 0h2m40 0h1m-42 1h1m6 0h1m10 0h1m-87 1h1m36 0h1m30 0h2m6 0h1m1 0h1m-42 1h3m4 0h1m5 0h1m17 0h1m7 0h1m6 0h1m3 0h1m-51 1h1m1 0h3m4 0h1m21 0h2m2 0h1m1 0h1m8 0h1m-68 1h1m24 0h3m10 0h1m1 0h1m5 0h1m5 0h1m7 0h1m6 0h1m-62 1h1m19 0h3m1 0h1m6 0h1m9 0h1m-23 1h2m1 0h1m31 0h2m1 0h2m1 0h1m-41 1h4m1 0h1m16 0h1m6 0h1m4 0h1m2 0h2m1 0h1m-39 1h4m10 0h1m12 0h2m5 0h1m7 0h1m2 0h1m-48 1h5m9 0h1m1 0h2m1 0h1m16 0h1m4 0h2m-49 1h1m1 0h1m1 0h2m-7 1h3m6 0h2m14 0h2m7 0h1m13 0h1m-49 1h1m4 0h1m6 0h1m19 0h2m10 0h1m2 0h2m-50 1h2m15 0h1m19 0h1m7 0h1m1 0h1m-48 1h1m5 0h1m4 0h1m27 0h1m8 0h2m2 0h1m-55 1h2m4 0h1m31 0h1m14 0h1m-56 1h4m8 0h1m10 0h1m26 0h1m5 0h1m-57 1h3m1 0h1m18 0h1m-25 1h4m2 0h1m50 0h1m-57 1h1m44 0h1m-48 1h4m1 0h1m45 0h2m14 0h1m-69 1h5m64 0h1m-70 1h3m1 0h1m30 0h1m22 0h1m3 0h1m-63 1h3m1 0h2m-4 1h2m45 0h1m10 0h1m5 0h1m-67 1h1m1 0h3m21 0h1m-28 1h6m2 0h1m3 0h1m4 0h1m28 0h1m7 0h1m-55 1h2m1 0h2m7 0h1m92 0h2m-108 1h2m1 0h2m2 0h1m2 0h3m95 0h1m-120 1h1m5 0h1m4 0h3m49 0h1m-63 1h1m1 0h10m9 0h1m35 0h1m-58 1h5m1 0h1m10 0h2m12 0h1m1 0h1m85 0h2m-117 1h1m2 0h1m2 0h2m2 0h2m6 0h1m17 0h1m10 0h1m28 0h1m-74 1h1m3 0h1m10 0h2m35 0h1m60 0h1m-112 1h1m1 0h1m1 0h1m16 0h1m11 0h1m11 0h1m3 0h1m60 0h1m-112 1h1m2 0h1m7 1h2m2 0h1m2 0h1m15 0h1m3 0h1m-20 1h1m3 0h1m12 0h3m-22 1h1m4 0h1m14 0h1m-16 1h1m0 1h1m37 0h1m-44 1h1m2 0h1m6 0h1m4 0h1m-11 1h2m25 0h1m-32 1h1m4 0h2m7 0h1m8 0h2m5 0h1m-33 1h1m15 0h1m3 0h1m1 0h1m-26 1h1m101 0h1m-103 1h1m16 0h1m3 0h1m1 0h1m7 0h1m4 0h1m-30 1h1m17 0h1m-3 1h1m2 0h1m1 0h1m3 0h1m-10 1h1m-18 1h1m7 0h1m6 0h1m8 0h1m5 0h1m-35 1h1m15 0h1m1 0h1m2 0h1m5 0h1m-17 1h1m3 0h1m22 0h1m-14 1h1m-8 1h1m1 0h1m15 0h1m14 1h1m-45 1h1m10 1h1m5 0h1m16 0h1m-3 1h1m-27 1h1m26 0h1"/><path stroke="#3e4a89" d="M162 14h1m-11 1h1m29 0h1m-32 1h1m32 0h1m-1 1h1m-40 1h1m5 0h1m-6 2h2m13 0h1m-14 1h1m5 0h1m-16 1h1m11 1h1m32 2h1m-51 1h1m-11 11h1m1 0h1m-1 1h1m-79 1h2m74 0h2m-78 1h1m1 0h1m-3 1h1m1 0h1m-2 1h2m-2 1h4m-5 1h2m3 0h1m-6 1h1m3 0h1m31 0h1m2 0h1m82 0h1m-89 1h1m2 0h1m1 0h2m79 0h1m-121 1h2m2 0h1m1 0h1m26 0h3m1 0h4m1 0h1m1 0h1m-45 1h2m4 0h2m29 0h1m3 0h2m86 0h1m-129 1h1m2 0h3m26 0h8m2 0h1m2 0h1m-46 1h2m2 0h2m25 0h4m2 0h1m1 0h1m1 0h2m9 0h1m4 0h1m-57 1h1m29 0h1m1 0h2m1 0h1m1 0h1m1 0h5m1 0h1m2 0h1m11 0h1m-63 1h2m2 0h1m4 0h2m21 0h5m1 0h1m3 0h3m-45 1h5m2 0h3m23 0h3m2 0h1m6 0h1m1 0h1m6 0h1m-55 1h1m1 0h3m3 0h3m21 0h1m3 0h1m1 0h1m1 0h1m2 0h1m1 0h1m11 0h1m-57 1h2m3 0h1m2 0h1m21 0h1m1 0h1m1 0h2m1 0h1m1 0h1m-40 1h6m1 0h1m23 0h3m4 0h1m1 0h1m1 0h1m3 0h2m2 0h2m3 0h1m-57 1h1m1 0h1m5 0h1m21 0h1m2 0h1m1 0h1m2 0h1m1 0h1m4 0h1m10 0h1m-52 1h1m1 0h1m19 0h3m1 0h2m1 0h1m1 0h4m4 0h1m1 0h1m7 0h1m-50 1h1m1 0h1m18 0h3m1 0h3m1 0h1m2 0h1m4 0h1m11 0h1m-48 1h1m20 0h2m1 0h1m8 0h1m2 0h1m-42 1h1m2 0h2m16 0h4m1 0h2m5 0h1m2 0h1m1 0h2m1 0h2m5 0h1m-28 1h1m2 0h2m1 0h1m8 0h1m2 0h1m1 0h1m7 0h1m-30 1h1m3 0h7m2 0h4m3 0h3m2 0h1m-39 1h1m1 0h2m8 0h1m4 0h3m2 0h5m5 0h1m4 0h1m-39 1h1m8 0h1m3 0h1m1 0h2m1 0h2m1 0h1m1 0h2m2 0h1m1 0h1m12 0h1m-40 1h1m1 0h2m1 0h1m1 0h1m2 0h3m1 0h1m2 0h3m2 0h1m2 0h1m2 0h1m2 0h1m-31 1h2m2 0h4m3 0h1m1 0h2m3 0h1m1 0h2m1 0h1m-26 1h1m1 0h1m2 0h1m2 0h2m5 0h1m3 0h1m2 0h2m6 0h1m-32 1h2m3 0h1m1 0h1m2 0h1m1 0h1m5 0h1m1 0h1m2 0h1m3 0h1m9 0h1m6 0h1m-44 1h1m6 0h1m2 0h2m1 0h1m2 0h1m1 0h1m4 0h1m10 0h2m-39 1h1m10 0h1m6 0h1m9 0h1m9 0h1m-34 1h1m11 0h2m8 0h1m-12 1h2m2 0h1m18 0h2m86 0h1m-120 1h1m4 0h1m6 0h2m2 0h2m13 0h1m-26 1h2m4 0h1m2 0h2m5 0h1m7 0h2m1 0h1m-40 1h1m5 0h1m8 0h1m1 0h1m1 0h2m1 0h2m14 0h1m-38 1h1m3 0h1m5 0h2m6 0h3m15 0h1m-33 1h1m5 0h1m1 0h1m1 0h2m1 0h1m2 0h1m1 0h1m10 0h1m39 0h1m-85 1h1m20 0h1m3 0h2m2 0h2m12 0h1m2 0h1m67 0h1m-102 1h1m1 0h1m6 0h1m1 0h2m1 0h1m4 0h1m11 0h1m37 0h1m31 0h1m-94 1h1m1 0h1m1 0h1m1 0h1m6 0h2m-15 1h2m3 0h1m4 0h2m33 0h2m1 0h1m62 0h1m-111 1h1m1 0h2m3 0h3m2 0h2m1 0h1m4 0h1m3 0h1m29 0h1m-67 1h2m11 0h1m2 0h1m6 0h1m4 0h1m-37 1h1m16 0h1m4 0h2m5 0h1m4 0h1m1 0h2m1 0h1m-43 1h2m1 0h1m1 0h1m3 0h1m6 0h1m4 0h2m3 0h2m2 0h2m2 0h2m1 0h3m-37 1h3m1 0h1m6 0h1m1 0h2m3 0h3m3 0h1m3 0h1m1 0h1m2 0h4m1 0h1m47 0h1m-85 1h1m1 0h2m4 0h1m4 0h1m2 0h1m2 0h1m4 0h3m3 0h1m2 0h1m2 0h1m-37 1h1m1 0h3m4 0h2m2 0h1m2 0h1m3 0h1m3 0h1m3 0h1m3 0h4m1 0h4m-41 1h5m2 0h1m1 0h3m3 0h1m2 0h1m1 0h1m7 0h1m7 0h1m13 0h1m-50 1h1m1 0h1m5 0h4m4 0h1m3 0h1m3 0h1m7 0h1m2 0h1m95 0h1m-130 1h1m5 0h4m1 0h2m1 0h1m3 0h1m7 0h1m4 0h1m11 0h1m86 0h1m-132 1h1m7 0h1m10 0h1m1 0h1m-30 1h1m2 0h4m3 0h1m6 0h1m4 0h1m1 0h1m4 0h1m4 0h1m7 0h1m2 0h1m12 0h1m-60 1h1m1 0h1m2 0h1m2 0h1m7 0h1m13 0h1m1 0h1m4 0h1m5 0h2m-47 1h1m1 0h2m3 0h1m6 0h1m10 0h1m3 0h2m11 0h1m-42 1h1m1 0h1m37 0h1m-44 2h2m3 0h1m34 0h1m4 0h1m6 0h1m-53 1h1m26 0h1m11 0h2m13 0h1m-56 1h1m23 0h1m11 0h1m4 0h1m5 0h1m2 0h1m1 0h1m-53 1h1m3 0h1m9 0h1m11 0h1m10 0h2m-40 1h2m3 0h1m23 0h1m9 0h1m13 0h1m-54 1h1m40 0h1m-42 1h1m9 0h1m37 0h1m-51 1h1m1 0h1m5 0h1m21 0h1m25 0h1m6 0h1m-64 1h1m7 0h2m46 0h1m-56 1h3m1 0h1m38 0h1m9 0h3m-15 1h1m15 0h1m1 0h1m-47 1h1m2 0h1m26 0h1m6 0h2m9 0h1m-62 1h1m1 0h2m1 0h1m5 0h1m112 0h1m-113 1h1m87 0h1m-104 1h1m3 0h1m4 0h1m6 0h1m3 0h1m24 0h1m-47 1h1m7 0h1m19 0h1m23 0h1m23 0h1m-84 1h1m1 0h5m1 0h2m7 0h2m31 0h1m62 0h1m-117 1h2m1 0h2m1 0h1m7 0h1m4 0h1m2 0h2m21 0h1m-44 1h2m2 0h3m1 0h2m7 0h1m23 0h1m73 0h1m-118 1h1m2 0h2m3 0h1m10 0h2m4 0h1m11 0h1m3 0h1m15 0h1m1 0h1m-58 1h1m65 0h1m-43 1h1m33 0h1m-43 1h1m1 0h1m56 0h1m-57 1h1m36 0h1m-36 1h1m8 0h1m13 0h1m-24 1h1m2 0h1m1 0h1m9 0h2m4 0h1m4 0h1m10 0h1m19 0h1m4 0h1m-63 1h1m4 0h1m9 0h1m3 0h1m1 0h1m14 0h1m-24 1h1m12 0h2m1 0h1m27 0h1m-54 1h1m1 0h1m6 0h1m8 0h1m6 0h1m18 0h1m5 0h1m46 0h2m-101 1h1m4 0h1m9 0h1m5 0h1m2 0h2m-32 1h1m6 0h1m7 0h1m4 0h1m3 0h1m-27 1h1m24 0h1m2 0h1m-22 1h1m19 0h1m1 0h1m2 0h1m2 0h1m13 0h1m-33 1h1m7 0h1m1 0h1m-24 1h1m11 0h1m1 0h4m8 0h1m-21 1h1m1 0h1m3 0h1m2 0h2m1 0h2m11 0h1m8 0h1m1 0h1m-30 1h1m7 0h1m1 0h1m6 0h1m1 0h1m-27 1h1m4 0h1m12 0h2m-13 1h1m-5 1h2m12 0h1m29 0h1m-26 1h1m3 0h1m3 0h1m5 0h1m17 0h2m-51 1h1m4 0h1m2 0h1m19 0h1m-2 1h1m-28 1h1m25 0h1m2 1h1m13 0h1m-43 1h1"/><path stroke="#38598c" d="M165 9h1m-5 1h1m3 1h1m-1 1h1m-18 1h1m15 0h1m-18 1h1m0 1h1m-1 2h2m2 0h1m32 0h1m-42 1h1m40 0h1m-40 3h2m13 0h1m2 0h1m17 0h1m-3 1h2m-33 1h1m-3 1h1m4 0h1m2 0h1m24 0h1m4 1h1m-54 9h1m-84 6h1m-1 1h1m89 0h1m-92 1h1m2 0h1m97 1h2m-101 1h1m1 0h1m98 0h1m-102 1h1m2 0h1m34 0h2m-42 1h3m2 0h1m32 0h1m4 0h1m-39 1h1m35 0h1m81 0h1m-121 1h3m27 0h1m4 0h3m5 0h1m73 0h1m-114 1h2m23 0h1m8 0h1m33 0h1m44 0h1m-121 1h1m38 0h1m1 0h1m2 0h2m1 0h2m20 0h1m-70 1h1m3 0h3m2 0h1m26 0h1m3 0h1m51 0h1m-91 1h2m1 0h4m28 0h1m1 0h2m4 0h2m3 0h1m-46 1h2m3 0h1m21 0h1m4 0h1m1 0h3m1 0h1m4 0h1m4 0h1m25 0h1m-79 1h1m3 0h3m26 0h2m1 0h1m1 0h1m4 0h1m4 0h1m5 0h1m2 0h1m29 0h1m-89 1h1m4 0h1m1 0h2m1 0h1m21 0h1m1 0h1m4 0h1m1 0h1m6 0h2m1 0h1m4 0h1m-57 1h1m6 0h1m2 0h1m35 0h1m7 0h1m29 0h1m-81 1h1m1 0h1m2 0h1m29 0h1m10 0h1m-48 1h2m28 0h1m13 0h1m-46 1h2m2 0h1m33 0h1m2 0h2m5 0h1m2 0h1m13 0h1m-62 1h1m18 0h3m16 0h1m1 0h2m8 0h2m-31 1h1m14 0h1m2 0h1m1 0h1m3 0h1m16 0h1m-66 1h1m1 0h1m1 0h1m14 0h1m1 0h2m10 0h1m3 0h1m11 0h1m14 0h1m-63 1h1m17 0h3m8 0h1m4 0h2m4 0h1m3 0h1m73 0h1m-117 1h1m5 0h7m4 0h2m3 0h1m6 0h1m2 0h1m5 0h1m2 0h1m2 0h1m-43 1h1m2 0h1m1 0h1m1 0h1m2 0h1m5 0h1m4 0h1m2 0h2m1 0h1m14 0h1m-40 1h1m6 0h2m10 0h2m-22 1h1m2 0h1m5 0h3m1 0h1m3 0h2m4 0h1m8 0h1m-38 1h2m6 0h1m1 0h1m4 0h4m1 0h2m18 0h1m-41 1h1m5 0h1m5 0h1m3 0h4m5 0h1m2 0h1m2 0h1m5 0h1m10 0h1m-39 1h1m1 0h1m3 0h1m1 0h2m1 0h1m8 0h1m11 0h1m-34 1h1m1 0h1m1 0h1m4 0h1m1 0h2m3 0h1m-21 1h1m6 0h1m3 0h1m4 0h3m1 0h3m2 0h1m64 0h1m-84 1h5m2 0h2m2 0h1m1 0h4m17 0h1m-47 1h1m10 0h2m2 0h5m4 0h1m2 0h1m4 0h1m5 0h2m-41 1h1m6 0h1m1 0h1m5 0h1m3 0h1m4 0h1m2 0h1m1 0h1m3 0h1m4 0h1m3 0h1m3 0h1m56 0h1m-90 1h4m2 0h1m1 0h1m2 0h1m2 0h2m4 0h1m10 0h1m-39 1h1m6 0h1m2 0h4m5 0h1m1 0h1m-16 1h1m4 0h1m2 0h1m1 0h2m5 0h1m35 0h1m60 0h1m-112 1h1m1 0h1m8 0h2m4 0h1m1 0h1m-40 1h1m16 0h2m8 0h2m3 0h1m3 0h1m1 0h1m93 0h1m-128 1h1m3 0h1m10 0h1m1 0h1m3 0h2m2 0h2m33 0h1m-45 1h1m3 0h4m2 0h1m10 0h1m1 0h1m84 0h1m-104 1h1m3 0h2m2 0h1m6 0h2m2 0h1m1 0h1m-53 1h1m26 0h2m2 0h2m1 0h2m2 0h3m8 0h1m23 0h1m-102 1h1m28 0h3m9 0h1m6 0h2m1 0h1m5 0h1m2 0h2m1 0h3m7 0h1m-42 1h1m14 0h1m1 0h1m12 0h2m6 0h3m97 0h1m-139 1h1m12 0h1m2 0h3m9 0h1m4 0h1m4 0h1m1 0h1m1 0h1m30 0h1m-72 1h1m1 0h1m8 0h1m1 0h1m1 0h1m3 0h1m10 0h1m2 0h1m1 0h2m-31 1h1m1 0h1m3 0h2m1 0h2m1 0h1m1 0h1m5 0h1m4 0h1m5 0h1m13 0h1m-46 1h1m2 0h1m3 0h1m1 0h1m1 0h2m1 0h1m1 0h1m3 0h2m2 0h2m8 0h1m5 0h2m-43 1h2m1 0h2m4 0h4m1 0h1m1 0h1m1 0h1m9 0h1m10 0h1m1 0h1m1 0h1m7 0h1m77 0h1m-130 1h3m1 0h1m9 0h3m9 0h3m-30 1h3m1 0h1m1 0h1m2 0h1m2 0h1m1 0h1m2 0h1m1 0h1m4 0h1m4 0h1m7 0h1m11 0h1m-52 1h1m1 0h1m4 0h1m1 0h1m1 0h1m1 0h2m3 0h2m3 0h1m13 0h1m-45 1h1m1 0h2m19 0h1m4 0h1m6 0h1m12 0h1m-47 1h1m3 0h1m17 0h1m8 0h1m8 0h1m2 0h1m1 0h1m14 0h1m-32 1h1m15 0h2m-52 1h1m9 0h1m1 0h1m15 0h1m5 0h1m7 0h1m1 0h1m4 0h1m2 0h1m-24 1h2m1 0h1m-34 1h2m46 0h1m-49 1h1m35 0h2m13 0h1m-53 1h1m20 0h1m4 0h1m3 0h1m7 0h1m2 0h1m5 0h1m10 0h1m2 0h1m-49 1h1m2 0h1m9 0h1m8 0h2m2 0h1m5 0h1m3 0h1m7 0h1m-58 1h2m1 0h1m49 0h1m1 0h1m15 0h1m-73 1h1m14 0h1m20 0h1m23 0h2m-61 1h1m5 0h1m32 0h1m18 0h1m-60 1h1m11 0h1m39 0h1m10 0h1m-63 1h1m9 0h3m7 0h1m4 0h1m31 0h1m3 0h1m-64 1h5m8 0h2m50 0h1m-65 1h1m8 0h1m40 0h1m48 0h1m20 0h1m-122 1h1m6 0h1m7 0h1m7 0h1m5 0h1m8 0h1m10 0h2m56 0h1m-110 1h2m2 0h1m4 0h1m2 0h1m4 0h1m18 0h1m67 0h1m-106 1h1m1 0h1m2 0h2m29 0h1m12 0h1m-51 1h4m1 0h1m39 0h1m3 0h1m4 0h1m11 0h1m-68 1h1m2 0h1m5 0h1m34 0h1m-48 1h1m2 0h1m10 0h1m2 0h1m22 0h1m39 0h1m-88 1h2m10 0h1m9 0h1m1 0h1m6 0h1m13 0h2m6 0h1m23 0h1m10 0h1m-68 1h1m1 0h2m14 0h1m10 0h1m37 0h1m-86 1h1m4 0h1m6 0h1m15 0h1m6 0h1m10 0h1m9 0h1m17 0h1m-68 1h1m18 0h1m3 0h1m11 0h2m1 0h1m8 0h1m17 0h1m-54 1h1m16 0h3m17 0h1m64 0h1m-106 1h1m4 0h1m4 0h1m5 0h1m9 0h1m10 0h1m-40 1h2m10 0h1m1 0h1m15 0h3m79 0h1m-97 1h1m6 0h1m-19 1h1m23 0h1m13 0h1m13 0h1m-52 1h1m9 0h1m17 0h1m6 0h1m-35 1h1m9 0h1m2 0h1m8 0h1m31 0h1m48 0h1m-97 1h1m2 0h1m12 0h1m22 0h1m26 0h1m-67 1h1m17 0h2m-28 1h1m5 0h1m18 0h1m11 0h1m1 0h1m3 0h1m27 0h1m-70 1h2m5 0h1m6 0h1m3 0h1m4 0h1m-29 1h1m3 0h1m1 0h1m8 0h1m3 0h1m1 0h1m22 0h2m-43 1h1m2 0h4m4 0h1m4 0h1m2 0h1m7 0h2m14 0h1m-39 1h1m1 0h1m1 0h1m5 0h1m6 0h1m-18 1h1m4 0h1m3 0h1m1 0h1m6 0h1m11 0h2m3 0h1m-41 1h1m4 0h1m2 0h1m2 0h3m2 0h4m6 0h1m-17 1h1m1 0h1m4 0h1m30 0h1m-47 1h1m2 0h2m3 0h1m3 0h1m5 0h1m2 0h1m8 0h1m37 0h1m-69 1h1m3 0h1m1 0h1m11 0h3m10 0h1m-19 1h1m6 0h3m5 0h1m3 0h3m-25 1h1m20 0h1m-24 1h1m44 0h1m-42 1h1m9 0h1m8 0h1m-37 1h1m19 0h2m29 0h1m19 0h1m-72 10h1"/><path stroke="#31668e" d="M164 8h1m-1 4h1m-1 2h1m1 3h1m-6 1h1m-17 2h1m-5 1h1m3 0h1m17 0h1m-17 1h1m4 0h1m-7 1h1m7 0h1m24 1h1m-29 1h1m2 0h1m-8 2h1m-9 2h1m2 1h1m8 0h1m-18 3h1m50 0h1m-11 1h1m-46 1h1m-5 1h1m3 0h1m57 0h1m-66 1h1m3 0h1m32 0h1m-32 1h1m-2 1h1m18 2h2m11 0h1m-19 1h1m8 0h1m39 0h1m-141 2h1m-3 1h1m1 0h1m38 0h1m76 0h1m1 0h1m-119 1h1m2 0h1m34 0h2m45 0h1m-87 1h1m40 0h1m79 1h1m-74 1h1m23 0h1m46 0h1m-115 1h2m37 0h1m10 0h1m-51 1h2m37 0h1m-6 1h1m14 0h1m2 0h1m-18 1h1m3 0h1m3 0h1m16 0h1m-26 1h1m7 0h1m1 0h1m76 0h1m-88 1h1m3 0h1m3 0h1m1 0h1m2 0h1m-11 1h1m7 0h1m-53 1h1m5 0h1m41 0h1m4 0h1m-55 1h1m1 0h1m3 0h1m33 0h2m1 0h1m5 0h1m5 0h1m-56 1h1m40 0h1m6 0h1m-47 1h1m45 0h2m-1 1h1m2 0h2m-10 1h2m10 1h1m-52 1h2m1 0h1m1 0h1m9 0h1m19 0h1m1 0h1m-37 1h2m2 0h1m2 0h1m1 0h1m2 0h1m1 0h1m17 0h2m6 0h1m-13 1h2m2 0h1m-35 1h2m25 0h1m4 0h2m-29 1h1m1 0h1m5 0h1m10 0h1m1 0h1m6 0h1m3 0h1m-31 1h1m5 0h1m8 0h1m1 0h1m1 0h1m2 0h1m11 0h1m32 0h1m-74 1h1m23 0h2m1 0h1m1 0h1m51 0h1m-84 1h1m12 0h1m3 0h3m5 0h2m2 0h3m14 0h1m-48 1h1m3 0h1m6 0h3m1 0h1m1 0h3m4 0h1m3 0h1m8 0h1m7 0h1m-20 1h1m1 0h1m12 0h2m6 0h1m3 0h1m23 0h1m-51 1h1m6 0h1m79 0h1m10 0h1m-110 1h2m3 0h1m1 0h2m1 0h1m4 0h1m8 0h1m10 0h1m31 0h1m-72 1h1m3 0h1m4 0h1m17 0h1m11 0h1m-22 1h1m3 0h1m14 0h1m13 0h1m-35 1h1m1 0h2m1 0h2m6 0h1m1 0h2m5 0h1m-53 1h1m16 0h2m11 0h1m3 0h1m5 0h1m8 0h2m44 0h1m-84 1h1m16 0h1m1 0h1m7 0h2m30 0h1m-66 1h1m11 0h1m9 0h2m4 0h1m1 0h1m30 0h1m-32 1h1m9 0h1m1 0h1m25 0h2m-71 1h1m1 0h1m35 0h1m21 0h1m-70 1h2m9 0h1m2 0h1m6 0h1m10 0h1m8 0h1m3 0h1m4 0h1m-46 1h1m3 0h3m1 0h1m3 0h2m26 0h1m2 0h1m-42 1h1m8 0h1m2 0h1m1 0h1m8 0h1m95 0h1m-80 1h1m89 0h1m-117 1h1m11 0h2m58 0h1m-82 1h1m19 0h1m2 0h1m1 0h1m-26 1h1m6 0h1m30 0h1m7 0h1m-47 1h1m22 0h1m-23 1h1m8 0h1m23 0h1m33 0h1m-57 1h2m8 0h2m1 0h1m9 0h2m5 0h1m2 0h1m30 0h1m-81 1h1m2 0h1m1 0h1m9 0h1m24 0h1m-22 1h1m18 0h1m9 0h1m22 0h1m-82 1h1m4 0h1m10 0h1m6 0h1m1 0h1m-23 1h1m7 0h1m3 0h1m14 0h2m3 0h1m16 0h1m-21 1h1m-33 1h1m2 0h1m4 0h1m2 0h1m35 0h1m2 0h1m-41 1h1m23 0h1m7 0h1m24 0h1m-61 1h1m1 0h2m10 0h1m16 0h1m5 0h1m5 0h1m25 0h1m-78 2h1m12 0h1m22 0h1m13 0h1m3 0h1m11 0h1m-67 1h1m12 0h1m34 0h1m5 0h1m-57 1h2m15 0h1m16 0h1m5 0h1m9 0h1m-52 1h1m1 0h1m31 0h1m-19 1h1m7 0h1m16 0h1m17 0h1m-46 1h1m21 0h1m5 0h1m16 0h1m21 0h1m14 0h1m-72 1h1m4 0h1m25 0h1m54 0h1m-113 1h1m2 0h2m13 0h2m3 0h1m6 0h1m-28 1h1m15 0h2m10 0h1m10 0h1m9 0h1m63 0h1m-116 1h1m6 0h1m3 0h1m5 0h1m12 0h1m14 0h1m-46 1h1m2 0h1m3 0h1m21 0h1m3 0h1m45 0h1m-76 1h1m9 0h1m11 0h1m5 0h1m4 0h1m34 0h1m-75 1h1m3 0h1m-8 1h1m6 0h1m6 0h1m1 0h1m52 0h1m-77 1h1m18 0h1m2 0h3m11 0h1m3 0h1m3 0h1m10 0h1m6 0h2m-62 1h1m51 0h1m18 0h1m5 0h1m-77 1h1m14 0h2m4 0h1m13 0h1m9 0h1m4 0h1m7 0h1m8 0h1m5 0h1m-73 1h1m13 0h1m18 0h1m45 0h1m23 0h1m-97 1h1m3 0h1m15 0h1m12 0h1m8 0h1m15 0h1m4 0h1m1 0h1m7 0h1m-72 1h1m12 0h1m18 0h1m27 0h1m3 0h1m-57 1h1m12 0h1m4 0h2m28 0h1m3 0h1m7 0h1m-38 1h1m1 0h1m8 0h1m18 0h1m7 0h1m-72 1h1m4 0h1m12 0h1m16 0h1m2 0h1m4 0h1m3 0h1m19 0h1m47 0h1m1 0h1m-108 1h2m1 0h1m9 0h1m5 0h1m10 0h1m30 0h1m44 0h1m-106 1h1m6 1h1m17 0h1m12 0h1m-49 1h1m6 0h3m4 0h1m2 0h1m11 0h1m2 0h1m4 0h1m1 0h1m5 0h1m2 0h1m4 0h1m11 0h1m-66 1h1m8 0h1m7 0h1m13 0h1m11 0h1m-40 1h1m2 0h1m9 0h1m6 0h1m14 0h1m4 0h1m35 0h1m3 0h1m23 0h1m-103 1h1m2 0h1m1 0h2m1 0h3m3 0h1m29 0h1m30 0h1m-73 1h1m4 0h1m1 0h1m7 0h1m5 0h1m1 0h1m4 0h1m9 0h1m-45 1h2m10 0h1m10 0h2m4 0h1m18 0h1m-45 1h1m2 0h2m1 0h2m5 0h1m4 0h1m8 0h1m-29 1h1m6 0h1m8 0h1m12 0h1m6 0h1m-31 1h2m2 0h1m21 0h1m2 0h1m35 0h1m-60 1h1m1 0h1m8 0h1m17 0h1m5 0h1m-40 1h1m2 0h2m37 0h1m21 0h1m-67 1h1m7 0h1m4 0h1m1 0h2m47 0h1m-63 1h1m1 0h1m4 0h2m3 0h1m4 0h2m5 0h1m-15 1h1m14 0h1m1 0h1m33 1h1m-23 1h1m3 0h1m3 0h1m14 0h2m-60 9h1m-17 2h1"/><path stroke="#2c728e" d="M161 9h1m0 3h1m3 2h1m-3 1h1m-3 1h1m17 0h1m-31 1h1m12 0h1m-4 1h1m-16 1h2m12 0h1m4 0h2m18 0h2m-36 1h2m1 0h1m5 0h1m3 0h1m21 0h1m-36 1h1m-6 2h1m6 0h1m5 0h1m-15 2h1m0 1h1m11 0h1m-26 1h1m24 0h1m-22 1h1m2 0h1m6 0h1m36 0h1m-46 1h1m-7 1h1m20 0h1m23 0h1m11 0h1m-53 1h1m8 0h1m-11 1h1m36 0h1m8 0h1m3 0h1m3 1h1m-62 2h1m1 0h1m-3 1h1m-1 1h2m8 2h1m27 1h1m-27 2h1m7 0h1m16 0h1m-22 2h1m25 1h1m-13 1h1m-26 1h1m-12 1h1m-8 1h1m53 0h1m-74 1h1m1 0h1m20 0h1m1 0h1m-15 1h1m8 0h1m-22 1h1m6 0h1m15 0h1m6 0h1m-28 1h1m8 0h1m16 0h1m-37 1h1m5 0h2m2 0h1m69 0h1m-64 1h1m8 0h1m-59 1h1m32 0h1m6 0h1m-47 1h1m39 0h1m2 0h1m11 0h1m24 0h1m18 0h1m24 0h2m-128 1h1m46 0h1m1 0h2m5 0h1m-9 1h1m1 0h2m4 0h2m-55 1h1m48 0h1m-50 1h1m41 0h1m26 0h1m-70 1h1m41 0h1m10 0h1m-17 1h1m4 0h1m29 0h1m-74 1h2m39 0h1m2 0h1m8 0h1m53 0h1m-68 1h1m-7 1h1m8 0h1m5 0h1m16 0h1m-67 1h1m5 0h2m29 0h1m56 0h1m-67 1h1m2 0h1m1 0h1m2 0h1m-33 1h1m7 0h1m23 0h1m1 0h1m13 0h1m26 0h1m-83 1h1m7 0h1m4 0h1m1 0h1m15 0h1m3 0h1m46 0h1m4 0h1m-82 1h1m2 0h2m2 0h1m16 0h1m36 0h1m15 0h2m40 0h1m-117 1h1m6 0h1m-11 1h1m7 0h1m20 0h2m8 0h1m-46 1h1m4 0h1m13 0h1m6 0h1m24 0h1m2 0h1m29 0h1m26 1h2m-78 1h1m9 0h1m2 0h1m39 0h1m44 0h1m-131 1h1m1 0h1m31 0h1m1 0h2m43 0h1m44 0h1m14 0h1m-140 1h1m6 0h1m6 0h1m20 0h1m11 0h1m62 0h1m-102 1h1m15 0h1m-28 1h1m40 0h2m9 0h1m4 0h1m-43 1h1m21 0h1m75 0h1m-109 1h1m27 0h1m4 0h1m25 0h1m10 0h2m33 0h1m15 0h1m-92 1h2m9 0h1m54 0h1m-98 1h1m9 0h1m1 0h1m19 0h2m54 0h1m-53 1h2m69 0h1m-106 1h1m33 0h1m37 0h1m42 0h1m-154 1h1m71 0h1m42 0h1m37 0h1m-115 1h1m32 0h1m11 0h1m23 0h1m-26 1h1m3 0h1m-32 1h1m52 0h1m-51 1h2m20 0h1m34 0h1m-60 1h1m9 0h1m17 0h1m-46 1h1m37 0h1m67 0h1m-106 1h1m3 0h1m8 0h1m7 0h1m9 0h1m12 0h1m59 0h1m-112 1h1m1 0h1m9 0h1m3 0h1m1 0h1m18 0h1m18 0h2m11 0h1m-68 1h1m4 0h1m2 0h2m5 0h1m5 0h1m9 0h1m7 0h1m6 0h1m20 0h1m-81 1h1m9 0h1m3 0h1m3 0h1m18 0h1m6 0h1m-42 1h1m3 0h1m33 0h1m-25 1h1m8 0h1m9 0h2m1 0h2m1 0h1m18 0h1m23 0h1m-56 1h1m9 0h1m1 0h1m11 0h1m-53 1h1m15 0h1m5 0h1m4 0h1m12 0h1m-43 1h1m12 0h3m10 0h1m11 0h1m-41 1h1m10 0h2m1 0h1m8 0h1m5 0h1m3 0h1m10 0h1m3 0h1m5 0h1m3 0h1m3 0h1m-46 1h1m20 0h1m4 0h1m4 0h2m-39 1h1m3 0h1m8 0h1m16 0h1m10 0h1m8 0h1m73 0h1m-131 1h1m8 0h2m11 0h1m6 0h1m31 0h1m8 0h1m-76 1h1m1 0h2m9 0h1m10 0h1m7 0h3m8 0h1m6 0h1m8 0h1m3 0h1m1 0h1m17 0h1m11 0h1m-72 1h1m5 0h1m17 0h2m12 0h1m-57 1h1m1 0h2m16 0h1m1 0h1m2 0h1m1 0h1m5 0h1m7 0h2m8 0h1m1 0h1m1 0h1m-47 1h1m11 0h1m5 0h1m21 0h1m31 0h1m19 0h1m-73 1h1m17 0h3m31 0h1m6 0h1m5 0h1m1 0h2m2 0h1m3 0h1m-80 1h1m-23 1h1m10 0h1m15 0h1m3 0h1m13 0h1m43 0h2m-102 1h1m1 0h1m3 0h2m13 0h1m2 0h1m11 0h1m6 0h1m2 0h1m54 0h1m-83 1h1m3 0h1m10 0h1m12 0h1m18 0h1m29 0h1m7 0h1m-77 1h1m6 0h1m3 0h1m4 0h2m1 0h1m10 0h1m5 0h1m1 0h1m3 0h2m-74 1h1m2 0h1m30 0h1m12 0h1m1 0h1m2 0h1m10 0h1m39 0h1m-116 1h1m3 0h1m7 0h1m1 0h1m10 0h1m22 0h1m5 0h1m22 0h1m25 0h1m-84 1h1m12 0h1m18 1h1m22 0h1m47 0h1m-116 1h1m16 0h1m19 0h1m34 0h1m2 0h1m-71 1h1m12 0h1m8 0h1m7 0h1m5 0h1m33 0h1m-35 1h1m2 0h1m3 0h1m26 0h1m-75 1h1m11 0h1m8 0h1m9 0h1m1 0h1m37 0h2m-64 1h1m5 0h1m5 0h2m12 0h1m10 0h1m22 0h1m-40 1h1m5 0h1m1 0h1m29 0h1m11 0h1m7 0h1m33 0h1m-111 1h1m5 0h1m28 0h1m23 0h1m19 0h1m-93 1h1m12 0h1m18 0h1m2 0h1m26 0h1m5 0h1m-51 1h1m1 0h1m11 0h2m9 0h1m31 0h1m11 0h1m-76 1h2m5 0h1m3 0h1m1 0h1m1 0h1m1 0h1m13 0h1m4 0h1m-37 1h1m6 0h1m1 0h2m2 0h2m6 0h1m7 0h1m-22 1h1m7 0h1m2 0h1m4 0h1m1 0h1m14 0h1m-44 1h1m11 0h1m9 0h1m2 0h1m43 0h1m9 0h1m-64 1h1m22 0h1m3 0h1m5 0h1m-38 1h2m40 0h1m14 0h1m-63 1h1m16 0h1m3 0h1m4 0h1m1 0h2m7 0h1m1 0h1m29 0h1m1 0h1m-74 1h1m11 0h1m2 0h1m6 0h1m9 0h1m8 0h2m22 0h1m4 0h1m-79 1h1m10 0h1m4 0h1m8 0h1m15 0h1m13 0h1m4 0h1m-37 1h1m6 0h1m6 0h1m3 0h1m5 0h1m1 0h1m8 0h1m-45 1h1m1 0h1m28 0h2m9 0h1m22 0h1m-68 1h1m1 0h1m9 0h1m19 0h1m-25 1h1m8 0h1m7 0h1m8 0h1m-19 1h1m9 0h1m4 0h1m15 0h1m12 0h1m-34 1h2m-36 1h1m70 0h1m-73 9h1"/><path stroke="#277e8e" d="M155 11h1m-2 2h2m6 0h1m-8 1h1m-6 1h1m11 0h1m20 0h1m-30 1h1m8 0h1m-11 1h1m-11 1h1m10 1h2m1 0h1m-3 1h1m2 0h1m1 0h1m1 0h1m2 0h1m-23 1h1m5 1h1m5 0h1m7 0h2m-25 1h1m12 0h1m21 1h1m1 0h1m-41 2h1m4 0h1m13 0h1m-7 1h2m32 0h1m-38 1h1m39 0h1m-44 1h1m2 0h1m-11 1h1m46 0h1m-53 1h1m12 0h1m37 0h1m-52 1h1m17 0h1m15 0h1m-36 1h1m41 0h1m-9 2h1m22 0h1m-34 1h1m-32 2h2m12 0h1m-16 1h1m-1 1h1m6 0h1m17 0h1m21 0h1m3 0h1m-34 1h1m47 0h1m-54 1h1m13 0h1m19 1h1m-25 1h1m20 0h1m-24 1h1m12 0h2m-12 1h1m-53 3h1m6 1h1m10 0h1m-10 1h1m11 0h1m4 0h1m10 0h1m37 0h1m-74 1h1m19 0h1m5 0h1m7 0h1m1 0h1m-37 1h1m18 0h1m-16 1h1m69 0h1m-77 1h1m27 1h1m9 0h1m-45 1h2m8 0h2m2 0h1m16 0h1m28 0h1m-60 1h1m10 0h1m-53 1h1m2 0h1m74 0h1m-75 1h1m44 0h1m1 0h1m1 0h1m24 0h1m-26 1h2m-53 2h2m45 0h1m6 0h1m58 0h1m5 0h1m-85 1h1m4 0h1m5 0h1m-47 1h1m37 0h1m2 0h1m11 0h1m53 0h1m-108 1h1m6 0h1m32 0h1m3 0h1m1 0h2m-43 1h1m37 0h1m3 0h1m-50 1h1m2 0h1m3 0h1m29 0h1m4 0h1m1 0h1m2 0h2m19 0h1m-57 1h1m21 0h1m4 0h1m-38 1h2m9 0h1m23 0h1m8 0h1m30 0h1m2 0h1m-77 1h1m30 0h1m48 0h1m15 0h1m-67 1h1m7 0h1m39 0h1m26 0h1m-99 1h2m117 0h1m-97 1h1m0 1h1m2 0h1m27 0h2m15 0h1m-83 1h1m9 0h1m4 0h1m18 0h1m5 0h2m-43 1h1m5 0h1m7 0h1m22 0h1m4 0h1m4 0h1m3 0h1m5 0h1m57 0h1m16 0h1m-133 1h1m2 0h1m8 0h1m1 0h1m22 0h1m12 0h1m32 0h1m23 0h1m5 0h1m-115 1h1m8 0h1m33 0h1m4 0h1m34 0h1m-42 1h1m8 0h1m-50 1h1m12 0h1m23 0h1m4 0h1m2 0h1m3 0h1m6 0h1m22 0h1m-34 1h1m13 0h1m30 0h1m5 0h1m12 0h1m-109 1h1m5 0h1m29 0h1m6 0h1m9 0h1m4 0h1m-47 1h1m42 0h1m7 0h1m29 0h1m16 0h1m-115 1h1m38 0h1m13 0h1m24 0h1m31 0h1m-88 1h1m86 0h1m2 0h1m-23 1h1m39 0h1m-90 1h1m15 0h1m-78 1h1m106 1h1m-8 1h1m-73 2h1m23 0h1m43 0h1m-69 1h1m14 0h1m9 0h1m3 0h1m5 0h1m6 0h1m26 0h1m-65 1h1m19 0h1m9 0h1m9 0h1m3 0h1m19 0h1m-75 1h1m4 0h1m7 0h1m11 0h1m3 0h1m17 0h1m23 0h1m-77 1h2m2 0h1m7 0h1m8 0h1m39 0h1m-38 1h2m1 0h1m2 0h1m17 0h1m-41 1h1m4 0h1m12 0h1m9 0h1m4 0h1m8 0h1m-32 1h1m14 0h1m5 0h1m10 0h1m10 0h1m-67 1h1m5 0h1m15 0h1m1 0h1m6 0h1m-26 1h1m1 0h1m6 0h1m1 0h1m8 0h1m9 0h1m2 0h1m1 0h1m4 0h1m9 0h1m2 0h1m5 0h1m-68 1h1m7 0h2m13 0h2m16 0h1m7 0h1m9 0h1m28 0h1m-56 1h1m5 0h1m17 0h2m-44 1h1m31 0h1m25 0h1m-63 1h1m11 0h1m5 0h1m32 0h1m-58 1h1m1 0h1m16 0h1m13 0h1m15 0h1m1 0h1m2 0h1m61 0h1m-118 1h1m3 0h1m5 0h1m6 0h1m32 0h2m7 0h2m-61 1h1m14 0h2m3 0h1m34 0h1m1 0h1m27 0h1m-86 1h1m5 0h1m2 0h1m14 0h1m1 0h1m21 0h1m64 0h1m-107 1h1m1 0h1m8 0h1m4 0h1m3 0h1m4 0h1m4 0h1m13 0h1m1 0h1m42 0h1m7 0h1m5 0h1m-104 1h1m20 0h1m3 0h1m2 0h1m11 0h1m32 0h1m16 0h1m-65 1h1m62 0h1m18 0h1m-101 1h1m3 0h1m8 0h1m19 0h1m44 0h1m3 0h1m-103 1h1m4 0h1m17 0h1m10 0h1m8 0h1m4 0h1m11 0h1m36 0h1m-85 1h1m1 0h1m1 0h1m16 0h2m5 0h1m15 0h1m34 0h1m-75 1h2m35 0h2m15 0h1m22 0h1m-111 1h1m7 0h1m11 0h1m11 0h1m3 0h1m3 0h1m29 0h1m7 0h1m4 0h1m3 0h1m-70 1h1m16 0h1m3 0h1m1 0h1m1 0h1m7 0h1m28 0h1m-52 1h2m4 0h2m27 0h1m7 0h1m4 0h2m-65 1h1m11 0h1m4 0h1m15 0h1m-45 1h1m9 0h2m3 0h1m21 0h1m9 0h1m23 0h1m3 0h1m2 0h1m-48 1h1m4 0h1m19 0h1m-55 1h1m8 0h1m15 0h1m1 0h1m21 0h1m14 0h1m5 0h1m-61 1h1m3 0h1m29 0h1m21 0h1m2 0h1m8 0h1m4 0h1m40 0h1m-95 1h1m15 0h1m6 0h1m9 0h1m10 0h1m-40 1h1m40 0h1m7 0h1m-72 1h1m14 0h1m17 0h1m3 0h1m3 0h1m23 0h2m-77 1h1m10 0h1m29 0h1m4 0h1m1 0h2m3 0h1m6 0h2m6 0h1m4 0h1m10 0h1m6 0h1m-56 1h1m11 0h1m10 0h1m21 0h2m2 0h1m4 0h1m-64 1h2m22 0h1m40 0h1m-82 1h1m1 0h1m44 0h1m29 0h1m-79 1h1m33 0h1m6 0h1m39 0h1m-79 1h1m72 0h1m-76 1h1m13 0h1m9 0h1m50 0h1m-92 1h1m14 0h2m2 0h1m5 0h1m28 0h1m2 0h1m4 0h1m21 0h1m2 0h1m1 0h1m3 0h1m-68 1h1m17 0h1m1 0h2m8 0h1m26 0h1m1 0h1m4 0h2m2 0h1m-65 1h1m2 0h1m11 0h1m8 0h1m6 0h1m15 0h1m9 0h1m-58 1h1m31 0h1m30 0h1m-50 1h1m4 0h1m24 0h1m-46 1h1m37 0h1m7 0h1m4 0h1m20 0h2m-82 1h1m1 0h1m14 0h1m1 0h1m29 0h1m31 0h1m-81 1h1m4 0h1m1 0h1m19 0h1m2 0h1m6 0h1m12 0h1m18 0h1m-60 1h1m22 0h1m18 0h1m0 1h1m10 0h1m12 0h1m-81 6h1m18 0h1m-8 1h1"/><path stroke="#238a8d" d="M165 8h1m0 2h1m-4 1h2m15 0h1m-34 2h1m1 0h1m17 0h1m-9 1h1m5 0h1m1 0h1m-19 1h1m1 0h1m6 0h1m15 0h1m-28 1h1m5 0h1m6 0h1m3 0h1m0 1h1m-19 1h1m8 0h1m9 0h1m6 0h1m-11 1h1m2 0h1m16 0h1m-36 1h2m2 0h1m3 0h1m9 0h2m1 0h1m-13 1h1m7 0h2m-27 1h1m4 0h1m10 0h1m-13 2h3m4 0h1m13 0h1m10 0h1m1 1h1m1 0h1m5 0h1m-52 1h1m15 0h1m2 0h1m28 1h1m-32 2h2m2 1h1m31 0h1m-27 1h1m-30 1h1m-4 2h1m32 0h1m1 0h1m20 1h1m-48 1h1m-1 4h1m38 0h1m-30 1h1m2 1h1m15 0h1m20 0h1m-47 1h1m14 0h1m9 0h1m-41 1h1m19 2h1m8 0h2m1 0h1m-45 1h1m2 0h1m-21 2h1m39 0h1m42 0h1m-85 1h1m4 0h1m3 0h1m7 0h1m-19 1h1m2 0h1m6 0h1m12 0h1m3 0h1m5 0h1m7 0h1m16 0h1m-55 1h1m3 0h1m4 0h1m3 0h1m17 0h1m16 0h1m15 0h1m-52 1h1m11 0h1m-16 1h1m2 0h1m-14 1h2m66 0h1m-72 1h1m26 0h1m22 0h1m-53 1h1m10 0h1m67 1h1m-125 2h1m74 0h1m-79 1h1m47 0h1m16 0h1m-19 1h1m27 0h1m-75 1h1m73 0h1m34 0h1m-59 1h2m1 0h1m53 0h1m-65 1h1m2 0h1m15 0h1m29 0h1m25 0h1m-117 1h1m40 0h1m49 0h1m-58 1h1m5 0h2m7 0h1m-10 1h1m44 0h1m-90 1h1m3 0h1m37 0h1m55 0h1m-88 1h1m120 0h1m-133 1h1m10 0h1m2 0h1m28 0h1m4 0h1m5 0h1m77 0h2m-92 1h1m41 0h1m15 0h1m30 0h1m-132 1h1m8 0h1m7 0h1m19 0h1m16 0h1m55 0h1m19 0h1m-124 1h1m2 0h1m23 0h1m2 0h1m4 0h1m6 0h1m3 0h1m-41 1h1m1 0h1m19 0h1m51 0h1m28 0h1m-77 1h1m19 0h1m1 0h1m-61 1h1m10 0h1m21 0h1m5 0h2m6 0h1m49 0h1m15 0h1m-114 1h1m4 0h1m1 0h1m32 0h1m56 0h2m-99 1h2m32 0h1m2 0h1m4 0h1m-45 1h1m14 0h1m64 0h1m33 0h1m12 0h1m-125 1h1m8 0h1m23 0h1m8 0h1m4 0h1m21 0h1m28 0h1m36 0h1m-78 1h1m48 0h1m-104 1h1m29 0h1m27 0h1m2 0h1m5 0h1m22 0h1m24 0h1m-124 1h1m15 0h1m27 0h1m2 0h1m11 0h1m47 0h1m15 0h1m-112 1h1m47 0h1m35 0h1m27 0h1m13 0h1m-82 2h1m1 0h1m31 0h1m-16 1h1m-93 1h1m46 1h1m40 0h1m15 0h1m-8 1h1m56 0h1m-88 1h1m2 0h1m3 0h1m25 0h1m0 1h1m31 0h1m3 0h2m-76 1h1m3 0h1m-40 1h1m1 0h1m1 0h2m5 0h1m36 0h2m2 0h1m-37 1h1m15 0h1m16 0h2m-40 1h1m-14 1h1m11 0h1m23 0h1m37 0h1m39 0h1m-116 1h1m18 0h1m1 0h1m9 0h1m16 0h1m-55 1h1m3 0h1m15 0h1m4 0h2m6 0h1m9 0h1m1 0h1m11 0h1m11 0h1m-78 1h1m11 0h1m6 0h1m8 0h1m12 0h1m1 0h1m9 0h1m24 0h1m-71 1h1m11 0h2m11 0h1m7 0h1m48 0h1m-74 1h1m20 0h1m2 0h1m46 0h1m-87 1h1m9 0h1m8 0h1m5 0h1m6 0h1m4 0h2m4 0h1m-46 1h1m9 0h2m30 0h1m18 0h1m-62 1h1m4 0h1m27 0h1m18 0h1m5 0h1m1 0h1m4 0h1m-56 1h1m4 0h1m11 0h1m1 0h1m12 0h1m11 0h1m36 0h1m40 0h1m-127 1h1m37 0h1m7 0h1m5 0h1m8 0h1m63 0h1m-131 1h1m9 0h1m4 0h1m16 0h2m12 0h1m29 0h1m17 0h1m18 0h1m7 0h1m-100 1h1m35 0h1m37 0h1m22 0h1m-112 1h1m3 0h1m8 0h1m6 0h1m9 0h1m19 0h1m5 0h1m21 0h1m5 0h1m20 0h1m2 0h1m-116 1h1m12 0h1m7 0h1m15 0h1m12 0h1m3 0h1m5 0h1m-61 1h1m14 0h1m15 0h1m5 0h1m6 0h1m12 0h1m25 0h1m21 0h1m3 0h1m-102 1h1m27 0h1m50 0h1m11 0h1m5 0h1m11 0h1m-116 1h2m3 0h1m1 0h1m13 0h1m3 0h1m15 0h1m13 0h2m41 0h1m10 0h1m-118 1h1m26 0h1m3 0h1m1 0h1m23 0h1m9 0h2m4 0h1m27 0h1m-102 1h1m9 0h1m3 0h1m9 0h1m39 0h1m1 0h1m5 0h1m14 0h1m10 0h1m21 0h1m1 0h1m-111 1h1m34 0h1m1 0h1m1 0h1m3 0h1m8 0h1m2 0h1m3 0h1m28 0h1m-115 1h1m3 0h1m10 0h1m1 0h1m10 0h1m2 0h1m25 0h1m17 0h1m17 0h1m15 0h1m-102 1h1m4 0h1m1 0h1m8 0h1m2 0h1m14 0h1m8 0h1m15 0h1m17 0h1m8 0h1m-60 1h1m13 0h1m5 0h1m22 0h1m9 0h1m13 0h1m19 0h1m-90 1h1m4 0h1m11 0h1m5 0h1m10 0h1m-60 1h1m24 0h2m15 0h1m2 0h1m10 0h1m10 0h1m11 0h1m1 0h1m-46 1h1m11 0h1m26 0h1m16 0h1m-61 1h1m5 0h1m4 0h1m34 0h1m18 0h1m26 0h1m-113 1h2m1 0h1m16 0h1m12 0h1m8 0h1m2 0h1m12 0h1m15 0h2m-90 1h1m12 0h1m2 0h1m11 0h1m5 0h1m8 0h1m10 0h1m1 0h2m14 0h1m-18 1h1m18 0h1m7 0h1m9 0h1m1 0h1m25 0h1m-111 1h1m28 0h1m10 0h1m8 0h1m22 0h1m15 0h1m-66 1h1m13 0h1m10 0h1m1 0h2m1 0h1m1 0h1m15 0h1m-79 1h1m7 0h1m22 0h1m15 0h1m9 0h1m9 0h1m19 0h2m-82 1h1m20 0h1m10 0h2m28 0h2m-59 1h1m29 0h1m6 0h1m30 0h1m3 0h1m4 0h1m-75 1h1m39 0h1m31 0h1m-79 1h1m4 0h1m30 0h1m4 0h2m3 0h1m1 0h1m4 0h1m38 0h1m-112 1h1m47 0h1m1 0h1m13 0h1m7 0h1m5 0h1m17 0h1m-75 1h1m7 0h1m7 0h1m24 0h1m28 0h1m15 0h1m-62 1h1m17 0h1m1 0h1m15 0h1m3 0h1m-62 1h2m8 0h1m9 0h1m4 0h1m3 0h1m5 0h1m30 0h1m-82 1h1m27 0h1m2 0h1m8 0h1m3 0h1m5 0h1m19 0h1m3 0h1m9 0h1m-53 1h2m8 0h1m3 0h1m7 0h1m22 0h1m-60 1h2m3 0h1m3 0h1m37 0h1m2 0h1m10 0h1m15 0h1m-68 1h1m1 0h2m1 0h1m-18 1h1m31 0h1m2 0h1m17 0h2m-4 1h1m-57 5h1m12 1h1m-6 3h1m-12 1h1"/><path stroke="#1f968b" d="M164 9h1m-5 2h2m-11 1h1m-4 2h1m4 0h1m2 0h1m4 0h1m19 0h1m-35 1h1m11 0h1m6 0h2m5 0h1m-15 1h1m17 0h1m-33 1h1m1 0h1m3 0h1m6 0h1m23 0h1m-35 1h1m1 0h1m6 0h1m4 0h1m4 0h1m15 0h1m-36 1h2m-8 1h1m41 0h1m-30 1h1m24 0h1m-37 1h1m8 0h1m4 0h1m19 0h1m6 0h1m-45 1h1m1 0h1m4 0h1m6 0h1m9 0h1m-9 1h1m26 0h1m1 0h1m-39 1h1m7 0h2m19 0h1m-29 1h1m33 0h1m-48 1h1m16 0h2m27 0h1m-25 1h1m-23 1h1m5 0h1m2 0h1m8 0h1m11 0h1m16 0h1m1 0h1m3 0h1m-45 1h1m1 0h1m2 0h1m5 1h1m32 0h1m-59 1h1m22 0h1m34 0h1m-57 1h1m40 0h1m-47 3h1m27 0h1m-29 2h1m2 0h1m16 0h1m-20 1h1m10 0h1m-12 1h1m43 0h1m-47 1h1m11 1h2m6 0h1m10 0h1m29 0h1m-37 1h1m4 0h1m11 0h1m18 0h1m-72 1h1m53 0h1m-50 1h1m-4 1h1m21 1h1m-24 1h1m3 0h1m9 1h1m38 0h1m-2 1h1m-62 1h1m47 0h1m2 0h1m-55 1h1m4 0h1m12 0h1m-14 1h1m16 0h1m3 0h1m16 0h1m1 0h2m-51 1h1m24 0h1m21 0h1m26 0h1m-63 1h1m29 0h1m11 0h2m10 0h1m7 1h1m-76 1h1m19 0h1m1 0h1m35 0h1m-54 1h1m1 0h1m6 0h1m6 0h1m8 0h1m35 1h1m-120 1h2m117 0h1m-117 1h1m71 0h1m-23 1h1m-12 3h1m10 0h1m13 0h1m25 0h1m-86 1h1m31 0h2m-3 1h1m12 0h1m2 0h1m-53 1h1m31 0h1m6 0h1m13 0h1m74 0h1m-130 1h1m2 0h1m32 0h1m9 0h1m77 0h1m-126 1h1m52 0h1m54 0h1m1 0h1m19 0h1m-79 1h1m28 0h1m-79 1h1m5 0h1m26 0h1m10 0h1m63 0h1m-114 1h1m5 0h1m4 0h1m5 0h1m33 0h1m2 0h1m-7 1h1m-47 1h1m50 0h1m80 0h1m-83 1h1m32 0h1m24 0h1m-110 1h1m-1 1h1m44 0h1m2 0h2m39 0h1m8 0h1m31 0h1m-33 1h1m-64 1h1m2 0h1m18 0h1m7 0h2m32 0h1m15 0h1m-112 1h1m33 0h1m34 0h1m25 0h1m-91 1h1m1 0h2m61 0h1m23 0h1m-93 2h1m59 0h1m29 0h1m-77 1h1m33 0h2m38 0h1m-103 1h1m51 0h1m16 0h1m17 0h2m11 0h1m24 0h1m15 0h1m-88 1h1m25 0h1m57 0h1m1 0h1m-125 1h2m55 0h1m10 0h1m53 0h1m-147 1h2m44 0h1m26 0h1m16 0h1m-25 1h1m5 0h1m8 0h1m-11 1h1m1 0h1m1 0h1m-1 1h1m20 0h2m53 0h1m-88 1h1m7 0h1m5 0h1m-11 1h2m31 0h1m-80 1h1m1 0h1m43 0h1m2 0h3m6 0h1m-55 1h1m2 0h1m31 0h1m-45 1h1m19 0h1m1 0h2m24 0h1m2 0h1m6 0h1m14 0h1m-27 1h1m11 0h1m18 0h1m-75 1h1m11 0h1m20 0h1m24 0h1m-66 1h1m14 0h1m1 0h1m9 0h1m31 0h1m5 0h1m-61 1h1m3 0h1m1 0h1m4 0h1m5 0h1m7 0h1m22 0h1m5 0h1m2 0h2m-46 1h1m7 0h1m17 0h1m16 0h1m23 0h1m-72 1h1m1 0h1m48 0h1m62 0h1m-128 1h1m1 0h1m2 0h1m9 0h1m4 0h1m9 0h1m31 0h1m19 0h1m-86 1h1m25 0h1m2 0h1m3 0h1m7 0h1m3 0h1m5 0h2m15 0h1m-62 1h1m1 0h1m3 0h1m11 0h1m2 0h1m8 0h1m14 0h1m19 0h1m6 0h1m-83 1h1m14 0h1m31 0h1m26 0h1m6 0h1m-66 1h1m5 0h1m8 0h1m5 0h1m50 0h1m-73 1h1m9 0h1m6 0h1m6 0h2m2 0h1m18 0h1m21 0h2m6 0h1m14 0h1m11 0h1m3 0h1m-114 1h1m17 0h1m1 0h1m1 0h1m4 0h1m35 0h1m44 0h1m11 0h1m-126 1h1m1 0h1m20 0h1m7 0h1m10 0h1m42 0h1m6 0h1m8 0h1m-98 1h1m16 0h1m1 0h1m16 0h1m7 0h1m3 0h1m16 0h1m21 0h1m2 0h1m-97 1h1m6 0h2m19 0h1m3 0h1m7 0h1m9 0h1m30 0h1m3 0h1m3 0h1m13 0h1m1 0h1m-97 1h1m2 0h1m12 0h1m6 0h1m4 0h1m30 0h1m4 0h1m21 0h1m11 0h1m-98 1h1m3 0h1m4 0h1m5 0h1m2 0h1m7 0h2m13 0h1m12 0h1m-71 1h1m9 0h1m29 0h1m4 0h1m5 0h1m23 0h1m16 0h1m9 0h1m13 0h1m-115 1h1m23 0h1m53 0h1m10 0h1m31 0h1m-126 1h1m17 0h1m2 0h1m7 0h1m3 0h1m17 0h1m21 0h1m7 0h1m25 0h1m-118 1h1m9 0h1m18 0h1m1 0h1m8 0h1m9 0h1m5 0h1m1 0h1m3 0h1m6 0h1m1 0h1m13 0h1m17 0h1m8 0h1m-106 1h1m3 0h1m3 0h2m14 0h1m11 0h1m7 0h1m9 0h1m11 0h1m32 0h1m3 0h1m-107 1h1m3 0h1m21 0h1m2 0h1m9 0h1m14 0h1m1 0h1m10 0h1m10 0h1m-77 1h1m27 0h1m7 0h1m6 0h1m5 0h1m12 0h1m6 0h1m5 0h1m49 0h1m-123 1h1m6 0h1m21 0h1m13 0h1m10 0h1m10 0h1m2 0h2m33 0h1m11 0h1m-109 1h1m6 0h1m14 0h1m11 0h1m6 0h1m2 0h1m18 0h1m6 0h1m1 0h1m38 0h2m-107 1h1m16 0h1m13 0h1m5 0h1m13 0h2m2 0h1m2 0h1m1 0h1m27 0h1m-99 1h1m18 0h1m23 0h1m34 0h1m-74 1h1m10 0h1m14 0h1m10 0h3m11 0h1m3 0h1m5 0h1m7 0h1m7 0h1m32 0h1m-84 1h1m3 0h1m5 0h1m1 0h1m2 0h1m14 0h3m12 0h1m2 0h1m-82 1h1m21 0h1m2 0h1m24 0h1m13 0h2m9 0h1m6 0h1m1 0h1m3 0h1m-85 1h1m4 0h1m28 0h1m19 0h2m4 0h1m6 0h1m10 0h1m-76 1h1m6 0h1m6 0h1m10 0h1m10 0h1m5 0h1m9 0h1m-20 1h1m2 0h1m22 0h1m12 0h1m-50 1h1m11 0h2m14 0h1m15 0h1m5 0h1m1 0h1m4 0h1m-20 1h1m6 0h1m8 0h1m-94 1h1m57 0h1m3 0h2m14 0h1m8 0h1m-69 1h1m30 0h1m42 0h1m-59 1h1m1 0h1m6 0h1m21 0h1m24 0h1m-59 1h1m8 0h1m11 0h1m7 0h1m26 0h2m-87 1h1m48 0h1m2 0h1m5 0h1m-5 1h1m18 0h2m6 0h1m-59 1h1m11 0h1m14 0h1m12 0h2m-48 1h1m11 0h1m4 0h1m2 0h1m11 0h1m14 0h1m6 0h1m6 0h2m5 0h1m-37 1h1m3 0h1m9 0h1m4 0h1m5 0h1m1 0h1m6 0h1m3 0h1m-66 1h1m5 0h2m18 0h1m8 0h2m7 0h1m9 0h1m2 0h1m13 0h1m-84 1h1m54 0h1m16 1h1m-86 2h1m-2 1h1m30 0h1m6 1h1m-8 1h1m6 0h1m-30 1h1m30 0h1"/><path stroke="#1fa287" d="M166 9h1m-1 2h1m-11 1h1m-7 1h1m2 0h1m7 0h1m3 0h1m-17 1h1m4 0h1m8 0h1m4 0h1m3 0h1m-20 1h1m1 0h1m14 0h1m10 0h1m-36 1h1m11 0h1m20 0h1m1 0h1m1 0h1m-38 1h1m25 0h2m-25 1h1m14 0h1m-21 1h1m15 0h1m6 0h1m-11 1h1m-18 1h1m1 0h1m15 0h1m3 0h1m6 0h1m9 0h1m1 0h1m1 0h1m-43 1h1m6 0h1m25 0h1m-36 1h1m20 0h1m17 0h3m4 0h1m-45 1h2m13 0h1m24 0h1m-48 1h1m8 0h1m6 0h1m4 0h1m2 0h1m4 0h1m-18 1h1m1 0h1m4 0h1m23 0h1m6 0h1m-50 1h1m3 0h1m6 0h1m2 0h1m6 0h1m24 0h1m3 0h1m-48 1h1m6 0h1m2 0h2m36 0h1m1 0h1m-40 1h1m1 0h1m-12 1h2m43 0h1m-36 1h1m1 0h1m12 0h1m16 0h1m7 0h1m-38 1h1m36 0h1m-59 1h1m56 0h1m1 0h1m-39 1h1m14 0h1m-5 1h1m15 0h1m-54 1h1m6 0h1m29 0h1m-37 1h1m5 0h1m8 0h1m22 0h1m2 0h1m-47 1h1m15 0h1m-4 1h1m1 0h1m-17 1h1m2 0h1m1 0h2m8 0h1m-19 1h1m8 0h1m7 0h1m5 0h1m11 0h1m-30 1h1m33 0h1m7 0h1m1 0h1m-44 2h1m17 0h1m34 0h1m-21 1h1m1 0h2m-46 2h1m17 0h1m-21 2h1m18 0h1m-25 1h3m12 0h1m13 0h1m29 0h1m-74 1h1m2 0h1m15 0h1m2 0h1m4 0h1m2 0h1m27 0h1m6 0h1m9 0h1m6 0h1m10 0h1m-95 1h1m4 0h1m7 0h1m3 0h1m3 0h1m34 0h1m7 0h1m-41 1h1m1 0h1m26 0h1m-23 1h1m32 0h1m-52 1h1m15 0h1m35 0h1m6 0h1m-63 2h1m12 0h1m27 0h1m-47 1h1m6 0h1m15 0h1m22 0h1m-44 1h1m7 1h1m5 0h1m-3 1h1m13 0h1m-14 1h1m38 0h1m-30 1h1m-4 1h1m47 0h1m-72 1h1m2 0h1m-54 1h1m4 0h1m43 0h1m2 0h1m-53 1h1m38 0h2m6 0h1m4 0h1m57 0h1m1 0h1m-68 1h1m5 0h1m43 0h1m15 0h1m-67 1h1m1 0h1m31 0h1m15 0h1m34 0h1m-82 1h1m1 0h1m5 0h1m5 0h1m46 0h1m-76 1h1m2 0h1m10 0h1m28 0h2m-77 1h1m69 0h1m56 0h1m1 0h1m-132 1h1m7 0h1m3 0h1m32 0h1m-33 1h1m42 0h1m14 0h1m10 0h1m36 0h1m14 0h1m-134 1h1m3 0h1m1 0h1m29 0h1m13 0h1m2 0h1m12 0h1m15 0h1m40 0h1m6 0h1m-132 1h1m107 0h1m-108 1h1m6 0h1m4 0h1m36 0h1m25 0h1m27 0h1m-105 1h1m2 0h1m4 0h1m27 0h1m20 0h1m36 0h1m-94 1h1m6 0h1m45 0h1m3 0h1m1 0h1m44 0h1m23 0h1m-129 1h1m51 0h1m2 0h1m4 0h1m3 0h1m-28 1h1m7 0h1m48 0h1m-96 1h1m10 0h1m25 0h1m18 1h1m19 0h1m33 0h1m-7 1h1m-86 1h1m23 0h2m10 0h1m4 0h1m34 0h1m9 0h1m-53 1h1m1 0h1m55 0h1m-56 1h1m14 0h1m4 0h1m-73 1h1m48 0h1m74 0h2m-78 1h1m9 0h1m-33 2h1m13 0h1m3 0h1m69 0h1m-71 1h2m68 0h1m15 0h1m-86 1h1m12 0h2m9 0h1m57 0h1m-81 1h1m4 0h1m1 0h1m-56 2h1m45 0h1m1 0h1m2 0h1m4 0h1m13 0h1m-81 1h1m5 0h1m2 0h1m49 0h1m2 0h1m4 0h1m3 0h1m-63 1h1m1 0h1m2 0h1m1 0h1m2 0h1m9 0h1m6 0h1m22 0h2m2 0h1m-60 1h2m48 0h1m7 0h1m17 0h1m-81 1h1m4 0h1m7 0h2m12 0h1m19 0h1m5 0h1m8 0h1m1 0h1m-51 1h1m23 0h1m5 0h1m1 0h1m-46 1h1m6 0h1m40 0h1m15 0h2m3 0h1m11 0h1m-69 1h1m13 0h1m28 0h1m7 0h1m2 0h1m45 0h1m14 0h1m-129 1h1m2 0h1m1 0h1m8 0h2m3 0h3m1 0h1m1 0h1m2 0h1m10 0h1m9 0h1m7 0h1m2 0h1m8 0h1m-70 1h1m16 0h2m2 0h1m5 0h1m3 0h1m17 0h1m10 0h2m8 0h1m52 0h1m-113 1h1m2 0h1m1 0h3m7 0h1m4 0h1m5 0h1m6 0h1m7 0h1m3 0h1m16 0h1m32 0h1m-105 1h1m6 0h1m3 0h1m3 0h1m7 0h1m6 0h2m40 0h1m4 0h1m-67 1h1m17 0h1m2 0h1m23 0h1m3 0h2m1 0h1m8 0h1m12 0h1m15 0h2m9 0h1m14 0h1m-128 1h1m7 0h1m7 0h1m26 0h1m1 0h2m34 0h1m18 0h1m5 0h1m18 0h2m-97 1h1m3 0h2m2 0h1m18 0h1m2 0h1m8 0h1m7 0h1m1 0h1m9 0h1m12 0h1m4 0h1m1 0h1m-98 1h1m2 0h1m16 0h1m5 0h2m4 0h1m5 0h1m4 0h1m2 0h2m5 0h1m6 0h1m24 0h1m18 0h1m-117 1h1m10 0h1m2 0h1m2 0h1m10 0h1m2 0h1m4 0h1m1 0h1m29 0h1m30 0h1m2 0h1m-103 1h2m21 0h1m11 0h1m30 0h1m3 0h1m36 0h1m10 0h1m-110 1h1m12 0h1m17 0h1m4 0h1m1 0h1m6 0h1m1 0h1m1 0h1m16 0h1m3 0h1m5 0h1m1 0h1m1 0h1m23 0h1m-112 1h1m19 0h1m5 0h1m3 0h2m3 0h1m1 0h1m2 0h1m16 0h1m11 0h3m8 0h1m1 0h1m11 0h1m20 0h1m-109 1h1m1 0h1m1 0h1m6 0h1m12 0h1m10 0h1m21 0h1m5 0h1m6 0h1m3 0h1m2 0h2m2 0h1m22 0h1m-106 1h2m15 0h1m6 0h1m11 0h1m6 0h1m23 0h1m10 0h1m-95 1h1m1 0h1m12 0h1m12 0h3m1 0h1m32 0h1m14 0h1m10 0h1m3 0h1m-101 1h1m5 0h1m1 0h1m4 0h1m2 0h1m19 0h1m8 0h1m14 0h1m6 0h1m6 0h1m9 0h1m7 0h1m24 0h1m-116 1h1m13 0h1m6 0h1m7 0h1m7 0h2m7 0h1m1 0h2m19 0h1m2 0h1m14 0h1m2 0h1m11 0h2m1 0h1m18 0h1m-127 1h1m20 0h1m25 0h1m2 0h1m5 0h1m1 0h1m1 0h1m2 0h1m10 0h1m4 0h1m3 0h1m17 0h1m2 0h1m-98 1h1m28 0h1m13 0h1m20 0h1m7 0h1m6 0h1m17 0h1m-111 1h1m10 0h1m2 0h1m4 0h1m1 0h1m10 0h1m1 0h2m34 0h1m7 0h1m-33 1h1m1 0h1m8 0h1m13 0h1m29 0h1m5 0h1m-95 1h1m35 0h2m14 0h1m9 0h1m7 0h1m8 0h1m1 0h2m-84 1h1m27 0h1m1 0h1m9 0h1m6 0h1m17 0h2m5 0h1m22 0h1m6 0h2m-83 1h1m49 0h1m6 0h1m10 0h1m-92 1h1m3 0h1m34 0h1m4 0h1m8 0h1m14 0h1m4 0h1m5 0h1m8 0h1m-95 1h1m12 0h1m13 0h1m61 0h1m1 0h1m3 0h1m-97 1h1m5 0h2m19 0h1m35 0h1m29 0h1m-94 1h1m45 0h1m4 0h1m5 0h1m9 0h1m10 0h1m1 0h1m3 0h1m8 0h1m-49 1h1m13 0h1m1 0h1m18 0h1m-77 1h1m3 0h1m7 0h1m30 0h1m8 0h1m2 0h1m12 0h1m2 0h1m-68 1h1m4 0h1m24 0h1m2 0h1m4 0h1m16 0h1m10 0h1m12 0h1m-71 1h1m36 0h1m20 0h1m5 0h1m5 0h1m2 0h1m-97 1h1m54 0h1m12 0h1m17 0h1m-68 1h1m1 0h1m2 0h1m15 0h1m5 0h1m13 0h1m1 0h1m8 0h1m17 0h1m-20 1h1m4 0h1m13 0h1m-55 1h1m36 0h1m4 0h1m4 0h1m8 0h1m2 0h1m14 0h1m-104 1h1m25 0h1m13 0h1m33 0h1m-76 1h1m19 0h2m7 0h1m2 0h1m22 0h1m18 0h1m1 0h1m5 0h1m-42 1h2m41 0h1m1 0h1m-87 1h1m40 0h1m17 0h1m4 0h1m7 0h1m5 0h1m-61 1h1m8 0h1m1 0h1m6 0h1m19 0h2m7 0h1m1 0h2m2 0h1m-58 1h1m20 4h1m5 0h1m-13 1h1m-15 1h1m10 0h1m-18 2h1m11 0h1m-12 3h1m1 0h1"/><path stroke="#28ae80" d="M159 9h2m1 2h1m-6 1h1m5 0h1m3 0h1m-16 1h1m6 0h1m8 0h2m1 0h1m-21 1h1m17 0h1m12 0h1m-26 1h1m26 0h1m-40 1h1m15 0h1m4 0h1m15 0h1m-6 1h1m5 0h1m-38 1h1m11 0h1m4 0h1m12 0h1m3 0h1m-34 1h1m3 0h1m4 0h1m4 0h1m-19 1h1m20 0h1m16 0h1m-26 1h1m2 0h1m-18 1h1m17 0h1m1 0h1m2 0h3m-33 1h1m20 0h1m4 0h2m1 0h1m1 0h1m14 0h1m-45 1h2m1 0h1m7 0h1m4 0h2m15 0h1m3 0h1m-39 1h1m5 0h1m9 0h1m26 0h1m-42 1h1m4 0h1m14 0h2m4 0h1m20 0h2m-54 1h2m3 0h1m3 0h1m1 0h1m3 0h1m6 0h1m-12 1h1m5 0h1m5 0h1m12 0h1m12 0h1m-35 1h1m33 0h1m5 0h1m-53 1h1m1 0h1m7 0h1m8 0h1m8 0h2m10 0h1m5 0h1m-48 1h1m3 0h1m7 0h1m7 0h1m5 0h1m15 0h1m-27 1h1m-15 1h1m8 0h1m4 0h1m10 0h1m6 0h1m-41 1h1m4 0h1m13 0h1m3 0h1m2 0h1m33 0h2m-63 1h1m3 0h2m4 0h1m20 0h2m-30 1h1m1 1h1m13 0h1m7 0h1m9 0h1m1 0h1m21 0h1m-63 1h1m6 0h1m8 0h1m17 0h1m4 0h1m5 0h1m1 0h1m15 0h1m-70 1h2m25 0h1m-29 1h1m5 0h1m32 0h1m3 0h1m-24 1h1m26 0h1m2 0h2m1 0h2m-56 1h2m39 0h1m9 0h1m3 0h1m-50 1h1m41 0h1m3 0h1m17 0h1m-70 1h1m6 0h1m42 0h1m-53 1h2m5 0h1m34 0h1m16 0h1m-60 1h1m22 0h1m-24 1h1m1 0h2m-5 1h1m3 0h1m48 0h1m5 0h1m-57 1h1m3 0h1m10 0h1m48 0h1m-76 1h1m4 0h1m8 0h1m-23 1h1m1 0h1m2 0h1m32 0h1m-41 1h1m18 0h1m33 0h1m-47 1h1m3 0h1m6 0h2m4 0h1m-14 1h1m4 0h1m48 0h1m10 0h1m2 0h1m-72 1h1m16 1h1m35 0h1m11 0h1m2 0h1m-6 3h1m-55 1h1m12 0h1m-25 1h1m-56 1h1m74 0h1m1 0h1m-80 1h1m82 0h1m-8 1h1m19 0h1m32 0h1m-83 1h1m17 0h2m-19 1h1m4 0h1m42 0h1m-96 1h1m45 0h1m6 1h1m15 0h1m-63 1h1m35 0h1m-36 1h1m32 0h2m5 0h1m10 0h1m22 0h1m13 0h1m18 0h1m9 0h1m13 0h1m-137 1h1m34 0h1m2 0h1m1 0h1m21 0h1m7 0h1m56 0h1m-133 1h1m8 0h1m32 0h1m7 0h2m23 0h1m58 0h1m1 0h1m3 0h1m-136 1h1m35 0h2m42 0h1m24 0h1m3 0h1m1 0h1m-104 1h3m25 0h1m14 0h1m31 0h1m24 0h1m37 0h1m-152 1h1m7 0h1m101 0h1m3 0h1m12 0h1m18 0h1m-147 1h1m97 0h2m17 0h1m28 0h1m-147 1h1m98 0h1m15 0h1m-59 1h2m20 0h1m11 0h1m19 0h1m2 0h1m-108 1h2m29 0h1m24 0h1m36 0h1m-92 1h1m27 0h1m13 0h1m10 0h2m46 0h1m1 0h1m4 0h1m21 0h1m-130 1h1m1 0h1m5 0h1m30 0h1m13 0h1m16 0h2m4 0h1m20 0h1m26 0h1m3 0h1m-138 1h1m6 0h1m30 0h1m14 0h1m30 0h1m7 0h1m-75 1h1m37 0h1m41 0h1m-87 1h1m35 0h1m5 0h1m1 0h1m4 0h1m31 0h1m43 0h1m-88 1h2m10 0h1m23 0h1m35 0h1m-154 1h1m76 0h1m48 0h1m34 0h1m-86 1h1m3 0h1m-6 1h1m4 0h1m41 0h1m-106 1h1m62 0h1m1 0h2m36 0h1m38 0h1m-71 1h1m3 0h1m21 0h1m-36 1h1m16 0h1m2 0h1m16 0h1m47 0h1m-80 1h1m2 0h1m17 0h1m-27 1h1m7 0h2m3 0h1m-7 1h2m25 0h1m-56 1h1m47 0h1m1 0h1m38 0h1m3 0h1m-68 1h1m21 0h1m39 0h1m-105 1h1m3 0h2m29 0h1m8 0h1m-62 1h1m5 0h1m5 0h1m11 0h1m13 0h1m22 0h1m3 0h2m1 0h1m-56 1h1m9 0h1m39 0h1m17 0h2m-58 1h1m18 0h1m43 0h1m-88 1h1m1 0h1m31 0h1m14 0h1m1 0h1m4 0h1m8 0h1m7 0h1m11 0h1m-85 1h1m27 0h1m10 0h1m5 0h1m11 0h1m7 0h2m12 0h1m46 0h2m-128 1h2m20 0h1m24 0h1m16 0h1m-65 1h1m6 0h1m2 0h1m14 0h2m18 0h1m8 0h1m9 0h1m1 0h1m49 0h1m-120 1h1m5 0h1m8 0h1m12 0h1m10 0h2m13 0h2m11 0h2m14 0h1m-79 1h1m1 0h1m29 0h1m2 0h1m6 0h1m2 0h1m28 0h1m1 0h1m-75 1h1m10 0h1m13 0h1m25 0h1m2 0h1m27 0h1m16 0h1m2 0h1m10 0h1m-120 1h1m9 0h1m1 0h1m12 0h1m15 0h1m38 0h1m29 0h1m6 0h1m-108 1h1m17 0h1m32 0h1m19 0h1m9 0h2m17 0h1m-93 1h1m1 0h1m1 0h1m23 0h1m3 0h1m1 0h2m4 0h2m1 0h1m2 0h1m8 0h1m2 0h1m2 0h1m6 0h1m4 0h1m1 0h1m12 0h1m4 0h1m-82 1h1m8 0h2m15 0h1m59 0h1m8 0h1m-116 1h1m4 0h2m15 0h1m12 0h1m7 0h1m7 0h1m12 0h1m5 0h1m6 0h1m1 0h1m2 0h1m6 0h1m1 0h1m4 0h1m1 0h2m11 0h1m-92 1h1m11 0h1m27 0h1m1 0h1m3 0h1m7 0h1m8 0h1m13 0h1m-80 1h1m2 0h1m10 0h1m4 0h1m3 0h1m18 0h1m4 0h1m21 0h1m11 0h1m-94 1h1m17 0h1m12 0h1m2 0h1m15 0h2m9 0h1m4 0h1m5 0h1m2 0h1m-96 1h1m13 0h1m37 0h1m24 0h1m2 0h1m6 0h1m7 0h1m4 0h1m-101 1h1m20 0h1m2 0h1m9 0h2m1 0h1m9 0h1m9 0h1m3 0h1m4 0h1m1 0h1m4 0h1m2 0h2m16 0h1m-100 1h1m38 0h1m16 0h1m4 0h1m1 0h1m21 0h1m5 0h1m1 0h2m7 0h1m1 0h1m19 0h1m-125 1h1m13 0h1m3 0h1m19 0h1m10 0h1m25 0h2m16 0h1m2 0h1m2 0h1m2 0h1m3 0h1m12 0h1m-120 1h1m17 0h1m5 0h1m12 0h1m14 0h1m2 0h1m13 0h1m6 0h1m12 0h1m6 0h2m9 0h1m1 0h1m-108 1h1m12 0h1m32 0h1m4 0h1m25 0h1m4 0h1m16 0h2m3 0h1m-86 1h1m31 0h1m5 0h1m14 0h1m19 0h1m5 0h1m-92 1h1m8 0h1m27 0h2m26 0h1m38 0h1m6 0h1m-109 1h2m20 0h1m23 0h1m8 0h1m11 0h1m6 0h1m1 0h1m10 0h1m1 0h1m-102 1h1m3 0h1m18 0h1m31 0h1m7 0h1m7 0h1m5 0h1m13 0h1m-86 1h1m43 0h1m9 0h1m12 0h1m14 0h1m-96 1h1m27 0h1m35 0h1m4 0h2m4 0h1m5 0h1m2 0h1m6 0h1m5 0h1m-93 1h1m2 0h2m17 0h1m3 0h1m5 0h1m13 0h1m33 0h1m1 0h1m2 0h1m6 0h1m1 0h1m1 0h1m6 0h1m-86 1h1m25 0h1m18 0h1m3 0h1m4 0h1m2 0h1m2 0h1m2 0h1m1 0h1m1 0h1m-87 1h1m20 0h2m7 0h1m10 0h1m4 0h1m5 0h1m27 0h1m9 0h1m-91 1h1m9 0h1m33 0h1m2 0h1m6 0h1m25 0h2m3 0h1m4 0h1m-81 1h1m36 0h1m4 0h1m15 0h1m7 0h1m3 0h1m5 0h1m3 0h1m1 0h1m-9 1h1m-76 1h1m3 0h1m30 0h1m1 0h1m13 0h1m17 0h1m1 0h1m-42 1h1m5 0h1m11 0h1m4 0h1m18 0h3m8 0h1m-49 1h1m17 0h1m1 0h1m35 0h1m-103 1h1m8 0h2m42 0h1m7 0h1m5 0h1m2 0h1m3 0h1m2 0h1m-82 1h1m19 0h1m28 0h1m17 0h1m19 0h1m6 0h1m13 0h1m-111 1h1m1 0h1m7 0h1m6 0h1m9 0h1m36 0h1m5 0h1m6 0h1m9 0h2m7 0h1m1 0h1m12 0h1m-87 1h2m40 0h3m4 0h2m23 0h1m12 0h1m-89 1h1m38 0h1m6 0h1m3 0h1m1 0h1m4 0h1m28 0h1m-105 1h1m23 0h1m4 0h1m16 0h1m2 0h1m3 0h1m31 0h1m-67 1h1m2 0h1m1 0h1m1 0h1m4 0h1m35 0h1m13 0h1m1 0h1m-62 1h2m4 0h1m18 0h1m6 0h1m20 0h1m7 0h1m-19 1h1m6 0h1m23 0h1m-11 1h1m-87 3h1m41 0h1m-12 1h1m41 1h1m-54 1h1m4 0h1m-15 4h1"/><path stroke="#38b977" d="M156 9h1m7 1h2m3 0h1m-18 2h1m8 0h1m-6 1h1m9 0h1m14 0h1m-30 1h1m17 0h1m9 0h1m-27 1h1m8 0h1m1 0h1m1 1h1m-24 1h1m10 0h1m6 0h1m8 0h1m9 0h1m-30 1h2m5 0h1m5 0h1m15 0h1m-40 1h1m10 0h1m4 0h1m9 1h1m3 0h1m9 0h1m-39 1h1m29 0h1m4 1h1m2 0h1m-41 1h1m4 0h1m11 0h1m3 0h1m20 0h1m-46 1h1m3 0h1m38 0h1m2 0h1m-51 1h1m9 0h1m18 0h3m14 0h1m-49 1h1m10 0h1m7 0h1m23 0h1m4 0h2m-38 1h1m22 0h1m-36 1h3m1 0h1m5 0h1m9 0h3m9 0h1m18 0h2m-54 1h1m1 0h1m46 0h1m2 0h1m1 0h1m-53 1h1m19 0h1m-17 1h1m12 0h1m2 0h1m11 0h1m17 0h1m2 0h1m-54 1h1m2 0h1m22 0h1m26 0h1m-49 1h1m10 0h1m10 0h1m24 0h1m-20 1h1m12 0h1m4 0h1m-52 1h2m6 0h1m12 0h1m16 0h1m-30 1h1m13 0h2m1 0h1m1 0h2m2 0h1m2 0h1m19 0h1m-41 1h1m9 0h1m2 0h1m1 0h1m9 0h1m15 0h1m-24 1h1m2 0h1m6 0h1m-47 1h1m33 0h2m-2 1h1m2 0h1m15 0h1m-65 1h1m38 0h1m3 0h1m11 0h1m14 0h1m-67 1h1m7 0h1m40 0h1m-54 1h2m5 0h1m32 1h1m1 0h1m5 0h1m-28 1h1m23 0h2m-50 1h1m6 0h1m10 0h1m25 0h1m8 0h1m-45 1h1m15 0h1m17 0h1m7 0h1m-35 1h1m24 0h1m18 0h1m-83 1h2m23 0h1m3 0h1m57 0h1m-66 1h1m9 1h1m2 0h1m40 0h1m-64 1h1m3 0h1m11 0h1m1 0h1m26 0h1m-55 1h1m6 0h1m16 0h1m22 0h1m23 0h1m7 0h1m-76 1h1m43 0h1m1 0h1m14 0h1m-61 1h1m3 0h1m1 0h1m10 0h2m3 0h1m48 0h1m-68 1h1m6 0h1m2 0h1m2 0h1m11 0h1m-27 1h2m19 0h1m-19 1h1m15 0h1m-6 1h1m46 0h1m-64 1h1m36 0h1m5 1h1m-47 1h1m25 0h2m42 0h1m-42 1h1m14 0h1m-9 1h2m2 0h1m-92 1h1m49 0h1m64 0h1m8 0h1m-124 1h2m2 0h1m77 0h1m17 0h1m-58 1h1m2 0h1m13 0h1m3 0h1m43 0h1m3 0h1m27 0h1m-144 1h1m2 0h1m44 0h1m1 0h1m2 0h1m42 0h1m18 0h1m-66 1h1m3 0h1m7 0h1m-25 1h1m14 0h2m42 0h1m15 0h1m2 0h1m-118 1h2m5 0h1m37 0h1m8 0h1m3 0h1m56 0h1m10 0h1m20 0h1m-149 1h2m49 0h2m1 0h1m27 0h1m11 0h1m13 0h1m-102 1h1m30 0h1m10 0h1m8 0h1m15 0h1m29 0h1m3 0h1m-108 1h1m2 0h1m3 0h2m29 0h1m3 0h1m4 0h1m72 0h1m-122 1h1m2 0h1m68 0h1m64 0h1m-138 1h2m2 0h4m2 0h1m95 0h1m27 0h1m-129 1h1m10 0h1m32 0h1m3 0h1m6 0h1m5 0h1m41 0h1m1 0h1m-113 1h1m17 0h1m23 0h1m8 0h1m10 0h1m1 0h2m2 0h1m20 0h1m-81 1h1m6 0h1m1 0h1m34 0h1m13 0h1m42 0h2m-104 1h1m2 0h1m37 0h1m3 0h1m10 0h1m31 0h1m2 0h1m1 0h1m3 0h1m25 0h1m8 0h1m2 0h1m-143 1h1m7 0h1m4 0h1m32 0h1m10 0h1m1 0h1m4 0h2m4 0h1m29 0h1m27 0h1m-128 1h2m7 0h1m2 0h1m43 0h1m5 0h1m5 0h1m7 0h1m5 0h1m10 0h1m-92 1h1m1 0h1m5 0h2m4 0h1m76 0h2m7 0h1m19 0h1m-71 1h1m6 0h1m7 0h1m25 0h1m3 0h1m39 0h1m-87 1h1m44 0h1m9 0h1m16 0h1m13 0h1m5 0h1m-92 1h2m2 0h1m78 0h1m-57 1h1m44 0h1m-101 1h1m22 0h1m3 0h2m3 0h1m16 0h1m12 0h1m47 0h1m-154 1h1m61 0h1m3 0h1m15 0h1m10 0h1m53 0h1m4 0h1m-83 1h1m19 0h1m-17 1h1m76 0h1m-80 1h1m5 0h1m9 1h1m65 0h1m-72 1h1m68 0h1m-98 1h1m8 0h1m4 0h1m4 1h1m1 0h1m4 0h1m17 0h1m-28 1h1m11 0h1m-68 1h1m33 0h1m15 0h1m-48 1h1m1 0h1m13 0h1m2 0h1m26 0h1m12 0h2m-55 1h1m3 0h1m3 0h1m13 0h1m11 0h1m9 0h1m11 0h1m5 0h1m8 0h1m-82 1h1m9 0h1m16 0h1m32 0h1m24 0h1m32 0h1m7 0h2m-130 1h1m9 0h1m4 0h1m26 0h1m9 0h2m8 0h1m6 0h1m3 0h1m5 0h1m41 0h1m-122 1h2m11 0h1m3 0h1m8 0h2m2 0h1m11 0h1m20 0h1m5 0h1m5 0h2m4 0h1m5 0h1m-71 1h1m13 0h1m21 0h1m5 0h1m9 0h1m59 0h1m-128 1h1m12 0h2m6 0h1m25 0h1m10 0h1m8 0h1m5 0h1m3 0h1m3 0h1m46 0h1m-126 1h1m10 0h1m25 0h1m1 0h1m15 0h2m15 0h1m8 0h1m4 0h1m12 0h1m19 0h1m-88 1h2m3 0h1m6 0h1m13 0h1m12 0h1m4 0h1m8 0h1m15 0h1m4 0h1m-82 1h1m8 0h2m27 0h1m8 0h1m1 0h1m2 0h1m3 0h1m6 0h1m12 0h1m9 0h1m5 0h1m-105 1h1m7 0h1m12 0h1m2 0h1m21 0h2m13 0h2m8 0h1m-59 1h2m15 0h1m20 0h1m5 0h1m8 0h1m2 0h1m1 0h1m17 0h3m3 0h1m6 0h1m-119 1h1m3 0h1m5 0h1m3 0h1m38 0h1m8 0h1m7 0h1m1 0h1m7 0h1m20 0h1m5 0h1m-92 1h1m11 0h1m15 0h1m2 0h1m8 0h1m4 0h1m4 0h2m5 0h1m2 0h1m4 0h1m1 0h1m21 0h1m5 0h1m5 0h1m-109 1h2m4 0h1m7 0h1m23 0h1m6 0h1m1 0h2m15 0h1m3 0h2m6 0h2m19 0h1m2 0h1m7 0h1m-118 1h1m3 0h1m7 0h1m30 0h1m9 0h1m7 0h2m7 0h1m10 0h1m1 0h1m15 0h1m22 0h1m-79 1h1m4 0h1m9 0h1m1 0h1m8 0h1m13 0h1m27 0h1m4 0h1m1 0h1m-107 1h1m18 0h1m7 0h2m12 0h1m11 0h1m23 0h1m1 0h1m3 0h1m15 0h1m-122 1h1m35 0h1m18 0h1m14 0h1m1 0h1m21 0h1m-80 1h1m23 0h1m13 0h1m16 0h1m5 0h1m3 0h1m23 0h1m-83 1h1m14 0h1m12 0h1m14 0h1m3 0h1m29 0h1m1 0h1m1 0h1m6 0h1m9 0h1m3 0h1m-100 1h1m23 0h1m6 0h1m1 0h1m10 0h1m6 0h1m3 0h1m4 0h1m2 0h1m1 0h1m1 0h2m9 0h1m-114 1h1m25 0h1m21 0h1m44 0h1m1 0h1m25 0h1m2 0h1m-117 1h2m11 0h1m14 0h1m13 0h2m8 0h1m1 0h1m2 0h1m4 0h2m2 0h1m9 0h1m5 0h1m8 0h1m23 0h1m-101 1h1m36 0h1m1 0h1m7 0h1m17 0h1m2 0h1m4 0h1m5 0h1m2 0h1m1 0h3m10 0h1m-108 1h1m3 0h1m14 0h1m10 0h1m7 0h1m18 0h1m14 0h1m20 0h1m14 0h1m3 0h1m-125 1h1m1 0h1m28 0h1m55 0h1m8 0h2m1 0h1m2 0h1m-96 1h1m1 0h2m3 0h1m54 0h1m12 0h2m16 0h1m4 0h1m3 0h2m-63 1h1m16 0h1m2 0h1m10 0h1m2 0h1m6 0h1m5 0h1m4 0h1m12 0h1m-103 1h1m7 0h1m42 0h1m5 0h1m2 0h1m7 0h1m13 0h1m23 0h1m3 0h1m-113 1h1m20 0h1m38 0h1m17 0h1m31 0h1m-115 1h1m7 0h1m59 0h1m1 0h3m10 0h1m4 0h1m3 0h1m-98 1h1m9 0h1m53 0h1m1 0h3m7 0h1m9 0h1m-20 1h1m1 0h1m1 0h1m9 0h1m3 0h2m1 0h1m2 0h1m3 0h1m23 0h1m-110 1h1m2 0h1m30 0h1m15 0h1m2 0h1m1 0h1m5 0h2m13 0h1m4 0h1m3 0h1m-89 1h1m11 0h1m32 0h1m6 0h1m1 0h1m3 0h1m3 0h1m1 0h1m4 0h1m3 0h1m2 0h1m-74 1h1m36 0h1m17 0h1m23 0h1m-88 1h1m53 0h1m7 0h1m21 0h1m1 0h1m8 0h2m-103 1h1m65 0h1m10 0h1m3 0h1m-75 1h1m11 0h1m3 0h1m26 0h1m9 0h1m2 0h1m24 0h1m4 0h1m-93 1h1m29 0h1m37 0h1m5 0h1m-68 1h1m15 0h1m9 0h1m14 0h1m1 0h1m13 0h1m10 0h1m19 0h1m13 0h1m-86 1h1m24 0h1m3 0h1m20 0h1m18 0h1m-61 1h1m33 0h2m1 0h1m4 0h1m5 0h1m-48 1h1m6 0h1m2 0h1m25 0h1m8 0h1m1 0h1m8 0h1m-51 1h1m3 0h1m8 0h1m38 0h1m-67 1h1m44 0h1m25 0h1m-89 1h1m1 3h1m25 0h1m5 0h1m-17 1h1m10 0h1m-14 1h2m52 0h1m-43 2h1m-5 1h1"/><path stroke="#50c46a" d="M163 8h1m-9 2h1m4 0h1m10 0h1m1 0h1m7 1h1m-28 1h1m13 0h1m11 1h1m-31 1h1m6 0h2m17 0h1m6 0h1m-38 1h1m22 0h1m8 0h1m-35 1h1m3 0h2m2 0h1m2 0h1m1 0h1m7 0h1m-9 1h1m1 0h2m3 0h1m2 0h1m11 1h1m-7 1h1m7 0h1m-3 1h2m2 0h1m-24 1h1m6 0h1m17 0h1m-43 1h1m13 0h1m19 0h1m5 0h1m-46 1h1m32 0h1m10 0h2m-20 1h1m1 0h1m4 0h1m-39 1h1m5 0h1m7 0h1m12 0h1m21 0h2m-52 1h1m14 0h1m31 0h1m-37 1h1m14 0h1m19 0h1m7 0h1m-55 1h1m18 0h2m4 0h1m23 0h1m-49 1h1m3 0h1m17 0h2m8 0h1m-14 1h1m8 0h1m25 0h1m-52 1h1m16 0h1m10 0h1m20 0h2m1 0h1m-51 1h1m2 0h1m3 0h2m5 0h1m9 0h1m1 0h1m5 0h1m17 0h1m-54 1h1m16 0h1m1 0h1m1 0h1m-26 1h1m1 0h1m9 0h1m2 0h1m17 0h1m1 0h1m11 0h1m7 0h2m3 0h1m-46 1h1m4 0h1m1 0h1m7 0h3m2 0h1m20 0h1m-55 1h1m25 0h1m5 0h1m1 0h1m12 0h1m6 0h1m3 0h1m-61 1h1m25 0h1m3 0h1m24 0h1m-57 1h1m6 0h1m27 0h1m3 0h1m18 0h1m2 0h1m-65 1h1m36 0h1m2 0h2m1 0h2m1 0h1m9 0h2m-64 1h1m10 0h1m5 0h1m-16 1h3m8 0h1m18 0h1m4 0h1m6 0h1m10 0h1m-54 1h1m4 0h1m5 0h1m36 0h1m-42 1h1m41 0h1m3 0h1m-56 1h2m35 0h1m10 0h1m-23 1h1m27 0h1m-60 1h1m4 0h1m3 0h1m-4 1h2m26 0h1m18 0h2m1 0h1m4 0h1m11 0h1m-74 1h1m7 0h1m7 0h1m2 0h2m32 0h1m9 0h1m3 0h3m-68 1h1m14 0h1m-13 1h1m2 0h1m8 0h1m37 0h1m6 0h1m-68 1h3m5 0h1m2 0h1m2 0h1m7 0h1m7 0h1m31 0h1m8 0h1m-68 1h1m14 0h1m24 0h1m-43 1h1m21 0h1m27 0h1m-55 1h1m3 0h1m16 0h1m-21 1h1m6 0h1m2 0h1m5 0h1m5 0h2m43 0h2m-74 1h1m5 0h1m1 0h1m6 0h2m6 0h1m21 0h1m4 0h1m5 0h1m8 0h1m6 0h1m-62 1h1m2 0h1m8 0h1m1 0h1m6 0h1m33 0h1m-56 1h1m26 0h1m27 0h1m-63 1h2m60 0h1m-65 1h1m7 0h1m40 0h1m-108 1h1m54 0h1m5 0h1m11 0h1m19 0h1m30 0h2m-73 1h1m8 0h1m12 0h1m3 0h1m6 0h1m11 0h1m26 0h1m-74 1h1m-54 1h1m121 0h1m7 0h1m-130 1h2m57 0h1m65 0h1m-126 1h1m53 0h2m1 0h1m24 0h1m10 0h1m11 0h1m-101 1h1m59 0h1m26 0h1m13 0h1m1 0h1m36 0h1m-65 1h1m1 0h1m8 0h1m-91 1h1m46 0h2m7 0h1m-58 1h1m38 0h1m21 0h1m10 0h1m45 0h1m-83 1h1m2 0h1m14 0h1m7 0h1m35 0h1m6 0h1m2 0h1m4 0h1m2 0h2m-117 1h1m36 0h1m5 0h1m8 0h2m52 0h1m1 0h1m-104 1h1m30 0h1m2 0h1m16 0h1m1 0h1m21 0h1m11 0h1m-93 1h1m53 0h2m52 0h1m24 0h1m1 0h1m-137 1h1m3 0h1m34 0h1m7 0h2m14 0h1m3 0h1m22 0h1m53 0h1m-139 1h1m28 0h1m16 0h1m11 0h1m40 0h1m36 0h1m-136 1h1m34 0h1m15 0h1m27 0h1m8 0h1m19 0h1m-110 1h1m49 0h1m3 0h1m7 0h1m38 0h1m-55 1h2m3 0h1m7 0h1m3 0h1m21 0h1m5 0h1m30 0h1m-130 1h1m3 0h1m9 0h2m28 0h1m11 0h1m19 0h1m17 0h1m8 0h2m5 0h1m-97 1h1m38 0h1m5 0h1m15 0h2m7 0h1m7 0h1m1 0h2m6 0h2m24 0h1m-127 1h1m77 0h1m14 0h1m2 0h1m2 0h1m1 0h1m-93 1h1m44 0h1m1 0h1m3 0h1m31 0h1m2 0h1m20 0h1m-116 1h1m45 0h2m4 0h1m17 0h1m-15 1h1m7 0h1m45 0h1m-57 1h1m3 0h1m12 0h1m8 0h2m7 0h1m37 0h1m-109 1h1m26 0h1m1 0h1m1 0h1m1 0h1m7 0h1m27 0h1m39 0h1m-46 1h1m45 0h1m-79 1h1m2 0h1m16 0h1m14 0h1m41 0h1m-109 1h1m31 0h1m6 0h1m57 0h1m-56 1h1m59 0h1m4 0h1m-72 1h1m6 0h1m1 0h1m8 0h1m2 0h1m6 0h1m30 0h1m-68 1h1m7 0h1m0 1h3m4 0h1m6 0h1m2 0h1m-71 1h1m65 0h1m-62 1h1m33 0h1m17 0h1m-21 1h1m14 0h1m2 0h1m7 0h1m-62 1h1m6 0h1m39 0h1m4 0h1m1 0h1m2 0h1m2 0h1m5 0h2m2 0h1m-83 1h1m10 0h1m5 0h1m34 0h1m19 0h1m-68 1h1m2 0h1m12 0h1m5 0h1m45 0h1m-52 1h1m41 0h2m4 0h1m9 0h1m37 0h1m-78 1h1m5 0h1m5 0h1m23 0h1m42 0h2m-74 1h1m3 0h1m3 0h2m10 0h1m12 0h1m3 0h1m-75 1h1m56 0h1m9 0h1m2 0h1m-68 1h1m16 0h1m42 0h1m27 0h1m-92 1h1m18 0h1m35 0h1m11 0h1m2 0h1m20 0h1m-91 1h1m27 0h1m1 0h1m18 0h1m12 0h1m7 0h1m21 0h1m2 0h1m-94 1h1m6 0h1m8 0h1m50 0h1m4 0h1m21 0h1m8 0h1m-109 1h1m34 0h1m18 0h2m3 0h2m3 0h2m10 0h1m15 0h1m2 0h1m15 0h2m-123 1h2m10 0h1m24 0h2m14 0h1m25 0h1m3 0h1m4 0h1m26 0h1m3 0h1m-93 1h1m18 0h1m10 0h2m26 0h1m1 0h1m17 0h1m5 0h1m4 0h1m1 0h1m5 0h1m-116 1h1m23 0h1m8 0h1m2 0h1m8 0h2m1 0h1m16 0h1m5 0h1m5 0h1m2 0h1m8 0h1m3 0h1m5 0h1m1 0h1m4 0h1m6 0h1m-104 1h3m38 0h1m5 0h1m9 0h1m13 0h1m5 0h1m4 0h1m16 0h1m-114 1h1m16 0h1m27 0h1m1 0h1m7 0h1m3 0h1m6 0h1m2 0h1m12 0h1m30 0h2m-116 1h1m7 0h1m6 0h1m32 0h1m4 0h1m42 0h2m-97 1h1m12 0h1m23 0h1m26 0h1m5 0h1m3 0h1m17 0h2m1 0h1m-69 1h1m7 0h1m7 0h1m10 0h1m9 0h1m2 0h1m7 0h1m1 0h2m2 0h1m5 0h1m3 0h2m-104 1h1m12 0h1m29 0h2m14 0h1m16 0h1m15 0h1m3 0h1m-66 1h1m6 0h1m13 0h2m1 0h1m8 0h1m4 0h1m9 0h1m1 0h1m5 0h1m1 0h1m15 0h1m-69 1h1m1 0h1m27 0h1m4 0h1m7 0h1m14 0h1m12 0h1m-116 1h1m20 0h1m13 0h1m17 0h1m2 0h1m1 0h1m1 0h1m11 0h1m4 0h1m7 0h1m6 0h1m3 0h1m4 0h1m5 0h1m4 0h1m14 0h1m-112 1h1m40 0h1m5 0h1m13 0h1m13 0h1m2 0h1m2 0h1m10 0h1m7 0h1m1 0h1m3 0h1m-127 1h1m4 0h2m20 0h1m53 0h1m3 0h1m1 0h1m3 0h2m2 0h1m-67 1h1m22 0h1m4 0h1m24 0h1m8 0h1m5 0h1m5 0h1m16 0h1m-121 1h1m1 0h1m52 0h1m2 0h1m7 0h1m35 0h1m1 0h2m1 0h1m-101 1h1m47 0h1m3 0h1m5 0h1m3 0h2m7 0h1m8 0h1m3 0h1m3 0h1m-88 1h2m1 0h1m47 0h1m33 0h1m4 0h1m-87 1h1m2 0h1m33 0h1m26 0h1m29 0h1m12 0h1m-66 1h1m7 0h1m6 0h2m9 0h1m15 0h1m3 0h1m-32 1h1m1 0h1m5 0h1m3 0h1m2 0h1m5 0h1m9 0h2m19 0h1m-114 1h1m2 0h1m58 0h1m3 0h1m1 0h1m12 0h1m8 0h1m-90 1h2m37 0h1m2 0h1m2 0h1m10 0h1m1 0h1m18 0h1m17 0h1m-55 1h1m5 0h1m9 0h1m-26 1h1m12 0h1m14 0h1m2 0h1m7 0h1m5 0h1m1 0h1m3 0h1m1 0h1m-96 1h1m70 0h1m1 0h1m8 0h1m9 0h1m1 0h1m2 0h1m-97 1h1m12 0h1m46 0h1m9 0h1m4 0h2m1 0h1m5 0h1m9 0h1m-101 1h1m8 0h1m8 0h1m39 0h1m16 0h1m10 0h1m11 0h1m2 0h2m-101 1h1m23 0h1m48 0h1m5 0h1m-74 1h1m11 0h1m29 0h1m9 0h1m16 0h1m13 0h1m3 0h1m-93 1h1m3 0h1m4 0h1m58 0h1m6 0h1m1 0h1m9 0h1m2 0h2m3 0h1m8 0h1m6 0h1m-95 1h1m3 0h1m27 0h1m25 0h1m5 0h1m6 0h1m2 0h1m-54 1h2m21 0h5m11 0h1m1 0h1m1 0h1m9 0h1m-67 1h1m20 0h1m1 0h1m1 0h1m4 0h1m6 0h1m3 0h1m-51 1h1m4 0h1m1 0h1m1 0h1m-5 1h2m1 0h1m41 0h1m1 0h1m5 0h1m3 0h1m1 0h1m6 0h1m1 0h1m1 0h1m-89 1h1m5 3h1m25 0h1m4 0h1m-16 1h1m3 0h1m6 0h1m5 0h2m-32 1h1m9 0h1m10 0h1m-26 2h1m10 0h1m4 0h1m12 0h1m-17 1h1m-2 4h1"/><path stroke="#6ccd5a" d="M157 9h1m4 0h2m4 1h1m-13 1h2m1 0h1m7 0h1m-18 1h1m2 0h1m5 0h1m9 0h1m10 0h1m-30 1h1m5 0h1m2 0h1m9 0h1m7 0h1m4 0h1m-9 1h1m2 0h1m-34 1h1m10 0h1m3 0h2m9 0h1m5 0h1m-22 1h1m16 0h1m4 0h1m0 1h1m-26 1h1m20 0h1m8 0h1m-44 1h1m1 0h1m8 0h1m16 0h1m2 0h1m7 0h1m-37 1h1m26 0h1m1 0h1m2 1h1m7 0h1m-26 1h1m9 0h1m14 0h1m-48 1h1m19 0h1m12 0h1m6 0h1m-43 1h1m24 0h1m1 0h1m5 0h1m9 0h1m-42 1h1m2 0h1m18 0h1m-21 1h1m20 0h1m4 0h1m12 0h1m1 0h1m-29 1h1m12 0h1m-26 1h1m19 0h1m3 0h1m-19 1h1m11 0h1m3 0h1m6 0h1m9 0h1m7 0h1m-57 1h1m7 0h1m8 0h2m7 0h2m3 0h1m23 0h1m-54 1h1m14 0h1m14 0h1m16 0h2m-35 1h1m7 0h2m8 0h1m10 0h1m6 0h1m-46 1h1m6 0h1m7 0h1m9 0h2m1 0h1m20 0h2m-53 1h1m10 0h1m6 0h1m2 0h1m4 0h1m8 0h2m3 0h1m6 0h1m4 0h1m-52 1h1m18 0h2m10 0h1m16 0h1m5 0h1m-60 1h1m2 0h1m2 0h1m6 0h1m15 0h1m6 0h1m2 0h2m-41 1h1m2 0h1m14 0h1m17 0h1m2 0h3m-27 1h1m1 0h1m7 0h1m2 0h1m2 0h1m4 0h1m2 0h1m4 0h1m2 0h1m9 0h1m-56 1h1m2 0h1m8 0h1m2 0h2m10 0h1m15 0h2m1 0h1m10 0h1m-37 1h1m10 0h1m5 0h1m14 0h2m-68 1h2m3 0h1m4 0h2m13 0h1m14 0h1m2 0h1m-32 1h1m-11 1h1m35 0h1m6 0h1m6 0h2m-57 1h2m9 0h1m31 0h1m12 0h1m15 0h1m-71 1h2m5 0h1m10 0h2m36 0h1m2 0h1m-60 1h1m1 0h1m3 0h1m10 0h1m33 0h1m-48 1h1m6 0h1m44 0h1m1 0h1m6 0h1m-14 1h1m7 0h2m-65 1h1m55 0h1m4 0h1m-63 1h1m9 0h2m26 0h1m19 0h1m2 0h1m5 0h2m-36 1h1m38 0h1m-68 1h2m5 0h2m7 0h1m24 0h3m5 0h1m5 0h1m4 0h1m-70 1h1m7 0h1m1 0h1m6 0h2m28 0h1m-44 1h2m2 0h3m6 0h1m8 0h1m-26 1h1m15 0h1m1 0h1m4 0h1m35 0h1m-67 1h1m1 0h1m27 0h1m7 0h1m29 0h1m3 0h1m-69 1h1m6 0h1m8 0h1m5 0h1m-14 1h1m6 0h1m10 0h1m17 0h1m13 0h1m2 0h1m1 0h1m-68 1h2m4 0h1m2 0h1m1 0h1m7 0h1m35 0h1m-55 1h1m1 0h1m1 0h1m42 0h1m14 0h1m-63 1h1m-60 1h1m64 0h1m33 0h1m27 0h1m-127 1h1m51 0h2m9 0h1m31 0h2m-45 1h1m4 0h1m52 0h1m-54 1h1m2 0h1m6 0h1m25 0h1m28 0h1m-65 1h1m1 0h1m5 0h1m35 0h1m5 0h1m1 0h1m10 0h2m5 0h1m-75 1h1m26 0h1m39 0h1m6 0h1m-80 1h1m11 0h2m1 0h1m13 0h1m9 0h1m20 0h1m4 0h1m5 0h1m23 0h1m-48 1h1m11 0h2m11 0h1m-88 1h1m12 0h1m1 0h1m8 0h1m29 0h1m4 0h1m13 0h1m16 0h1m10 0h1m10 0h1m-93 1h1m3 0h3m42 0h1m2 0h1m1 0h2m13 0h1m-120 1h1m30 0h1m20 0h1m53 0h1m23 0h1m-137 1h1m58 0h1m14 0h1m27 0h1m22 0h1m19 0h1m3 0h1m-149 1h1m8 0h1m29 0h1m26 0h1m14 0h1m11 0h2m9 0h1m6 0h2m17 0h1m1 0h1m-126 1h1m7 0h1m45 0h1m14 0h1m18 0h1m8 0h2m6 0h1m21 0h1m7 0h1m-129 1h1m35 0h1m8 0h1m1 0h1m3 0h1m26 0h1m15 0h1m14 0h1m11 0h1m-130 1h1m69 0h1m3 0h2m9 0h1m1 0h1m4 0h1m7 0h1m1 0h1m2 0h1m18 0h1m13 0h1m-131 1h1m55 0h1m1 0h1m2 0h1m17 0h1m5 0h1m4 0h1m4 0h1m4 0h1m7 0h1m-79 1h1m2 0h1m14 0h1m8 0h2m1 0h1m9 0h1m15 0h1m8 0h1m11 0h1m-119 1h1m5 0h1m35 0h1m1 0h1m17 0h1m2 0h1m15 0h1m2 0h1m-89 1h1m74 0h1m15 0h1m9 0h1m4 0h1m4 0h2m15 0h1m9 0h1m-101 1h1m10 0h1m7 0h1m36 0h2m7 0h1m30 0h1m-84 1h2m9 0h1m6 0h2m4 0h1m24 0h1m4 0h1m21 0h2m5 0h1m-136 1h1m61 0h2m6 0h3m19 0h1m6 0h1m23 0h1m10 0h1m4 0h1m2 0h1m-140 1h1m66 0h1m1 0h1m1 0h1m9 0h1m6 0h2m3 0h1m29 0h1m1 0h1m-82 1h1m17 0h1m3 0h1m4 0h1m15 0h1m2 0h1m18 0h1m18 0h1m13 0h1m-86 1h2m6 0h1m19 0h2m27 0h2m8 0h1m-74 1h1m5 0h1m25 0h1m2 0h1m39 0h1m0 1h1m-85 1h1m4 0h1m7 0h1m6 0h1m1 0h1m14 0h1m46 0h1m2 0h2m1 0h1m-93 1h1m15 0h1m1 0h1m12 0h1m48 0h1m6 0h1m-67 1h2m18 0h1m2 0h1m-60 1h1m16 0h1m21 0h1m2 0h1m59 0h1m1 0h1m1 0h1m1 0h1m-90 1h2m10 0h1m5 0h1m13 0h1m48 0h1m-83 1h2m1 0h1m14 0h1m2 0h2m8 1h2m2 0h2m49 0h1m-69 1h1m9 0h2m1 0h1m2 0h1m-87 1h1m4 0h1m12 0h1m5 0h1m33 0h2m12 0h1m2 0h1m2 0h1m-61 1h1m8 0h1m30 0h2m2 0h1m6 0h2m6 0h2m7 0h1m29 0h1m-109 1h1m47 0h1m2 0h1m22 0h1m2 0h1m2 0h1m28 0h1m-54 1h1m5 0h1m57 0h1m-101 1h1m1 0h1m21 0h1m22 0h2m2 0h1m5 0h1m1 0h1m3 0h1m-87 1h1m38 0h1m26 0h1m3 0h1m-15 1h1m3 0h1m7 0h2m6 0h1m1 0h2m2 0h1m3 0h1m22 0h1m-111 1h1m2 0h1m17 0h2m9 0h1m36 0h1m1 0h1m3 0h1m5 0h1m3 0h1m17 0h2m-87 1h1m12 0h1m5 0h2m25 0h1m2 0h1m5 0h1m5 0h1m2 0h1m2 0h1m19 0h1m-104 1h1m26 0h1m17 0h1m19 0h1m1 0h1m14 0h1m16 0h1m-90 1h1m13 0h1m13 0h1m29 0h2m3 0h1m2 0h1m1 0h1m6 0h1m16 0h2m-109 1h1m32 0h1m44 0h1m8 0h1m23 0h1m3 0h1m-101 1h1m46 0h1m5 0h1m35 0h1m17 0h2m-103 1h1m48 0h1m2 0h1m2 0h2m8 0h1m5 0h1m15 0h1m-90 1h1m2 0h2m28 0h1m14 0h1m2 0h1m2 0h1m3 0h1m12 0h1m12 0h1m-97 1h1m10 0h2m25 0h1m14 0h1m3 0h1m1 0h2m3 0h1m5 0h1m3 0h1m3 0h1m3 0h1m1 0h1m7 0h1m13 0h1m1 0h1m1 0h2m6 0h1m-122 1h2m13 0h1m26 0h1m11 0h1m32 0h1m1 0h1m13 0h1m-59 1h1m3 0h1m17 0h1m8 0h1m3 0h1m16 0h1m5 0h1m7 0h1m-71 1h1m3 0h2m4 0h1m16 0h1m12 0h1m22 0h1m8 0h2m3 0h2m-115 1h1m30 0h1m29 0h1m5 0h1m6 0h1m9 0h1m13 0h1m-66 1h1m10 0h1m17 0h1m5 0h1m1 0h2m8 0h1m1 0h1m10 0h2m3 0h1m8 0h1m2 0h1m-131 1h1m2 0h1m32 0h1m16 0h1m3 0h1m16 0h1m5 0h2m1 0h1m7 0h1m7 0h1m2 0h1m7 0h1m14 0h2m-130 1h1m84 0h1m3 0h1m23 0h1m1 0h2m2 0h2m1 0h1m-79 1h1m1 0h3m42 0h1m8 0h1m13 0h1m7 0h2m-125 1h1m2 0h1m1 0h1m20 0h1m29 0h2m28 0h1m9 0h1m2 0h1m4 0h1m2 0h1m3 0h1m11 0h2m3 0h1m-125 1h1m3 0h2m39 0h1m4 0h1m1 0h2m5 0h2m18 0h1m9 0h1m3 0h1m1 0h1m8 0h2m11 0h1m-123 1h2m4 0h4m50 0h1m6 0h1m20 0h3m3 0h1m4 0h1m2 0h1m6 0h1m13 0h1m-116 1h1m51 0h1m25 0h1m1 0h1m29 0h1m-85 1h1m59 0h1m4 0h1m1 0h1m4 0h1m14 0h1m-119 1h1m1 0h1m2 0h1m5 0h1m42 0h1m22 0h1m11 0h1m5 0h1m7 0h1m1 0h1m3 0h1m-112 1h1m30 0h2m30 0h1m2 0h1m2 0h1m11 0h1m30 0h1m1 0h1m3 0h1m5 0h1m-126 1h1m32 0h1m48 0h1m19 0h1m9 0h1m5 0h1m2 0h1m-42 1h1m17 0h1m1 0h1m6 0h1m13 0h1m-111 1h1m51 0h1m1 0h1m22 0h1m9 0h1m1 0h1m-101 1h1m57 0h1m11 0h1m11 0h1m18 0h2m15 0h1m-43 1h1m2 0h2m-69 1h1m54 0h1m4 0h1m15 0h1m7 0h2m4 0h1m-107 1h1m15 0h2m60 0h2m4 0h2m16 0h1m-86 1h1m49 0h1m10 0h1m21 0h1m6 0h1m1 0h1m-109 1h1m16 0h2m6 0h1m41 0h1m9 0h1m3 0h1m16 0h1m-100 1h1m2 0h1m13 0h1m2 0h2m39 0h1m15 0h3m3 0h1m3 0h1m9 0h1m1 0h3m2 0h1m6 0h1m-109 1h1m4 0h1m13 0h1m28 0h1m16 0h1m10 0h1m2 0h1m1 0h1m4 0h1m9 0h1m12 0h1m-94 1h1m66 0h3m14 0h1m-56 1h1m8 0h1m7 0h1m2 0h2m16 0h1m8 0h1m-76 1h1m2 0h1m25 0h1m1 0h1m9 0h1m22 0h2m9 0h2m1 0h1m-92 1h1m5 0h1m10 0h1m4 0h1m19 0h1m17 0h1m1 0h1m9 0h1m14 0h1m-48 1h1m4 0h1m33 0h1m7 0h1m-90 1h1m19 0h1m4 0h1m1 0h2m33 0h1m13 0h1m12 0h1m1 0h1m-6 2h2m-88 1h1m41 0h1m43 0h1m-52 1h1m-29 1h2m12 0h1m2 0h2m11 0h1m5 0h1m31 0h1m-68 1h1m16 0h1m50 0h1m-61 1h1m20 0h1m-23 1h1m10 0h1m5 0h1m-17 1h1m-6 1h1m2 2h1m4 0h1"/><path stroke="#8bd646" d="M158 9h1m-3 1h1m2 0h1m2 0h1m4 0h1m4 0h1m3 0h1m-8 1h2m1 0h1m-18 1h1m15 0h1m11 0h1m-2 1h1m-23 1h1m23 0h1m-17 1h1m6 0h1m4 0h1m-3 2h1m-24 1h1m12 0h1m9 0h1m-4 1h1m-35 1h1m34 0h1m1 0h1m-4 1h1m-40 2h1m31 0h1m-33 1h1m22 0h1m3 0h1m19 0h1m-46 1h1m2 0h1m4 0h1m20 0h1m-32 1h1m24 0h1m1 0h1m23 0h1m-29 1h1m15 0h1m1 0h1m9 0h1m-26 1h1m15 0h1m1 0h1m-46 1h1m7 0h1m13 0h1m1 0h1m1 0h1m1 0h1m-1 1h1m17 0h1m1 0h1m-53 1h1m25 0h1m1 0h2m10 0h1m-9 1h1m-23 1h2m4 0h2m23 0h1m-36 1h1m1 0h1m1 0h1m8 0h1m7 0h1m1 0h1m9 0h1m-23 1h1m1 0h1m1 0h1m1 0h1m3 0h1m12 0h1m11 0h1m6 0h1m-49 1h1m4 0h1m25 0h1m-33 1h1m2 0h1m11 0h1m6 0h1m11 0h1m12 0h1m-54 1h1m14 0h2m23 0h1m-46 1h1m2 0h1m1 0h1m6 0h1m4 0h1m15 0h1m8 0h1m2 0h1m14 0h1m-56 1h1m14 0h1m5 0h1m7 0h1m4 0h1m5 0h1m14 0h1m-41 1h1m18 0h1m2 0h1m-52 1h1m5 0h1m7 0h1m36 0h1m2 0h1m-50 1h1m7 0h1m40 0h1m2 0h1m-56 1h1m6 0h1m4 0h1m23 0h1m16 0h1m3 0h1m-57 1h1m26 0h1m-37 1h1m16 0h2m15 0h1m2 0h1m24 0h4m-56 1h1m2 0h1m9 0h1m19 0h1m20 0h2m3 0h1m-56 1h1m-11 1h1m59 0h1m-39 1h1m14 0h1m25 0h1m5 0h1m-62 1h1m20 0h1m28 0h1m2 0h1m-46 1h1m22 0h1m19 0h2m-47 1h1m2 0h1m6 0h1m23 0h1m5 0h1m7 0h1m-75 1h1m4 0h1m10 0h2m3 0h1m18 0h1m4 0h1m17 0h1m-55 1h1m2 0h1m1 0h1m3 0h1m29 0h1m14 0h1m2 0h1m1 0h1m-64 1h1m4 0h2m45 0h1m6 0h1m1 0h1m-63 1h1m12 0h1m2 0h1m5 0h1m40 0h1m-58 1h1m2 0h1m49 0h1m-60 1h2m1 0h1m18 0h2m19 0h1m-27 1h1m-22 1h1m1 0h1m1 0h1m35 0h2m-45 1h1m3 0h2m16 0h1m6 0h1m41 0h1m-65 1h2m1 0h1m-10 1h1m2 0h1m4 0h1m38 0h1m23 0h1m-129 1h1m78 0h1m7 0h1m24 0h1m16 0h1m-130 1h1m62 0h2m20 0h1m25 0h1m7 0h2m6 0h1m-121 1h1m55 0h1m17 0h1m22 0h1m1 0h1m13 0h1m5 0h1m-69 1h2m28 0h1m19 0h1m3 0h1m2 0h1m-115 1h1m59 0h1m1 0h1m10 0h1m41 0h1m14 0h1m-75 1h1m48 0h1m10 0h1m1 0h1m10 0h1m-79 1h1m44 0h2m9 0h1m5 0h1m9 0h1m10 0h1m-83 1h1m9 0h1m31 0h1m2 0h1m6 0h1m-104 1h1m60 0h1m14 0h1m17 0h1m3 0h1m6 0h1m29 0h1m-139 1h1m65 0h1m22 0h1m3 0h1m16 0h2m14 0h1m20 0h1m-92 1h1m6 0h1m28 0h1m3 0h1m14 0h1m11 0h1m-110 1h1m45 0h1m8 0h1m8 0h1m15 0h1m1 0h1m4 0h1m11 0h1m-56 1h1m5 0h1m8 0h1m12 0h1m5 0h1m9 0h1m-92 1h1m54 0h1m16 0h1m8 0h1m1 0h1m11 0h1m6 0h1m-55 1h1m6 0h1m1 0h1m21 0h1m2 0h1m2 0h1m1 0h1m3 0h1m4 0h1m5 0h1m1 0h1m4 0h1m-111 1h1m59 0h1m4 0h1m8 0h2m2 0h1m4 0h3m8 0h1m6 0h1m20 0h2m-59 1h1m9 0h1m2 0h1m29 0h1m18 0h1m-132 1h1m40 0h1m17 0h1m21 0h2m13 0h1m-82 1h1m33 0h1m17 0h1m14 0h1m3 0h1m8 0h1m6 0h1m6 0h1m15 0h1m1 0h1m-69 1h1m8 0h1m5 0h1m4 0h1m4 0h1m1 0h1m38 0h1m9 0h1m-93 1h1m7 0h2m2 0h1m3 0h1m1 0h3m10 0h1m1 0h1m-72 1h1m39 0h2m15 0h1m7 0h1m2 0h1m5 0h1m6 0h1m28 0h1m6 0h1m16 0h1m-134 1h1m38 0h1m1 0h1m1 0h1m11 0h1m2 0h1m5 0h2m4 0h2m2 0h1m-40 1h1m12 0h1m4 0h1m2 0h1m12 0h1m47 0h1m7 0h1m-87 1h1m10 0h1m1 0h1m2 0h1m2 0h1m18 0h1m42 0h1m3 0h1m-82 1h1m6 0h1m1 0h1m3 0h1m1 0h1m61 0h1m3 0h1m-110 1h1m26 0h2m13 0h1m7 0h1m7 0h1m-14 1h1m3 0h1m57 0h2m-95 1h1m19 0h1m6 1h1m62 0h1m-121 1h1m38 0h1m16 0h1m4 0h1m9 0h1m1 0h1m50 0h1m-88 1h1m1 0h1m15 0h1m5 0h1m-22 1h1m11 0h1m5 0h1m8 0h1m2 0h1m2 0h1m-67 1h1m32 0h1m-4 1h1m12 0h1m9 0h1m12 0h1m-89 1h1m1 0h1m1 0h1m53 0h1m2 0h1m9 0h1m2 0h1m3 0h1m4 0h1m3 0h1m-59 1h1m24 0h2m3 0h1m22 0h2m-79 1h1m18 0h1m53 0h1m38 0h1m9 0h1m-55 1h2m6 0h1m41 0h1m4 0h1m-66 1h1m12 0h1m1 0h1m-57 1h1m43 0h1m7 0h1m11 0h1m4 0h1m27 0h1m2 0h1m5 0h1m-63 1h1m7 0h1m15 0h2m19 0h1m1 0h1m15 0h1m-113 1h1m51 0h2m4 0h1m7 0h1m26 0h1m-108 1h2m63 0h1m1 0h1m2 0h1m39 0h1m-73 1h1m21 0h1m10 0h2m33 0h1m5 0h1m1 0h1m1 0h1m3 0h1m-107 1h1m48 0h1m8 0h1m-53 1h1m58 0h1m-44 1h1m3 0h1m22 0h1m18 0h1m26 0h1m3 0h2m3 0h1m-75 1h1m14 0h1m3 0h1m34 0h2m-99 1h1m19 0h1m44 0h1m12 0h1m18 0h1m1 0h1m1 0h1m1 0h1m7 0h1m8 0h1m-120 1h1m7 0h1m9 0h1m45 0h1m12 0h1m7 0h1m14 0h1m3 0h1m14 0h1m-116 1h1m45 0h1m8 0h1m16 0h1m20 0h1m5 0h1m1 0h2m9 0h1m-108 1h1m2 0h1m32 0h1m9 0h1m19 0h1m39 0h1m1 0h1m-89 1h1m14 0h1m62 0h1m1 0h2m3 0h1m1 0h1m-43 1h1m23 0h1m2 0h1m2 0h1m-61 1h1m3 0h1m19 0h1m4 0h1m6 0h1m7 0h1m25 0h1m-127 1h1m24 0h1m54 0h1m15 0h1m17 0h1m6 0h1m-75 1h1m9 0h1m28 0h1m8 0h1m5 0h1m9 0h1m6 0h1m-64 1h1m25 0h1m7 0h1m7 0h1m6 0h1m8 0h1m4 0h1m-114 1h1m47 0h1m1 0h1m46 0h1m7 0h1m10 0h1m-124 1h1m2 0h1m51 0h1m2 0h1m28 0h1m6 0h1m3 0h1m5 0h1m2 0h1m1 0h1m1 0h1m4 0h1m-119 1h1m59 0h1m21 0h1m10 0h1m4 0h1m10 0h1m2 0h1m-106 1h1m37 0h1m12 0h1m24 0h1m14 0h1m4 0h1m6 0h2m5 0h1m-53 1h1m16 0h1m8 0h1m10 0h1m2 0h1m-109 1h1m101 0h1m1 0h1m1 0h1m2 0h1m9 0h1m1 0h1m-65 1h2m19 0h1m19 0h1m4 0h1m-48 1h1m15 0h1m8 0h1m37 0h1m-56 1h1m12 0h1m32 0h1m-48 1h1m4 0h1m3 0h1m7 0h1m18 0h1m2 0h1m3 0h1m-98 1h1m57 0h1m5 0h1m4 0h1m6 0h1m12 0h1m-97 1h1m66 0h1m1 0h1m22 0h1m-100 1h1m2 0h1m72 0h1m2 0h1m6 0h1m-29 1h1m10 0h1m9 0h1m6 0h1m16 0h1m-100 1h1m67 0h1m25 0h1m-79 1h2m81 0h1m4 0h1m-100 1h1m7 0h1m5 0h1m80 0h1m2 0h1m3 0h1m-109 1h1m62 0h1m34 0h1m-78 1h1m25 0h1m19 0h1m37 0h1m-23 1h1m6 0h1m10 0h1m-75 1h1m17 0h2m14 0h1m19 0h1m15 0h1m-55 1h1m14 0h1m4 0h1m8 0h1m7 0h2m14 0h1m-91 1h1m4 0h1m39 1h1m-34 1h1m23 0h1m4 0h1m8 0h1m2 0h1m-49 1h1m24 0h1m5 0h1m14 0h1m-29 1h1m3 0h1m4 0h1m4 0h1m32 0h1m-34 1h1m-18 1h1m4 0h1m8 0h2m-10 1h1m-21 1h1m11 0h1m-7 4h1m2 0h1"/><path stroke="#addc30" d="M158 10h1m11 0h1m3 0h2m1 0h1m1 0h1m-9 1h1m10 0h1m-25 1h1m1 0h1m5 0h1m7 0h1m7 0h1m-12 2h1m1 0h1m-6 2h1m3 0h1m2 0h1m-1 1h1m-7 1h1m-2 1h1m13 0h1m-9 1h2m-3 1h1m3 0h2m-11 1h1m-11 2h1m2 0h1m5 0h1m-15 1h1m20 0h1m1 0h1m-37 1h1m14 0h1m10 0h1m-30 1h1m3 0h1m20 0h2m5 0h1m6 0h1m2 0h2m-40 1h1m21 0h1m13 0h1m-38 1h2m8 0h1m9 0h1m3 0h1m2 0h1m8 0h1m-42 1h1m7 0h1m23 0h1m7 0h1m2 0h1m-45 1h1m5 0h1m1 0h1m24 0h2m5 0h1m-36 1h2m2 0h2m16 0h1m16 0h1m6 0h1m-50 1h1m18 0h1m1 0h1m2 0h1m7 0h1m2 0h1m3 0h1m1 0h1m5 0h2m-50 1h1m6 0h1m2 0h1m10 0h1m2 0h1m13 0h1m5 0h1m2 0h1m-42 1h1m5 0h1m19 0h1m1 0h1m12 0h1m1 0h1m-49 1h1m4 0h1m7 0h1m4 0h1m31 0h1m3 0h1m-55 1h2m13 0h1m32 0h1m-53 1h1m3 0h1m5 0h1m15 0h1m3 0h1m10 0h1m11 0h1m1 0h1m-56 1h1m22 0h1m6 0h1m6 0h1m4 0h1m14 0h1m-59 1h1m17 0h1m21 0h1m4 0h1m2 0h1m9 0h1m-60 1h1m2 0h1m18 0h1m9 0h1m5 0h1m10 0h1m8 0h1m2 0h1m-70 1h1m6 0h1m8 0h1m7 0h1m1 0h1m15 0h2m-48 1h2m12 0h2m1 0h1m4 0h1m23 0h2m25 0h1m-67 1h1m16 0h1m9 0h1m3 0h1m9 0h1m10 0h1m-61 1h1m17 0h1m7 0h1m9 0h1m20 0h1m3 0h1m9 0h1m-66 1h1m3 0h2m2 0h1m32 0h1m4 0h1m3 0h2m-39 1h1m3 0h1m10 0h1m9 0h1m-43 1h2m4 0h1m4 0h1m29 0h1m6 0h1m5 0h2m-49 1h1m1 0h1m1 0h1m11 0h1m1 0h1m3 0h1m1 0h1m21 0h1m3 0h1m-58 1h1m10 0h1m3 0h1m8 0h1m3 0h1m14 0h1m9 0h1m-59 1h1m14 0h1m21 0h1m17 0h1m5 0h1m3 0h1m-37 1h2m23 0h1m8 0h1m-69 1h1m24 0h1m9 0h1m19 0h2m3 0h1m2 0h1m3 0h1m1 0h1m-60 1h1m5 0h1m46 0h1m-61 1h1m30 0h1m27 0h1m2 0h1m-68 1h1m2 0h1m4 0h1m11 0h1m1 0h1m5 0h1m1 0h1m1 0h1m14 0h1m1 0h1m12 0h1m-58 1h1m9 0h1m2 0h1m8 0h1m19 0h1m9 0h1m8 0h1m-65 1h1m2 0h1m15 0h1m1 0h1m1 0h1m1 0h1m19 0h1m18 0h1m-49 1h1m42 0h1m7 0h1m-63 1h1m3 0h1m4 0h1m1 0h1m11 0h1m4 0h1m5 0h1m22 0h1m-66 1h1m5 0h1m4 0h1m2 0h1m16 0h1m3 0h1m17 0h1m4 0h1m3 0h1m1 0h1m4 0h1m-70 1h1m3 0h1m1 0h1m4 0h1m1 0h1m12 0h1m4 0h1m14 0h1m6 0h1m4 0h1m6 0h1m-66 1h2m17 0h1m15 0h1m-92 1h1m65 0h1m19 0h1m35 0h2m-58 1h1m1 0h1m15 0h1m22 0h1m5 0h1m9 0h1m24 0h1m-85 1h1m54 0h1m7 0h1m-130 1h1m57 0h1m3 0h1m1 0h1m3 0h1m2 0h1m10 0h1m8 0h1m18 0h1m5 0h1m1 0h2m1 0h1m-122 1h1m56 0h1m4 0h1m4 0h1m13 0h1m1 0h1m1 0h1m15 0h1m12 0h1m3 0h1m2 0h1m7 0h1m-72 1h1m3 0h1m4 0h1m16 0h1m1 0h1m3 0h2m12 0h1m1 0h2m2 0h1m2 0h1m3 0h2m1 0h1m2 0h1m-85 1h1m26 0h1m4 0h1m5 0h1m20 0h1m8 0h2m15 0h1m-38 1h2m3 0h1m6 0h1m4 0h1m17 0h1m14 0h1m-81 1h2m1 0h1m8 0h1m20 0h1m1 0h1m4 0h1m4 0h1m4 0h1m7 0h2m12 0h1m-68 1h1m27 0h1m1 0h1m1 0h1m2 0h2m13 0h1m5 0h1m10 0h1m3 0h1m-84 1h1m5 0h1m5 0h3m1 0h1m3 0h1m4 0h1m3 0h1m11 0h1m5 0h2m6 0h1m27 0h1m10 0h2m-130 1h1m39 0h1m1 0h1m7 0h1m21 0h1m4 0h1m2 0h1m5 0h1m1 0h1m10 0h1m1 0h1m-62 1h1m8 0h1m10 0h1m1 0h1m1 0h3m16 0h1m5 0h1m2 0h1m4 0h1m26 0h1m-82 1h1m2 0h1m3 0h1m1 0h1m1 0h1m3 0h4m14 0h1m13 0h1m21 0h1m8 0h1m5 0h1m-90 1h1m24 0h1m12 0h1m3 0h1m34 0h1m-122 1h1m5 0h1m42 0h1m20 0h3m2 0h1m2 0h1m1 0h1m36 0h2m1 0h1m-78 1h2m24 0h1m10 0h1m10 0h2m4 0h1m9 0h1m16 0h1m-79 1h1m3 0h1m6 0h1m15 0h1m5 0h1m3 0h1m9 0h1m5 0h2m3 0h1m25 0h1m-89 1h1m2 0h2m2 0h2m24 0h1m3 0h1m1 0h1m15 0h2m9 0h1m1 0h1m7 0h1m-74 1h1m5 0h1m11 0h1m7 0h3m9 0h1m8 0h1m2 0h1m-104 1h1m1 0h1m50 0h1m9 0h1m10 0h1m1 0h1m1 0h2m4 0h1m23 0h1m2 0h1m17 0h1m1 0h1m7 0h1m-71 1h1m17 0h1m3 0h1m12 0h1m4 0h1m15 0h1m2 0h1m1 0h2m1 0h2m-88 1h1m2 0h1m7 0h1m9 0h1m6 0h1m48 0h1m1 0h2m-82 1h1m15 0h1m2 0h1m9 0h1m51 0h1m-67 1h1m2 0h1m2 0h1m56 0h1m6 0h1m-110 1h1m1 0h1m20 0h1m20 0h1m1 0h1m10 0h1m2 0h1m47 0h1m3 0h1m-52 1h2m4 0h1m36 0h1m-88 1h1m3 0h1m15 0h1m1 0h3m8 0h1m2 0h1m5 0h1m5 0h2m38 0h1m-104 1h1m40 0h1m1 0h1m8 0h1m8 0h1m41 0h1m1 0h1m-95 1h1m9 0h1m19 0h1m1 0h1m3 0h1m4 0h1m50 0h1m-94 1h1m31 0h1m1 0h1m53 0h1m-58 1h1m2 0h1m9 0h1m1 0h1m45 0h1m4 0h1m-84 1h1m17 0h2m2 0h1m42 0h1m16 0h1m-118 1h2m2 0h1m31 0h1m17 0h3m7 0h1m2 0h1m-69 1h1m36 0h2m23 0h1m35 0h1m19 0h1m-81 1h1m16 0h1m5 0h1m-59 1h1m37 0h1m9 0h1m1 0h1m-68 1h1m54 0h2m9 0h2m5 0h2m5 0h1m33 0h1m3 0h1m2 0h1m-66 1h1m10 0h1m11 0h1m1 0h1m27 0h3m9 0h1m-64 1h1m15 0h1m3 0h2m31 0h1m10 0h1m-64 1h1m10 0h1m1 0h1m1 0h1m9 0h1m25 0h1m16 0h1m-89 1h1m20 0h1m11 0h1m10 0h1m1 0h1m19 0h4m2 0h1m-73 1h1m20 0h1m1 0h1m1 0h1m6 0h1m11 0h1m18 0h1m2 0h1m1 0h1m3 0h3m4 0h2m-62 1h1m2 0h3m5 0h1m10 0h1m1 0h1m25 0h1m3 0h1m3 0h1m4 0h1m1 0h1m-57 1h1m15 0h1m25 0h1m7 0h1m1 0h1m-61 1h1m6 0h1m14 0h1m27 0h1m-95 1h1m36 0h1m9 0h1m10 0h1m10 0h1m37 0h1m-62 1h2m4 0h1m6 0h1m1 0h1m3 0h1m29 0h1m6 0h2m-57 1h1m12 0h1m6 0h1m31 0h1m-106 1h1m6 0h1m22 0h1m3 0h2m3 0h1m1 0h1m59 0h1m-93 1h1m56 0h2m3 0h1m1 0h1m24 0h1m6 0h2m-96 1h1m45 0h1m2 0h1m9 0h1m21 0h1m3 0h2m5 0h2m-44 1h1m9 0h1m19 0h2m9 0h1m-39 1h1m2 0h1m23 0h1m4 0h1m1 0h2m4 0h1m4 0h1m-111 1h1m2 0h1m54 0h1m7 0h1m2 0h1m5 0h1m11 0h1m1 0h1m2 0h1m4 0h1m7 0h1m-47 1h1m4 0h1m2 0h1m1 0h1m16 0h1m1 0h1m3 0h1m4 0h1m-125 1h1m84 0h1m39 0h1m4 0h1m-65 1h1m19 0h1m7 0h1m3 0h1m3 0h1m1 0h1m5 0h1m2 0h2m17 0h1m-91 1h1m42 0h1m1 0h1m6 0h1m8 0h1m1 0h1m4 0h1m-65 1h1m19 0h1m23 0h1m10 0h2m24 0h1m-119 1h1m53 0h1m5 0h1m11 0h1m8 0h1m5 0h1m2 0h1m11 0h1m9 0h1m2 0h1m-60 1h1m22 0h2m16 0h1m6 0h1m1 0h1m4 0h1m1 0h2m-125 1h2m66 0h1m18 0h1m15 0h2m3 0h1m9 0h2m3 0h1m1 0h1m-125 1h1m33 0h1m52 0h1m21 0h1m6 0h1m-116 1h1m9 0h1m48 0h1m38 0h1m3 0h1m11 0h1m1 0h1m-116 1h1m9 0h1m48 0h1m43 0h1m-107 1h1m1 0h1m113 0h2m-44 1h1m3 0h1m22 0h1m1 0h1m6 0h1m1 0h1m-104 1h1m87 0h1m5 0h1m-104 1h1m11 0h1m53 0h1m3 0h1m6 0h1m4 0h1m16 0h1m1 0h1m11 0h1m5 0h1m-123 1h1m1 0h1m98 0h1m1 0h1m-86 1h1m53 0h1m7 0h1m22 0h1m-97 1h1m7 0h1m56 0h1m8 0h1m1 0h2m-84 1h1m4 0h1m6 0h1m9 0h1m50 0h1m29 0h2m-101 1h1m41 0h1m35 0h1m17 0h2m1 0h1m-94 1h1m3 0h1m1 0h1m4 0h1m23 0h1m52 0h1m3 0h3m-104 1h1m14 0h1m2 0h1m44 0h1m4 0h1m26 0h1m6 0h1m2 0h1m-107 1h1m1 0h2m14 0h2m27 0h1m17 0h1m17 0h1m3 0h1m1 0h1m4 0h1m12 0h1m-89 1h2m63 0h1m12 0h1m4 0h1m4 0h1m-102 1h1m57 0h1m-24 1h1m6 0h2m13 0h1m17 0h1m3 0h1m-60 1h2m1 0h1m2 0h2m12 0h2m3 0h1m1 0h1m2 0h1m26 0h2m1 0h1m8 0h1m-78 1h1m1 0h1m7 0h1m6 0h1m1 0h1m2 0h1m2 0h1m1 0h1m15 0h1m6 0h3m2 0h2m2 0h1m4 0h1m2 0h1m-74 1h1m12 0h1m1 0h2m6 0h2m7 0h1m2 0h1m3 0h1m2 0h2m19 0h2m1 0h2m-67 1h1m11 0h1m13 0h1m6 0h2m5 0h1m5 0h1m3 0h1m6 0h1m7 0h1m3 0h1m-66 1h1m1 0h1m6 0h2m1 0h1m1 0h2m8 0h1m-30 1h1m2 0h2m21 0h1m35 0h1m-48 1h1m1 0h1m5 0h1m-14 1h1m2 0h1m-6 1h1m9 0h1m-5 1h1m1 0h1m1 0h2m-14 1h1m7 0h1m-14 1h1m3 0h1m7 0h1m-10 1h1m1 0h1m2 0h1"/><path stroke="#cde11d" d="M155 9h1m11 0h1m-11 1h1m5 0h1m16 0h2m-14 1h1m6 0h1m-3 1h1m5 0h1m1 0h1m-24 1h1m14 0h5m1 0h1m-6 1h1m4 0h1m-8 1h1m6 0h1m-11 1h1m4 0h1m1 0h1m-23 1h1m13 0h1m5 0h1m1 0h1m3 0h1m-11 1h1m11 0h1m-7 1h3m-9 1h1m6 0h1m-10 1h1m1 0h1m-10 1h1m8 0h3m3 0h1m-33 1h1m22 0h1m1 0h1m2 0h1m2 0h2m-16 2h2m7 0h1m2 0h1m-12 1h1m4 0h1m6 0h2m-36 1h1m19 0h1m3 0h1m9 0h1m-33 1h1m16 0h1m1 0h1m4 0h1m6 0h3m3 0h1m-7 1h1m-41 1h1m10 0h1m14 0h1m6 0h1m1 0h1m5 0h1m-34 1h1m2 0h1m28 0h1m2 0h1m2 0h1m-32 1h2m7 0h1m1 0h1m8 0h2m4 0h1m2 0h1m2 0h1m3 0h1m-45 1h1m2 0h1m5 0h1m8 0h1m6 0h1m1 0h1m2 0h1m5 0h1m1 0h1m2 0h2m-45 1h1m1 0h1m3 0h1m4 0h1m1 0h1m9 0h1m15 0h1m3 0h1m-46 1h1m2 0h2m2 0h3m3 0h1m20 0h1m2 0h1m1 0h5m9 0h1m-53 1h1m2 0h1m5 0h1m1 0h1m1 0h4m16 0h1m3 0h2m1 0h3m3 0h1m1 0h1m-48 1h2m6 0h1m1 0h1m5 0h1m3 0h1m11 0h1m5 0h3m6 0h1m1 0h1m3 0h1m-59 1h1m6 0h1m3 0h1m1 0h1m9 0h1m2 0h1m4 0h1m19 0h1m-34 1h1m2 0h1m1 0h1m1 0h2m16 0h1m2 0h1m6 0h2m-55 1h1m2 0h1m3 0h1m2 0h1m1 0h1m1 0h1m3 0h1m8 0h3m14 0h1m3 0h1m1 0h1m7 0h1m-63 1h1m15 0h1m9 0h1m1 0h1m8 0h1m10 0h2m-48 1h1m11 0h1m9 0h1m2 0h2m18 0h2m4 0h1m4 0h1m2 0h1m-69 1h1m1 0h1m3 0h2m7 0h1m1 0h1m1 0h2m1 0h2m14 0h1m18 0h1m10 0h1m-67 1h1m8 0h1m9 0h1m6 0h1m3 0h1m9 0h2m6 0h2m1 0h1m11 0h1m-58 1h1m9 0h1m4 0h1m3 0h2m1 0h1m19 0h1m16 0h1m-61 1h1m8 0h1m5 0h1m5 0h1m5 0h1m10 0h1m4 0h1m3 0h1m-62 1h1m11 0h1m1 0h1m9 0h1m5 0h1m1 0h1m6 0h1m1 0h1m7 0h1m8 0h1m-59 1h1m11 0h2m4 0h1m4 0h1m2 0h2m1 0h1m9 0h1m1 0h1m1 0h1m7 0h1m-30 1h1m2 0h2m1 0h1m2 0h1m7 0h1m1 0h1m4 0h1m2 0h1m1 0h1m13 0h2m7 0h1m-62 1h1m2 0h1m10 0h1m1 0h3m1 0h2m5 0h1m5 0h1m3 0h1m7 0h1m2 0h1m-34 1h1m3 0h1m2 0h1m11 0h1m4 0h2m5 0h1m1 0h1m-43 1h1m10 0h3m2 0h1m16 0h1m1 0h1m10 0h1m-50 1h1m18 0h1m9 0h1m5 0h1m3 0h1m9 0h1m-73 1h1m9 0h1m14 0h1m3 0h1m1 0h1m4 0h1m1 0h1m6 0h1m2 0h2m9 0h1m6 0h1m4 0h1m-62 1h1m9 0h1m1 0h1m6 0h3m1 0h1m16 0h1m-45 1h1m11 0h1m4 0h1m6 0h1m3 0h2m14 0h1m3 0h1m-49 1h2m19 0h2m1 0h1m5 0h2m9 0h1m4 0h1m8 0h2m1 0h1m-60 1h2m9 0h1m4 0h1m3 0h1m2 0h1m7 0h1m4 0h1m-31 1h1m1 0h1m2 0h1m4 0h1m1 0h2m2 0h2m3 0h1m31 0h4m-67 1h1m3 0h1m5 0h3m2 0h1m8 0h1m1 0h1m8 0h1m23 0h1m3 0h1m3 0h1m-59 1h2m5 0h1m6 0h4m17 0h1m3 0h1m3 0h1m7 0h1m1 0h2m-66 1h1m10 0h1m12 0h1m4 0h1m21 0h1m1 0h1m2 0h1m3 0h3m-62 1h2m5 0h3m2 0h1m1 0h1m5 0h1m6 0h3m1 0h1m11 0h2m2 0h3m1 0h2m14 0h2m-128 1h1m56 0h1m2 0h4m1 0h2m1 0h2m2 0h1m3 0h1m3 0h3m1 0h3m1 0h1m12 0h1m3 0h1m4 0h1m8 0h1m5 0h1m-66 1h1m1 0h1m10 0h1m1 0h2m4 0h4m2 0h1m7 0h1m9 0h1m1 0h1m12 0h2m4 0h1m18 0h1m5 0h1m-96 1h1m1 0h1m1 0h1m5 0h1m2 0h1m1 0h1m7 0h3m3 0h1m20 0h1m5 0h1m11 0h1m2 0h1m18 0h1m4 0h1m-96 1h1m1 0h3m5 0h1m6 0h1m1 0h2m6 0h1m1 0h1m1 0h2m4 0h1m5 0h1m2 0h1m1 0h1m2 0h1m2 0h1m3 0h1m12 0h1m22 0h2m-93 1h2m3 0h1m2 0h1m4 0h1m2 0h1m1 0h2m6 0h1m7 0h1m1 0h1m7 0h1m1 0h2m1 0h2m12 0h2m3 0h1m-72 1h1m2 0h1m4 0h1m2 0h2m10 0h1m2 0h1m1 0h1m3 0h1m2 0h1m9 0h1m5 0h2m5 0h1m11 0h1m-70 1h1m3 0h1m4 0h1m2 0h1m5 0h1m2 0h2m3 0h2m2 0h3m3 0h1m6 0h1m3 0h1m8 0h1m6 0h1m1 0h1m11 0h3m4 0h1m-93 1h1m9 0h1m4 0h1m2 0h3m8 0h1m15 0h1m6 0h1m2 0h1m11 0h1m2 0h1m7 0h2m19 0h1m-89 1h2m2 0h2m1 0h1m3 0h1m3 0h1m4 0h1m4 0h1m4 0h1m1 0h1m2 0h1m6 0h1m2 0h1m7 0h1m2 0h1m1 0h1m1 0h1m1 0h1m1 0h1m10 0h1m1 0h1m2 0h1m-86 1h2m6 0h2m2 0h1m1 0h1m1 0h1m7 0h2m3 0h2m12 0h1m2 0h1m3 0h1m4 0h1m2 0h1m1 0h2m1 0h2m11 0h1m-72 1h1m5 0h1m1 0h1m1 0h1m8 0h2m4 0h1m2 0h1m3 0h2m5 0h4m3 0h2m6 0h1m1 0h1m8 0h1m4 0h1m7 0h1m-81 1h1m4 0h1m8 0h1m3 0h1m1 0h5m5 0h1m8 0h1m1 0h1m4 0h1m33 0h1m-91 1h1m5 0h1m2 0h1m5 0h1m5 0h4m1 0h1m3 0h1m5 0h1m3 0h1m1 0h1m4 0h1m4 0h4m12 0h2m5 0h1m2 0h4m4 0h1m2 0h1m3 0h1m-88 1h2m7 0h1m4 0h1m1 0h1m8 0h1m5 0h1m3 0h1m3 0h1m1 0h1m5 0h4m6 0h1m6 0h2m2 0h2m5 0h2m7 0h2m1 0h1m-180 1h1m2 0h1m88 0h1m3 0h1m6 0h1m6 0h1m1 0h2m3 0h1m4 0h1m1 0h1m6 0h1m7 0h1m1 0h1m2 0h1m10 0h2m8 0h2m12 0h1m-177 1h1m38 0h1m41 0h1m5 0h1m16 0h2m6 0h1m8 0h1m3 0h1m1 0h1m9 0h1m1 0h1m1 0h1m10 0h1m2 0h1m7 0h1m-59 1h1m3 0h3m4 0h1m5 0h1m8 0h1m10 0h1m9 0h1m6 0h1m9 0h1m7 0h1m-139 1h1m46 0h1m1 0h1m8 0h1m5 0h1m1 0h1m3 0h1m12 0h1m1 0h2m3 0h1m12 0h1m2 0h1m3 0h1m11 0h1m3 0h2m-118 1h1m35 0h1m2 0h1m15 0h2m16 0h1m1 0h1m11 0h1m3 0h1m2 0h1m1 0h1m2 0h1m6 0h1m2 0h2m1 0h1m4 0h1m1 0h1m1 0h1m1 0h1m-140 1h2m50 0h1m25 0h2m1 0h1m3 0h2m2 0h3m18 0h3m13 0h3m3 0h1m1 0h2m1 0h1m-124 1h1m35 0h2m23 0h1m7 0h1m2 0h1m1 0h2m16 0h1m3 0h1m5 0h1m2 0h1m6 0h5m-125 1h1m59 0h1m7 0h1m1 0h3m5 0h1m4 0h1m1 0h1m34 0h1m3 0h1m1 0h1m2 0h1m6 0h1m-137 1h2m4 0h1m36 0h1m6 0h1m6 0h1m3 0h1m1 0h1m2 0h3m8 0h2m27 0h1m6 0h1m6 0h1m-104 1h2m38 0h1m8 0h1m6 0h1m13 0h1m26 0h1m1 0h1m4 0h1m1 0h1m7 0h2m-115 1h1m23 0h1m2 0h2m9 0h2m5 0h1m1 0h1m2 0h1m3 0h2m2 0h1m3 0h1m27 0h1m13 0h1m10 0h1m-114 1h1m20 0h1m13 0h1m1 0h1m8 0h1m6 0h1m1 0h1m1 0h2m1 0h3m26 0h1m2 0h1m1 0h1m6 0h2m9 0h2m-113 1h1m18 0h1m14 0h1m14 0h1m2 0h1m2 0h2m6 0h1m27 0h2m10 0h1m2 0h1m5 0h2m-70 1h3m6 0h1m5 0h1m2 0h1m37 0h1m1 0h1m1 0h1m8 0h1m-113 1h1m13 0h1m3 0h2m15 0h3m7 0h1m11 0h1m1 0h1m45 0h1m5 0h1m-82 1h1m6 0h1m7 0h1m1 0h2m3 0h5m2 0h2m26 0h1m11 0h1m1 0h1m1 0h1m1 0h1m-96 1h1m9 0h1m24 0h1m1 0h1m6 0h3m30 0h1m2 0h2m9 0h1m-98 1h1m3 0h1m36 0h2m43 0h1m2 0h1m3 0h1m5 0h1m-96 1h1m28 0h1m8 0h1m6 0h1m35 0h1m4 0h1m-108 1h1m18 0h1m19 0h1m2 0h1m16 0h1m42 0h2m-46 1h1m1 0h2m4 0h1m1 0h1m30 0h3m2 0h1m-104 1h1m51 0h2m11 0h1m1 0h1m29 0h2m9 0h1m3 0h1m-60 1h1m5 0h2m5 0h1m29 0h1m1 0h2m13 0h1m1 0h1m-79 1h1m15 0h1m6 0h2m7 0h1m26 0h2m2 0h1m-59 1h1m10 0h1m46 0h1m2 0h1m-62 1h1m15 0h1m1 0h1m9 0h2m33 0h1m6 0h1m-53 1h1m31 0h2m2 0h2m15 0h1m-70 1h1m16 0h2m4 0h1m21 0h1m7 0h2m-35 1h1m29 0h1m4 0h3m-80 1h1m41 0h1m29 0h2m2 0h1m-56 1h1m7 0h1m21 0h1m16 0h1m4 0h1m4 0h1m7 0h1m-60 1h1m56 0h3m-81 1h1m22 0h1m48 0h1m4 0h1m-58 1h1m1 0h1m9 0h1m43 0h1m-62 1h1m1 0h1m49 0h1m8 0h1m-110 1h1m40 0h1m7 0h1m38 0h1m9 0h1m9 0h3m-65 1h1m10 0h1m5 0h1m25 0h1m6 0h1m1 0h2m8 0h1m-75 1h1m6 0h1m13 0h1m8 0h2m12 0h1m13 0h1m5 0h2m4 0h1m-16 1h1m2 0h1m6 0h1m5 0h1m1 0h1m-22 1h1m2 0h1m1 0h1m2 0h1m6 0h1m4 0h1m-23 1h1m7 0h1m1 0h1m3 0h1m-7 1h1m4 0h2m3 0h1m1 0h2m-70 1h1m6 0h1m54 0h1m1 0h1m-131 1h1m77 0h1m17 0h1m3 0h1m20 0h1m6 0h1m2 0h1m-106 1h1m57 0h1m6 0h1m1 0h1m26 0h1m7 0h1m2 0h1m-129 1h1m36 0h1m58 0h1m13 0h1m4 0h1m6 0h1m3 0h1m-62 1h1m34 0h1m7 0h1m2 0h1m1 0h1m2 0h1m8 0h1m-66 1h1m27 0h1m19 0h1m-110 1h2m58 0h2m34 0h1m12 0h2m7 0h1m3 0h1m-121 1h1m2 0h1m53 0h1m41 0h2m11 0h1m1 0h1m4 0h1m1 0h1m-126 1h1m2 0h1m98 0h2m1 0h1m5 0h2m-111 1h1m54 0h1m9 0h1m36 0h1m3 0h2m13 0h1m-123 1h1m4 0h1m64 0h1m31 0h1m5 0h1m8 0h1m1 0h1m-119 1h1m3 0h1m73 0h1m21 0h1m1 0h1m1 0h1m1 0h1m6 0h2m1 0h1m-117 1h1m3 0h2m46 0h1m18 0h1m5 0h1m18 0h1m11 0h1m-109 1h1m1 0h2m3 0h1m45 0h1m18 0h1m12 0h1m10 0h1m3 0h1m1 0h1m3 0h1m1 0h1m6 0h1m-120 1h1m1 0h1m5 0h1m68 0h1m28 0h1m-110 1h1m1 0h2m3 0h1m2 0h3m1 0h1m66 0h1m22 0h1m3 0h1m1 0h1m-108 1h1m4 0h1m7 0h1m58 0h1m35 0h1m4 0h1m1 0h1m-114 1h2m3 0h1m1 0h1m72 0h1m17 0h1m1 0h1m3 0h1m1 0h1m-97 1h1m1 0h1m1 0h1m66 0h1m-71 1h1m69 0h1m15 0h2m-99 1h1m10 0h2m3 0h1m64 0h1m14 0h3m-92 1h1m6 0h1m59 0h1m13 0h1m4 0h3m2 0h2m4 0h1m-106 1h3m1 0h2m7 0h1m2 0h1m52 0h1m24 0h1m2 0h3m7 0h1m-107 1h1m15 0h1m1 0h1m28 0h1m56 0h1m-89 1h1m23 0h1m24 0h1m12 0h1m12 0h1m5 0h1m1 0h1m-68 1h1m1 0h2m1 0h4m5 0h3m6 0h2m1 0h1m1 0h2m3 0h1m3 0h1m13 0h1m7 0h1m5 0h1m-94 1h1m6 0h1m1 0h1m1 0h1m1 0h1m2 0h1m1 0h2m1 0h1m1 0h3m2 0h1m1 0h1m1 0h2m1 0h2m1 0h1m2 0h2m2 0h4m1 0h4m2 0h3m1 0h2m7 0h2m1 0h4m1 0h1m3 0h2m-76 1h3m1 0h2m10 0h1m7 0h1m1 0h5m2 0h1m1 0h1m7 0h1m2 0h5m2 0h2m1 0h4m1 0h1m2 0h1m2 0h1m1 0h7m-73 1h1m1 0h1m1 0h5m1 0h11m1 0h1m1 0h1m1 0h1m1 0h1m5 0h3m1 0h2m9 0h1m3 0h1m1 0h4m5 0h2m1 0h1m1 0h1m-75 1h1m2 0h1m5 0h2m2 0h2m2 0h1m1 0h1m2 0h1m26 0h2m11 0h6m1 0h1m-67 1h1m2 0h2m12 0h2m12 0h1m29 0h2m2 0h1m-67 1h1m1 0h1m1 0h2m4 0h1m2 0h1m4 0h1m4 0h2m1 0h1m2 0h1m-30 1h3m4 0h1m9 0h2m2 0h2m3 0h1m-31 1h1m4 0h1m1 0h1m6 0h1m3 0h2m-14 1h1m6 0h1m1 0h1m4 0h1m-17 1h1m11 0h1m-4 1h1m-4 1h2m2 0h1m-3 1h1"/><path stroke="#efe51c" d="M162 7h4m-11 1h8m3 0h3m-15 1h1m13 0h16m-30 1h1m23 0h1m3 0h2m-34 1h5m3 0h1m14 0h2m1 0h4m3 0h2m-38 1h3m20 0h1m1 0h1m2 0h4m5 0h1m-39 1h1m25 0h1m11 0h2m-41 1h2m30 0h1m7 0h1m-42 1h1m31 0h1m8 0h1m-43 1h1m26 0h2m13 0h1m-44 1h2m12 0h1m12 0h2m15 0h1m-46 1h2m28 0h2m1 0h1m2 0h1m8 0h1m-47 1h1m29 0h2m2 0h1m4 0h1m6 0h1m-48 1h2m45 0h1m-48 1h1m31 0h2m13 0h1m-52 1h4m34 0h1m1 0h1m10 0h1m-53 1h1m38 0h2m11 0h1m-55 1h3m34 0h1m2 0h2m13 0h1m-56 1h1m35 0h2m1 0h2m2 0h1m11 0h2m-58 1h1m9 0h1m26 0h6m14 0h1m-58 1h1m29 0h1m4 0h2m2 0h4m14 0h2m-59 1h1m35 0h2m1 0h3m3 0h1m12 0h1m-59 1h1m36 0h1m1 0h3m1 0h2m1 0h2m1 0h1m9 0h1m-61 1h1m29 0h1m8 0h5m5 0h2m9 0h1m-61 1h1m12 0h1m5 0h1m8 0h1m10 0h2m1 0h1m2 0h1m2 0h1m12 0h1m-62 1h1m4 0h1m6 0h1m15 0h1m8 0h1m3 0h2m2 0h1m3 0h1m1 0h1m9 0h1m-63 1h2m13 0h1m14 0h1m19 0h2m11 0h1m-66 1h2m40 0h1m4 0h1m17 0h1m-68 1h3m46 0h1m6 0h1m10 0h1m-70 1h3m18 0h1m31 0h1m4 0h2m1 0h1m7 0h1m-71 1h1m17 0h1m1 0h1m2 0h1m6 0h2m25 0h5m8 0h1m-73 1h3m18 0h1m3 0h1m6 0h4m22 0h1m1 0h4m2 0h1m5 0h1m-74 1h2m20 0h1m1 0h3m6 0h2m3 0h1m2 0h1m20 0h2m2 0h1m2 0h1m3 0h1m-75 1h2m14 0h1m6 0h2m1 0h1m1 0h1m5 0h3m2 0h2m21 0h1m1 0h1m2 0h2m5 0h1m-75 1h1m16 0h1m1 0h2m4 0h2m6 0h1m4 0h1m23 0h8m4 0h1m-76 1h2m7 0h1m3 0h1m6 0h1m6 0h2m8 0h2m5 0h3m14 0h4m1 0h4m5 0h1m-76 1h1m13 0h1m4 0h1m1 0h1m7 0h3m4 0h4m4 0h3m13 0h1m2 0h8m4 0h1m-77 1h1m14 0h2m1 0h1m1 0h6m5 0h3m3 0h1m1 0h1m1 0h1m5 0h1m14 0h1m2 0h6m1 0h2m1 0h2m-77 1h1m6 0h1m2 0h1m1 0h2m1 0h4m1 0h2m4 0h1m3 0h1m1 0h1m5 0h3m6 0h2m8 0h1m6 0h8m2 0h3m-63 1h1m3 0h1m4 0h2m1 0h2m1 0h2m4 0h1m1 0h3m6 0h2m1 0h2m8 0h1m5 0h12m-63 1h1m1 0h2m3 0h1m5 0h2m1 0h1m1 0h2m2 0h2m1 0h1m1 0h1m1 0h1m2 0h2m1 0h3m6 0h2m5 0h3m2 0h3m1 0h3m-67 1h1m4 0h1m5 0h1m1 0h2m2 0h1m1 0h9m1 0h1m1 0h1m3 0h5m9 0h1m6 0h1m3 0h7m-66 1h1m1 0h1m1 0h1m4 0h1m1 0h1m6 0h1m1 0h1m1 0h1m1 0h3m1 0h1m1 0h4m1 0h2m1 0h1m1 0h1m6 0h2m9 0h4m1 0h3m-85 1h1m20 0h1m2 0h1m2 0h4m1 0h1m9 0h4m3 0h4m2 0h2m1 0h3m6 0h1m3 0h3m3 0h3m1 0h4m-59 1h4m4 0h1m1 0h3m5 0h2m2 0h1m1 0h2m3 0h4m14 0h1m1 0h5m2 0h2m-56 1h1m1 0h5m5 0h1m4 0h1m2 0h2m2 0h2m4 0h1m4 0h5m6 0h1m5 0h4m-55 1h6m2 0h2m6 0h6m2 0h2m5 0h1m5 0h2m1 0h1m4 0h1m7 0h2m-61 1h2m1 0h2m4 0h4m1 0h1m5 0h1m2 0h2m2 0h1m1 0h4m2 0h1m1 0h1m4 0h1m6 0h2m-48 1h2m4 0h1m1 0h1m2 0h10m4 0h1m1 0h6m12 0h1m-50 1h1m9 0h2m3 0h3m1 0h1m1 0h3m3 0h1m1 0h1m3 0h1m1 0h4m10 0h1m-67 1h1m25 0h5m3 0h2m2 0h3m2 0h3m2 0h3m1 0h4m8 0h3m-70 1h1m7 0h1m2 0h1m3 0h1m9 0h1m2 0h5m2 0h1m1 0h2m1 0h4m2 0h13m8 0h1m-61 1h1m2 0h1m2 0h1m4 0h1m1 0h1m6 0h3m1 0h13m1 0h7m1 0h4m10 0h1m-56 1h1m7 0h3m1 0h1m1 0h1m1 0h4m3 0h3m1 0h6m2 0h10m2 0h1m3 0h3m1 0h1m-64 1h1m9 0h1m1 0h3m1 0h2m4 0h1m1 0h3m2 0h4m3 0h3m1 0h3m1 0h1m1 0h1m1 0h2m1 0h3m8 0h2m-65 1h1m6 0h3m11 0h1m3 0h9m2 0h3m1 0h2m1 0h2m3 0h2m2 0h2m3 0h1m1 0h1m4 0h1m-68 1h1m7 0h2m1 0h1m5 0h1m1 0h2m2 0h2m3 0h1m1 0h1m1 0h3m3 0h3m2 0h2m6 0h3m1 0h5m2 0h3m2 0h2m-60 1h2m1 0h1m3 0h3m3 0h1m5 0h1m2 0h2m2 0h5m1 0h1m1 0h1m1 0h2m4 0h7m1 0h1m5 0h1m3 0h1m12 0h11m-98 1h2m12 0h3m1 0h1m2 0h1m1 0h2m7 0h4m4 0h9m1 0h1m3 0h1m1 0h2m1 0h3m4 0h1m6 0h2m12 0h2m1 0h3m1 0h1m1 0h2m-90 1h1m5 0h1m1 0h7m4 0h1m3 0h6m3 0h7m4 0h2m4 0h5m3 0h1m3 0h1m4 0h1m12 0h3m1 0h4m1 0h2m-85 1h1m1 0h2m1 0h1m2 0h3m4 0h1m1 0h1m2 0h1m1 0h1m2 0h2m1 0h2m1 0h2m19 0h1m1 0h2m1 0h1m1 0h1m1 0h2m11 0h1m2 0h4m2 0h2m-84 1h2m1 0h2m1 0h1m9 0h1m3 0h2m2 0h1m3 0h2m1 0h2m1 0h1m13 0h2m4 0h3m2 0h1m1 0h2m10 0h2m1 0h7m-88 1h1m3 0h4m1 0h3m1 0h1m7 0h2m4 0h4m3 0h2m1 0h1m1 0h1m8 0h1m4 0h1m1 0h2m2 0h1m2 0h3m2 0h10m1 0h10m-90 1h1m3 0h2m2 0h2m1 0h1m16 0h2m1 0h1m4 0h1m1 0h3m8 0h1m8 0h1m2 0h1m2 0h2m3 0h2m4 0h1m1 0h1m1 0h6m1 0h4m-96 1h1m12 0h3m1 0h4m7 0h1m2 0h3m1 0h2m1 0h1m6 0h1m9 0h1m7 0h1m1 0h1m6 0h1m3 0h1m1 0h1m1 0h10m2 0h3m-89 1h1m2 0h1m2 0h2m1 0h1m3 0h4m4 0h1m1 0h3m9 0h1m4 0h1m13 0h1m1 0h1m1 0h1m1 0h1m1 0h3m11 0h1m1 0h11m-87 1h2m1 0h1m1 0h1m1 0h1m2 0h2m4 0h1m4 0h3m1 0h1m1 0h1m7 0h1m3 0h1m15 0h5m1 0h2m6 0h2m1 0h8m1 0h3m1 0h2m-93 1h1m11 0h2m2 0h3m3 0h1m7 0h1m8 0h1m4 0h1m13 0h3m2 0h2m3 0h3m4 0h1m4 0h4m3 0h3m1 0h2m-93 1h2m9 0h1m2 0h3m13 0h1m3 0h1m4 0h1m1 0h1m1 0h1m14 0h4m1 0h3m2 0h5m2 0h1m2 0h1m1 0h4m3 0h5m-95 1h1m11 0h1m4 0h1m8 0h1m2 0h2m2 0h1m1 0h1m21 0h2m3 0h5m2 0h1m4 0h2m3 0h1m2 0h1m1 0h1m1 0h1m2 0h6m-79 1h1m7 0h1m5 0h1m1 0h1m28 0h1m2 0h2m2 0h3m6 0h3m1 0h1m2 0h1m3 0h1m1 0h5m-190 1h1m1 0h2m102 0h2m11 0h1m4 0h1m16 0h1m13 0h1m2 0h4m1 0h3m5 0h9m1 0h9m-185 1h1m86 0h1m14 0h1m5 0h1m1 0h1m1 0h1m24 0h1m10 0h3m2 0h1m1 0h1m1 0h3m6 0h18m-190 1h1m5 0h2m30 0h1m73 0h1m17 0h1m27 0h6m1 0h1m1 0h2m6 0h2m2 0h2m2 0h7m-190 1h1m6 0h1m30 0h1m53 0h1m28 0h1m35 0h9m7 0h2m5 0h10m-190 1h1m6 0h1m30 0h1m16 0h4m52 0h2m6 0h2m33 0h3m1 0h1m2 0h2m2 0h1m6 0h1m3 0h1m1 0h11m-192 1h4m6 0h1m26 0h4m2 0h2m11 0h3m2 0h1m30 0h1m35 0h1m5 0h1m15 0h1m3 0h1m2 0h5m1 0h1m2 0h1m12 0h13m-193 1h2m9 0h1m24 0h3m5 0h1m1 0h1m10 0h1m5 0h2m55 0h1m5 0h1m6 0h1m9 0h5m3 0h1m2 0h2m3 0h2m1 0h3m2 0h1m7 0h1m2 0h2m6 0h6m-192 1h1m11 0h1m22 0h2m10 0h1m7 0h2m7 0h1m27 0h1m30 0h1m1 0h1m2 0h1m1 0h1m11 0h2m4 0h1m3 0h1m2 0h2m2 0h6m17 0h2m1 0h2m1 0h4m-191 1h1m11 0h3m18 0h1m20 0h1m8 0h2m41 0h1m22 0h3m6 0h3m7 0h4m5 0h2m2 0h1m1 0h2m11 0h2m1 0h1m1 0h5m2 0h1m-189 1h2m12 0h4m15 0h1m14 0h5m36 0h1m15 0h1m6 0h1m12 0h2m9 0h3m12 0h8m3 0h1m1 0h2m11 0h1m2 0h8m-187 1h1m15 0h13m2 0h2m32 0h1m46 0h2m9 0h3m7 0h2m16 0h3m1 0h12m11 0h1m1 0h6m-186 1h2m26 0h4m54 0h1m21 0h1m4 0h2m3 0h1m1 0h1m10 0h1m1 0h1m19 0h2m1 0h2m1 0h1m1 0h6m13 0h5m-184 1h1m82 0h2m25 0h1m2 0h2m1 0h2m1 0h1m10 0h1m1 0h1m20 0h4m2 0h3m1 0h5m9 0h1m2 0h3m-182 1h1m65 0h1m14 0h2m29 0h1m4 0h1m3 0h1m8 0h1m21 0h8m1 0h2m1 0h1m12 0h1m1 0h2m-181 1h1m77 0h2m1 0h1m30 0h2m15 0h1m23 0h6m2 0h7m1 0h1m8 0h1m-178 1h1m64 0h2m9 0h2m48 0h2m23 0h1m1 0h1m2 0h2m2 0h4m1 0h1m10 0h1m-177 1h2m64 0h3m40 0h1m1 0h1m1 0h1m1 0h1m8 0h3m24 0h1m1 0h1m3 0h5m1 0h3m3 0h3m1 0h3m-175 1h1m66 0h1m5 0h1m47 0h3m25 0h5m2 0h1m1 0h1m1 0h1m1 0h3m1 0h1m1 0h2m2 0h1m-173 1h2m66 0h2m1 0h1m32 0h1m2 0h1m13 0h1m27 0h3m3 0h3m1 0h10m2 0h1m-171 1h1m67 0h1m1 0h1m49 0h1m26 0h5m2 0h16m-170 1h1m51 0h1m49 0h1m2 0h1m14 0h1m26 0h1m4 0h2m1 0h4m1 0h8m1 0h1m-170 1h1m49 0h1m51 0h1m7 0h1m9 0h2m24 0h1m3 0h9m1 0h3m1 0h5m-168 1h1m110 0h1m8 0h1m24 0h1m4 0h13m1 0h1m1 0h2m-168 1h1m115 0h1m3 0h2m22 0h2m2 0h1m5 0h2m1 0h1m3 0h6m-167 1h2m32 0h1m72 0h1m12 0h1m1 0h1m20 0h1m4 0h2m1 0h1m6 0h1m2 0h5m-165 1h1m120 0h1m18 0h4m2 0h6m1 0h1m1 0h1m2 0h1m3 0h3m-165 1h1m116 0h1m1 0h1m1 0h1m12 0h7m6 0h1m1 0h10m1 0h1m2 0h1m-163 1h1m119 0h2m11 0h1m8 0h2m4 0h2m1 0h2m1 0h2m1 0h2m2 0h2m-163 1h1m120 0h1m10 0h1m10 0h1m6 0h1m3 0h3m1 0h4m-162 1h1m120 0h2m9 0h1m11 0h1m5 0h4m1 0h1m1 0h2m1 0h1m-160 1h1m121 0h1m7 0h2m14 0h1m5 0h3m1 0h1m2 0h1m-159 1h1m95 0h1m24 0h2m6 0h1m16 0h1m10 0h1m-158 1h1m93 0h1m10 0h1m17 0h7m22 0h1m1 0h1m1 0h1m-156 1h1m149 0h1m2 0h2m-155 1h1m147 0h1m2 0h4m-154 1h1m77 0h1m72 0h2m-152 1h1m76 0h1m61 0h1m9 0h2m-151 1h1m87 0h1m29 0h1m27 0h1m1 0h2m-149 1h2m99 0h2m32 0h1m11 0h1m-147 1h1m122 0h2m3 0h1m3 0h1m2 0h1m9 0h1m-146 1h1m71 0h1m54 0h1m4 0h1m10 0h2m-144 1h1m140 0h2m-142 1h5m122 0h1m1 0h1m1 0h1m1 0h1m3 0h1m1 0h1m-138 1h1m2 0h2m123 0h2m2 0h1m3 0h1m-136 1h1m2 0h2m86 0h1m23 0h5m13 0h2m-135 1h1m2 0h1m63 0h1m47 0h4m12 0h2m-133 1h1m3 0h2m108 0h1m1 0h1m1 0h1m12 0h1m-132 1h1m4 0h2m106 0h1m6 0h2m8 0h1m-131 1h1m5 0h2m110 0h1m4 0h1m5 0h1m-130 1h1m6 0h1m6 0h1m49 0h1m41 0h1m3 0h1m1 0h1m12 0h1m2 0h1m-129 1h1m6 0h2m52 0h1m49 0h1m3 0h1m8 0h2m1 0h1m-128 1h1m6 0h3m102 0h1m1 0h4m7 0h2m-127 1h1m7 0h2m96 0h2m1 0h1m1 0h6m3 0h1m3 0h1m-125 1h1m1 0h1m5 0h2m70 0h1m25 0h1m1 0h1m1 0h1m1 0h1m1 0h2m2 0h1m3 0h2m-124 1h1m1 0h1m1 0h3m2 0h1m68 0h1m21 0h2m3 0h1m1 0h4m2 0h6m2 0h2m-125 1h3m1 0h1m1 0h1m2 0h1m1 0h1m96 0h2m2 0h1m1 0h2m1 0h3m1 0h1m1 0h1m-127 1h3m4 0h5m2 0h2m44 0h1m46 0h1m1 0h1m1 0h15m-126 1h1m4 0h1m4 0h1m3 0h1m2 0h1m89 0h2m1 0h1m2 0h12m-125 1h1m10 0h6m88 0h4m4 0h4m1 0h1m1 0h3m-123 1h1m4 0h1m6 0h1m1 0h2m95 0h1m1 0h9m-122 1h2m5 0h1m2 0h6m92 0h4m2 0h6m-119 1h1m4 0h3m4 0h1m1 0h2m71 0h1m20 0h1m1 0h1m3 0h4m-117 1h2m3 0h1m6 0h3m7 0h1m86 0h1m4 0h1m-114 1h1m5 0h4m1 0h6m4 0h1m77 0h1m3 0h1m2 0h1m3 0h3m-112 1h1m6 0h7m1 0h2m84 0h1m3 0h1m3 0h1m-109 1h1m1 0h1m3 0h4m1 0h6m1 0h1m1 0h1m57 0h1m15 0h7m1 0h3m1 0h2m-107 1h14m3 0h2m23 0h1m49 0h4m4 0h6m-106 1h1m1 0h13m3 0h1m14 0h1m2 0h1m4 0h1m1 0h1m6 0h1m1 0h2m5 0h1m36 0h1m3 0h2m-102 1h1m1 0h2m3 0h3m2 0h1m1 0h1m4 0h1m1 0h1m2 0h1m5 0h2m12 0h1m2 0h2m4 0h1m4 0h1m4 0h1m5 0h2m11 0h1m1 0h1m4 0h11m-100 1h10m4 0h1m2 0h6m1 0h1m3 0h5m3 0h1m6 0h1m3 0h2m2 0h1m3 0h2m5 0h2m2 0h1m4 0h1m7 0h1m9 0h1m-90 1h1m2 0h8m1 0h2m1 0h1m19 0h1m3 0h1m7 0h1m6 0h1m1 0h1m2 0h2m1 0h1m1 0h3m6 0h3m1 0h1m4 0h1m1 0h3m1 0h1m-89 1h1m2 0h4m4 0h1m1 0h2m1 0h1m3 0h2m20 0h1m2 0h11m1 0h1m2 0h11m6 0h1m1 0h10m-90 1h4m2 0h3m3 0h1m6 0h4m23 0h1m9 0h6m10 0h1m6 0h2m-81 1h3m3 0h4m3 0h1m1 0h1m3 0h1m17 0h1m4 0h1m1 0h3m26 0h3m3 0h1m-79 1h2m3 0h5m4 0h3m2 0h1m1 0h1m2 0h1m1 0h1m7 0h3m5 0h2m30 0h5m-79 1h2m3 0h1m2 0h3m2 0h1m1 0h1m3 0h2m3 0h1m5 0h1m1 0h1m3 0h7m-38 1h6m1 0h1m1 0h1m3 0h1m2 0h1m9 0h7m-29 1h2m4 0h1m1 0h6m2 0h6m-21 1h1m5 0h4m1 0h2m1 0h2m-15 1h3m8 0h3m-11 1h3m4 0h2m-8 1h6"/></g><rect x="0" y="0" width="206" height="162" fill="url(#gr)" clip-path="url(#mk)"/></g><text x="1183.0" y="1915.5" font-size="36.67" fill="#4d4d4d" text-anchor="middle">20°E</text><text x="1410.9" y="1915.5" font-size="36.67" fill="#4d4d4d" text-anchor="middle">25°E</text><text x="1638.8" y="1915.5" font-size="36.67" fill="#4d4d4d" text-anchor="middle">30°E</text><path d="M1183.0 1868.6v11.5M1410.9 1868.6v11.5M1638.8 1868.6v11.5" stroke="#333" stroke-width="4.45" fill="none"/><text x="1876.3" y="920" font-size="45.83" fill="#000">psi</text><defs><linearGradient id="vg" x1="0" y1="0" x2="0" y2="1"><stop offset="0.00" stop-color="#fde725"/><stop offset="0.05" stop-color="#dfe318"/><stop offset="0.10" stop-color="#bddf26"/><stop offset="0.15" stop-color="#9bd93c"/><stop offset="0.20" stop-color="#7ad151"/><stop offset="0.25" stop-color="#5ec962"/><stop offset="0.30" stop-color="#44bf70"/><stop offset="0.35" stop-color="#2fb47c"/><stop offset="0.40" stop-color="#22a884"/><stop offset="0.45" stop-color="#1e9c89"/><stop offset="0.50" stop-color="#21918c"/><stop offset="0.55" stop-color="#25848e"/><stop offset="0.60" stop-color="#2a788e"/><stop offset="0.65" stop-color="#2f6c8e"/><stop offset="0.70" stop-color="#355f8d"/><stop offset="0.75" stop-color="#3b528b"/><stop offset="0.80" stop-color="#414487"/><stop offset="0.85" stop-color="#463480"/><stop offset="0.90" stop-color="#482475"/><stop offset="0.95" stop-color="#471365"/><stop offset="1.00" stop-color="#440154"/></linearGradient></defs><rect x="1878" y="947.3" width="72" height="360" fill="url(#vg)"/><text x="1971.8" y="1321.3" font-size="36.67" fill="#000">0.00</text><text x="1971.8" y="1231.3" font-size="36.67" fill="#000">0.25</text><text x="1971.8" y="1141.3" font-size="36.67" fill="#000">0.50</text><text x="1971.8" y="1051.3" font-size="36.67" fill="#000">0.75</text><text x="1971.8" y="961.3" font-size="36.67" fill="#000">1.00</text><path d="M1878 1307.3h14.4M1950 1307.3h-14.4M1878 1217.3h14.4M1950 1217.3h-14.4M1878 1127.3h14.4M1950 1127.3h-14.4M1878 1037.3h14.4M1950 1037.3h-14.4M1878 947.3h14.4M1950 947.3h-14.4" stroke="#fff" stroke-width="1.6" fill="none"/></svg></body></html>
